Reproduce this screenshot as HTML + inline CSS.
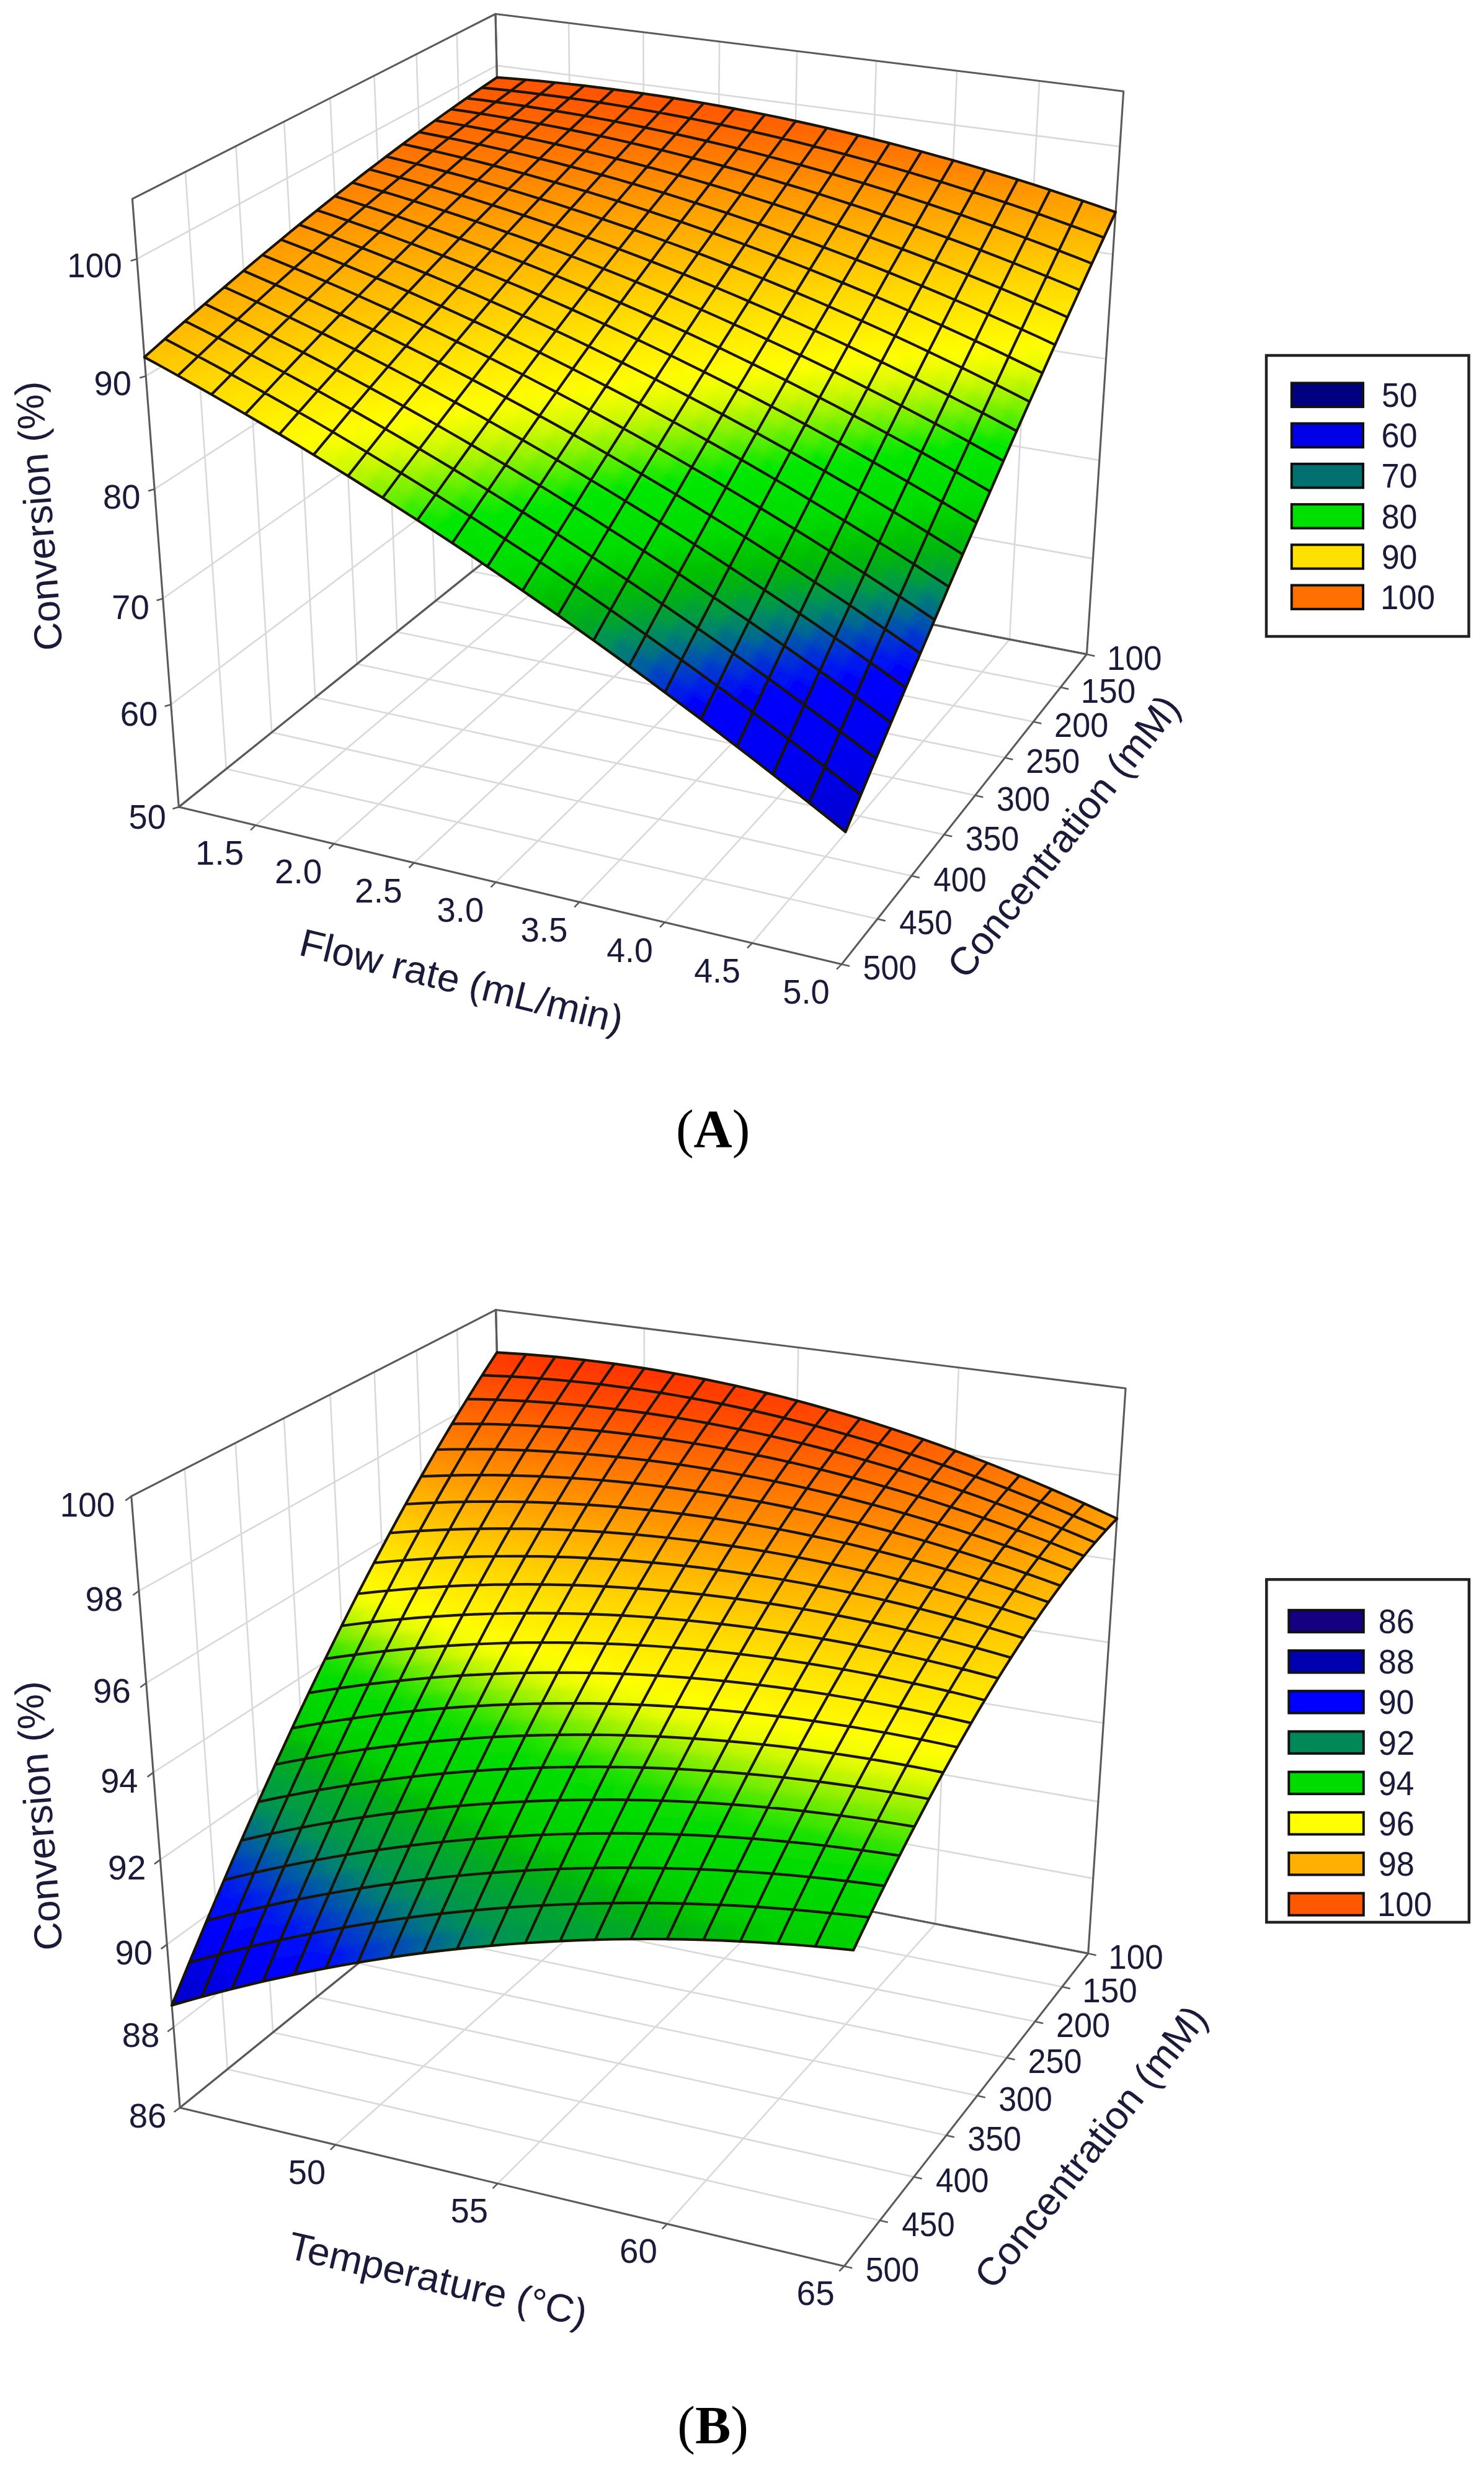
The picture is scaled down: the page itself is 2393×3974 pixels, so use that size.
<!DOCTYPE html>
<html><head><meta charset="utf-8"><title>Figure</title>
<style>html,body{margin:0;padding:0;background:#fff}svg{display:block}text{font-family:'Liberation Sans', Arial, sans-serif}</style></head>
<body><svg width="2393" height="3974" viewBox="0 0 2393 3974">
<rect width="2393" height="3974" fill="#fff"/>
<g stroke-linecap="round"><line x1="928.4" y1="896.2" x2="412.1" y2="1330.4" stroke="#d9d9d9" stroke-width="2.6"/><line x1="1039.8" y1="917.6" x2="538.5" y2="1360.3" stroke="#d9d9d9" stroke-width="2.6"/><line x1="1153.1" y1="939.5" x2="667.6" y2="1391" stroke="#d9d9d9" stroke-width="2.6"/><line x1="1268.6" y1="961.7" x2="799.5" y2="1422.3" stroke="#d9d9d9" stroke-width="2.6"/><line x1="1386.2" y1="984.3" x2="934.3" y2="1454.3" stroke="#d9d9d9" stroke-width="2.6"/><line x1="1506" y1="1007.3" x2="1072.1" y2="1486.9" stroke="#d9d9d9" stroke-width="2.6"/><line x1="1628" y1="1030.8" x2="1213" y2="1520.4" stroke="#d9d9d9" stroke-width="2.6"/><line x1="761.7" y1="921.2" x2="1710.2" y2="1108" stroke="#d9d9d9" stroke-width="2.6"/><line x1="702.1" y1="968.9" x2="1666.3" y2="1163.6" stroke="#d9d9d9" stroke-width="2.6"/><line x1="640.2" y1="1018.7" x2="1620.4" y2="1221.6" stroke="#d9d9d9" stroke-width="2.6"/><line x1="575.6" y1="1070.5" x2="1572.4" y2="1282.2" stroke="#d9d9d9" stroke-width="2.6"/><line x1="508.3" y1="1124.5" x2="1522.3" y2="1345.6" stroke="#d9d9d9" stroke-width="2.6"/><line x1="438.2" y1="1180.8" x2="1469.8" y2="1412" stroke="#d9d9d9" stroke-width="2.6"/><line x1="364.9" y1="1239.6" x2="1414.8" y2="1481.6" stroke="#d9d9d9" stroke-width="2.6"/><line x1="761.7" y1="921.2" x2="736.6" y2="54.3" stroke="#d9d9d9" stroke-width="2.6"/><line x1="702.1" y1="968.9" x2="671.5" y2="87.4" stroke="#d9d9d9" stroke-width="2.6"/><line x1="640.2" y1="1018.7" x2="603.5" y2="122" stroke="#d9d9d9" stroke-width="2.6"/><line x1="575.6" y1="1070.5" x2="532.5" y2="158.1" stroke="#d9d9d9" stroke-width="2.6"/><line x1="508.3" y1="1124.5" x2="458.2" y2="195.9" stroke="#d9d9d9" stroke-width="2.6"/><line x1="438.2" y1="1180.8" x2="380.5" y2="235.5" stroke="#d9d9d9" stroke-width="2.6"/><line x1="364.9" y1="1239.6" x2="298.9" y2="277" stroke="#d9d9d9" stroke-width="2.6"/><line x1="815.6" y1="729.7" x2="275.7" y2="1135.7" stroke="#d9d9d9" stroke-width="2.6"/><line x1="812.1" y1="580.2" x2="262.6" y2="965" stroke="#d9d9d9" stroke-width="2.6"/><line x1="808.5" y1="426.4" x2="249.1" y2="788.6" stroke="#d9d9d9" stroke-width="2.6"/><line x1="804.7" y1="268.3" x2="235.2" y2="606.2" stroke="#d9d9d9" stroke-width="2.6"/><line x1="800.9" y1="105.6" x2="220.8" y2="417.4" stroke="#d9d9d9" stroke-width="2.6"/><line x1="928.4" y1="896.2" x2="917" y2="37" stroke="#d9d9d9" stroke-width="2.6"/><line x1="1039.8" y1="917.6" x2="1037.4" y2="51.9" stroke="#d9d9d9" stroke-width="2.6"/><line x1="1153.1" y1="939.5" x2="1160.1" y2="67" stroke="#d9d9d9" stroke-width="2.6"/><line x1="1268.6" y1="961.7" x2="1285.2" y2="82.4" stroke="#d9d9d9" stroke-width="2.6"/><line x1="1386.2" y1="984.3" x2="1412.9" y2="98.1" stroke="#d9d9d9" stroke-width="2.6"/><line x1="1506" y1="1007.3" x2="1543.1" y2="114.1" stroke="#d9d9d9" stroke-width="2.6"/><line x1="1628" y1="1030.8" x2="1676" y2="130.5" stroke="#d9d9d9" stroke-width="2.6"/><line x1="815.6" y1="729.7" x2="1762.4" y2="900.6" stroke="#d9d9d9" stroke-width="2.6"/><line x1="812.1" y1="580.2" x2="1772.8" y2="742" stroke="#d9d9d9" stroke-width="2.6"/><line x1="808.5" y1="426.4" x2="1783.5" y2="578.5" stroke="#d9d9d9" stroke-width="2.6"/><line x1="804.7" y1="268.3" x2="1794.5" y2="410" stroke="#d9d9d9" stroke-width="2.6"/><line x1="800.9" y1="105.6" x2="1805.9" y2="236.2" stroke="#d9d9d9" stroke-width="2.6"/></g>
<polygon points="819,875.2 1752.4,1054.7 1357.1,1554.6 288.3,1301" fill="none" stroke="#5a5a5a" stroke-width="3.1" stroke-linejoin="round"/>
<polygon points="819,875.2 288.3,1301 213.4,320.6 799,22.5" fill="none" stroke="#5a5a5a" stroke-width="3.1" stroke-linejoin="round"/>
<polygon points="819,875.2 1752.4,1054.7 1811.7,147.2 799,22.5" fill="none" stroke="#5a5a5a" stroke-width="3.1" stroke-linejoin="round"/>
<line x1="288.3" y1="1301" x2="278.3" y2="1304" stroke="#5a5a5a" stroke-width="2.6"/><line x1="275.7" y1="1135.7" x2="265.7" y2="1138.7" stroke="#5a5a5a" stroke-width="2.6"/><line x1="262.6" y1="965" x2="252.6" y2="968" stroke="#5a5a5a" stroke-width="2.6"/><line x1="249.1" y1="788.6" x2="239.1" y2="791.6" stroke="#5a5a5a" stroke-width="2.6"/><line x1="235.2" y1="606.2" x2="225.2" y2="609.2" stroke="#5a5a5a" stroke-width="2.6"/><line x1="220.8" y1="417.4" x2="210.8" y2="420.4" stroke="#5a5a5a" stroke-width="2.6"/><line x1="412.1" y1="1330.4" x2="404.1" y2="1338.4" stroke="#5a5a5a" stroke-width="2.6"/><line x1="538.5" y1="1360.3" x2="530.5" y2="1368.3" stroke="#5a5a5a" stroke-width="2.6"/><line x1="667.6" y1="1391" x2="659.6" y2="1399" stroke="#5a5a5a" stroke-width="2.6"/><line x1="799.5" y1="1422.3" x2="791.5" y2="1430.3" stroke="#5a5a5a" stroke-width="2.6"/><line x1="934.3" y1="1454.3" x2="926.3" y2="1462.3" stroke="#5a5a5a" stroke-width="2.6"/><line x1="1072.1" y1="1486.9" x2="1064.1" y2="1494.9" stroke="#5a5a5a" stroke-width="2.6"/><line x1="1213" y1="1520.4" x2="1205" y2="1528.4" stroke="#5a5a5a" stroke-width="2.6"/><line x1="1357.1" y1="1554.6" x2="1349.1" y2="1562.6" stroke="#5a5a5a" stroke-width="2.6"/><line x1="1752.4" y1="1054.7" x2="1765.4" y2="1057.7" stroke="#5a5a5a" stroke-width="2.6"/><line x1="1710.2" y1="1108" x2="1723.2" y2="1111" stroke="#5a5a5a" stroke-width="2.6"/><line x1="1666.3" y1="1163.6" x2="1679.3" y2="1166.6" stroke="#5a5a5a" stroke-width="2.6"/><line x1="1620.4" y1="1221.6" x2="1633.4" y2="1224.6" stroke="#5a5a5a" stroke-width="2.6"/><line x1="1572.4" y1="1282.2" x2="1585.4" y2="1285.2" stroke="#5a5a5a" stroke-width="2.6"/><line x1="1522.3" y1="1345.6" x2="1535.3" y2="1348.6" stroke="#5a5a5a" stroke-width="2.6"/><line x1="1469.8" y1="1412" x2="1482.8" y2="1415" stroke="#5a5a5a" stroke-width="2.6"/><line x1="1414.8" y1="1481.6" x2="1427.8" y2="1484.6" stroke="#5a5a5a" stroke-width="2.6"/><line x1="1357.1" y1="1554.6" x2="1370.1" y2="1557.6" stroke="#5a5a5a" stroke-width="2.6"/>
<defs><clipPath id="ca"><polygon points="801.4,124.8 824.6,126.6 847.9,128.5 871.3,130.7 894.7,133 918.3,135.5 942,138.2 965.8,141.1 989.6,144.1 1013.6,147.3 1037.6,150.8 1061.8,154.3 1086,158.1 1110.3,162.1 1134.8,166.2 1159.3,170.6 1183.9,175.1 1208.5,179.8 1233.3,184.7 1258.2,189.8 1283.1,195.1 1308.1,200.6 1333.2,206.2 1358.4,212.1 1383.7,218.1 1409.1,224.4 1434.5,230.8 1460.1,237.5 1485.7,244.3 1511.4,251.4 1537.1,258.6 1563,266 1588.9,273.7 1614.9,281.5 1641,289.5 1667.1,297.8 1693.3,306.2 1719.6,314.9 1746,323.7 1772.4,332.8 1798.9,342 1789.5,362.4 1780,383 1770.4,403.9 1760.7,424.9 1751,446.2 1741.2,467.7 1731.4,489.4 1721.4,511.3 1711.4,533.5 1701.3,555.8 1691.2,578.4 1681,601.3 1670.7,624.3 1660.3,647.6 1649.9,671.1 1639.4,694.9 1628.8,718.9 1618.1,743.1 1607.4,767.6 1596.6,792.4 1585.7,817.3 1574.7,842.5 1563.7,868 1552.5,893.7 1541.3,919.7 1530,945.9 1518.7,972.4 1507.2,999.2 1495.7,1026.2 1484.1,1053.5 1472.4,1081 1460.6,1108.8 1448.7,1136.9 1436.8,1165.2 1424.8,1193.8 1412.6,1222.7 1400.4,1251.9 1388.2,1281.4 1375.8,1311.1 1363.3,1341.1 1334,1317.7 1304.8,1294.4 1275.6,1271.4 1246.4,1248.6 1217.3,1225.9 1188.2,1203.6 1159.1,1181.4 1130.1,1159.4 1101.2,1137.7 1072.2,1116.2 1043.4,1094.9 1014.5,1073.8 985.8,1053 957.1,1032.4 928.4,1012 899.8,991.8 871.2,971.9 842.7,952.2 814.3,932.7 785.9,913.4 757.6,894.3 729.3,875.5 701.1,856.9 673,838.6 644.9,820.4 617,802.5 589,784.9 561.2,767.4 533.4,750.2 505.7,733.2 478.1,716.4 450.5,699.9 423,683.6 395.6,667.5 368.3,651.7 341,636 313.9,620.6 286.8,605.5 259.8,590.5 232.9,575.8 249.5,561 265.9,546.4 282.2,531.9 298.4,517.7 314.5,503.7 330.4,489.9 346.2,476.2 361.8,462.8 377.3,449.6 392.7,436.5 408,423.7 423.1,411 438.2,398.6 453.1,386.3 467.8,374.1 482.5,362.2 497,350.5 511.5,338.9 525.8,327.5 540,316.2 554.1,305.2 568,294.3 581.9,283.5 595.6,273 609.3,262.6 622.8,252.3 636.2,242.2 649.5,232.3 662.7,222.5 675.8,212.9 688.8,203.4 701.7,194.1 714.5,184.9 727.2,175.9 739.8,167 752.3,158.3 764.7,149.7 777,141.3 789.2,132.9"/></clipPath><filter id="fa" x="-5%" y="-5%" width="110%" height="110%"><feGaussianBlur stdDeviation="7"/><feComponentTransfer><feFuncA type="linear" slope="60" intercept="0"/></feComponentTransfer></filter></defs>
<g clip-path="url(#ca)"><g filter="url(#fa)" stroke-width="1.2" stroke-linejoin="round"><path d="M801.4 124.8L824.6 126.6L812.5 135L789.2 132.9z" fill="#ff5700" stroke="#ff5700"/><path d="M824.6 126.6L847.9 128.5L835.9 137.3L812.5 135z" fill="#ff5600" stroke="#ff5600"/><path d="M847.9 128.5L871.3 130.7L859.4 139.7L835.9 137.3z" fill="#ff5500" stroke="#ff5500"/><path d="M871.3 130.7L894.7 133L882.9 142.3L859.4 139.7z" fill="#ff5400" stroke="#ff5400"/><path d="M894.7 133L918.3 135.5L906.6 145.1L882.9 142.3z" fill="#ff5400" stroke="#ff5400"/><path d="M918.3 135.5L942 138.2L930.3 148.1L906.6 145.1z" fill="#ff5400" stroke="#ff5400"/><path d="M942 138.2L965.8 141.1L954.2 151.2L930.3 148.1z" fill="#ff5300" stroke="#ff5300"/><path d="M965.8 141.1L989.6 144.1L978.1 154.6L954.2 151.2z" fill="#ff5300" stroke="#ff5300"/><path d="M989.6 144.1L1013.6 147.3L1002.1 158.1L978.1 154.6z" fill="#ff5300" stroke="#ff5300"/><path d="M1013.6 147.3L1037.6 150.8L1026.3 161.8L1002.1 158.1z" fill="#ff5400" stroke="#ff5400"/><path d="M1037.6 150.8L1061.8 154.3L1050.5 165.7L1026.3 161.8z" fill="#ff5400" stroke="#ff5400"/><path d="M1061.8 154.3L1086 158.1L1074.8 169.7L1050.5 165.7z" fill="#ff5500" stroke="#ff5500"/><path d="M1086 158.1L1110.3 162.1L1099.2 174L1074.8 169.7z" fill="#ff5600" stroke="#ff5600"/><path d="M1110.3 162.1L1134.8 166.2L1123.7 178.4L1099.2 174z" fill="#ff5700" stroke="#ff5700"/><path d="M1134.8 166.2L1159.3 170.6L1148.2 183.1L1123.7 178.4z" fill="#ff5800" stroke="#ff5800"/><path d="M1159.3 170.6L1183.9 175.1L1172.9 187.9L1148.2 183.1z" fill="#ff5900" stroke="#ff5900"/><path d="M1183.9 175.1L1208.5 179.8L1197.6 192.9L1172.9 187.9z" fill="#ff5b00" stroke="#ff5b00"/><path d="M1208.5 179.8L1233.3 184.7L1222.5 198.1L1197.6 192.9z" fill="#ff5d00" stroke="#ff5d00"/><path d="M1233.3 184.7L1258.2 189.8L1247.4 203.5L1222.5 198.1z" fill="#ff5f00" stroke="#ff5f00"/><path d="M1258.2 189.8L1283.1 195.1L1272.4 209.1L1247.4 203.5z" fill="#ff6100" stroke="#ff6100"/><path d="M1283.1 195.1L1308.1 200.6L1297.5 214.9L1272.4 209.1z" fill="#ff6300" stroke="#ff6300"/><path d="M1308.1 200.6L1333.2 206.2L1322.7 220.9L1297.5 214.9z" fill="#ff6600" stroke="#ff6600"/><path d="M1333.2 206.2L1358.4 212.1L1348 227L1322.7 220.9z" fill="#ff6800" stroke="#ff6800"/><path d="M1358.4 212.1L1383.7 218.1L1373.3 233.4L1348 227z" fill="#ff6b00" stroke="#ff6b00"/><path d="M1383.7 218.1L1409.1 224.4L1398.7 240L1373.3 233.4z" fill="#ff6e00" stroke="#ff6e00"/><path d="M1409.1 224.4L1434.5 230.8L1424.2 246.7L1398.7 240z" fill="#ff7100" stroke="#ff7100"/><path d="M1434.5 230.8L1460.1 237.5L1449.8 253.7L1424.2 246.7z" fill="#ff7400" stroke="#ff7400"/><path d="M1460.1 237.5L1485.7 244.3L1475.5 260.9L1449.8 253.7z" fill="#ff7700" stroke="#ff7700"/><path d="M1485.7 244.3L1511.4 251.4L1501.3 268.2L1475.5 260.9z" fill="#ff7b00" stroke="#ff7b00"/><path d="M1511.4 251.4L1537.1 258.6L1527.1 275.8L1501.3 268.2z" fill="#ff7e00" stroke="#ff7e00"/><path d="M1537.1 258.6L1563 266L1553 283.5L1527.1 275.8z" fill="#ff8200" stroke="#ff8200"/><path d="M1563 266L1588.9 273.7L1579 291.5L1553 283.5z" fill="#ff8600" stroke="#ff8600"/><path d="M1588.9 273.7L1614.9 281.5L1605 299.6L1579 291.5z" fill="#ff8b00" stroke="#ff8b00"/><path d="M1614.9 281.5L1641 289.5L1631.2 308L1605 299.6z" fill="#ff8f00" stroke="#ff8f00"/><path d="M1641 289.5L1667.1 297.8L1657.4 316.6L1631.2 308z" fill="#ff9300" stroke="#ff9300"/><path d="M1667.1 297.8L1693.3 306.2L1683.6 325.3L1657.4 316.6z" fill="#ff9800" stroke="#ff9800"/><path d="M1693.3 306.2L1719.6 314.9L1710 334.3L1683.6 325.3z" fill="#ff9c00" stroke="#ff9c00"/><path d="M1719.6 314.9L1746 323.7L1736.4 343.5L1710 334.3z" fill="#ffa000" stroke="#ffa000"/><path d="M1746 323.7L1772.4 332.8L1762.9 352.8L1736.4 343.5z" fill="#ffa400" stroke="#ffa400"/><path d="M1772.4 332.8L1798.9 342L1789.5 362.4L1762.9 352.8z" fill="#ffa800" stroke="#ffa800"/><path d="M789.2 132.9L812.5 135L800.4 143.6L777 141.3z" fill="#ff5900" stroke="#ff5900"/><path d="M812.5 135L835.9 137.3L823.8 146.2L800.4 143.6z" fill="#ff5800" stroke="#ff5800"/><path d="M835.9 137.3L859.4 139.7L847.4 148.9L823.8 146.2z" fill="#ff5700" stroke="#ff5700"/><path d="M859.4 139.7L882.9 142.3L871 151.8L847.4 148.9z" fill="#ff5700" stroke="#ff5700"/><path d="M882.9 142.3L906.6 145.1L894.7 154.8L871 151.8z" fill="#ff5700" stroke="#ff5700"/><path d="M906.6 145.1L930.3 148.1L918.6 158.1L894.7 154.8z" fill="#ff5700" stroke="#ff5700"/><path d="M930.3 148.1L954.2 151.2L942.5 161.5L918.6 158.1z" fill="#ff5700" stroke="#ff5700"/><path d="M954.2 151.2L978.1 154.6L966.5 165.2L942.5 161.5z" fill="#ff5700" stroke="#ff5700"/><path d="M978.1 154.6L1002.1 158.1L990.6 169L966.5 165.2z" fill="#ff5700" stroke="#ff5700"/><path d="M1002.1 158.1L1026.3 161.8L1014.8 173L990.6 169z" fill="#ff5800" stroke="#ff5800"/><path d="M1026.3 161.8L1050.5 165.7L1039.1 177.2L1014.8 173z" fill="#ff5900" stroke="#ff5900"/><path d="M1050.5 165.7L1074.8 169.7L1063.4 181.5L1039.1 177.2z" fill="#ff5a00" stroke="#ff5a00"/><path d="M1074.8 169.7L1099.2 174L1087.9 186.1L1063.4 181.5z" fill="#ff5b00" stroke="#ff5b00"/><path d="M1099.2 174L1123.7 178.4L1112.5 190.8L1087.9 186.1z" fill="#ff5c00" stroke="#ff5c00"/><path d="M1123.7 178.4L1148.2 183.1L1137.1 195.8L1112.5 190.8z" fill="#ff5e00" stroke="#ff5e00"/><path d="M1148.2 183.1L1172.9 187.9L1161.8 200.9L1137.1 195.8z" fill="#ff5f00" stroke="#ff5f00"/><path d="M1172.9 187.9L1197.6 192.9L1186.7 206.2L1161.8 200.9z" fill="#ff6100" stroke="#ff6100"/><path d="M1197.6 192.9L1222.5 198.1L1211.6 211.7L1186.7 206.2z" fill="#ff6300" stroke="#ff6300"/><path d="M1222.5 198.1L1247.4 203.5L1236.6 217.4L1211.6 211.7z" fill="#ff6600" stroke="#ff6600"/><path d="M1247.4 203.5L1272.4 209.1L1261.6 223.3L1236.6 217.4z" fill="#ff6800" stroke="#ff6800"/><path d="M1272.4 209.1L1297.5 214.9L1286.8 229.4L1261.6 223.3z" fill="#ff6a00" stroke="#ff6a00"/><path d="M1297.5 214.9L1322.7 220.9L1312.1 235.7L1286.8 229.4z" fill="#ff6d00" stroke="#ff6d00"/><path d="M1322.7 220.9L1348 227L1337.4 242.2L1312.1 235.7z" fill="#ff7000" stroke="#ff7000"/><path d="M1348 227L1373.3 233.4L1362.8 248.9L1337.4 242.2z" fill="#ff7300" stroke="#ff7300"/><path d="M1373.3 233.4L1398.7 240L1388.3 255.7L1362.8 248.9z" fill="#ff7600" stroke="#ff7600"/><path d="M1398.7 240L1424.2 246.7L1413.9 262.8L1388.3 255.7z" fill="#ff7900" stroke="#ff7900"/><path d="M1424.2 246.7L1449.8 253.7L1439.5 270.1L1413.9 262.8z" fill="#ff7c00" stroke="#ff7c00"/><path d="M1449.8 253.7L1475.5 260.9L1465.3 277.6L1439.5 270.1z" fill="#ff8000" stroke="#ff8000"/><path d="M1475.5 260.9L1501.3 268.2L1491.1 285.2L1465.3 277.6z" fill="#ff8400" stroke="#ff8400"/><path d="M1501.3 268.2L1527.1 275.8L1517 293.1L1491.1 285.2z" fill="#ff8800" stroke="#ff8800"/><path d="M1527.1 275.8L1553 283.5L1542.9 301.2L1517 293.1z" fill="#ff8c00" stroke="#ff8c00"/><path d="M1553 283.5L1579 291.5L1569 309.5L1542.9 301.2z" fill="#ff9000" stroke="#ff9000"/><path d="M1579 291.5L1605 299.6L1595.1 318L1569 309.5z" fill="#ff9500" stroke="#ff9500"/><path d="M1605 299.6L1631.2 308L1621.3 326.6L1595.1 318z" fill="#ff9900" stroke="#ff9900"/><path d="M1631.2 308L1657.4 316.6L1647.6 335.5L1621.3 326.6z" fill="#ff9d00" stroke="#ff9d00"/><path d="M1657.4 316.6L1683.6 325.3L1673.9 344.6L1647.6 335.5z" fill="#ffa000" stroke="#ffa000"/><path d="M1683.6 325.3L1710 334.3L1700.3 353.9L1673.9 344.6z" fill="#ffa400" stroke="#ffa400"/><path d="M1710 334.3L1736.4 343.5L1726.8 363.4L1700.3 353.9z" fill="#ffa800" stroke="#ffa800"/><path d="M1736.4 343.5L1762.9 352.8L1753.3 373.1L1726.8 363.4z" fill="#ffad00" stroke="#ffad00"/><path d="M1762.9 352.8L1789.5 362.4L1780 383L1753.3 373.1z" fill="#ffb100" stroke="#ffb100"/><path d="M777 141.3L800.4 143.6L788.2 152.4L764.7 149.7z" fill="#ff5b00" stroke="#ff5b00"/><path d="M800.4 143.6L823.8 146.2L811.7 155.2L788.2 152.4z" fill="#ff5a00" stroke="#ff5a00"/><path d="M823.8 146.2L847.4 148.9L835.3 158.2L811.7 155.2z" fill="#ff5a00" stroke="#ff5a00"/><path d="M847.4 148.9L871 151.8L859 161.4L835.3 158.2z" fill="#ff5a00" stroke="#ff5a00"/><path d="M871 151.8L894.7 154.8L882.8 164.7L859 161.4z" fill="#ff5a00" stroke="#ff5a00"/><path d="M894.7 154.8L918.6 158.1L906.7 168.3L882.8 164.7z" fill="#ff5a00" stroke="#ff5a00"/><path d="M918.6 158.1L942.5 161.5L930.7 172L906.7 168.3z" fill="#ff5a00" stroke="#ff5a00"/><path d="M942.5 161.5L966.5 165.2L954.8 175.9L930.7 172z" fill="#ff5b00" stroke="#ff5b00"/><path d="M966.5 165.2L990.6 169L978.9 180L954.8 175.9z" fill="#ff5b00" stroke="#ff5b00"/><path d="M990.6 169L1014.8 173L1003.2 184.3L978.9 180z" fill="#ff5c00" stroke="#ff5c00"/><path d="M1014.8 173L1039.1 177.2L1027.6 188.8L1003.2 184.3z" fill="#ff5d00" stroke="#ff5d00"/><path d="M1039.1 177.2L1063.4 181.5L1052 193.5L1027.6 188.8z" fill="#ff5f00" stroke="#ff5f00"/><path d="M1063.4 181.5L1087.9 186.1L1076.6 198.3L1052 193.5z" fill="#ff6000" stroke="#ff6000"/><path d="M1087.9 186.1L1112.5 190.8L1101.2 203.4L1076.6 198.3z" fill="#ff6200" stroke="#ff6200"/><path d="M1112.5 190.8L1137.1 195.8L1125.9 208.6L1101.2 203.4z" fill="#ff6300" stroke="#ff6300"/><path d="M1137.1 195.8L1161.8 200.9L1150.7 214L1125.9 208.6z" fill="#ff6500" stroke="#ff6500"/><path d="M1161.8 200.9L1186.7 206.2L1175.6 219.7L1150.7 214z" fill="#ff6700" stroke="#ff6700"/><path d="M1186.7 206.2L1211.6 211.7L1200.6 225.5L1175.6 219.7z" fill="#ff6a00" stroke="#ff6a00"/><path d="M1211.6 211.7L1236.6 217.4L1225.6 231.5L1200.6 225.5z" fill="#ff6c00" stroke="#ff6c00"/><path d="M1236.6 217.4L1261.6 223.3L1250.8 237.7L1225.6 231.5z" fill="#ff6f00" stroke="#ff6f00"/><path d="M1261.6 223.3L1286.8 229.4L1276 244.1L1250.8 237.7z" fill="#ff7100" stroke="#ff7100"/><path d="M1286.8 229.4L1312.1 235.7L1301.3 250.7L1276 244.1z" fill="#ff7400" stroke="#ff7400"/><path d="M1312.1 235.7L1337.4 242.2L1326.7 257.5L1301.3 250.7z" fill="#ff7700" stroke="#ff7700"/><path d="M1337.4 242.2L1362.8 248.9L1352.2 264.5L1326.7 257.5z" fill="#ff7a00" stroke="#ff7a00"/><path d="M1362.8 248.9L1388.3 255.7L1377.8 271.7L1352.2 264.5z" fill="#ff7e00" stroke="#ff7e00"/><path d="M1388.3 255.7L1413.9 262.8L1403.4 279.1L1377.8 271.7z" fill="#ff8100" stroke="#ff8100"/><path d="M1413.9 262.8L1439.5 270.1L1429.1 286.7L1403.4 279.1z" fill="#ff8500" stroke="#ff8500"/><path d="M1439.5 270.1L1465.3 277.6L1454.9 294.5L1429.1 286.7z" fill="#ff8900" stroke="#ff8900"/><path d="M1465.3 277.6L1491.1 285.2L1480.8 302.5L1454.9 294.5z" fill="#ff8d00" stroke="#ff8d00"/><path d="M1491.1 285.2L1517 293.1L1506.8 310.7L1480.8 302.5z" fill="#ff9100" stroke="#ff9100"/><path d="M1517 293.1L1542.9 301.2L1532.8 319.1L1506.8 310.7z" fill="#ff9500" stroke="#ff9500"/><path d="M1542.9 301.2L1569 309.5L1558.9 327.7L1532.8 319.1z" fill="#ff9900" stroke="#ff9900"/><path d="M1569 309.5L1595.1 318L1585.1 336.5L1558.9 327.7z" fill="#ff9d00" stroke="#ff9d00"/><path d="M1595.1 318L1621.3 326.6L1611.4 345.5L1585.1 336.5z" fill="#ffa100" stroke="#ffa100"/><path d="M1621.3 326.6L1647.6 335.5L1637.7 354.7L1611.4 345.5z" fill="#ffa500" stroke="#ffa500"/><path d="M1647.6 335.5L1673.9 344.6L1664.1 364.1L1637.7 354.7z" fill="#ffa900" stroke="#ffa900"/><path d="M1673.9 344.6L1700.3 353.9L1690.6 373.8L1664.1 364.1z" fill="#ffad00" stroke="#ffad00"/><path d="M1700.3 353.9L1726.8 363.4L1717.1 383.6L1690.6 373.8z" fill="#ffb100" stroke="#ffb100"/><path d="M1726.8 363.4L1753.3 373.1L1743.7 393.6L1717.1 383.6z" fill="#ffb600" stroke="#ffb600"/><path d="M1753.3 373.1L1780 383L1770.4 403.9L1743.7 393.6z" fill="#ffba00" stroke="#ffba00"/><path d="M764.7 149.7L788.2 152.4L775.8 161.2L752.3 158.3z" fill="#ff5d00" stroke="#ff5d00"/><path d="M788.2 152.4L811.7 155.2L799.4 164.3L775.8 161.2z" fill="#ff5d00" stroke="#ff5d00"/><path d="M811.7 155.2L835.3 158.2L823.1 167.6L799.4 164.3z" fill="#ff5d00" stroke="#ff5d00"/><path d="M835.3 158.2L859 161.4L846.9 171.1L823.1 167.6z" fill="#ff5d00" stroke="#ff5d00"/><path d="M859 161.4L882.8 164.7L870.8 174.8L846.9 171.1z" fill="#ff5d00" stroke="#ff5d00"/><path d="M882.8 164.7L906.7 168.3L894.8 178.6L870.8 174.8z" fill="#ff5d00" stroke="#ff5d00"/><path d="M906.7 168.3L930.7 172L918.8 182.6L894.8 178.6z" fill="#ff5e00" stroke="#ff5e00"/><path d="M930.7 172L954.8 175.9L943 186.8L918.8 182.6z" fill="#ff5f00" stroke="#ff5f00"/><path d="M954.8 175.9L978.9 180L967.2 191.2L943 186.8z" fill="#ff6000" stroke="#ff6000"/><path d="M978.9 180L1003.2 184.3L991.6 195.8L967.2 191.2z" fill="#ff6100" stroke="#ff6100"/><path d="M1003.2 184.3L1027.6 188.8L1016 200.6L991.6 195.8z" fill="#ff6200" stroke="#ff6200"/><path d="M1027.6 188.8L1052 193.5L1040.5 205.6L1016 200.6z" fill="#ff6400" stroke="#ff6400"/><path d="M1052 193.5L1076.6 198.3L1065.1 210.7L1040.5 205.6z" fill="#ff6500" stroke="#ff6500"/><path d="M1076.6 198.3L1101.2 203.4L1089.8 216.1L1065.1 210.7z" fill="#ff6700" stroke="#ff6700"/><path d="M1101.2 203.4L1125.9 208.6L1114.6 221.6L1089.8 216.1z" fill="#ff6900" stroke="#ff6900"/><path d="M1125.9 208.6L1150.7 214L1139.5 227.4L1114.6 221.6z" fill="#ff6b00" stroke="#ff6b00"/><path d="M1150.7 214L1175.6 219.7L1164.5 233.3L1139.5 227.4z" fill="#ff6d00" stroke="#ff6d00"/><path d="M1175.6 219.7L1200.6 225.5L1189.5 239.4L1164.5 233.3z" fill="#ff7000" stroke="#ff7000"/><path d="M1200.6 225.5L1225.6 231.5L1214.6 245.8L1189.5 239.4z" fill="#ff7300" stroke="#ff7300"/><path d="M1225.6 231.5L1250.8 237.7L1239.9 252.3L1214.6 245.8z" fill="#ff7500" stroke="#ff7500"/><path d="M1250.8 237.7L1276 244.1L1265.2 259L1239.9 252.3z" fill="#ff7800" stroke="#ff7800"/><path d="M1276 244.1L1301.3 250.7L1290.5 265.9L1265.2 259z" fill="#ff7b00" stroke="#ff7b00"/><path d="M1301.3 250.7L1326.7 257.5L1316 273L1290.5 265.9z" fill="#ff7f00" stroke="#ff7f00"/><path d="M1326.7 257.5L1352.2 264.5L1341.6 280.3L1316 273z" fill="#ff8200" stroke="#ff8200"/><path d="M1352.2 264.5L1377.8 271.7L1367.2 287.9L1341.6 280.3z" fill="#ff8600" stroke="#ff8600"/><path d="M1377.8 271.7L1403.4 279.1L1392.9 295.6L1367.2 287.9z" fill="#ff8900" stroke="#ff8900"/><path d="M1403.4 279.1L1429.1 286.7L1418.7 303.5L1392.9 295.6z" fill="#ff8d00" stroke="#ff8d00"/><path d="M1429.1 286.7L1454.9 294.5L1444.5 311.6L1418.7 303.5z" fill="#ff9200" stroke="#ff9200"/><path d="M1454.9 294.5L1480.8 302.5L1470.5 319.9L1444.5 311.6z" fill="#ff9600" stroke="#ff9600"/><path d="M1480.8 302.5L1506.8 310.7L1496.5 328.4L1470.5 319.9z" fill="#ff9a00" stroke="#ff9a00"/><path d="M1506.8 310.7L1532.8 319.1L1522.6 337.2L1496.5 328.4z" fill="#ff9d00" stroke="#ff9d00"/><path d="M1532.8 319.1L1558.9 327.7L1548.8 346.1L1522.6 337.2z" fill="#ffa100" stroke="#ffa100"/><path d="M1558.9 327.7L1585.1 336.5L1575 355.2L1548.8 346.1z" fill="#ffa500" stroke="#ffa500"/><path d="M1585.1 336.5L1611.4 345.5L1601.3 364.6L1575 355.2z" fill="#ffa900" stroke="#ffa900"/><path d="M1611.4 345.5L1637.7 354.7L1627.7 374.1L1601.3 364.6z" fill="#ffad00" stroke="#ffad00"/><path d="M1637.7 354.7L1664.1 364.1L1654.2 383.9L1627.7 374.1z" fill="#ffb100" stroke="#ffb100"/><path d="M1664.1 364.1L1690.6 373.8L1680.7 393.8L1654.2 383.9z" fill="#ffb500" stroke="#ffb500"/><path d="M1690.6 373.8L1717.1 383.6L1707.3 404L1680.7 393.8z" fill="#ffba00" stroke="#ffba00"/><path d="M1717.1 383.6L1743.7 393.6L1734 414.3L1707.3 404z" fill="#ffbe00" stroke="#ffbe00"/><path d="M1743.7 393.6L1770.4 403.9L1760.7 424.9L1734 414.3z" fill="#ffc300" stroke="#ffc300"/><path d="M752.3 158.3L775.8 161.2L763.4 170.2L739.8 167z" fill="#ff5f00" stroke="#ff5f00"/><path d="M775.8 161.2L799.4 164.3L787.1 173.6L763.4 170.2z" fill="#ff5f00" stroke="#ff5f00"/><path d="M799.4 164.3L823.1 167.6L810.8 177.2L787.1 173.6z" fill="#ff5f00" stroke="#ff5f00"/><path d="M823.1 167.6L846.9 171.1L834.7 181L810.8 177.2z" fill="#ff6000" stroke="#ff6000"/><path d="M846.9 171.1L870.8 174.8L858.7 184.9L834.7 181z" fill="#ff6000" stroke="#ff6000"/><path d="M870.8 174.8L894.8 178.6L882.7 189.1L858.7 184.9z" fill="#ff6100" stroke="#ff6100"/><path d="M894.8 178.6L918.8 182.6L906.8 193.4L882.7 189.1z" fill="#ff6200" stroke="#ff6200"/><path d="M918.8 182.6L943 186.8L931.1 197.9L906.8 193.4z" fill="#ff6300" stroke="#ff6300"/><path d="M943 186.8L967.2 191.2L955.4 202.6L931.1 197.9z" fill="#ff6400" stroke="#ff6400"/><path d="M967.2 191.2L991.6 195.8L979.8 207.5L955.4 202.6z" fill="#ff6500" stroke="#ff6500"/><path d="M991.6 195.8L1016 200.6L1004.3 212.6L979.8 207.5z" fill="#ff6700" stroke="#ff6700"/><path d="M1016 200.6L1040.5 205.6L1028.9 217.9L1004.3 212.6z" fill="#ff6900" stroke="#ff6900"/><path d="M1040.5 205.6L1065.1 210.7L1053.6 223.3L1028.9 217.9z" fill="#ff6b00" stroke="#ff6b00"/><path d="M1065.1 210.7L1089.8 216.1L1078.4 229L1053.6 223.3z" fill="#ff6d00" stroke="#ff6d00"/><path d="M1089.8 216.1L1114.6 221.6L1103.2 234.8L1078.4 229z" fill="#ff6f00" stroke="#ff6f00"/><path d="M1114.6 221.6L1139.5 227.4L1128.2 240.9L1103.2 234.8z" fill="#ff7100" stroke="#ff7100"/><path d="M1139.5 227.4L1164.5 233.3L1153.2 247.1L1128.2 240.9z" fill="#ff7400" stroke="#ff7400"/><path d="M1164.5 233.3L1189.5 239.4L1178.3 253.6L1153.2 247.1z" fill="#ff7600" stroke="#ff7600"/><path d="M1189.5 239.4L1214.6 245.8L1203.5 260.2L1178.3 253.6z" fill="#ff7900" stroke="#ff7900"/><path d="M1214.6 245.8L1239.9 252.3L1228.8 267L1203.5 260.2z" fill="#ff7c00" stroke="#ff7c00"/><path d="M1239.9 252.3L1265.2 259L1254.2 274.1L1228.8 267z" fill="#ff7f00" stroke="#ff7f00"/><path d="M1265.2 259L1290.5 265.9L1279.7 281.3L1254.2 274.1z" fill="#ff8300" stroke="#ff8300"/><path d="M1290.5 265.9L1316 273L1305.2 288.7L1279.7 281.3z" fill="#ff8600" stroke="#ff8600"/><path d="M1316 273L1341.6 280.3L1330.8 296.4L1305.2 288.7z" fill="#ff8a00" stroke="#ff8a00"/><path d="M1341.6 280.3L1367.2 287.9L1356.5 304.2L1330.8 296.4z" fill="#ff8e00" stroke="#ff8e00"/><path d="M1367.2 287.9L1392.9 295.6L1382.3 312.2L1356.5 304.2z" fill="#ff9200" stroke="#ff9200"/><path d="M1392.9 295.6L1418.7 303.5L1408.1 320.5L1382.3 312.2z" fill="#ff9600" stroke="#ff9600"/><path d="M1418.7 303.5L1444.5 311.6L1434.1 328.9L1408.1 320.5z" fill="#ff9a00" stroke="#ff9a00"/><path d="M1444.5 311.6L1470.5 319.9L1460.1 337.6L1434.1 328.9z" fill="#ff9d00" stroke="#ff9d00"/><path d="M1470.5 319.9L1496.5 328.4L1486.2 346.4L1460.1 337.6z" fill="#ffa100" stroke="#ffa100"/><path d="M1496.5 328.4L1522.6 337.2L1512.3 355.4L1486.2 346.4z" fill="#ffa500" stroke="#ffa500"/><path d="M1522.6 337.2L1548.8 346.1L1538.6 364.7L1512.3 355.4z" fill="#ffa900" stroke="#ffa900"/><path d="M1548.8 346.1L1575 355.2L1564.9 374.2L1538.6 364.7z" fill="#ffad00" stroke="#ffad00"/><path d="M1575 355.2L1601.3 364.6L1591.3 383.8L1564.9 374.2z" fill="#ffb100" stroke="#ffb100"/><path d="M1601.3 364.6L1627.7 374.1L1617.7 393.7L1591.3 383.8z" fill="#ffb500" stroke="#ffb500"/><path d="M1627.7 374.1L1654.2 383.9L1644.2 403.8L1617.7 393.7z" fill="#ffb900" stroke="#ffb900"/><path d="M1654.2 383.9L1680.7 393.8L1670.8 414.1L1644.2 403.8z" fill="#ffbe00" stroke="#ffbe00"/><path d="M1680.7 393.8L1707.3 404L1697.5 424.6L1670.8 414.1z" fill="#ffc300" stroke="#ffc300"/><path d="M1707.3 404L1734 414.3L1724.2 435.3L1697.5 424.6z" fill="#ffc700" stroke="#ffc700"/><path d="M1734 414.3L1760.7 424.9L1751 446.2L1724.2 435.3z" fill="#ffcc00" stroke="#ffcc00"/><path d="M739.8 167L763.4 170.2L750.9 179.4L727.2 175.9z" fill="#ff6100" stroke="#ff6100"/><path d="M763.4 170.2L787.1 173.6L774.6 183.1L750.9 179.4z" fill="#ff6200" stroke="#ff6200"/><path d="M787.1 173.6L810.8 177.2L798.5 187L774.6 183.1z" fill="#ff6200" stroke="#ff6200"/><path d="M810.8 177.2L834.7 181L822.4 191L798.5 187z" fill="#ff6300" stroke="#ff6300"/><path d="M834.7 181L858.7 184.9L846.4 195.3L822.4 191z" fill="#ff6300" stroke="#ff6300"/><path d="M858.7 184.9L882.7 189.1L870.6 199.7L846.4 195.3z" fill="#ff6400" stroke="#ff6400"/><path d="M882.7 189.1L906.8 193.4L894.8 204.3L870.6 199.7z" fill="#ff6600" stroke="#ff6600"/><path d="M906.8 193.4L931.1 197.9L919.1 209.1L894.8 204.3z" fill="#ff6700" stroke="#ff6700"/><path d="M931.1 197.9L955.4 202.6L943.5 214.1L919.1 209.1z" fill="#ff6800" stroke="#ff6800"/><path d="M955.4 202.6L979.8 207.5L968 219.3L943.5 214.1z" fill="#ff6a00" stroke="#ff6a00"/><path d="M979.8 207.5L1004.3 212.6L992.6 224.7L968 219.3z" fill="#ff6c00" stroke="#ff6c00"/><path d="M1004.3 212.6L1028.9 217.9L1017.2 230.3L992.6 224.7z" fill="#ff6e00" stroke="#ff6e00"/><path d="M1028.9 217.9L1053.6 223.3L1042 236.1L1017.2 230.3z" fill="#ff7000" stroke="#ff7000"/><path d="M1053.6 223.3L1078.4 229L1066.8 242L1042 236.1z" fill="#ff7200" stroke="#ff7200"/><path d="M1078.4 229L1103.2 234.8L1091.8 248.2L1066.8 242z" fill="#ff7400" stroke="#ff7400"/><path d="M1103.2 234.8L1128.2 240.9L1116.8 254.6L1091.8 248.2z" fill="#ff7700" stroke="#ff7700"/><path d="M1128.2 240.9L1153.2 247.1L1141.9 261.1L1116.8 254.6z" fill="#ff7a00" stroke="#ff7a00"/><path d="M1153.2 247.1L1178.3 253.6L1167.1 267.9L1141.9 261.1z" fill="#ff7d00" stroke="#ff7d00"/><path d="M1178.3 253.6L1203.5 260.2L1192.4 274.8L1167.1 267.9z" fill="#ff8000" stroke="#ff8000"/><path d="M1203.5 260.2L1228.8 267L1217.7 282L1192.4 274.8z" fill="#ff8300" stroke="#ff8300"/><path d="M1228.8 267L1254.2 274.1L1243.2 289.3L1217.7 282z" fill="#ff8600" stroke="#ff8600"/><path d="M1254.2 274.1L1279.7 281.3L1268.7 296.9L1243.2 289.3z" fill="#ff8a00" stroke="#ff8a00"/><path d="M1279.7 281.3L1305.2 288.7L1294.3 304.6L1268.7 296.9z" fill="#ff8e00" stroke="#ff8e00"/><path d="M1305.2 288.7L1330.8 296.4L1320 312.6L1294.3 304.6z" fill="#ff9200" stroke="#ff9200"/><path d="M1330.8 296.4L1356.5 304.2L1345.8 320.7L1320 312.6z" fill="#ff9600" stroke="#ff9600"/><path d="M1356.5 304.2L1382.3 312.2L1371.6 329.1L1345.8 320.7z" fill="#ff9a00" stroke="#ff9a00"/><path d="M1382.3 312.2L1408.1 320.5L1397.5 337.6L1371.6 329.1z" fill="#ff9d00" stroke="#ff9d00"/><path d="M1408.1 320.5L1434.1 328.9L1423.5 346.4L1397.5 337.6z" fill="#ffa100" stroke="#ffa100"/><path d="M1434.1 328.9L1460.1 337.6L1449.6 355.4L1423.5 346.4z" fill="#ffa400" stroke="#ffa400"/><path d="M1460.1 337.6L1486.2 346.4L1475.8 364.6L1449.6 355.4z" fill="#ffa800" stroke="#ffa800"/><path d="M1486.2 346.4L1512.3 355.4L1502 373.9L1475.8 364.6z" fill="#ffac00" stroke="#ffac00"/><path d="M1512.3 355.4L1538.6 364.7L1528.3 383.5L1502 373.9z" fill="#ffb000" stroke="#ffb000"/><path d="M1538.6 364.7L1564.9 374.2L1554.7 393.3L1528.3 383.5z" fill="#ffb500" stroke="#ffb500"/><path d="M1564.9 374.2L1591.3 383.8L1581.1 403.3L1554.7 393.3z" fill="#ffb900" stroke="#ffb900"/><path d="M1591.3 383.8L1617.7 393.7L1607.6 413.5L1581.1 403.3z" fill="#ffbd00" stroke="#ffbd00"/><path d="M1617.7 393.7L1644.2 403.8L1634.2 423.9L1607.6 413.5z" fill="#ffc200" stroke="#ffc200"/><path d="M1644.2 403.8L1670.8 414.1L1660.9 434.6L1634.2 423.9z" fill="#ffc700" stroke="#ffc700"/><path d="M1670.8 414.1L1697.5 424.6L1687.6 445.4L1660.9 434.6z" fill="#ffcc00" stroke="#ffcc00"/><path d="M1697.5 424.6L1724.2 435.3L1714.4 456.4L1687.6 445.4z" fill="#ffd100" stroke="#ffd100"/><path d="M1724.2 435.3L1751 446.2L1741.2 467.7L1714.4 456.4z" fill="#ffd600" stroke="#ffd600"/><path d="M727.2 175.9L750.9 179.4L738.3 188.7L714.5 184.9z" fill="#ff6400" stroke="#ff6400"/><path d="M750.9 179.4L774.6 183.1L762.1 192.7L738.3 188.7z" fill="#ff6400" stroke="#ff6400"/><path d="M774.6 183.1L798.5 187L786 196.9L762.1 192.7z" fill="#ff6500" stroke="#ff6500"/><path d="M798.5 187L822.4 191L810 201.2L786 196.9z" fill="#ff6600" stroke="#ff6600"/><path d="M822.4 191L846.4 195.3L834.1 205.8L810 201.2z" fill="#ff6700" stroke="#ff6700"/><path d="M846.4 195.3L870.6 199.7L858.3 210.5L834.1 205.8z" fill="#ff6800" stroke="#ff6800"/><path d="M870.6 199.7L894.8 204.3L882.6 215.4L858.3 210.5z" fill="#ff6900" stroke="#ff6900"/><path d="M894.8 204.3L919.1 209.1L907 220.5L882.6 215.4z" fill="#ff6b00" stroke="#ff6b00"/><path d="M919.1 209.1L943.5 214.1L931.5 225.8L907 220.5z" fill="#ff6c00" stroke="#ff6c00"/><path d="M943.5 214.1L968 219.3L956.1 231.3L931.5 225.8z" fill="#ff6e00" stroke="#ff6e00"/><path d="M968 219.3L992.6 224.7L980.7 237L956.1 231.3z" fill="#ff7000" stroke="#ff7000"/><path d="M992.6 224.7L1017.2 230.3L1005.5 242.9L980.7 237z" fill="#ff7200" stroke="#ff7200"/><path d="M1017.2 230.3L1042 236.1L1030.3 249L1005.5 242.9z" fill="#ff7500" stroke="#ff7500"/><path d="M1042 236.1L1066.8 242L1055.2 255.3L1030.3 249z" fill="#ff7700" stroke="#ff7700"/><path d="M1066.8 242L1091.8 248.2L1080.2 261.8L1055.2 255.3z" fill="#ff7a00" stroke="#ff7a00"/><path d="M1091.8 248.2L1116.8 254.6L1105.3 268.4L1080.2 261.8z" fill="#ff7d00" stroke="#ff7d00"/><path d="M1116.8 254.6L1141.9 261.1L1130.5 275.3L1105.3 268.4z" fill="#ff8000" stroke="#ff8000"/><path d="M1141.9 261.1L1167.1 267.9L1155.8 282.4L1130.5 275.3z" fill="#ff8300" stroke="#ff8300"/><path d="M1167.1 267.9L1192.4 274.8L1181.1 289.6L1155.8 282.4z" fill="#ff8600" stroke="#ff8600"/><path d="M1192.4 274.8L1217.7 282L1206.6 297.1L1181.1 289.6z" fill="#ff8a00" stroke="#ff8a00"/><path d="M1217.7 282L1243.2 289.3L1232.1 304.8L1206.6 297.1z" fill="#ff8e00" stroke="#ff8e00"/><path d="M1243.2 289.3L1268.7 296.9L1257.7 312.6L1232.1 304.8z" fill="#ff9200" stroke="#ff9200"/><path d="M1268.7 296.9L1294.3 304.6L1283.3 320.7L1257.7 312.6z" fill="#ff9600" stroke="#ff9600"/><path d="M1294.3 304.6L1320 312.6L1309.1 329L1283.3 320.7z" fill="#ff9900" stroke="#ff9900"/><path d="M1320 312.6L1345.8 320.7L1334.9 337.5L1309.1 329z" fill="#ff9d00" stroke="#ff9d00"/><path d="M1345.8 320.7L1371.6 329.1L1360.8 346.1L1334.9 337.5z" fill="#ffa000" stroke="#ffa000"/><path d="M1371.6 329.1L1397.5 337.6L1386.8 355L1360.8 346.1z" fill="#ffa400" stroke="#ffa400"/><path d="M1397.5 337.6L1423.5 346.4L1412.9 364.1L1386.8 355z" fill="#ffa800" stroke="#ffa800"/><path d="M1423.5 346.4L1449.6 355.4L1439 373.4L1412.9 364.1z" fill="#ffac00" stroke="#ffac00"/><path d="M1449.6 355.4L1475.8 364.6L1465.3 382.9L1439 373.4z" fill="#ffb000" stroke="#ffb000"/><path d="M1475.8 364.6L1502 373.9L1491.6 392.6L1465.3 382.9z" fill="#ffb400" stroke="#ffb400"/><path d="M1502 373.9L1528.3 383.5L1517.9 402.5L1491.6 392.6z" fill="#ffb800" stroke="#ffb800"/><path d="M1528.3 383.5L1554.7 393.3L1544.4 412.7L1517.9 402.5z" fill="#ffbc00" stroke="#ffbc00"/><path d="M1554.7 393.3L1581.1 403.3L1570.9 423L1544.4 412.7z" fill="#ffc100" stroke="#ffc100"/><path d="M1581.1 403.3L1607.6 413.5L1597.4 433.5L1570.9 423z" fill="#ffc600" stroke="#ffc600"/><path d="M1607.6 413.5L1634.2 423.9L1624.1 444.3L1597.4 433.5z" fill="#ffca00" stroke="#ffca00"/><path d="M1634.2 423.9L1660.9 434.6L1650.8 455.2L1624.1 444.3z" fill="#ffcf00" stroke="#ffcf00"/><path d="M1660.9 434.6L1687.6 445.4L1677.6 466.4L1650.8 455.2z" fill="#ffd400" stroke="#ffd400"/><path d="M1687.6 445.4L1714.4 456.4L1704.4 477.8L1677.6 466.4z" fill="#ffd900" stroke="#ffd900"/><path d="M1714.4 456.4L1741.2 467.7L1731.4 489.4L1704.4 477.8z" fill="#ffde00" stroke="#ffde00"/><path d="M714.5 184.9L738.3 188.7L725.5 198.2L701.7 194.1z" fill="#ff6600" stroke="#ff6600"/><path d="M738.3 188.7L762.1 192.7L749.5 202.5L725.5 198.2z" fill="#ff6700" stroke="#ff6700"/><path d="M762.1 192.7L786 196.9L773.5 206.9L749.5 202.5z" fill="#ff6800" stroke="#ff6800"/><path d="M786 196.9L810 201.2L797.6 211.6L773.5 206.9z" fill="#ff6900" stroke="#ff6900"/><path d="M810 201.2L834.1 205.8L821.7 216.4L797.6 211.6z" fill="#ff6a00" stroke="#ff6a00"/><path d="M834.1 205.8L858.3 210.5L846 221.5L821.7 216.4z" fill="#ff6b00" stroke="#ff6b00"/><path d="M858.3 210.5L882.6 215.4L870.4 226.7L846 221.5z" fill="#ff6d00" stroke="#ff6d00"/><path d="M882.6 215.4L907 220.5L894.9 232.1L870.4 226.7z" fill="#ff6f00" stroke="#ff6f00"/><path d="M907 220.5L931.5 225.8L919.4 237.7L894.9 232.1z" fill="#ff7100" stroke="#ff7100"/><path d="M931.5 225.8L956.1 231.3L944.1 243.5L919.4 237.7z" fill="#ff7300" stroke="#ff7300"/><path d="M956.1 231.3L980.7 237L968.8 249.5L944.1 243.5z" fill="#ff7500" stroke="#ff7500"/><path d="M980.7 237L1005.5 242.9L993.6 255.7L968.8 249.5z" fill="#ff7700" stroke="#ff7700"/><path d="M1005.5 242.9L1030.3 249L1018.5 262.1L993.6 255.7z" fill="#ff7a00" stroke="#ff7a00"/><path d="M1030.3 249L1055.2 255.3L1043.5 268.7L1018.5 262.1z" fill="#ff7d00" stroke="#ff7d00"/><path d="M1055.2 255.3L1080.2 261.8L1068.6 275.5L1043.5 268.7z" fill="#ff8000" stroke="#ff8000"/><path d="M1080.2 261.8L1105.3 268.4L1093.8 282.5L1068.6 275.5z" fill="#ff8300" stroke="#ff8300"/><path d="M1105.3 268.4L1130.5 275.3L1119 289.6L1093.8 282.5z" fill="#ff8600" stroke="#ff8600"/><path d="M1130.5 275.3L1155.8 282.4L1144.4 297L1119 289.6z" fill="#ff8a00" stroke="#ff8a00"/><path d="M1155.8 282.4L1181.1 289.6L1169.8 304.6L1144.4 297z" fill="#ff8d00" stroke="#ff8d00"/><path d="M1181.1 289.6L1206.6 297.1L1195.3 312.4L1169.8 304.6z" fill="#ff9100" stroke="#ff9100"/><path d="M1206.6 297.1L1232.1 304.8L1220.9 320.4L1195.3 312.4z" fill="#ff9500" stroke="#ff9500"/><path d="M1232.1 304.8L1257.7 312.6L1246.5 328.6L1220.9 320.4z" fill="#ff9900" stroke="#ff9900"/><path d="M1257.7 312.6L1283.3 320.7L1272.3 337L1246.5 328.6z" fill="#ff9c00" stroke="#ff9c00"/><path d="M1283.3 320.7L1309.1 329L1298.1 345.6L1272.3 337z" fill="#ffa000" stroke="#ffa000"/><path d="M1309.1 329L1334.9 337.5L1324 354.4L1298.1 345.6z" fill="#ffa300" stroke="#ffa300"/><path d="M1334.9 337.5L1360.8 346.1L1350 363.4L1324 354.4z" fill="#ffa700" stroke="#ffa700"/><path d="M1360.8 346.1L1386.8 355L1376.1 372.6L1350 363.4z" fill="#ffab00" stroke="#ffab00"/><path d="M1386.8 355L1412.9 364.1L1402.2 382L1376.1 372.6z" fill="#ffaf00" stroke="#ffaf00"/><path d="M1412.9 364.1L1439 373.4L1428.4 391.7L1402.2 382z" fill="#ffb300" stroke="#ffb300"/><path d="M1439 373.4L1465.3 382.9L1454.7 401.5L1428.4 391.7z" fill="#ffb700" stroke="#ffb700"/><path d="M1465.3 382.9L1491.6 392.6L1481.1 411.5L1454.7 401.5z" fill="#ffbb00" stroke="#ffbb00"/><path d="M1491.6 392.6L1517.9 402.5L1507.5 421.8L1481.1 411.5z" fill="#ffc000" stroke="#ffc000"/><path d="M1517.9 402.5L1544.4 412.7L1534 432.2L1507.5 421.8z" fill="#ffc400" stroke="#ffc400"/><path d="M1544.4 412.7L1570.9 423L1560.6 442.9L1534 432.2z" fill="#ffc900" stroke="#ffc900"/><path d="M1570.9 423L1597.4 433.5L1587.2 453.8L1560.6 442.9z" fill="#ffce00" stroke="#ffce00"/><path d="M1597.4 433.5L1624.1 444.3L1613.9 464.9L1587.2 453.8z" fill="#ffd300" stroke="#ffd300"/><path d="M1624.1 444.3L1650.8 455.2L1640.7 476.2L1613.9 464.9z" fill="#ffd800" stroke="#ffd800"/><path d="M1650.8 455.2L1677.6 466.4L1667.5 487.7L1640.7 476.2z" fill="#ffdd00" stroke="#ffdd00"/><path d="M1677.6 466.4L1704.4 477.8L1694.4 499.4L1667.5 487.7z" fill="#ffe100" stroke="#ffe100"/><path d="M1704.4 477.8L1731.4 489.4L1721.4 511.3L1694.4 499.4z" fill="#ffe600" stroke="#ffe600"/><path d="M701.7 194.1L725.5 198.2L712.7 207.8L688.8 203.4z" fill="#ff6800" stroke="#ff6800"/><path d="M725.5 198.2L749.5 202.5L736.7 212.4L712.7 207.8z" fill="#ff6900" stroke="#ff6900"/><path d="M749.5 202.5L773.5 206.9L760.8 217.1L736.7 212.4z" fill="#ff6a00" stroke="#ff6a00"/><path d="M773.5 206.9L797.6 211.6L785 222.1L760.8 217.1z" fill="#ff6c00" stroke="#ff6c00"/><path d="M797.6 211.6L821.7 216.4L809.2 227.2L785 222.1z" fill="#ff6d00" stroke="#ff6d00"/><path d="M821.7 216.4L846 221.5L833.6 232.6L809.2 227.2z" fill="#ff6f00" stroke="#ff6f00"/><path d="M846 221.5L870.4 226.7L858 238.1L833.6 232.6z" fill="#ff7100" stroke="#ff7100"/><path d="M870.4 226.7L894.9 232.1L882.6 243.8L858 238.1z" fill="#ff7300" stroke="#ff7300"/><path d="M894.9 232.1L919.4 237.7L907.2 249.7L882.6 243.8z" fill="#ff7500" stroke="#ff7500"/><path d="M919.4 237.7L944.1 243.5L931.9 255.9L907.2 249.7z" fill="#ff7700" stroke="#ff7700"/><path d="M944.1 243.5L968.8 249.5L956.8 262.2L931.9 255.9z" fill="#ff7a00" stroke="#ff7a00"/><path d="M968.8 249.5L993.6 255.7L981.7 268.7L956.8 262.2z" fill="#ff7d00" stroke="#ff7d00"/><path d="M993.6 255.7L1018.5 262.1L1006.6 275.4L981.7 268.7z" fill="#ff7f00" stroke="#ff7f00"/><path d="M1018.5 262.1L1043.5 268.7L1031.7 282.3L1006.6 275.4z" fill="#ff8200" stroke="#ff8200"/><path d="M1043.5 268.7L1068.6 275.5L1056.9 289.4L1031.7 282.3z" fill="#ff8600" stroke="#ff8600"/><path d="M1068.6 275.5L1093.8 282.5L1082.1 296.7L1056.9 289.4z" fill="#ff8900" stroke="#ff8900"/><path d="M1093.8 282.5L1119 289.6L1107.4 304.2L1082.1 296.7z" fill="#ff8d00" stroke="#ff8d00"/><path d="M1119 289.6L1144.4 297L1132.9 311.9L1107.4 304.2z" fill="#ff9000" stroke="#ff9000"/><path d="M1144.4 297L1169.8 304.6L1158.4 319.8L1132.9 311.9z" fill="#ff9400" stroke="#ff9400"/><path d="M1169.8 304.6L1195.3 312.4L1183.9 327.9L1158.4 319.8z" fill="#ff9800" stroke="#ff9800"/><path d="M1195.3 312.4L1220.9 320.4L1209.6 336.2L1183.9 327.9z" fill="#ff9b00" stroke="#ff9b00"/><path d="M1220.9 320.4L1246.5 328.6L1235.3 344.7L1209.6 336.2z" fill="#ff9f00" stroke="#ff9f00"/><path d="M1246.5 328.6L1272.3 337L1261.2 353.5L1235.3 344.7z" fill="#ffa200" stroke="#ffa200"/><path d="M1272.3 337L1298.1 345.6L1287.1 362.4L1261.2 353.5z" fill="#ffa600" stroke="#ffa600"/><path d="M1298.1 345.6L1324 354.4L1313 371.5L1287.1 362.4z" fill="#ffaa00" stroke="#ffaa00"/><path d="M1324 354.4L1350 363.4L1339.1 380.9L1313 371.5z" fill="#ffae00" stroke="#ffae00"/><path d="M1350 363.4L1376.1 372.6L1365.2 390.4L1339.1 380.9z" fill="#ffb200" stroke="#ffb200"/><path d="M1376.1 372.6L1402.2 382L1391.4 400.1L1365.2 390.4z" fill="#ffb600" stroke="#ffb600"/><path d="M1402.2 382L1428.4 391.7L1417.7 410.1L1391.4 400.1z" fill="#ffba00" stroke="#ffba00"/><path d="M1428.4 391.7L1454.7 401.5L1444.1 420.3L1417.7 410.1z" fill="#ffbe00" stroke="#ffbe00"/><path d="M1454.7 401.5L1481.1 411.5L1470.5 430.6L1444.1 420.3z" fill="#ffc300" stroke="#ffc300"/><path d="M1481.1 411.5L1507.5 421.8L1497 441.2L1470.5 430.6z" fill="#ffc800" stroke="#ffc800"/><path d="M1507.5 421.8L1534 432.2L1523.5 452L1497 441.2z" fill="#ffcc00" stroke="#ffcc00"/><path d="M1534 432.2L1560.6 442.9L1550.2 463L1523.5 452z" fill="#ffd100" stroke="#ffd100"/><path d="M1560.6 442.9L1587.2 453.8L1576.9 474.2L1550.2 463z" fill="#ffd600" stroke="#ffd600"/><path d="M1587.2 453.8L1613.9 464.9L1603.7 485.7L1576.9 474.2z" fill="#ffdb00" stroke="#ffdb00"/><path d="M1613.9 464.9L1640.7 476.2L1630.5 497.3L1603.7 485.7z" fill="#ffe000" stroke="#ffe000"/><path d="M1640.7 476.2L1667.5 487.7L1657.4 509.1L1630.5 497.3z" fill="#ffe400" stroke="#ffe400"/><path d="M1667.5 487.7L1694.4 499.4L1684.4 521.2L1657.4 509.1z" fill="#ffe900" stroke="#ffe900"/><path d="M1694.4 499.4L1721.4 511.3L1711.4 533.5L1684.4 521.2z" fill="#ffee00" stroke="#ffee00"/><path d="M688.8 203.4L712.7 207.8L699.8 217.6L675.8 212.9z" fill="#ff6b00" stroke="#ff6b00"/><path d="M712.7 207.8L736.7 212.4L723.9 222.4L699.8 217.6z" fill="#ff6c00" stroke="#ff6c00"/><path d="M736.7 212.4L760.8 217.1L748 227.5L723.9 222.4z" fill="#ff6d00" stroke="#ff6d00"/><path d="M760.8 217.1L785 222.1L772.3 232.8L748 227.5z" fill="#ff6f00" stroke="#ff6f00"/><path d="M785 222.1L809.2 227.2L796.6 238.2L772.3 232.8z" fill="#ff7100" stroke="#ff7100"/><path d="M809.2 227.2L833.6 232.6L821.1 243.8L796.6 238.2z" fill="#ff7300" stroke="#ff7300"/><path d="M833.6 232.6L858 238.1L845.6 249.7L821.1 243.8z" fill="#ff7500" stroke="#ff7500"/><path d="M858 238.1L882.6 243.8L870.2 255.7L845.6 249.7z" fill="#ff7700" stroke="#ff7700"/><path d="M882.6 243.8L907.2 249.7L894.9 261.9L870.2 255.7z" fill="#ff7900" stroke="#ff7900"/><path d="M907.2 249.7L931.9 255.9L919.7 268.4L894.9 261.9z" fill="#ff7c00" stroke="#ff7c00"/><path d="M931.9 255.9L956.8 262.2L944.6 275L919.7 268.4z" fill="#ff7f00" stroke="#ff7f00"/><path d="M956.8 262.2L981.7 268.7L969.6 281.8L944.6 275z" fill="#ff8200" stroke="#ff8200"/><path d="M981.7 268.7L1006.6 275.4L994.7 288.8L969.6 281.8z" fill="#ff8500" stroke="#ff8500"/><path d="M1006.6 275.4L1031.7 282.3L1019.8 296.1L994.7 288.8z" fill="#ff8800" stroke="#ff8800"/><path d="M1031.7 282.3L1056.9 289.4L1045.1 303.5L1019.8 296.1z" fill="#ff8c00" stroke="#ff8c00"/><path d="M1056.9 289.4L1082.1 296.7L1070.4 311.1L1045.1 303.5z" fill="#ff8f00" stroke="#ff8f00"/><path d="M1082.1 296.7L1107.4 304.2L1095.8 318.9L1070.4 311.1z" fill="#ff9300" stroke="#ff9300"/><path d="M1107.4 304.2L1132.9 311.9L1121.3 326.9L1095.8 318.9z" fill="#ff9700" stroke="#ff9700"/><path d="M1132.9 311.9L1158.4 319.8L1146.8 335.2L1121.3 326.9z" fill="#ff9a00" stroke="#ff9a00"/><path d="M1158.4 319.8L1183.9 327.9L1172.5 343.6L1146.8 335.2z" fill="#ff9e00" stroke="#ff9e00"/><path d="M1183.9 327.9L1209.6 336.2L1198.2 352.2L1172.5 343.6z" fill="#ffa100" stroke="#ffa100"/><path d="M1209.6 336.2L1235.3 344.7L1224 361.1L1198.2 352.2z" fill="#ffa500" stroke="#ffa500"/><path d="M1235.3 344.7L1261.2 353.5L1249.9 370.1L1224 361.1z" fill="#ffa800" stroke="#ffa800"/><path d="M1261.2 353.5L1287.1 362.4L1275.9 379.4L1249.9 370.1z" fill="#ffac00" stroke="#ffac00"/><path d="M1287.1 362.4L1313 371.5L1302 388.8L1275.9 379.4z" fill="#ffb000" stroke="#ffb000"/><path d="M1313 371.5L1339.1 380.9L1328.1 398.5L1302 388.8z" fill="#ffb400" stroke="#ffb400"/><path d="M1339.1 380.9L1365.2 390.4L1354.3 408.4L1328.1 398.5z" fill="#ffb900" stroke="#ffb900"/><path d="M1365.2 390.4L1391.4 400.1L1380.6 418.5L1354.3 408.4z" fill="#ffbd00" stroke="#ffbd00"/><path d="M1391.4 400.1L1417.7 410.1L1406.9 428.8L1380.6 418.5z" fill="#ffc100" stroke="#ffc100"/><path d="M1417.7 410.1L1444.1 420.3L1433.3 439.3L1406.9 428.8z" fill="#ffc600" stroke="#ffc600"/><path d="M1444.1 420.3L1470.5 430.6L1459.8 450L1433.3 439.3z" fill="#ffcb00" stroke="#ffcb00"/><path d="M1470.5 430.6L1497 441.2L1486.4 460.9L1459.8 450z" fill="#ffd000" stroke="#ffd000"/><path d="M1497 441.2L1523.5 452L1513 472L1486.4 460.9z" fill="#ffd500" stroke="#ffd500"/><path d="M1523.5 452L1550.2 463L1539.7 483.4L1513 472z" fill="#ffd900" stroke="#ffd900"/><path d="M1550.2 463L1576.9 474.2L1566.5 494.9L1539.7 483.4z" fill="#ffde00" stroke="#ffde00"/><path d="M1576.9 474.2L1603.7 485.7L1593.3 506.7L1566.5 494.9z" fill="#ffe200" stroke="#ffe200"/><path d="M1603.7 485.7L1630.5 497.3L1620.2 518.6L1593.3 506.7z" fill="#ffe700" stroke="#ffe700"/><path d="M1630.5 497.3L1657.4 509.1L1647.2 530.8L1620.2 518.6z" fill="#ffec00" stroke="#ffec00"/><path d="M1657.4 509.1L1684.4 521.2L1674.2 543.2L1647.2 530.8z" fill="#fff100" stroke="#fff100"/><path d="M1684.4 521.2L1711.4 533.5L1701.3 555.8L1674.2 543.2z" fill="#fff600" stroke="#fff600"/><path d="M675.8 212.9L699.8 217.6L686.8 227.5L662.7 222.5z" fill="#ff6d00" stroke="#ff6d00"/><path d="M699.8 217.6L723.9 222.4L710.9 232.7L686.8 227.5z" fill="#ff6e00" stroke="#ff6e00"/><path d="M723.9 222.4L748 227.5L735.2 238L710.9 232.7z" fill="#ff7000" stroke="#ff7000"/><path d="M748 227.5L772.3 232.8L759.5 243.6L735.2 238z" fill="#ff7200" stroke="#ff7200"/><path d="M772.3 232.8L796.6 238.2L783.9 249.3L759.5 243.6z" fill="#ff7400" stroke="#ff7400"/><path d="M796.6 238.2L821.1 243.8L808.5 255.3L783.9 249.3z" fill="#ff7600" stroke="#ff7600"/><path d="M821.1 243.8L845.6 249.7L833.1 261.4L808.5 255.3z" fill="#ff7900" stroke="#ff7900"/><path d="M845.6 249.7L870.2 255.7L857.8 267.8L833.1 261.4z" fill="#ff7b00" stroke="#ff7b00"/><path d="M870.2 255.7L894.9 261.9L882.6 274.3L857.8 267.8z" fill="#ff7e00" stroke="#ff7e00"/><path d="M894.9 261.9L919.7 268.4L907.5 281.1L882.6 274.3z" fill="#ff8100" stroke="#ff8100"/><path d="M919.7 268.4L944.6 275L932.4 288L907.5 281.1z" fill="#ff8400" stroke="#ff8400"/><path d="M944.6 275L969.6 281.8L957.5 295.1L932.4 288z" fill="#ff8700" stroke="#ff8700"/><path d="M969.6 281.8L994.7 288.8L982.6 302.5L957.5 295.1z" fill="#ff8a00" stroke="#ff8a00"/><path d="M994.7 288.8L1019.8 296.1L1007.8 310L982.6 302.5z" fill="#ff8e00" stroke="#ff8e00"/><path d="M1019.8 296.1L1045.1 303.5L1033.2 317.7L1007.8 310z" fill="#ff9200" stroke="#ff9200"/><path d="M1045.1 303.5L1070.4 311.1L1058.6 325.7L1033.2 317.7z" fill="#ff9500" stroke="#ff9500"/><path d="M1070.4 311.1L1095.8 318.9L1084 333.8L1058.6 325.7z" fill="#ff9900" stroke="#ff9900"/><path d="M1095.8 318.9L1121.3 326.9L1109.6 342.2L1084 333.8z" fill="#ff9c00" stroke="#ff9c00"/><path d="M1121.3 326.9L1146.8 335.2L1135.2 350.7L1109.6 342.2z" fill="#ffa000" stroke="#ffa000"/><path d="M1146.8 335.2L1172.5 343.6L1161 359.5L1135.2 350.7z" fill="#ffa300" stroke="#ffa300"/><path d="M1172.5 343.6L1198.2 352.2L1186.8 368.5L1161 359.5z" fill="#ffa700" stroke="#ffa700"/><path d="M1198.2 352.2L1224 361.1L1212.7 377.6L1186.8 368.5z" fill="#ffab00" stroke="#ffab00"/><path d="M1224 361.1L1249.9 370.1L1238.6 387L1212.7 377.6z" fill="#ffaf00" stroke="#ffaf00"/><path d="M1249.9 370.1L1275.9 379.4L1264.7 396.6L1238.6 387z" fill="#ffb300" stroke="#ffb300"/><path d="M1275.9 379.4L1302 388.8L1290.8 406.4L1264.7 396.6z" fill="#ffb700" stroke="#ffb700"/><path d="M1302 388.8L1328.1 398.5L1317 416.4L1290.8 406.4z" fill="#ffbb00" stroke="#ffbb00"/><path d="M1328.1 398.5L1354.3 408.4L1343.3 426.6L1317 416.4z" fill="#ffbf00" stroke="#ffbf00"/><path d="M1354.3 408.4L1380.6 418.5L1369.6 437L1343.3 426.6z" fill="#ffc400" stroke="#ffc400"/><path d="M1380.6 418.5L1406.9 428.8L1396 447.6L1369.6 437z" fill="#ffc900" stroke="#ffc900"/><path d="M1406.9 428.8L1433.3 439.3L1422.5 458.5L1396 447.6z" fill="#ffce00" stroke="#ffce00"/><path d="M1433.3 439.3L1459.8 450L1449.1 469.5L1422.5 458.5z" fill="#ffd200" stroke="#ffd200"/><path d="M1459.8 450L1486.4 460.9L1475.7 480.8L1449.1 469.5z" fill="#ffd800" stroke="#ffd800"/><path d="M1486.4 460.9L1513 472L1502.4 492.2L1475.7 480.8z" fill="#ffdc00" stroke="#ffdc00"/><path d="M1513 472L1539.7 483.4L1529.2 503.9L1502.4 492.2z" fill="#ffe100" stroke="#ffe100"/><path d="M1539.7 483.4L1566.5 494.9L1556 515.8L1529.2 503.9z" fill="#ffe500" stroke="#ffe500"/><path d="M1566.5 494.9L1593.3 506.7L1582.9 527.9L1556 515.8z" fill="#ffea00" stroke="#ffea00"/><path d="M1593.3 506.7L1620.2 518.6L1609.9 540.2L1582.9 527.9z" fill="#ffef00" stroke="#ffef00"/><path d="M1620.2 518.6L1647.2 530.8L1636.9 552.7L1609.9 540.2z" fill="#fff400" stroke="#fff400"/><path d="M1647.2 530.8L1674.2 543.2L1664 565.5L1636.9 552.7z" fill="#fff900" stroke="#fff900"/><path d="M1674.2 543.2L1701.3 555.8L1691.2 578.4L1664 565.5z" fill="#fffe00" stroke="#fffe00"/><path d="M662.7 222.5L686.8 227.5L673.7 237.6L649.5 232.3z" fill="#ff6f00" stroke="#ff6f00"/><path d="M686.8 227.5L710.9 232.7L697.9 243.1L673.7 237.6z" fill="#ff7100" stroke="#ff7100"/><path d="M710.9 232.7L735.2 238L722.2 248.7L697.9 243.1z" fill="#ff7300" stroke="#ff7300"/><path d="M735.2 238L759.5 243.6L746.6 254.6L722.2 248.7z" fill="#ff7500" stroke="#ff7500"/><path d="M759.5 243.6L783.9 249.3L771.2 260.6L746.6 254.6z" fill="#ff7800" stroke="#ff7800"/><path d="M783.9 249.3L808.5 255.3L795.8 266.9L771.2 260.6z" fill="#ff7a00" stroke="#ff7a00"/><path d="M808.5 255.3L833.1 261.4L820.4 273.4L795.8 266.9z" fill="#ff7d00" stroke="#ff7d00"/><path d="M833.1 261.4L857.8 267.8L845.2 280L820.4 273.4z" fill="#ff7f00" stroke="#ff7f00"/><path d="M857.8 267.8L882.6 274.3L870.1 286.9L845.2 280z" fill="#ff8200" stroke="#ff8200"/><path d="M882.6 274.3L907.5 281.1L895.1 293.9L870.1 286.9z" fill="#ff8500" stroke="#ff8500"/><path d="M907.5 281.1L932.4 288L920.1 301.2L895.1 293.9z" fill="#ff8900" stroke="#ff8900"/><path d="M932.4 288L957.5 295.1L945.2 308.6L920.1 301.2z" fill="#ff8c00" stroke="#ff8c00"/><path d="M957.5 295.1L982.6 302.5L970.5 316.3L945.2 308.6z" fill="#ff9000" stroke="#ff9000"/><path d="M982.6 302.5L1007.8 310L995.8 324.1L970.5 316.3z" fill="#ff9400" stroke="#ff9400"/><path d="M1007.8 310L1033.2 317.7L1021.2 332.2L995.8 324.1z" fill="#ff9800" stroke="#ff9800"/><path d="M1033.2 317.7L1058.6 325.7L1046.6 340.5L1021.2 332.2z" fill="#ff9b00" stroke="#ff9b00"/><path d="M1058.6 325.7L1084 333.8L1072.2 348.9L1046.6 340.5z" fill="#ff9e00" stroke="#ff9e00"/><path d="M1084 333.8L1109.6 342.2L1097.8 357.6L1072.2 348.9z" fill="#ffa200" stroke="#ffa200"/><path d="M1109.6 342.2L1135.2 350.7L1123.6 366.5L1097.8 357.6z" fill="#ffa500" stroke="#ffa500"/><path d="M1135.2 350.7L1161 359.5L1149.4 375.6L1123.6 366.5z" fill="#ffa900" stroke="#ffa900"/><path d="M1161 359.5L1186.8 368.5L1175.3 384.9L1149.4 375.6z" fill="#ffad00" stroke="#ffad00"/><path d="M1186.8 368.5L1212.7 377.6L1201.2 394.4L1175.3 384.9z" fill="#ffb100" stroke="#ffb100"/><path d="M1212.7 377.6L1238.6 387L1227.3 404.1L1201.2 394.4z" fill="#ffb500" stroke="#ffb500"/><path d="M1238.6 387L1264.7 396.6L1253.4 414L1227.3 404.1z" fill="#ffb900" stroke="#ffb900"/><path d="M1264.7 396.6L1290.8 406.4L1279.6 424.1L1253.4 414z" fill="#ffbd00" stroke="#ffbd00"/><path d="M1290.8 406.4L1317 416.4L1305.8 434.4L1279.6 424.1z" fill="#ffc200" stroke="#ffc200"/><path d="M1317 416.4L1343.3 426.6L1332.2 445L1305.8 434.4z" fill="#ffc700" stroke="#ffc700"/><path d="M1343.3 426.6L1369.6 437L1358.6 455.7L1332.2 445z" fill="#ffcb00" stroke="#ffcb00"/><path d="M1369.6 437L1396 447.6L1385.1 466.7L1358.6 455.7z" fill="#ffd000" stroke="#ffd000"/><path d="M1396 447.6L1422.5 458.5L1411.7 477.9L1385.1 466.7z" fill="#ffd500" stroke="#ffd500"/><path d="M1422.5 458.5L1449.1 469.5L1438.3 489.3L1411.7 477.9z" fill="#ffda00" stroke="#ffda00"/><path d="M1449.1 469.5L1475.7 480.8L1465 500.9L1438.3 489.3z" fill="#ffde00" stroke="#ffde00"/><path d="M1475.7 480.8L1502.4 492.2L1491.8 512.7L1465 500.9z" fill="#ffe300" stroke="#ffe300"/><path d="M1502.4 492.2L1529.2 503.9L1518.6 524.7L1491.8 512.7z" fill="#ffe800" stroke="#ffe800"/><path d="M1529.2 503.9L1556 515.8L1545.5 536.9L1518.6 524.7z" fill="#ffec00" stroke="#ffec00"/><path d="M1556 515.8L1582.9 527.9L1572.5 549.4L1545.5 536.9z" fill="#fff100" stroke="#fff100"/><path d="M1582.9 527.9L1609.9 540.2L1599.5 562L1572.5 549.4z" fill="#fff600" stroke="#fff600"/><path d="M1609.9 540.2L1636.9 552.7L1626.6 574.9L1599.5 562z" fill="#fffb00" stroke="#fffb00"/><path d="M1636.9 552.7L1664 565.5L1653.8 588L1626.6 574.9z" fill="#fafe00" stroke="#fafe00"/><path d="M1664 565.5L1691.2 578.4L1681 601.3L1653.8 588z" fill="#ebfd00" stroke="#ebfd00"/><path d="M649.5 232.3L673.7 237.6L660.4 247.8L636.2 242.2z" fill="#ff7200" stroke="#ff7200"/><path d="M673.7 237.6L697.9 243.1L684.7 253.6L660.4 247.8z" fill="#ff7400" stroke="#ff7400"/><path d="M697.9 243.1L722.2 248.7L709.2 259.6L684.7 253.6z" fill="#ff7600" stroke="#ff7600"/><path d="M722.2 248.7L746.6 254.6L733.7 265.7L709.2 259.6z" fill="#ff7900" stroke="#ff7900"/><path d="M746.6 254.6L771.2 260.6L758.3 272.1L733.7 265.7z" fill="#ff7b00" stroke="#ff7b00"/><path d="M771.2 260.6L795.8 266.9L782.9 278.7L758.3 272.1z" fill="#ff7e00" stroke="#ff7e00"/><path d="M795.8 266.9L820.4 273.4L807.7 285.5L782.9 278.7z" fill="#ff8100" stroke="#ff8100"/><path d="M820.4 273.4L845.2 280L832.6 292.4L807.7 285.5z" fill="#ff8400" stroke="#ff8400"/><path d="M845.2 280L870.1 286.9L857.5 299.6L832.6 292.4z" fill="#ff8700" stroke="#ff8700"/><path d="M870.1 286.9L895.1 293.9L882.6 307L857.5 299.6z" fill="#ff8a00" stroke="#ff8a00"/><path d="M895.1 293.9L920.1 301.2L907.7 314.5L882.6 307z" fill="#ff8e00" stroke="#ff8e00"/><path d="M920.1 301.2L945.2 308.6L932.9 322.3L907.7 314.5z" fill="#ff9200" stroke="#ff9200"/><path d="M945.2 308.6L970.5 316.3L958.2 330.3L932.9 322.3z" fill="#ff9600" stroke="#ff9600"/><path d="M970.5 316.3L995.8 324.1L983.6 338.5L958.2 330.3z" fill="#ff9900" stroke="#ff9900"/><path d="M995.8 324.1L1021.2 332.2L1009.1 346.8L983.6 338.5z" fill="#ff9c00" stroke="#ff9c00"/><path d="M1021.2 332.2L1046.6 340.5L1034.6 355.4L1009.1 346.8z" fill="#ffa000" stroke="#ffa000"/><path d="M1046.6 340.5L1072.2 348.9L1060.3 364.2L1034.6 355.4z" fill="#ffa300" stroke="#ffa300"/><path d="M1072.2 348.9L1097.8 357.6L1086 373.2L1060.3 364.2z" fill="#ffa700" stroke="#ffa700"/><path d="M1097.8 357.6L1123.6 366.5L1111.8 382.4L1086 373.2z" fill="#ffab00" stroke="#ffab00"/><path d="M1123.6 366.5L1149.4 375.6L1137.7 391.9L1111.8 382.4z" fill="#ffaf00" stroke="#ffaf00"/><path d="M1149.4 375.6L1175.3 384.9L1163.6 401.5L1137.7 391.9z" fill="#ffb300" stroke="#ffb300"/><path d="M1175.3 384.9L1201.2 394.4L1189.7 411.3L1163.6 401.5z" fill="#ffb700" stroke="#ffb700"/><path d="M1201.2 394.4L1227.3 404.1L1215.8 421.3L1189.7 411.3z" fill="#ffbb00" stroke="#ffbb00"/><path d="M1227.3 404.1L1253.4 414L1242 431.6L1215.8 421.3z" fill="#ffc000" stroke="#ffc000"/><path d="M1253.4 414L1279.6 424.1L1268.2 442.1L1242 431.6z" fill="#ffc400" stroke="#ffc400"/><path d="M1279.6 424.1L1305.8 434.4L1294.6 452.7L1268.2 442.1z" fill="#ffc900" stroke="#ffc900"/><path d="M1305.8 434.4L1332.2 445L1321 463.6L1294.6 452.7z" fill="#ffce00" stroke="#ffce00"/><path d="M1332.2 445L1358.6 455.7L1347.5 474.7L1321 463.6z" fill="#ffd300" stroke="#ffd300"/><path d="M1358.6 455.7L1385.1 466.7L1374.1 486L1347.5 474.7z" fill="#ffd800" stroke="#ffd800"/><path d="M1385.1 466.7L1411.7 477.9L1400.7 497.5L1374.1 486z" fill="#ffdc00" stroke="#ffdc00"/><path d="M1411.7 477.9L1438.3 489.3L1427.4 509.2L1400.7 497.5z" fill="#ffe100" stroke="#ffe100"/><path d="M1438.3 489.3L1465 500.9L1454.2 521.2L1427.4 509.2z" fill="#ffe500" stroke="#ffe500"/><path d="M1465 500.9L1491.8 512.7L1481 533.3L1454.2 521.2z" fill="#ffea00" stroke="#ffea00"/><path d="M1491.8 512.7L1518.6 524.7L1507.9 545.7L1481 533.3z" fill="#ffef00" stroke="#ffef00"/><path d="M1518.6 524.7L1545.5 536.9L1534.9 558.2L1507.9 545.7z" fill="#fff400" stroke="#fff400"/><path d="M1545.5 536.9L1572.5 549.4L1561.9 571L1534.9 558.2z" fill="#fff900" stroke="#fff900"/><path d="M1572.5 549.4L1599.5 562L1589 584L1561.9 571z" fill="#fffe00" stroke="#fffe00"/><path d="M1599.5 562L1626.6 574.9L1616.2 597.3L1589 584z" fill="#f3fd00" stroke="#f3fd00"/><path d="M1626.6 574.9L1653.8 588L1643.4 610.7L1616.2 597.3z" fill="#e3fc00" stroke="#e3fc00"/><path d="M1653.8 588L1681 601.3L1670.7 624.3L1643.4 610.7z" fill="#d2f900" stroke="#d2f900"/><path d="M636.2 242.2L660.4 247.8L647.1 258.2L622.8 252.3z" fill="#ff7500" stroke="#ff7500"/><path d="M660.4 247.8L684.7 253.6L671.5 264.3L647.1 258.2z" fill="#ff7700" stroke="#ff7700"/><path d="M684.7 253.6L709.2 259.6L696 270.6L671.5 264.3z" fill="#ff7900" stroke="#ff7900"/><path d="M709.2 259.6L733.7 265.7L720.6 277.1L696 270.6z" fill="#ff7c00" stroke="#ff7c00"/><path d="M733.7 265.7L758.3 272.1L745.3 283.8L720.6 277.1z" fill="#ff7f00" stroke="#ff7f00"/><path d="M758.3 272.1L782.9 278.7L770 290.6L745.3 283.8z" fill="#ff8200" stroke="#ff8200"/><path d="M782.9 278.7L807.7 285.5L794.9 297.7L770 290.6z" fill="#ff8500" stroke="#ff8500"/><path d="M807.7 285.5L832.6 292.4L819.8 305L794.9 297.7z" fill="#ff8800" stroke="#ff8800"/><path d="M832.6 292.4L857.5 299.6L844.9 312.5L819.8 305z" fill="#ff8c00" stroke="#ff8c00"/><path d="M857.5 299.6L882.6 307L870 320.2L844.9 312.5z" fill="#ff8f00" stroke="#ff8f00"/><path d="M882.6 307L907.7 314.5L895.2 328.1L870 320.2z" fill="#ff9300" stroke="#ff9300"/><path d="M907.7 314.5L932.9 322.3L920.5 336.2L895.2 328.1z" fill="#ff9700" stroke="#ff9700"/><path d="M932.9 322.3L958.2 330.3L945.9 344.5L920.5 336.2z" fill="#ff9a00" stroke="#ff9a00"/><path d="M958.2 330.3L983.6 338.5L971.3 353L945.9 344.5z" fill="#ff9e00" stroke="#ff9e00"/><path d="M983.6 338.5L1009.1 346.8L996.9 361.7L971.3 353z" fill="#ffa100" stroke="#ffa100"/><path d="M1009.1 346.8L1034.6 355.4L1022.5 370.6L996.9 361.7z" fill="#ffa500" stroke="#ffa500"/><path d="M1034.6 355.4L1060.3 364.2L1048.3 379.7L1022.5 370.6z" fill="#ffa900" stroke="#ffa900"/><path d="M1060.3 364.2L1086 373.2L1074.1 389.1L1048.3 379.7z" fill="#ffac00" stroke="#ffac00"/><path d="M1086 373.2L1111.8 382.4L1099.9 398.6L1074.1 389.1z" fill="#ffb000" stroke="#ffb000"/><path d="M1111.8 382.4L1137.7 391.9L1125.9 408.3L1099.9 398.6z" fill="#ffb400" stroke="#ffb400"/><path d="M1137.7 391.9L1163.6 401.5L1151.9 418.3L1125.9 408.3z" fill="#ffb900" stroke="#ffb900"/><path d="M1163.6 401.5L1189.7 411.3L1178 428.5L1151.9 418.3z" fill="#ffbd00" stroke="#ffbd00"/><path d="M1189.7 411.3L1215.8 421.3L1204.2 438.8L1178 428.5z" fill="#ffc100" stroke="#ffc100"/><path d="M1215.8 421.3L1242 431.6L1230.5 449.4L1204.2 438.8z" fill="#ffc600" stroke="#ffc600"/><path d="M1242 431.6L1268.2 442.1L1256.8 460.2L1230.5 449.4z" fill="#ffcb00" stroke="#ffcb00"/><path d="M1268.2 442.1L1294.6 452.7L1283.3 471.2L1256.8 460.2z" fill="#ffd000" stroke="#ffd000"/><path d="M1294.6 452.7L1321 463.6L1309.7 482.4L1283.3 471.2z" fill="#ffd500" stroke="#ffd500"/><path d="M1321 463.6L1347.5 474.7L1336.3 493.9L1309.7 482.4z" fill="#ffda00" stroke="#ffda00"/><path d="M1347.5 474.7L1374.1 486L1362.9 505.5L1336.3 493.9z" fill="#ffde00" stroke="#ffde00"/><path d="M1374.1 486L1400.7 497.5L1389.7 517.3L1362.9 505.5z" fill="#ffe300" stroke="#ffe300"/><path d="M1400.7 497.5L1427.4 509.2L1416.4 529.4L1389.7 517.3z" fill="#ffe700" stroke="#ffe700"/><path d="M1427.4 509.2L1454.2 521.2L1443.3 541.7L1416.4 529.4z" fill="#ffec00" stroke="#ffec00"/><path d="M1454.2 521.2L1481 533.3L1470.2 554.2L1443.3 541.7z" fill="#fff100" stroke="#fff100"/><path d="M1481 533.3L1507.9 545.7L1497.1 566.9L1470.2 554.2z" fill="#fff600" stroke="#fff600"/><path d="M1507.9 545.7L1534.9 558.2L1524.2 579.8L1497.1 566.9z" fill="#fffb00" stroke="#fffb00"/><path d="M1534.9 558.2L1561.9 571L1551.3 592.9L1524.2 579.8z" fill="#fbff00" stroke="#fbff00"/><path d="M1561.9 571L1589 584L1578.5 606.3L1551.3 592.9z" fill="#ecfd00" stroke="#ecfd00"/><path d="M1589 584L1616.2 597.3L1605.7 619.9L1578.5 606.3z" fill="#dcfb00" stroke="#dcfb00"/><path d="M1616.2 597.3L1643.4 610.7L1633 633.6L1605.7 619.9z" fill="#c6f800" stroke="#c6f800"/><path d="M1643.4 610.7L1670.7 624.3L1660.3 647.6L1633 633.6z" fill="#acf500" stroke="#acf500"/><path d="M622.8 252.3L647.1 258.2L633.7 268.8L609.3 262.6z" fill="#ff7700" stroke="#ff7700"/><path d="M647.1 258.2L671.5 264.3L658.1 275.2L633.7 268.8z" fill="#ff7a00" stroke="#ff7a00"/><path d="M671.5 264.3L696 270.6L682.7 281.8L658.1 275.2z" fill="#ff7d00" stroke="#ff7d00"/><path d="M696 270.6L720.6 277.1L707.4 288.6L682.7 281.8z" fill="#ff7f00" stroke="#ff7f00"/><path d="M720.6 277.1L745.3 283.8L732.2 295.6L707.4 288.6z" fill="#ff8200" stroke="#ff8200"/><path d="M745.3 283.8L770 290.6L757 302.8L732.2 295.6z" fill="#ff8600" stroke="#ff8600"/><path d="M770 290.6L794.9 297.7L782 310.2L757 302.8z" fill="#ff8900" stroke="#ff8900"/><path d="M794.9 297.7L819.8 305L807 317.8L782 310.2z" fill="#ff8d00" stroke="#ff8d00"/><path d="M819.8 305L844.9 312.5L832.1 325.6L807 317.8z" fill="#ff9000" stroke="#ff9000"/><path d="M844.9 312.5L870 320.2L857.3 333.6L832.1 325.6z" fill="#ff9400" stroke="#ff9400"/><path d="M870 320.2L895.2 328.1L882.6 341.8L857.3 333.6z" fill="#ff9800" stroke="#ff9800"/><path d="M895.2 328.1L920.5 336.2L908 350.2L882.6 341.8z" fill="#ff9c00" stroke="#ff9c00"/><path d="M920.5 336.2L945.9 344.5L933.4 358.8L908 350.2z" fill="#ff9f00" stroke="#ff9f00"/><path d="M945.9 344.5L971.3 353L959 367.7L933.4 358.8z" fill="#ffa200" stroke="#ffa200"/><path d="M971.3 353L996.9 361.7L984.6 376.7L959 367.7z" fill="#ffa600" stroke="#ffa600"/><path d="M996.9 361.7L1022.5 370.6L1010.3 386L984.6 376.7z" fill="#ffaa00" stroke="#ffaa00"/><path d="M1022.5 370.6L1048.3 379.7L1036.1 395.4L1010.3 386z" fill="#ffae00" stroke="#ffae00"/><path d="M1048.3 379.7L1074.1 389.1L1062 405.1L1036.1 395.4z" fill="#ffb200" stroke="#ffb200"/><path d="M1074.1 389.1L1099.9 398.6L1088 414.9L1062 405.1z" fill="#ffb600" stroke="#ffb600"/><path d="M1099.9 398.6L1125.9 408.3L1114 425L1088 414.9z" fill="#ffba00" stroke="#ffba00"/><path d="M1125.9 408.3L1151.9 418.3L1140.1 435.3L1114 425z" fill="#ffbf00" stroke="#ffbf00"/><path d="M1151.9 418.3L1178 428.5L1166.3 445.8L1140.1 435.3z" fill="#ffc300" stroke="#ffc300"/><path d="M1178 428.5L1204.2 438.8L1192.6 456.5L1166.3 445.8z" fill="#ffc800" stroke="#ffc800"/><path d="M1204.2 438.8L1230.5 449.4L1218.9 467.4L1192.6 456.5z" fill="#ffcd00" stroke="#ffcd00"/><path d="M1230.5 449.4L1256.8 460.2L1245.4 478.6L1218.9 467.4z" fill="#ffd200" stroke="#ffd200"/><path d="M1256.8 460.2L1283.3 471.2L1271.8 489.9L1245.4 478.6z" fill="#ffd700" stroke="#ffd700"/><path d="M1283.3 471.2L1309.7 482.4L1298.4 501.5L1271.8 489.9z" fill="#ffdb00" stroke="#ffdb00"/><path d="M1309.7 482.4L1336.3 493.9L1325 513.2L1298.4 501.5z" fill="#ffe000" stroke="#ffe000"/><path d="M1336.3 493.9L1362.9 505.5L1351.8 525.2L1325 513.2z" fill="#ffe400" stroke="#ffe400"/><path d="M1362.9 505.5L1389.7 517.3L1378.5 537.4L1351.8 525.2z" fill="#ffe900" stroke="#ffe900"/><path d="M1389.7 517.3L1416.4 529.4L1405.4 549.8L1378.5 537.4z" fill="#ffee00" stroke="#ffee00"/><path d="M1416.4 529.4L1443.3 541.7L1432.3 562.4L1405.4 549.8z" fill="#fff300" stroke="#fff300"/><path d="M1443.3 541.7L1470.2 554.2L1459.3 575.3L1432.3 562.4z" fill="#fff800" stroke="#fff800"/><path d="M1470.2 554.2L1497.1 566.9L1486.3 588.3L1459.3 575.3z" fill="#fffd00" stroke="#fffd00"/><path d="M1497.1 566.9L1524.2 579.8L1513.4 601.6L1486.3 588.3z" fill="#f5fe00" stroke="#f5fe00"/><path d="M1524.2 579.8L1551.3 592.9L1540.6 615.1L1513.4 601.6z" fill="#e6fc00" stroke="#e6fc00"/><path d="M1551.3 592.9L1578.5 606.3L1567.8 628.8L1540.6 615.1z" fill="#d5fa00" stroke="#d5fa00"/><path d="M1578.5 606.3L1605.7 619.9L1595.1 642.7L1567.8 628.8z" fill="#bbf700" stroke="#bbf700"/><path d="M1605.7 619.9L1633 633.6L1622.5 656.8L1595.1 642.7z" fill="#9ff400" stroke="#9ff400"/><path d="M1633 633.6L1660.3 647.6L1649.9 671.1L1622.5 656.8z" fill="#80f200" stroke="#80f200"/><path d="M609.3 262.6L633.7 268.8L620.1 279.5L595.6 273z" fill="#ff7a00" stroke="#ff7a00"/><path d="M633.7 268.8L658.1 275.2L644.7 286.2L620.1 279.5z" fill="#ff7d00" stroke="#ff7d00"/><path d="M658.1 275.2L682.7 281.8L669.3 293.1L644.7 286.2z" fill="#ff8000" stroke="#ff8000"/><path d="M682.7 281.8L707.4 288.6L694.1 300.2L669.3 293.1z" fill="#ff8300" stroke="#ff8300"/><path d="M707.4 288.6L732.2 295.6L719 307.5L694.1 300.2z" fill="#ff8600" stroke="#ff8600"/><path d="M732.2 295.6L757 302.8L743.9 315.1L719 307.5z" fill="#ff8a00" stroke="#ff8a00"/><path d="M757 302.8L782 310.2L768.9 322.8L743.9 315.1z" fill="#ff8d00" stroke="#ff8d00"/><path d="M782 310.2L807 317.8L794 330.7L768.9 322.8z" fill="#ff9100" stroke="#ff9100"/><path d="M807 317.8L832.1 325.6L819.2 338.8L794 330.7z" fill="#ff9500" stroke="#ff9500"/><path d="M832.1 325.6L857.3 333.6L844.5 347.2L819.2 338.8z" fill="#ff9900" stroke="#ff9900"/><path d="M857.3 333.6L882.6 341.8L869.9 355.7L844.5 347.2z" fill="#ff9c00" stroke="#ff9c00"/><path d="M882.6 341.8L908 350.2L895.4 364.4L869.9 355.7z" fill="#ffa000" stroke="#ffa000"/><path d="M908 350.2L933.4 358.8L920.9 373.4L895.4 364.4z" fill="#ffa300" stroke="#ffa300"/><path d="M933.4 358.8L959 367.7L946.6 382.6L920.9 373.4z" fill="#ffa700" stroke="#ffa700"/><path d="M959 367.7L984.6 376.7L972.3 391.9L946.6 382.6z" fill="#ffab00" stroke="#ffab00"/><path d="M984.6 376.7L1010.3 386L998.1 401.5L972.3 391.9z" fill="#ffaf00" stroke="#ffaf00"/><path d="M1010.3 386L1036.1 395.4L1023.9 411.3L998.1 401.5z" fill="#ffb300" stroke="#ffb300"/><path d="M1036.1 395.4L1062 405.1L1049.9 421.3L1023.9 411.3z" fill="#ffb700" stroke="#ffb700"/><path d="M1062 405.1L1088 414.9L1075.9 431.5L1049.9 421.3z" fill="#ffbc00" stroke="#ffbc00"/><path d="M1088 414.9L1114 425L1102.1 441.9L1075.9 431.5z" fill="#ffc000" stroke="#ffc000"/><path d="M1114 425L1140.1 435.3L1128.2 452.5L1102.1 441.9z" fill="#ffc500" stroke="#ffc500"/><path d="M1140.1 435.3L1166.3 445.8L1154.5 463.4L1128.2 452.5z" fill="#ffc900" stroke="#ffc900"/><path d="M1166.3 445.8L1192.6 456.5L1180.9 474.4L1154.5 463.4z" fill="#ffce00" stroke="#ffce00"/><path d="M1192.6 456.5L1218.9 467.4L1207.3 485.7L1180.9 474.4z" fill="#ffd300" stroke="#ffd300"/><path d="M1218.9 467.4L1245.4 478.6L1233.8 497.1L1207.3 485.7z" fill="#ffd800" stroke="#ffd800"/><path d="M1245.4 478.6L1271.8 489.9L1260.3 508.8L1233.8 497.1z" fill="#ffdd00" stroke="#ffdd00"/><path d="M1271.8 489.9L1298.4 501.5L1287 520.7L1260.3 508.8z" fill="#ffe100" stroke="#ffe100"/><path d="M1298.4 501.5L1325 513.2L1313.7 532.8L1287 520.7z" fill="#ffe600" stroke="#ffe600"/><path d="M1325 513.2L1351.8 525.2L1340.5 545.2L1313.7 532.8z" fill="#ffeb00" stroke="#ffeb00"/><path d="M1351.8 525.2L1378.5 537.4L1367.3 557.7L1340.5 545.2z" fill="#fff000" stroke="#fff000"/><path d="M1378.5 537.4L1405.4 549.8L1394.2 570.5L1367.3 557.7z" fill="#fff500" stroke="#fff500"/><path d="M1405.4 549.8L1432.3 562.4L1421.2 583.4L1394.2 570.5z" fill="#fffa00" stroke="#fffa00"/><path d="M1432.3 562.4L1459.3 575.3L1448.3 596.6L1421.2 583.4z" fill="#feff00" stroke="#feff00"/><path d="M1459.3 575.3L1486.3 588.3L1475.4 610L1448.3 596.6z" fill="#effd00" stroke="#effd00"/><path d="M1486.3 588.3L1513.4 601.6L1502.6 623.6L1475.4 610z" fill="#e0fb00" stroke="#e0fb00"/><path d="M1513.4 601.6L1540.6 615.1L1529.8 637.4L1502.6 623.6z" fill="#cbf900" stroke="#cbf900"/><path d="M1540.6 615.1L1567.8 628.8L1557.1 651.5L1529.8 637.4z" fill="#b1f600" stroke="#b1f600"/><path d="M1567.8 628.8L1595.1 642.7L1584.5 665.7L1557.1 651.5z" fill="#93f300" stroke="#93f300"/><path d="M1595.1 642.7L1622.5 656.8L1611.9 680.2L1584.5 665.7z" fill="#73f100" stroke="#73f100"/><path d="M1622.5 656.8L1649.9 671.1L1639.4 694.9L1611.9 680.2z" fill="#51ee00" stroke="#51ee00"/><path d="M595.6 273L620.1 279.5L606.4 290.4L581.9 283.5z" fill="#ff7d00" stroke="#ff7d00"/><path d="M620.1 279.5L644.7 286.2L631.1 297.4L606.4 290.4z" fill="#ff8000" stroke="#ff8000"/><path d="M644.7 286.2L669.3 293.1L655.9 304.6L631.1 297.4z" fill="#ff8300" stroke="#ff8300"/><path d="M669.3 293.1L694.1 300.2L680.7 312L655.9 304.6z" fill="#ff8700" stroke="#ff8700"/><path d="M694.1 300.2L719 307.5L705.6 319.7L680.7 312z" fill="#ff8a00" stroke="#ff8a00"/><path d="M719 307.5L743.9 315.1L730.7 327.5L705.6 319.7z" fill="#ff8e00" stroke="#ff8e00"/><path d="M743.9 315.1L768.9 322.8L755.8 335.6L730.7 327.5z" fill="#ff9200" stroke="#ff9200"/><path d="M768.9 322.8L794 330.7L781 343.8L755.8 335.6z" fill="#ff9600" stroke="#ff9600"/><path d="M794 330.7L819.2 338.8L806.3 352.3L781 343.8z" fill="#ff9a00" stroke="#ff9a00"/><path d="M819.2 338.8L844.5 347.2L831.7 360.9L806.3 352.3z" fill="#ff9d00" stroke="#ff9d00"/><path d="M844.5 347.2L869.9 355.7L857.1 369.8L831.7 360.9z" fill="#ffa100" stroke="#ffa100"/><path d="M869.9 355.7L895.4 364.4L882.7 378.9L857.1 369.8z" fill="#ffa400" stroke="#ffa400"/><path d="M895.4 364.4L920.9 373.4L908.3 388.1L882.7 378.9z" fill="#ffa800" stroke="#ffa800"/><path d="M920.9 373.4L946.6 382.6L934 397.6L908.3 388.1z" fill="#ffac00" stroke="#ffac00"/><path d="M946.6 382.6L972.3 391.9L959.8 407.3L934 397.6z" fill="#ffb000" stroke="#ffb000"/><path d="M972.3 391.9L998.1 401.5L985.7 417.2L959.8 407.3z" fill="#ffb400" stroke="#ffb400"/><path d="M998.1 401.5L1023.9 411.3L1011.6 427.4L985.7 417.2z" fill="#ffb800" stroke="#ffb800"/><path d="M1023.9 411.3L1049.9 421.3L1037.7 437.7L1011.6 427.4z" fill="#ffbd00" stroke="#ffbd00"/><path d="M1049.9 421.3L1075.9 431.5L1063.8 448.2L1037.7 437.7z" fill="#ffc100" stroke="#ffc100"/><path d="M1075.9 431.5L1102.1 441.9L1090 459L1063.8 448.2z" fill="#ffc600" stroke="#ffc600"/><path d="M1102.1 441.9L1128.2 452.5L1116.3 469.9L1090 459z" fill="#ffcb00" stroke="#ffcb00"/><path d="M1128.2 452.5L1154.5 463.4L1142.6 481.1L1116.3 469.9z" fill="#ffd000" stroke="#ffd000"/><path d="M1154.5 463.4L1180.9 474.4L1169 492.5L1142.6 481.1z" fill="#ffd500" stroke="#ffd500"/><path d="M1180.9 474.4L1207.3 485.7L1195.5 504.1L1169 492.5z" fill="#ffda00" stroke="#ffda00"/><path d="M1207.3 485.7L1233.8 497.1L1222.1 515.9L1195.5 504.1z" fill="#ffde00" stroke="#ffde00"/><path d="M1233.8 497.1L1260.3 508.8L1248.8 528L1222.1 515.9z" fill="#ffe300" stroke="#ffe300"/><path d="M1260.3 508.8L1287 520.7L1275.5 540.2L1248.8 528z" fill="#ffe800" stroke="#ffe800"/><path d="M1287 520.7L1313.7 532.8L1302.3 552.7L1275.5 540.2z" fill="#ffed00" stroke="#ffed00"/><path d="M1313.7 532.8L1340.5 545.2L1329.1 565.3L1302.3 552.7z" fill="#fff100" stroke="#fff100"/><path d="M1340.5 545.2L1367.3 557.7L1356 578.2L1329.1 565.3z" fill="#fff700" stroke="#fff700"/><path d="M1367.3 557.7L1394.2 570.5L1383 591.3L1356 578.2z" fill="#fffc00" stroke="#fffc00"/><path d="M1394.2 570.5L1421.2 583.4L1410.1 604.6L1383 591.3z" fill="#f9fe00" stroke="#f9fe00"/><path d="M1421.2 583.4L1448.3 596.6L1437.2 618.2L1410.1 604.6z" fill="#eafc00" stroke="#eafc00"/><path d="M1448.3 596.6L1475.4 610L1464.4 631.9L1437.2 618.2z" fill="#dafa00" stroke="#dafa00"/><path d="M1475.4 610L1502.6 623.6L1491.6 645.9L1464.4 631.9z" fill="#c2f800" stroke="#c2f800"/><path d="M1502.6 623.6L1529.8 637.4L1519 660L1491.6 645.9z" fill="#a7f500" stroke="#a7f500"/><path d="M1529.8 637.4L1557.1 651.5L1546.3 674.4L1519 660z" fill="#88f300" stroke="#88f300"/><path d="M1557.1 651.5L1584.5 665.7L1573.8 689L1546.3 674.4z" fill="#68f000" stroke="#68f000"/><path d="M1584.5 665.7L1611.9 680.2L1601.2 703.9L1573.8 689z" fill="#43ed00" stroke="#43ed00"/><path d="M1611.9 680.2L1639.4 694.9L1628.8 718.9L1601.2 703.9z" fill="#1dea00" stroke="#1dea00"/><path d="M581.9 283.5L606.4 290.4L592.7 301.4L568 294.3z" fill="#ff8000" stroke="#ff8000"/><path d="M606.4 290.4L631.1 297.4L617.4 308.8L592.7 301.4z" fill="#ff8300" stroke="#ff8300"/><path d="M631.1 297.4L655.9 304.6L642.3 316.3L617.4 308.8z" fill="#ff8700" stroke="#ff8700"/><path d="M655.9 304.6L680.7 312L667.2 324.1L642.3 316.3z" fill="#ff8a00" stroke="#ff8a00"/><path d="M680.7 312L705.6 319.7L692.2 332L667.2 324.1z" fill="#ff8e00" stroke="#ff8e00"/><path d="M705.6 319.7L730.7 327.5L717.3 340.2L692.2 332z" fill="#ff9200" stroke="#ff9200"/><path d="M730.7 327.5L755.8 335.6L742.5 348.5L717.3 340.2z" fill="#ff9600" stroke="#ff9600"/><path d="M755.8 335.6L781 343.8L767.8 357.1L742.5 348.5z" fill="#ff9a00" stroke="#ff9a00"/><path d="M781 343.8L806.3 352.3L793.2 365.9L767.8 357.1z" fill="#ff9d00" stroke="#ff9d00"/><path d="M806.3 352.3L831.7 360.9L818.7 374.9L793.2 365.9z" fill="#ffa100" stroke="#ffa100"/><path d="M831.7 360.9L857.1 369.8L844.2 384.1L818.7 374.9z" fill="#ffa500" stroke="#ffa500"/><path d="M857.1 369.8L882.7 378.9L869.9 393.5L844.2 384.1z" fill="#ffa900" stroke="#ffa900"/><path d="M882.7 378.9L908.3 388.1L895.6 403.1L869.9 393.5z" fill="#ffad00" stroke="#ffad00"/><path d="M908.3 388.1L934 397.6L921.4 412.9L895.6 403.1z" fill="#ffb100" stroke="#ffb100"/><path d="M934 397.6L959.8 407.3L947.2 422.9L921.4 412.9z" fill="#ffb500" stroke="#ffb500"/><path d="M959.8 407.3L985.7 417.2L973.2 433.2L947.2 422.9z" fill="#ffb900" stroke="#ffb900"/><path d="M985.7 417.2L1011.6 427.4L999.3 443.6L973.2 433.2z" fill="#ffbe00" stroke="#ffbe00"/><path d="M1011.6 427.4L1037.7 437.7L1025.4 454.3L999.3 443.6z" fill="#ffc200" stroke="#ffc200"/><path d="M1037.7 437.7L1063.8 448.2L1051.6 465.2L1025.4 454.3z" fill="#ffc700" stroke="#ffc700"/><path d="M1063.8 448.2L1090 459L1077.9 476.3L1051.6 465.2z" fill="#ffcc00" stroke="#ffcc00"/><path d="M1090 459L1116.3 469.9L1104.2 487.6L1077.9 476.3z" fill="#ffd100" stroke="#ffd100"/><path d="M1116.3 469.9L1142.6 481.1L1130.6 499.1L1104.2 487.6z" fill="#ffd600" stroke="#ffd600"/><path d="M1142.6 481.1L1169 492.5L1157.1 510.8L1130.6 499.1z" fill="#ffdb00" stroke="#ffdb00"/><path d="M1169 492.5L1195.5 504.1L1183.7 522.8L1157.1 510.8z" fill="#ffe000" stroke="#ffe000"/><path d="M1195.5 504.1L1222.1 515.9L1210.4 534.9L1183.7 522.8z" fill="#ffe400" stroke="#ffe400"/><path d="M1222.1 515.9L1248.8 528L1237.1 547.3L1210.4 534.9z" fill="#ffe900" stroke="#ffe900"/><path d="M1248.8 528L1275.5 540.2L1263.9 559.9L1237.1 547.3z" fill="#ffee00" stroke="#ffee00"/><path d="M1275.5 540.2L1302.3 552.7L1290.7 572.7L1263.9 559.9z" fill="#fff300" stroke="#fff300"/><path d="M1302.3 552.7L1329.1 565.3L1317.7 585.7L1290.7 572.7z" fill="#fff800" stroke="#fff800"/><path d="M1329.1 565.3L1356 578.2L1344.7 598.9L1317.7 585.7z" fill="#fffd00" stroke="#fffd00"/><path d="M1356 578.2L1383 591.3L1371.7 612.4L1344.7 598.9z" fill="#f5fe00" stroke="#f5fe00"/><path d="M1383 591.3L1410.1 604.6L1398.9 626.1L1371.7 612.4z" fill="#e5fc00" stroke="#e5fc00"/><path d="M1410.1 604.6L1437.2 618.2L1426.1 639.9L1398.9 626.1z" fill="#d4fa00" stroke="#d4fa00"/><path d="M1437.2 618.2L1464.4 631.9L1453.3 654L1426.1 639.9z" fill="#baf700" stroke="#baf700"/><path d="M1464.4 631.9L1491.6 645.9L1480.6 668.3L1453.3 654z" fill="#9ef400" stroke="#9ef400"/><path d="M1491.6 645.9L1519 660L1508 682.9L1480.6 668.3z" fill="#7ef200" stroke="#7ef200"/><path d="M1519 660L1546.3 674.4L1535.5 697.6L1508 682.9z" fill="#5cef00" stroke="#5cef00"/><path d="M1546.3 674.4L1573.8 689L1563 712.6L1535.5 697.6z" fill="#37ec00" stroke="#37ec00"/><path d="M1573.8 689L1601.2 703.9L1590.5 727.8L1563 712.6z" fill="#10e900" stroke="#10e900"/><path d="M1601.2 703.9L1628.8 718.9L1618.1 743.1L1590.5 727.8z" fill="#00e700" stroke="#00e700"/><path d="M568 294.3L592.7 301.4L578.8 312.6L554.1 305.2z" fill="#ff8300" stroke="#ff8300"/><path d="M592.7 301.4L617.4 308.8L603.6 320.3L578.8 312.6z" fill="#ff8600" stroke="#ff8600"/><path d="M617.4 308.8L642.3 316.3L628.6 328.2L603.6 320.3z" fill="#ff8a00" stroke="#ff8a00"/><path d="M642.3 316.3L667.2 324.1L653.6 336.2L628.6 328.2z" fill="#ff8e00" stroke="#ff8e00"/><path d="M667.2 324.1L692.2 332L678.7 344.5L653.6 336.2z" fill="#ff9200" stroke="#ff9200"/><path d="M692.2 332L717.3 340.2L703.9 353L678.7 344.5z" fill="#ff9600" stroke="#ff9600"/><path d="M717.3 340.2L742.5 348.5L729.2 361.7L703.9 353z" fill="#ff9a00" stroke="#ff9a00"/><path d="M742.5 348.5L767.8 357.1L754.6 370.6L729.2 361.7z" fill="#ff9e00" stroke="#ff9e00"/><path d="M767.8 357.1L793.2 365.9L780 379.7L754.6 370.6z" fill="#ffa100" stroke="#ffa100"/><path d="M793.2 365.9L818.7 374.9L805.6 389L780 379.7z" fill="#ffa500" stroke="#ffa500"/><path d="M818.7 374.9L844.2 384.1L831.2 398.5L805.6 389z" fill="#ffa900" stroke="#ffa900"/><path d="M844.2 384.1L869.9 393.5L856.9 408.3L831.2 398.5z" fill="#ffad00" stroke="#ffad00"/><path d="M869.9 393.5L895.6 403.1L882.7 418.2L856.9 408.3z" fill="#ffb100" stroke="#ffb100"/><path d="M895.6 403.1L921.4 412.9L908.6 428.4L882.7 418.2z" fill="#ffb600" stroke="#ffb600"/><path d="M921.4 412.9L947.2 422.9L934.6 438.8L908.6 428.4z" fill="#ffba00" stroke="#ffba00"/><path d="M947.2 422.9L973.2 433.2L960.6 449.3L934.6 438.8z" fill="#ffbf00" stroke="#ffbf00"/><path d="M973.2 433.2L999.3 443.6L986.8 460.1L960.6 449.3z" fill="#ffc300" stroke="#ffc300"/><path d="M999.3 443.6L1025.4 454.3L1013 471.1L986.8 460.1z" fill="#ffc800" stroke="#ffc800"/><path d="M1025.4 454.3L1051.6 465.2L1039.3 482.4L1013 471.1z" fill="#ffcd00" stroke="#ffcd00"/><path d="M1051.6 465.2L1077.9 476.3L1065.6 493.8L1039.3 482.4z" fill="#ffd200" stroke="#ffd200"/><path d="M1077.9 476.3L1104.2 487.6L1092 505.4L1065.6 493.8z" fill="#ffd700" stroke="#ffd700"/><path d="M1104.2 487.6L1130.6 499.1L1118.6 517.3L1092 505.4z" fill="#ffdc00" stroke="#ffdc00"/><path d="M1130.6 499.1L1157.1 510.8L1145.1 529.4L1118.6 517.3z" fill="#ffe100" stroke="#ffe100"/><path d="M1157.1 510.8L1183.7 522.8L1171.8 541.7L1145.1 529.4z" fill="#ffe500" stroke="#ffe500"/><path d="M1183.7 522.8L1210.4 534.9L1198.5 554.2L1171.8 541.7z" fill="#ffea00" stroke="#ffea00"/><path d="M1210.4 534.9L1237.1 547.3L1225.3 566.9L1198.5 554.2z" fill="#ffef00" stroke="#ffef00"/><path d="M1237.1 547.3L1263.9 559.9L1252.2 579.8L1225.3 566.9z" fill="#fff400" stroke="#fff400"/><path d="M1263.9 559.9L1290.7 572.7L1279.1 593L1252.2 579.8z" fill="#fff900" stroke="#fff900"/><path d="M1290.7 572.7L1317.7 585.7L1306.1 606.3L1279.1 593z" fill="#ffff00" stroke="#ffff00"/><path d="M1317.7 585.7L1344.7 598.9L1333.2 619.9L1306.1 606.3z" fill="#f1fd00" stroke="#f1fd00"/><path d="M1344.7 598.9L1371.7 612.4L1360.4 633.7L1333.2 619.9z" fill="#e1fb00" stroke="#e1fb00"/><path d="M1371.7 612.4L1398.9 626.1L1387.6 647.7L1360.4 633.7z" fill="#cdf900" stroke="#cdf900"/><path d="M1398.9 626.1L1426.1 639.9L1414.8 661.9L1387.6 647.7z" fill="#b3f600" stroke="#b3f600"/><path d="M1426.1 639.9L1453.3 654L1442.2 676.4L1414.8 661.9z" fill="#95f300" stroke="#95f300"/><path d="M1453.3 654L1480.6 668.3L1469.6 691.1L1442.2 676.4z" fill="#75f100" stroke="#75f100"/><path d="M1480.6 668.3L1508 682.9L1497 705.9L1469.6 691.1z" fill="#52ef00" stroke="#52ef00"/><path d="M1508 682.9L1535.5 697.6L1524.5 721L1497 705.9z" fill="#2ceb00" stroke="#2ceb00"/><path d="M1535.5 697.6L1563 712.6L1552.1 736.4L1524.5 721z" fill="#05e800" stroke="#05e800"/><path d="M1563 712.6L1590.5 727.8L1579.7 751.9L1552.1 736.4z" fill="#00e600" stroke="#00e600"/><path d="M1590.5 727.8L1618.1 743.1L1607.4 767.6L1579.7 751.9z" fill="#00e400" stroke="#00e400"/><path d="M554.1 305.2L578.8 312.6L564.8 324L540 316.2z" fill="#ff8600" stroke="#ff8600"/><path d="M578.8 312.6L603.6 320.3L589.7 332L564.8 324z" fill="#ff8a00" stroke="#ff8a00"/><path d="M603.6 320.3L628.6 328.2L614.8 340.2L589.7 332z" fill="#ff8e00" stroke="#ff8e00"/><path d="M628.6 328.2L653.6 336.2L639.9 348.6L614.8 340.2z" fill="#ff9200" stroke="#ff9200"/><path d="M653.6 336.2L678.7 344.5L665.1 357.2L639.9 348.6z" fill="#ff9600" stroke="#ff9600"/><path d="M678.7 344.5L703.9 353L690.4 366L665.1 357.2z" fill="#ff9a00" stroke="#ff9a00"/><path d="M703.9 353L729.2 361.7L715.8 375L690.4 366z" fill="#ff9e00" stroke="#ff9e00"/><path d="M729.2 361.7L754.6 370.6L741.2 384.3L715.8 375z" fill="#ffa100" stroke="#ffa100"/><path d="M754.6 370.6L780 379.7L766.8 393.7L741.2 384.3z" fill="#ffa500" stroke="#ffa500"/><path d="M780 379.7L805.6 389L792.4 403.4L766.8 393.7z" fill="#ffa900" stroke="#ffa900"/><path d="M805.6 389L831.2 398.5L818.1 413.2L792.4 403.4z" fill="#ffad00" stroke="#ffad00"/><path d="M831.2 398.5L856.9 408.3L843.9 423.3L818.1 413.2z" fill="#ffb200" stroke="#ffb200"/><path d="M856.9 408.3L882.7 418.2L869.8 433.6L843.9 423.3z" fill="#ffb600" stroke="#ffb600"/><path d="M882.7 418.2L908.6 428.4L895.8 444.1L869.8 433.6z" fill="#ffba00" stroke="#ffba00"/><path d="M908.6 428.4L934.6 438.8L921.8 454.8L895.8 444.1z" fill="#ffbf00" stroke="#ffbf00"/><path d="M934.6 438.8L960.6 449.3L948 465.7L921.8 454.8z" fill="#ffc400" stroke="#ffc400"/><path d="M960.6 449.3L986.8 460.1L974.2 476.8L948 465.7z" fill="#ffc900" stroke="#ffc900"/><path d="M986.8 460.1L1013 471.1L1000.5 488.2L974.2 476.8z" fill="#ffce00" stroke="#ffce00"/><path d="M1013 471.1L1039.3 482.4L1026.8 499.7L1000.5 488.2z" fill="#ffd300" stroke="#ffd300"/><path d="M1039.3 482.4L1065.6 493.8L1053.3 511.5L1026.8 499.7z" fill="#ffd800" stroke="#ffd800"/><path d="M1065.6 493.8L1092 505.4L1079.8 523.5L1053.3 511.5z" fill="#ffdd00" stroke="#ffdd00"/><path d="M1092 505.4L1118.6 517.3L1106.4 535.7L1079.8 523.5z" fill="#ffe100" stroke="#ffe100"/><path d="M1118.6 517.3L1145.1 529.4L1133.1 548.1L1106.4 535.7z" fill="#ffe600" stroke="#ffe600"/><path d="M1145.1 529.4L1171.8 541.7L1159.8 560.7L1133.1 548.1z" fill="#ffeb00" stroke="#ffeb00"/><path d="M1171.8 541.7L1198.5 554.2L1186.6 573.6L1159.8 560.7z" fill="#fff000" stroke="#fff000"/><path d="M1198.5 554.2L1225.3 566.9L1213.5 586.7L1186.6 573.6z" fill="#fff500" stroke="#fff500"/><path d="M1225.3 566.9L1252.2 579.8L1240.4 599.9L1213.5 586.7z" fill="#fffb00" stroke="#fffb00"/><path d="M1252.2 579.8L1279.1 593L1267.5 613.4L1240.4 599.9z" fill="#fdff00" stroke="#fdff00"/><path d="M1279.1 593L1306.1 606.3L1294.5 627.2L1267.5 613.4z" fill="#edfd00" stroke="#edfd00"/><path d="M1306.1 606.3L1333.2 619.9L1321.7 641.1L1294.5 627.2z" fill="#ddfb00" stroke="#ddfb00"/><path d="M1333.2 619.9L1360.4 633.7L1348.9 655.2L1321.7 641.1z" fill="#c7f800" stroke="#c7f800"/><path d="M1360.4 633.7L1387.6 647.7L1376.2 669.6L1348.9 655.2z" fill="#acf500" stroke="#acf500"/><path d="M1387.6 647.7L1414.8 661.9L1403.5 684.2L1376.2 669.6z" fill="#8df300" stroke="#8df300"/><path d="M1414.8 661.9L1442.2 676.4L1430.9 699L1403.5 684.2z" fill="#6cf100" stroke="#6cf100"/><path d="M1442.2 676.4L1469.6 691.1L1458.4 714L1430.9 699z" fill="#48ee00" stroke="#48ee00"/><path d="M1469.6 691.1L1497 705.9L1485.9 729.2L1458.4 714z" fill="#21eb00" stroke="#21eb00"/><path d="M1497 705.9L1524.5 721L1513.5 744.7L1485.9 729.2z" fill="#00e800" stroke="#00e800"/><path d="M1524.5 721L1552.1 736.4L1541.1 760.4L1513.5 744.7z" fill="#00e500" stroke="#00e500"/><path d="M1552.1 736.4L1579.7 751.9L1568.8 776.3L1541.1 760.4z" fill="#00e300" stroke="#00e300"/><path d="M1579.7 751.9L1607.4 767.6L1596.6 792.4L1568.8 776.3z" fill="#00e000" stroke="#00e000"/><path d="M540 316.2L564.8 324L550.7 335.6L525.8 327.5z" fill="#ff8900" stroke="#ff8900"/><path d="M564.8 324L589.7 332L575.7 343.9L550.7 335.6z" fill="#ff8d00" stroke="#ff8d00"/><path d="M589.7 332L614.8 340.2L600.9 352.4L575.7 343.9z" fill="#ff9100" stroke="#ff9100"/><path d="M614.8 340.2L639.9 348.6L626.1 361.1L600.9 352.4z" fill="#ff9600" stroke="#ff9600"/><path d="M639.9 348.6L665.1 357.2L651.3 370.1L626.1 361.1z" fill="#ff9a00" stroke="#ff9a00"/><path d="M665.1 357.2L690.4 366L676.7 379.2L651.3 370.1z" fill="#ff9d00" stroke="#ff9d00"/><path d="M690.4 366L715.8 375L702.2 388.6L676.7 379.2z" fill="#ffa100" stroke="#ffa100"/><path d="M715.8 375L741.2 384.3L727.8 398.1L702.2 388.6z" fill="#ffa500" stroke="#ffa500"/><path d="M741.2 384.3L766.8 393.7L753.4 407.9L727.8 398.1z" fill="#ffa900" stroke="#ffa900"/><path d="M766.8 393.7L792.4 403.4L779.1 417.9L753.4 407.9z" fill="#ffad00" stroke="#ffad00"/><path d="M792.4 403.4L818.1 413.2L804.9 428.1L779.1 417.9z" fill="#ffb200" stroke="#ffb200"/><path d="M818.1 413.2L843.9 423.3L830.8 438.5L804.9 428.1z" fill="#ffb600" stroke="#ffb600"/><path d="M843.9 423.3L869.8 433.6L856.8 449.1L830.8 438.5z" fill="#ffbb00" stroke="#ffbb00"/><path d="M869.8 433.6L895.8 444.1L882.9 459.9L856.8 449.1z" fill="#ffbf00" stroke="#ffbf00"/><path d="M895.8 444.1L921.8 454.8L909 471L882.9 459.9z" fill="#ffc400" stroke="#ffc400"/><path d="M921.8 454.8L948 465.7L935.2 482.2L909 471z" fill="#ffc900" stroke="#ffc900"/><path d="M948 465.7L974.2 476.8L961.5 493.7L935.2 482.2z" fill="#ffce00" stroke="#ffce00"/><path d="M974.2 476.8L1000.5 488.2L987.9 505.4L961.5 493.7z" fill="#ffd300" stroke="#ffd300"/><path d="M1000.5 488.2L1026.8 499.7L1014.3 517.3L987.9 505.4z" fill="#ffd900" stroke="#ffd900"/><path d="M1026.8 499.7L1053.3 511.5L1040.9 529.4L1014.3 517.3z" fill="#ffdd00" stroke="#ffdd00"/><path d="M1053.3 511.5L1079.8 523.5L1067.5 541.8L1040.9 529.4z" fill="#ffe200" stroke="#ffe200"/><path d="M1079.8 523.5L1106.4 535.7L1094.1 554.3L1067.5 541.8z" fill="#ffe700" stroke="#ffe700"/><path d="M1106.4 535.7L1133.1 548.1L1120.9 567.1L1094.1 554.3z" fill="#ffec00" stroke="#ffec00"/><path d="M1133.1 548.1L1159.8 560.7L1147.7 580.1L1120.9 567.1z" fill="#fff100" stroke="#fff100"/><path d="M1159.8 560.7L1186.6 573.6L1174.6 593.3L1147.7 580.1z" fill="#fff600" stroke="#fff600"/><path d="M1186.6 573.6L1213.5 586.7L1201.6 606.7L1174.6 593.3z" fill="#fffb00" stroke="#fffb00"/><path d="M1213.5 586.7L1240.4 599.9L1228.6 620.3L1201.6 606.7z" fill="#fafe00" stroke="#fafe00"/><path d="M1240.4 599.9L1267.5 613.4L1255.7 634.2L1228.6 620.3z" fill="#eafc00" stroke="#eafc00"/><path d="M1267.5 613.4L1294.5 627.2L1282.8 648.2L1255.7 634.2z" fill="#dafa00" stroke="#dafa00"/><path d="M1294.5 627.2L1321.7 641.1L1310.1 662.5L1282.8 648.2z" fill="#c1f800" stroke="#c1f800"/><path d="M1321.7 641.1L1348.9 655.2L1337.4 677L1310.1 662.5z" fill="#a6f500" stroke="#a6f500"/><path d="M1348.9 655.2L1376.2 669.6L1364.7 691.7L1337.4 677z" fill="#86f200" stroke="#86f200"/><path d="M1376.2 669.6L1403.5 684.2L1392.1 706.7L1364.7 691.7z" fill="#65f000" stroke="#65f000"/><path d="M1403.5 684.2L1430.9 699L1419.6 721.8L1392.1 706.7z" fill="#3fed00" stroke="#3fed00"/><path d="M1430.9 699L1458.4 714L1447.1 737.2L1419.6 721.8z" fill="#18ea00" stroke="#18ea00"/><path d="M1458.4 714L1485.9 729.2L1474.7 752.8L1447.1 737.2z" fill="#00e700" stroke="#00e700"/><path d="M1485.9 729.2L1513.5 744.7L1502.4 768.6L1474.7 752.8z" fill="#00e500" stroke="#00e500"/><path d="M1513.5 744.7L1541.1 760.4L1530.1 784.6L1502.4 768.6z" fill="#00e200" stroke="#00e200"/><path d="M1541.1 760.4L1568.8 776.3L1557.9 800.9L1530.1 784.6z" fill="#00e000" stroke="#00e000"/><path d="M1568.8 776.3L1596.6 792.4L1585.7 817.3L1557.9 800.9z" fill="#00dd00" stroke="#00dd00"/><path d="M525.8 327.5L550.7 335.6L536.5 347.3L511.5 338.9z" fill="#ff8c00" stroke="#ff8c00"/><path d="M550.7 335.6L575.7 343.9L561.6 355.9L536.5 347.3z" fill="#ff9100" stroke="#ff9100"/><path d="M575.7 343.9L600.9 352.4L586.8 364.8L561.6 355.9z" fill="#ff9500" stroke="#ff9500"/><path d="M600.9 352.4L626.1 361.1L612.1 373.8L586.8 364.8z" fill="#ff9900" stroke="#ff9900"/><path d="M626.1 361.1L651.3 370.1L637.5 383.1L612.1 373.8z" fill="#ff9d00" stroke="#ff9d00"/><path d="M651.3 370.1L676.7 379.2L663 392.6L637.5 383.1z" fill="#ffa100" stroke="#ffa100"/><path d="M676.7 379.2L702.2 388.6L688.5 402.3L663 392.6z" fill="#ffa500" stroke="#ffa500"/><path d="M702.2 388.6L727.8 398.1L714.2 412.2L688.5 402.3z" fill="#ffa900" stroke="#ffa900"/><path d="M727.8 398.1L753.4 407.9L739.9 422.3L714.2 412.2z" fill="#ffad00" stroke="#ffad00"/><path d="M753.4 407.9L779.1 417.9L765.7 432.6L739.9 422.3z" fill="#ffb200" stroke="#ffb200"/><path d="M779.1 417.9L804.9 428.1L791.6 443.1L765.7 432.6z" fill="#ffb600" stroke="#ffb600"/><path d="M804.9 428.1L830.8 438.5L817.6 453.9L791.6 443.1z" fill="#ffbb00" stroke="#ffbb00"/><path d="M830.8 438.5L856.8 449.1L843.7 464.8L817.6 453.9z" fill="#ffc000" stroke="#ffc000"/><path d="M856.8 449.1L882.9 459.9L869.8 476L843.7 464.8z" fill="#ffc400" stroke="#ffc400"/><path d="M882.9 459.9L909 471L896 487.4L869.8 476z" fill="#ffc900" stroke="#ffc900"/><path d="M909 471L935.2 482.2L922.4 499L896 487.4z" fill="#ffcf00" stroke="#ffcf00"/><path d="M935.2 482.2L961.5 493.7L948.7 510.8L922.4 499z" fill="#ffd400" stroke="#ffd400"/><path d="M961.5 493.7L987.9 505.4L975.2 522.9L948.7 510.8z" fill="#ffd900" stroke="#ffd900"/><path d="M987.9 505.4L1014.3 517.3L1001.7 535.1L975.2 522.9z" fill="#ffde00" stroke="#ffde00"/><path d="M1014.3 517.3L1040.9 529.4L1028.3 547.6L1001.7 535.1z" fill="#ffe300" stroke="#ffe300"/><path d="M1040.9 529.4L1067.5 541.8L1055 560.3L1028.3 547.6z" fill="#ffe800" stroke="#ffe800"/><path d="M1067.5 541.8L1094.1 554.3L1081.8 573.2L1055 560.3z" fill="#ffed00" stroke="#ffed00"/><path d="M1094.1 554.3L1120.9 567.1L1108.6 586.3L1081.8 573.2z" fill="#fff200" stroke="#fff200"/><path d="M1120.9 567.1L1147.7 580.1L1135.5 599.6L1108.6 586.3z" fill="#fff700" stroke="#fff700"/><path d="M1147.7 580.1L1174.6 593.3L1162.5 613.2L1135.5 599.6z" fill="#fffc00" stroke="#fffc00"/><path d="M1174.6 593.3L1201.6 606.7L1189.5 626.9L1162.5 613.2z" fill="#f7fe00" stroke="#f7fe00"/><path d="M1201.6 606.7L1228.6 620.3L1216.6 640.9L1189.5 626.9z" fill="#e7fc00" stroke="#e7fc00"/><path d="M1228.6 620.3L1255.7 634.2L1243.8 655.1L1216.6 640.9z" fill="#d7fa00" stroke="#d7fa00"/><path d="M1255.7 634.2L1282.8 648.2L1271.1 669.5L1243.8 655.1z" fill="#bdf700" stroke="#bdf700"/><path d="M1282.8 648.2L1310.1 662.5L1298.4 684.2L1271.1 669.5z" fill="#a0f400" stroke="#a0f400"/><path d="M1310.1 662.5L1337.4 677L1325.7 699L1298.4 684.2z" fill="#7ff200" stroke="#7ff200"/><path d="M1337.4 677L1364.7 691.7L1353.2 714.1L1325.7 699z" fill="#5eef00" stroke="#5eef00"/><path d="M1364.7 691.7L1392.1 706.7L1380.7 729.4L1353.2 714.1z" fill="#37ec00" stroke="#37ec00"/><path d="M1392.1 706.7L1419.6 721.8L1408.2 744.9L1380.7 729.4z" fill="#10e900" stroke="#10e900"/><path d="M1419.6 721.8L1447.1 737.2L1435.8 760.6L1408.2 744.9z" fill="#00e700" stroke="#00e700"/><path d="M1447.1 737.2L1474.7 752.8L1463.5 776.6L1435.8 760.6z" fill="#00e400" stroke="#00e400"/><path d="M1474.7 752.8L1502.4 768.6L1491.2 792.7L1463.5 776.6z" fill="#00e200" stroke="#00e200"/><path d="M1502.4 768.6L1530.1 784.6L1519 809.1L1491.2 792.7z" fill="#00df00" stroke="#00df00"/><path d="M1530.1 784.6L1557.9 800.9L1546.8 825.7L1519 809.1z" fill="#00dd00" stroke="#00dd00"/><path d="M1557.9 800.9L1585.7 817.3L1574.7 842.5L1546.8 825.7z" fill="#00d400" stroke="#00d400"/><path d="M511.5 338.9L536.5 347.3L522.2 359.2L497 350.5z" fill="#ff8f00" stroke="#ff8f00"/><path d="M536.5 347.3L561.6 355.9L547.4 368.2L522.2 359.2z" fill="#ff9400" stroke="#ff9400"/><path d="M561.6 355.9L586.8 364.8L572.7 377.4L547.4 368.2z" fill="#ff9900" stroke="#ff9900"/><path d="M586.8 364.8L612.1 373.8L598.1 386.7L572.7 377.4z" fill="#ff9c00" stroke="#ff9c00"/><path d="M612.1 373.8L637.5 383.1L623.5 396.3L598.1 386.7z" fill="#ffa000" stroke="#ffa000"/><path d="M637.5 383.1L663 392.6L649.1 406.2L623.5 396.3z" fill="#ffa400" stroke="#ffa400"/><path d="M663 392.6L688.5 402.3L674.8 416.2L649.1 406.2z" fill="#ffa900" stroke="#ffa900"/><path d="M688.5 402.3L714.2 412.2L700.5 426.4L674.8 416.2z" fill="#ffad00" stroke="#ffad00"/><path d="M714.2 412.2L739.9 422.3L726.3 436.9L700.5 426.4z" fill="#ffb100" stroke="#ffb100"/><path d="M739.9 422.3L765.7 432.6L752.2 447.5L726.3 436.9z" fill="#ffb600" stroke="#ffb600"/><path d="M765.7 432.6L791.6 443.1L778.2 458.4L752.2 447.5z" fill="#ffbb00" stroke="#ffbb00"/><path d="M791.6 443.1L817.6 453.9L804.3 469.5L778.2 458.4z" fill="#ffbf00" stroke="#ffbf00"/><path d="M817.6 453.9L843.7 464.8L830.5 480.8L804.3 469.5z" fill="#ffc400" stroke="#ffc400"/><path d="M843.7 464.8L869.8 476L856.7 492.3L830.5 480.8z" fill="#ffca00" stroke="#ffca00"/><path d="M869.8 476L896 487.4L883 504L856.7 492.3z" fill="#ffcf00" stroke="#ffcf00"/><path d="M896 487.4L922.4 499L909.4 516L883 504z" fill="#ffd400" stroke="#ffd400"/><path d="M922.4 499L948.7 510.8L935.9 528.1L909.4 516z" fill="#ffd900" stroke="#ffd900"/><path d="M948.7 510.8L975.2 522.9L962.4 540.5L935.9 528.1z" fill="#ffde00" stroke="#ffde00"/><path d="M975.2 522.9L1001.7 535.1L989 553.1L962.4 540.5z" fill="#ffe300" stroke="#ffe300"/><path d="M1001.7 535.1L1028.3 547.6L1015.7 565.9L989 553.1z" fill="#ffe800" stroke="#ffe800"/><path d="M1028.3 547.6L1055 560.3L1042.5 579L1015.7 565.9z" fill="#ffed00" stroke="#ffed00"/><path d="M1055 560.3L1081.8 573.2L1069.3 592.2L1042.5 579z" fill="#fff200" stroke="#fff200"/><path d="M1081.8 573.2L1108.6 586.3L1096.3 605.7L1069.3 592.2z" fill="#fff700" stroke="#fff700"/><path d="M1108.6 586.3L1135.5 599.6L1123.2 619.4L1096.3 605.7z" fill="#fffd00" stroke="#fffd00"/><path d="M1135.5 599.6L1162.5 613.2L1150.3 633.3L1123.2 619.4z" fill="#f5fe00" stroke="#f5fe00"/><path d="M1162.5 613.2L1189.5 626.9L1177.4 647.4L1150.3 633.3z" fill="#e5fc00" stroke="#e5fc00"/><path d="M1189.5 626.9L1216.6 640.9L1204.6 661.7L1177.4 647.4z" fill="#d4fa00" stroke="#d4fa00"/><path d="M1216.6 640.9L1243.8 655.1L1231.9 676.3L1204.6 661.7z" fill="#b9f700" stroke="#b9f700"/><path d="M1243.8 655.1L1271.1 669.5L1259.2 691.1L1231.9 676.3z" fill="#9bf400" stroke="#9bf400"/><path d="M1271.1 669.5L1298.4 684.2L1286.6 706.1L1259.2 691.1z" fill="#7af200" stroke="#7af200"/><path d="M1298.4 684.2L1325.7 699L1314 721.3L1286.6 706.1z" fill="#57ef00" stroke="#57ef00"/><path d="M1325.7 699L1353.2 714.1L1341.5 736.7L1314 721.3z" fill="#31ec00" stroke="#31ec00"/><path d="M1353.2 714.1L1380.7 729.4L1369.1 752.4L1341.5 736.7z" fill="#09e900" stroke="#09e900"/><path d="M1380.7 729.4L1408.2 744.9L1396.7 768.2L1369.1 752.4z" fill="#00e600" stroke="#00e600"/><path d="M1408.2 744.9L1435.8 760.6L1424.4 784.3L1396.7 768.2z" fill="#00e400" stroke="#00e400"/><path d="M1435.8 760.6L1463.5 776.6L1452.1 800.6L1424.4 784.3z" fill="#00e100" stroke="#00e100"/><path d="M1463.5 776.6L1491.2 792.7L1479.9 817.1L1452.1 800.6z" fill="#00df00" stroke="#00df00"/><path d="M1491.2 792.7L1519 809.1L1507.8 833.9L1479.9 817.1z" fill="#00dc00" stroke="#00dc00"/><path d="M1519 809.1L1546.8 825.7L1535.7 850.8L1507.8 833.9z" fill="#00d200" stroke="#00d200"/><path d="M1546.8 825.7L1574.7 842.5L1563.7 868L1535.7 850.8z" fill="#00c701" stroke="#00c701"/><path d="M497 350.5L522.2 359.2L507.7 371.3L482.5 362.2z" fill="#ff9300" stroke="#ff9300"/><path d="M522.2 359.2L547.4 368.2L533 380.6L507.7 371.3z" fill="#ff9800" stroke="#ff9800"/><path d="M547.4 368.2L572.7 377.4L558.4 390.1L533 380.6z" fill="#ff9c00" stroke="#ff9c00"/><path d="M572.7 377.4L598.1 386.7L583.9 399.8L558.4 390.1z" fill="#ffa000" stroke="#ffa000"/><path d="M598.1 386.7L623.5 396.3L609.5 409.8L583.9 399.8z" fill="#ffa400" stroke="#ffa400"/><path d="M623.5 396.3L649.1 406.2L635.1 419.9L609.5 409.8z" fill="#ffa800" stroke="#ffa800"/><path d="M649.1 406.2L674.8 416.2L660.9 430.3L635.1 419.9z" fill="#ffac00" stroke="#ffac00"/><path d="M674.8 416.2L700.5 426.4L686.7 440.8L660.9 430.3z" fill="#ffb100" stroke="#ffb100"/><path d="M700.5 426.4L726.3 436.9L712.6 451.6L686.7 440.8z" fill="#ffb500" stroke="#ffb500"/><path d="M726.3 436.9L752.2 447.5L738.6 462.6L712.6 451.6z" fill="#ffba00" stroke="#ffba00"/><path d="M752.2 447.5L778.2 458.4L764.7 473.8L738.6 462.6z" fill="#ffbf00" stroke="#ffbf00"/><path d="M778.2 458.4L804.3 469.5L790.9 485.3L764.7 473.8z" fill="#ffc400" stroke="#ffc400"/><path d="M804.3 469.5L830.5 480.8L817.1 496.9L790.9 485.3z" fill="#ffc900" stroke="#ffc900"/><path d="M830.5 480.8L856.7 492.3L843.4 508.8L817.1 496.9z" fill="#ffcf00" stroke="#ffcf00"/><path d="M856.7 492.3L883 504L869.9 520.9L843.4 508.8z" fill="#ffd400" stroke="#ffd400"/><path d="M883 504L909.4 516L896.3 533.2L869.9 520.9z" fill="#ffd900" stroke="#ffd900"/><path d="M909.4 516L935.9 528.1L922.9 545.7L896.3 533.2z" fill="#ffde00" stroke="#ffde00"/><path d="M935.9 528.1L962.4 540.5L949.5 558.4L922.9 545.7z" fill="#ffe300" stroke="#ffe300"/><path d="M962.4 540.5L989 553.1L976.2 571.3L949.5 558.4z" fill="#ffe800" stroke="#ffe800"/><path d="M989 553.1L1015.7 565.9L1003 584.5L976.2 571.3z" fill="#ffed00" stroke="#ffed00"/><path d="M1015.7 565.9L1042.5 579L1029.9 597.9L1003 584.5z" fill="#fff300" stroke="#fff300"/><path d="M1042.5 579L1069.3 592.2L1056.8 611.5L1029.9 597.9z" fill="#fff800" stroke="#fff800"/><path d="M1069.3 592.2L1096.3 605.7L1083.8 625.3L1056.8 611.5z" fill="#fffd00" stroke="#fffd00"/><path d="M1096.3 605.7L1123.2 619.4L1110.9 639.4L1083.8 625.3z" fill="#f4fe00" stroke="#f4fe00"/><path d="M1123.2 619.4L1150.3 633.3L1138 653.6L1110.9 639.4z" fill="#e4fc00" stroke="#e4fc00"/><path d="M1150.3 633.3L1177.4 647.4L1165.2 668.1L1138 653.6z" fill="#d1f900" stroke="#d1f900"/><path d="M1177.4 647.4L1204.6 661.7L1192.5 682.8L1165.2 668.1z" fill="#b6f600" stroke="#b6f600"/><path d="M1204.6 661.7L1231.9 676.3L1219.8 697.7L1192.5 682.8z" fill="#97f400" stroke="#97f400"/><path d="M1231.9 676.3L1259.2 691.1L1247.2 712.8L1219.8 697.7z" fill="#76f100" stroke="#76f100"/><path d="M1259.2 691.1L1286.6 706.1L1274.7 728.2L1247.2 712.8z" fill="#52ef00" stroke="#52ef00"/><path d="M1286.6 706.1L1314 721.3L1302.2 743.8L1274.7 728.2z" fill="#2beb00" stroke="#2beb00"/><path d="M1314 721.3L1341.5 736.7L1329.8 759.5L1302.2 743.8z" fill="#03e800" stroke="#03e800"/><path d="M1341.5 736.7L1369.1 752.4L1357.4 775.6L1329.8 759.5z" fill="#00e600" stroke="#00e600"/><path d="M1369.1 752.4L1396.7 768.2L1385.2 791.8L1357.4 775.6z" fill="#00e300" stroke="#00e300"/><path d="M1396.7 768.2L1424.4 784.3L1412.9 808.2L1385.2 791.8z" fill="#00e100" stroke="#00e100"/><path d="M1424.4 784.3L1452.1 800.6L1440.7 824.9L1412.9 808.2z" fill="#00de00" stroke="#00de00"/><path d="M1452.1 800.6L1479.9 817.1L1468.6 841.8L1440.7 824.9z" fill="#00db00" stroke="#00db00"/><path d="M1479.9 817.1L1507.8 833.9L1496.5 858.9L1468.6 841.8z" fill="#00d000" stroke="#00d000"/><path d="M1507.8 833.9L1535.7 850.8L1524.5 876.2L1496.5 858.9z" fill="#00c502" stroke="#00c502"/><path d="M1535.7 850.8L1563.7 868L1552.5 893.7L1524.5 876.2z" fill="#00bb08" stroke="#00bb08"/><path d="M482.5 362.2L507.7 371.3L493.2 383.6L467.8 374.1z" fill="#ff9600" stroke="#ff9600"/><path d="M507.7 371.3L533 380.6L518.6 393.2L493.2 383.6z" fill="#ff9b00" stroke="#ff9b00"/><path d="M533 380.6L558.4 390.1L544.1 403L518.6 393.2z" fill="#ff9f00" stroke="#ff9f00"/><path d="M558.4 390.1L583.9 399.8L569.6 413.1L544.1 403z" fill="#ffa300" stroke="#ffa300"/><path d="M583.9 399.8L609.5 409.8L595.3 423.4L569.6 413.1z" fill="#ffa700" stroke="#ffa700"/><path d="M609.5 409.8L635.1 419.9L621.1 433.9L595.3 423.4z" fill="#ffac00" stroke="#ffac00"/><path d="M635.1 419.9L660.9 430.3L646.9 444.6L621.1 433.9z" fill="#ffb000" stroke="#ffb000"/><path d="M660.9 430.3L686.7 440.8L672.8 455.5L646.9 444.6z" fill="#ffb500" stroke="#ffb500"/><path d="M686.7 440.8L712.6 451.6L698.8 466.6L672.8 455.5z" fill="#ffba00" stroke="#ffba00"/><path d="M712.6 451.6L738.6 462.6L724.9 477.9L698.8 466.6z" fill="#ffbf00" stroke="#ffbf00"/><path d="M738.6 462.6L764.7 473.8L751.1 489.5L724.9 477.9z" fill="#ffc400" stroke="#ffc400"/><path d="M764.7 473.8L790.9 485.3L777.4 501.3L751.1 489.5z" fill="#ffc900" stroke="#ffc900"/><path d="M790.9 485.3L817.1 496.9L803.7 513.3L777.4 501.3z" fill="#ffce00" stroke="#ffce00"/><path d="M817.1 496.9L843.4 508.8L830.1 525.5L803.7 513.3z" fill="#ffd400" stroke="#ffd400"/><path d="M843.4 508.8L869.9 520.9L856.6 537.9L830.1 525.5z" fill="#ffd900" stroke="#ffd900"/><path d="M869.9 520.9L896.3 533.2L883.2 550.6L856.6 537.9z" fill="#ffde00" stroke="#ffde00"/><path d="M896.3 533.2L922.9 545.7L909.8 563.4L883.2 550.6z" fill="#ffe300" stroke="#ffe300"/><path d="M922.9 545.7L949.5 558.4L936.5 576.5L909.8 563.4z" fill="#ffe800" stroke="#ffe800"/><path d="M949.5 558.4L976.2 571.3L963.3 589.8L936.5 576.5z" fill="#ffed00" stroke="#ffed00"/><path d="M976.2 571.3L1003 584.5L990.2 603.3L963.3 589.8z" fill="#fff300" stroke="#fff300"/><path d="M1003 584.5L1029.9 597.9L1017.2 617L990.2 603.3z" fill="#fff800" stroke="#fff800"/><path d="M1029.9 597.9L1056.8 611.5L1044.2 631L1017.2 617z" fill="#fffe00" stroke="#fffe00"/><path d="M1056.8 611.5L1083.8 625.3L1071.3 645.2L1044.2 631z" fill="#f3fd00" stroke="#f3fd00"/><path d="M1083.8 625.3L1110.9 639.4L1098.4 659.6L1071.3 645.2z" fill="#e3fb00" stroke="#e3fb00"/><path d="M1110.9 639.4L1138 653.6L1125.6 674.2L1098.4 659.6z" fill="#cff900" stroke="#cff900"/><path d="M1138 653.6L1165.2 668.1L1152.9 689L1125.6 674.2z" fill="#b3f600" stroke="#b3f600"/><path d="M1165.2 668.1L1192.5 682.8L1180.3 704.1L1152.9 689z" fill="#94f300" stroke="#94f300"/><path d="M1192.5 682.8L1219.8 697.7L1207.7 719.3L1180.3 704.1z" fill="#73f100" stroke="#73f100"/><path d="M1219.8 697.7L1247.2 712.8L1235.2 734.8L1207.7 719.3z" fill="#4eee00" stroke="#4eee00"/><path d="M1247.2 712.8L1274.7 728.2L1262.7 750.5L1235.2 734.8z" fill="#27eb00" stroke="#27eb00"/><path d="M1274.7 728.2L1302.2 743.8L1290.3 766.5L1262.7 750.5z" fill="#00e800" stroke="#00e800"/><path d="M1302.2 743.8L1329.8 759.5L1318 782.6L1290.3 766.5z" fill="#00e500" stroke="#00e500"/><path d="M1329.8 759.5L1357.4 775.6L1345.7 799L1318 782.6z" fill="#00e300" stroke="#00e300"/><path d="M1357.4 775.6L1385.2 791.8L1373.5 815.6L1345.7 799z" fill="#00e000" stroke="#00e000"/><path d="M1385.2 791.8L1412.9 808.2L1401.3 832.4L1373.5 815.6z" fill="#00de00" stroke="#00de00"/><path d="M1412.9 808.2L1440.7 824.9L1429.2 849.4L1401.3 832.4z" fill="#00d900" stroke="#00d900"/><path d="M1440.7 824.9L1468.6 841.8L1457.2 866.7L1429.2 849.4z" fill="#00ce00" stroke="#00ce00"/><path d="M1468.6 841.8L1496.5 858.9L1485.2 884.1L1457.2 866.7z" fill="#00c303" stroke="#00c303"/><path d="M1496.5 858.9L1524.5 876.2L1513.2 901.8L1485.2 884.1z" fill="#00b909" stroke="#00b909"/><path d="M1524.5 876.2L1552.5 893.7L1541.3 919.7L1513.2 901.8z" fill="#00af18" stroke="#00af18"/><path d="M467.8 374.1L493.2 383.6L478.5 396L453.1 386.3z" fill="#ff9900" stroke="#ff9900"/><path d="M493.2 383.6L518.6 393.2L504 406L478.5 396z" fill="#ff9d00" stroke="#ff9d00"/><path d="M518.6 393.2L544.1 403L529.6 416.2L504 406z" fill="#ffa200" stroke="#ffa200"/><path d="M544.1 403L569.6 413.1L555.2 426.6L529.6 416.2z" fill="#ffa600" stroke="#ffa600"/><path d="M569.6 413.1L595.3 423.4L581 437.2L555.2 426.6z" fill="#ffab00" stroke="#ffab00"/><path d="M595.3 423.4L621.1 433.9L606.9 448L581 437.2z" fill="#ffaf00" stroke="#ffaf00"/><path d="M621.1 433.9L646.9 444.6L632.8 459L606.9 448z" fill="#ffb400" stroke="#ffb400"/><path d="M646.9 444.6L672.8 455.5L658.8 470.3L632.8 459z" fill="#ffb900" stroke="#ffb900"/><path d="M672.8 455.5L698.8 466.6L684.9 481.8L658.8 470.3z" fill="#ffbe00" stroke="#ffbe00"/><path d="M698.8 466.6L724.9 477.9L711.1 493.5L684.9 481.8z" fill="#ffc300" stroke="#ffc300"/><path d="M724.9 477.9L751.1 489.5L737.4 505.4L711.1 493.5z" fill="#ffc800" stroke="#ffc800"/><path d="M751.1 489.5L777.4 501.3L763.7 517.5L737.4 505.4z" fill="#ffce00" stroke="#ffce00"/><path d="M777.4 501.3L803.7 513.3L790.2 529.8L763.7 517.5z" fill="#ffd300" stroke="#ffd300"/><path d="M803.7 513.3L830.1 525.5L816.7 542.4L790.2 529.8z" fill="#ffd900" stroke="#ffd900"/><path d="M830.1 525.5L856.6 537.9L843.2 555.2L816.7 542.4z" fill="#ffde00" stroke="#ffde00"/><path d="M856.6 537.9L883.2 550.6L869.9 568.2L843.2 555.2z" fill="#ffe300" stroke="#ffe300"/><path d="M883.2 550.6L909.8 563.4L896.6 581.4L869.9 568.2z" fill="#ffe800" stroke="#ffe800"/><path d="M909.8 563.4L936.5 576.5L923.5 594.8L896.6 581.4z" fill="#ffed00" stroke="#ffed00"/><path d="M936.5 576.5L963.3 589.8L950.3 608.5L923.5 594.8z" fill="#fff300" stroke="#fff300"/><path d="M963.3 589.8L990.2 603.3L977.3 622.3L950.3 608.5z" fill="#fff800" stroke="#fff800"/><path d="M990.2 603.3L1017.2 617L1004.3 636.4L977.3 622.3z" fill="#fffe00" stroke="#fffe00"/><path d="M1017.2 617L1044.2 631L1031.4 650.7L1004.3 636.4z" fill="#f3fd00" stroke="#f3fd00"/><path d="M1044.2 631L1071.3 645.2L1058.6 665.3L1031.4 650.7z" fill="#e2fb00" stroke="#e2fb00"/><path d="M1071.3 645.2L1098.4 659.6L1085.9 680L1058.6 665.3z" fill="#cef900" stroke="#cef900"/><path d="M1098.4 659.6L1125.6 674.2L1113.2 695L1085.9 680z" fill="#b2f600" stroke="#b2f600"/><path d="M1125.6 674.2L1152.9 689L1140.5 710.2L1113.2 695z" fill="#92f300" stroke="#92f300"/><path d="M1152.9 689L1180.3 704.1L1168 725.6L1140.5 710.2z" fill="#71f100" stroke="#71f100"/><path d="M1180.3 704.1L1207.7 719.3L1195.5 741.2L1168 725.6z" fill="#4bee00" stroke="#4bee00"/><path d="M1207.7 719.3L1235.2 734.8L1223 757.1L1195.5 741.2z" fill="#23eb00" stroke="#23eb00"/><path d="M1235.2 734.8L1262.7 750.5L1250.7 773.2L1223 757.1z" fill="#00e800" stroke="#00e800"/><path d="M1262.7 750.5L1290.3 766.5L1278.4 789.4L1250.7 773.2z" fill="#00e500" stroke="#00e500"/><path d="M1290.3 766.5L1318 782.6L1306.1 806L1278.4 789.4z" fill="#00e300" stroke="#00e300"/><path d="M1318 782.6L1345.7 799L1333.9 822.7L1306.1 806z" fill="#00e000" stroke="#00e000"/><path d="M1345.7 799L1373.5 815.6L1361.8 839.6L1333.9 822.7z" fill="#00de00" stroke="#00de00"/><path d="M1373.5 815.6L1401.3 832.4L1389.7 856.8L1361.8 839.6z" fill="#00d800" stroke="#00d800"/><path d="M1401.3 832.4L1429.2 849.4L1417.6 874.2L1389.7 856.8z" fill="#00cd00" stroke="#00cd00"/><path d="M1429.2 849.4L1457.2 866.7L1445.7 891.8L1417.6 874.2z" fill="#00c204" stroke="#00c204"/><path d="M1457.2 866.7L1485.2 884.1L1473.7 909.6L1445.7 891.8z" fill="#00b80a" stroke="#00b80a"/><path d="M1485.2 884.1L1513.2 901.8L1501.9 927.7L1473.7 909.6z" fill="#00ad1b" stroke="#00ad1b"/><path d="M1513.2 901.8L1541.3 919.7L1530 945.9L1501.9 927.7z" fill="#00a134" stroke="#00a134"/><path d="M453.1 386.3L478.5 396L463.7 408.6L438.2 398.6z" fill="#ff9c00" stroke="#ff9c00"/><path d="M478.5 396L504 406L489.3 419L463.7 408.6z" fill="#ffa000" stroke="#ffa000"/><path d="M504 406L529.6 416.2L515 429.5L489.3 419z" fill="#ffa500" stroke="#ffa500"/><path d="M529.6 416.2L555.2 426.6L540.7 440.2L515 429.5z" fill="#ffa900" stroke="#ffa900"/><path d="M555.2 426.6L581 437.2L566.6 451.2L540.7 440.2z" fill="#ffae00" stroke="#ffae00"/><path d="M581 437.2L606.9 448L592.5 462.3L566.6 451.2z" fill="#ffb300" stroke="#ffb300"/><path d="M606.9 448L632.8 459L618.6 473.7L592.5 462.3z" fill="#ffb800" stroke="#ffb800"/><path d="M632.8 459L658.8 470.3L644.7 485.3L618.6 473.7z" fill="#ffbd00" stroke="#ffbd00"/><path d="M658.8 470.3L684.9 481.8L670.9 497.1L644.7 485.3z" fill="#ffc200" stroke="#ffc200"/><path d="M684.9 481.8L711.1 493.5L697.2 509.2L670.9 497.1z" fill="#ffc800" stroke="#ffc800"/><path d="M711.1 493.5L737.4 505.4L723.5 521.4L697.2 509.2z" fill="#ffcd00" stroke="#ffcd00"/><path d="M737.4 505.4L763.7 517.5L750 533.9L723.5 521.4z" fill="#ffd300" stroke="#ffd300"/><path d="M763.7 517.5L790.2 529.8L776.5 546.6L750 533.9z" fill="#ffd800" stroke="#ffd800"/><path d="M790.2 529.8L816.7 542.4L803.1 559.5L776.5 546.6z" fill="#ffdd00" stroke="#ffdd00"/><path d="M816.7 542.4L843.2 555.2L829.8 572.6L803.1 559.5z" fill="#ffe200" stroke="#ffe200"/><path d="M843.2 555.2L869.9 568.2L856.5 586L829.8 572.6z" fill="#ffe800" stroke="#ffe800"/><path d="M869.9 568.2L896.6 581.4L883.4 599.6L856.5 586z" fill="#ffed00" stroke="#ffed00"/><path d="M896.6 581.4L923.5 594.8L910.3 613.3L883.4 599.6z" fill="#fff200" stroke="#fff200"/><path d="M923.5 594.8L950.3 608.5L937.3 627.4L910.3 613.3z" fill="#fff800" stroke="#fff800"/><path d="M950.3 608.5L977.3 622.3L964.3 641.6L937.3 627.4z" fill="#fffe00" stroke="#fffe00"/><path d="M977.3 622.3L1004.3 636.4L991.4 656L964.3 641.6z" fill="#f3fd00" stroke="#f3fd00"/><path d="M1004.3 636.4L1031.4 650.7L1018.6 670.7L991.4 656z" fill="#e2fb00" stroke="#e2fb00"/><path d="M1031.4 650.7L1058.6 665.3L1045.9 685.6L1018.6 670.7z" fill="#cdf900" stroke="#cdf900"/><path d="M1058.6 665.3L1085.9 680L1073.2 700.7L1045.9 685.6z" fill="#b1f600" stroke="#b1f600"/><path d="M1085.9 680L1113.2 695L1100.6 716L1073.2 700.7z" fill="#91f300" stroke="#91f300"/><path d="M1113.2 695L1140.5 710.2L1128.1 731.6L1100.6 716z" fill="#6ff100" stroke="#6ff100"/><path d="M1140.5 710.2L1168 725.6L1155.6 747.4L1128.1 731.6z" fill="#49ee00" stroke="#49ee00"/><path d="M1168 725.6L1195.5 741.2L1183.2 763.4L1155.6 747.4z" fill="#21eb00" stroke="#21eb00"/><path d="M1195.5 741.2L1223 757.1L1210.8 779.6L1183.2 763.4z" fill="#00e800" stroke="#00e800"/><path d="M1223 757.1L1250.7 773.2L1238.5 796L1210.8 779.6z" fill="#00e500" stroke="#00e500"/><path d="M1250.7 773.2L1278.4 789.4L1266.3 812.7L1238.5 796z" fill="#00e300" stroke="#00e300"/><path d="M1278.4 789.4L1306.1 806L1294.1 829.5L1266.3 812.7z" fill="#00e000" stroke="#00e000"/><path d="M1306.1 806L1333.9 822.7L1322 846.6L1294.1 829.5z" fill="#00dd00" stroke="#00dd00"/><path d="M1333.9 822.7L1361.8 839.6L1349.9 863.9L1322 846.6z" fill="#00d700" stroke="#00d700"/><path d="M1361.8 839.6L1389.7 856.8L1377.9 881.5L1349.9 863.9z" fill="#00cb00" stroke="#00cb00"/><path d="M1389.7 856.8L1417.6 874.2L1406 899.2L1377.9 881.5z" fill="#00c104" stroke="#00c104"/><path d="M1417.6 874.2L1445.7 891.8L1434.1 917.2L1406 899.2z" fill="#00b70b" stroke="#00b70b"/><path d="M1445.7 891.8L1473.7 909.6L1462.2 935.4L1434.1 917.2z" fill="#00ac1d" stroke="#00ac1d"/><path d="M1473.7 909.6L1501.9 927.7L1490.4 953.8L1462.2 935.4z" fill="#009f39" stroke="#009f39"/><path d="M1501.9 927.7L1530 945.9L1518.7 972.4L1490.4 953.8z" fill="#008c5e" stroke="#008c5e"/><path d="M438.2 398.6L463.7 408.6L448.8 421.5L423.1 411z" fill="#ff9f00" stroke="#ff9f00"/><path d="M463.7 408.6L489.3 419L474.5 432.1L448.8 421.5z" fill="#ffa300" stroke="#ffa300"/><path d="M489.3 419L515 429.5L500.2 443L474.5 432.1z" fill="#ffa800" stroke="#ffa800"/><path d="M515 429.5L540.7 440.2L526.1 454.1L500.2 443z" fill="#ffad00" stroke="#ffad00"/><path d="M540.7 440.2L566.6 451.2L552.1 465.4L526.1 454.1z" fill="#ffb200" stroke="#ffb200"/><path d="M566.6 451.2L592.5 462.3L578.1 476.9L552.1 465.4z" fill="#ffb700" stroke="#ffb700"/><path d="M592.5 462.3L618.6 473.7L604.2 488.6L578.1 476.9z" fill="#ffbc00" stroke="#ffbc00"/><path d="M618.6 473.7L644.7 485.3L630.5 500.5L604.2 488.6z" fill="#ffc100" stroke="#ffc100"/><path d="M644.7 485.3L670.9 497.1L656.8 512.7L630.5 500.5z" fill="#ffc700" stroke="#ffc700"/><path d="M670.9 497.1L697.2 509.2L683.1 525.1L656.8 512.7z" fill="#ffcc00" stroke="#ffcc00"/><path d="M697.2 509.2L723.5 521.4L709.6 537.7L683.1 525.1z" fill="#ffd200" stroke="#ffd200"/><path d="M723.5 521.4L750 533.9L736.1 550.5L709.6 537.7z" fill="#ffd800" stroke="#ffd800"/><path d="M750 533.9L776.5 546.6L762.8 563.6L736.1 550.5z" fill="#ffdd00" stroke="#ffdd00"/><path d="M776.5 546.6L803.1 559.5L789.5 576.8L762.8 563.6z" fill="#ffe200" stroke="#ffe200"/><path d="M803.1 559.5L829.8 572.6L816.2 590.3L789.5 576.8z" fill="#ffe700" stroke="#ffe700"/><path d="M829.8 572.6L856.5 586L843.1 604L816.2 590.3z" fill="#ffed00" stroke="#ffed00"/><path d="M856.5 586L883.4 599.6L870 618L843.1 604z" fill="#fff200" stroke="#fff200"/><path d="M883.4 599.6L910.3 613.3L897 632.1L870 618z" fill="#fff800" stroke="#fff800"/><path d="M910.3 613.3L937.3 627.4L924.1 646.5L897 632.1z" fill="#fffd00" stroke="#fffd00"/><path d="M937.3 627.4L964.3 641.6L951.2 661.1L924.1 646.5z" fill="#f3fe00" stroke="#f3fe00"/><path d="M964.3 641.6L991.4 656L978.4 675.9L951.2 661.1z" fill="#e2fb00" stroke="#e2fb00"/><path d="M991.4 656L1018.6 670.7L1005.7 690.9L978.4 675.9z" fill="#cef900" stroke="#cef900"/><path d="M1018.6 670.7L1045.9 685.6L1033 706.2L1005.7 690.9z" fill="#b1f600" stroke="#b1f600"/><path d="M1045.9 685.6L1073.2 700.7L1060.5 721.6L1033 706.2z" fill="#91f300" stroke="#91f300"/><path d="M1073.2 700.7L1100.6 716L1087.9 737.3L1060.5 721.6z" fill="#6ff100" stroke="#6ff100"/><path d="M1100.6 716L1128.1 731.6L1115.5 753.2L1087.9 737.3z" fill="#49ee00" stroke="#49ee00"/><path d="M1128.1 731.6L1155.6 747.4L1143.1 769.4L1115.5 753.2z" fill="#20eb00" stroke="#20eb00"/><path d="M1155.6 747.4L1183.2 763.4L1170.8 785.7L1143.1 769.4z" fill="#00e700" stroke="#00e700"/><path d="M1183.2 763.4L1210.8 779.6L1198.5 802.3L1170.8 785.7z" fill="#00e500" stroke="#00e500"/><path d="M1210.8 779.6L1238.5 796L1226.3 819.1L1198.5 802.3z" fill="#00e200" stroke="#00e200"/><path d="M1238.5 796L1266.3 812.7L1254.1 836.1L1226.3 819.1z" fill="#00e000" stroke="#00e000"/><path d="M1266.3 812.7L1294.1 829.5L1282 853.4L1254.1 836.1z" fill="#00dd00" stroke="#00dd00"/><path d="M1294.1 829.5L1322 846.6L1310 870.8L1282 853.4z" fill="#00d600" stroke="#00d600"/><path d="M1322 846.6L1349.9 863.9L1338 888.5L1310 870.8z" fill="#00ca00" stroke="#00ca00"/><path d="M1349.9 863.9L1377.9 881.5L1366.1 906.4L1338 888.5z" fill="#00c005" stroke="#00c005"/><path d="M1377.9 881.5L1406 899.2L1394.2 924.5L1366.1 906.4z" fill="#00b60c" stroke="#00b60c"/><path d="M1406 899.2L1434.1 917.2L1422.4 942.8L1394.2 924.5z" fill="#00aa1f" stroke="#00aa1f"/><path d="M1434.1 917.2L1462.2 935.4L1450.6 961.4L1422.4 942.8z" fill="#009d3d" stroke="#009d3d"/><path d="M1462.2 935.4L1490.4 953.8L1478.9 980.2L1450.6 961.4z" fill="#008a61" stroke="#008a61"/><path d="M1490.4 953.8L1518.7 972.4L1507.2 999.2L1478.9 980.2z" fill="#007283" stroke="#007283"/><path d="M423.1 411L448.8 421.5L433.7 434.5L408 423.7z" fill="#ffa200" stroke="#ffa200"/><path d="M448.8 421.5L474.5 432.1L459.5 445.5L433.7 434.5z" fill="#ffa600" stroke="#ffa600"/><path d="M474.5 432.1L500.2 443L485.4 456.7L459.5 445.5z" fill="#ffab00" stroke="#ffab00"/><path d="M500.2 443L526.1 454.1L511.4 468.1L485.4 456.7z" fill="#ffb000" stroke="#ffb000"/><path d="M526.1 454.1L552.1 465.4L537.4 479.7L511.4 468.1z" fill="#ffb500" stroke="#ffb500"/><path d="M552.1 465.4L578.1 476.9L563.6 491.6L537.4 479.7z" fill="#ffbb00" stroke="#ffbb00"/><path d="M578.1 476.9L604.2 488.6L589.8 503.7L563.6 491.6z" fill="#ffc000" stroke="#ffc000"/><path d="M604.2 488.6L630.5 500.5L616.1 516L589.8 503.7z" fill="#ffc500" stroke="#ffc500"/><path d="M630.5 500.5L656.8 512.7L642.5 528.5L616.1 516z" fill="#ffcb00" stroke="#ffcb00"/><path d="M656.8 512.7L683.1 525.1L669 541.2L642.5 528.5z" fill="#ffd100" stroke="#ffd100"/><path d="M683.1 525.1L709.6 537.7L695.5 554.2L669 541.2z" fill="#ffd700" stroke="#ffd700"/><path d="M709.6 537.7L736.1 550.5L722.2 567.4L695.5 554.2z" fill="#ffdc00" stroke="#ffdc00"/><path d="M736.1 550.5L762.8 563.6L748.9 580.8L722.2 567.4z" fill="#ffe100" stroke="#ffe100"/><path d="M762.8 563.6L789.5 576.8L775.7 594.4L748.9 580.8z" fill="#ffe700" stroke="#ffe700"/><path d="M789.5 576.8L816.2 590.3L802.6 608.2L775.7 594.4z" fill="#ffec00" stroke="#ffec00"/><path d="M816.2 590.3L843.1 604L829.5 622.3L802.6 608.2z" fill="#fff100" stroke="#fff100"/><path d="M843.1 604L870 618L856.5 636.6L829.5 622.3z" fill="#fff700" stroke="#fff700"/><path d="M870 618L897 632.1L883.6 651.1L856.5 636.6z" fill="#fffd00" stroke="#fffd00"/><path d="M897 632.1L924.1 646.5L910.8 665.8L883.6 651.1z" fill="#f4fe00" stroke="#f4fe00"/><path d="M924.1 646.5L951.2 661.1L938 680.8L910.8 665.8z" fill="#e3fc00" stroke="#e3fc00"/><path d="M951.2 661.1L978.4 675.9L965.3 695.9L938 680.8z" fill="#cff900" stroke="#cff900"/><path d="M978.4 675.9L1005.7 690.9L992.7 711.3L965.3 695.9z" fill="#b2f600" stroke="#b2f600"/><path d="M1005.7 690.9L1033 706.2L1020.1 726.9L992.7 711.3z" fill="#92f300" stroke="#92f300"/><path d="M1033 706.2L1060.5 721.6L1047.6 742.8L1020.1 726.9z" fill="#6ff100" stroke="#6ff100"/><path d="M1060.5 721.6L1087.9 737.3L1075.2 758.8L1047.6 742.8z" fill="#49ee00" stroke="#49ee00"/><path d="M1087.9 737.3L1115.5 753.2L1102.8 775.1L1075.2 758.8z" fill="#20eb00" stroke="#20eb00"/><path d="M1115.5 753.2L1143.1 769.4L1130.5 791.6L1102.8 775.1z" fill="#00e700" stroke="#00e700"/><path d="M1143.1 769.4L1170.8 785.7L1158.3 808.3L1130.5 791.6z" fill="#00e500" stroke="#00e500"/><path d="M1170.8 785.7L1198.5 802.3L1186.1 825.3L1158.3 808.3z" fill="#00e200" stroke="#00e200"/><path d="M1198.5 802.3L1226.3 819.1L1214 842.4L1186.1 825.3z" fill="#00e000" stroke="#00e000"/><path d="M1226.3 819.1L1254.1 836.1L1241.9 859.8L1214 842.4z" fill="#00dd00" stroke="#00dd00"/><path d="M1254.1 836.1L1282 853.4L1269.9 877.4L1241.9 859.8z" fill="#00d500" stroke="#00d500"/><path d="M1282 853.4L1310 870.8L1297.9 895.3L1269.9 877.4z" fill="#00ca00" stroke="#00ca00"/><path d="M1310 870.8L1338 888.5L1326 913.3L1297.9 895.3z" fill="#00bf05" stroke="#00bf05"/><path d="M1338 888.5L1366.1 906.4L1354.2 931.6L1326 913.3z" fill="#00b50e" stroke="#00b50e"/><path d="M1366.1 906.4L1394.2 924.5L1382.4 950.1L1354.2 931.6z" fill="#00aa20" stroke="#00aa20"/><path d="M1394.2 924.5L1422.4 942.8L1410.6 968.8L1382.4 950.1z" fill="#009c40" stroke="#009c40"/><path d="M1422.4 942.8L1450.6 961.4L1438.9 987.7L1410.6 968.8z" fill="#008864" stroke="#008864"/><path d="M1450.6 961.4L1478.9 980.2L1467.3 1006.8L1438.9 987.7z" fill="#006f86" stroke="#006f86"/><path d="M1478.9 980.2L1507.2 999.2L1495.7 1026.2L1467.3 1006.8z" fill="#0053ac" stroke="#0053ac"/><path d="M408 423.7L433.7 434.5L418.5 447.7L392.7 436.5z" fill="#ffa500" stroke="#ffa500"/><path d="M433.7 434.5L459.5 445.5L444.4 459L418.5 447.7z" fill="#ffaa00" stroke="#ffaa00"/><path d="M459.5 445.5L485.4 456.7L470.4 470.6L444.4 459z" fill="#ffaf00" stroke="#ffaf00"/><path d="M485.4 456.7L511.4 468.1L496.5 482.3L470.4 470.6z" fill="#ffb400" stroke="#ffb400"/><path d="M511.4 468.1L537.4 479.7L522.7 494.3L496.5 482.3z" fill="#ffb900" stroke="#ffb900"/><path d="M537.4 479.7L563.6 491.6L548.9 506.5L522.7 494.3z" fill="#ffbf00" stroke="#ffbf00"/><path d="M563.6 491.6L589.8 503.7L575.2 519L548.9 506.5z" fill="#ffc400" stroke="#ffc400"/><path d="M589.8 503.7L616.1 516L601.7 531.6L575.2 519z" fill="#ffca00" stroke="#ffca00"/><path d="M616.1 516L642.5 528.5L628.2 544.5L601.7 531.6z" fill="#ffd000" stroke="#ffd000"/><path d="M642.5 528.5L669 541.2L654.7 557.6L628.2 544.5z" fill="#ffd600" stroke="#ffd600"/><path d="M669 541.2L695.5 554.2L681.4 570.9L654.7 557.6z" fill="#ffdb00" stroke="#ffdb00"/><path d="M695.5 554.2L722.2 567.4L708.1 584.4L681.4 570.9z" fill="#ffe000" stroke="#ffe000"/><path d="M722.2 567.4L748.9 580.8L734.9 598.2L708.1 584.4z" fill="#ffe600" stroke="#ffe600"/><path d="M748.9 580.8L775.7 594.4L761.8 612.2L734.9 598.2z" fill="#ffeb00" stroke="#ffeb00"/><path d="M775.7 594.4L802.6 608.2L788.8 626.4L761.8 612.2z" fill="#fff100" stroke="#fff100"/><path d="M802.6 608.2L829.5 622.3L815.8 640.8L788.8 626.4z" fill="#fff600" stroke="#fff600"/><path d="M829.5 622.3L856.5 636.6L842.9 655.4L815.8 640.8z" fill="#fffc00" stroke="#fffc00"/><path d="M856.5 636.6L883.6 651.1L870.1 670.3L842.9 655.4z" fill="#f6fe00" stroke="#f6fe00"/><path d="M883.6 651.1L910.8 665.8L897.4 685.4L870.1 670.3z" fill="#e5fc00" stroke="#e5fc00"/><path d="M910.8 665.8L938 680.8L924.7 700.7L897.4 685.4z" fill="#d1f900" stroke="#d1f900"/><path d="M938 680.8L965.3 695.9L952.1 716.2L924.7 700.7z" fill="#b4f600" stroke="#b4f600"/><path d="M965.3 695.9L992.7 711.3L979.6 732L952.1 716.2z" fill="#94f300" stroke="#94f300"/><path d="M992.7 711.3L1020.1 726.9L1007.1 748L979.6 732z" fill="#71f100" stroke="#71f100"/><path d="M1020.1 726.9L1047.6 742.8L1034.7 764.2L1007.1 748z" fill="#4aee00" stroke="#4aee00"/><path d="M1047.6 742.8L1075.2 758.8L1062.3 780.6L1034.7 764.2z" fill="#21eb00" stroke="#21eb00"/><path d="M1075.2 758.8L1102.8 775.1L1090.1 797.2L1062.3 780.6z" fill="#00e700" stroke="#00e700"/><path d="M1102.8 775.1L1130.5 791.6L1117.8 814.1L1090.1 797.2z" fill="#00e500" stroke="#00e500"/><path d="M1130.5 791.6L1158.3 808.3L1145.7 831.2L1117.8 814.1z" fill="#00e200" stroke="#00e200"/><path d="M1158.3 808.3L1186.1 825.3L1173.6 848.5L1145.7 831.2z" fill="#00e000" stroke="#00e000"/><path d="M1186.1 825.3L1214 842.4L1201.6 866L1173.6 848.5z" fill="#00dd00" stroke="#00dd00"/><path d="M1214 842.4L1241.9 859.8L1229.6 883.8L1201.6 866z" fill="#00d500" stroke="#00d500"/><path d="M1241.9 859.8L1269.9 877.4L1257.6 901.8L1229.6 883.8z" fill="#00c900" stroke="#00c900"/><path d="M1269.9 877.4L1297.9 895.3L1285.8 919.9L1257.6 901.8z" fill="#00bf05" stroke="#00bf05"/><path d="M1297.9 895.3L1326 913.3L1314 938.4L1285.8 919.9z" fill="#00b40e" stroke="#00b40e"/><path d="M1326 913.3L1354.2 931.6L1342.2 957L1314 938.4z" fill="#00a921" stroke="#00a921"/><path d="M1354.2 931.6L1382.4 950.1L1370.5 975.8L1342.2 957z" fill="#009b43" stroke="#009b43"/><path d="M1382.4 950.1L1410.6 968.8L1398.8 994.9L1370.5 975.8z" fill="#008666" stroke="#008666"/><path d="M1410.6 968.8L1438.9 987.7L1427.2 1014.2L1398.8 994.9z" fill="#006e88" stroke="#006e88"/><path d="M1438.9 987.7L1467.3 1006.8L1455.6 1033.7L1427.2 1014.2z" fill="#0051af" stroke="#0051af"/><path d="M1467.3 1006.8L1495.7 1026.2L1484.1 1053.5L1455.6 1033.7z" fill="#0031d3" stroke="#0031d3"/><path d="M392.7 436.5L418.5 447.7L403.2 461L377.3 449.6z" fill="#ffa800" stroke="#ffa800"/><path d="M418.5 447.7L444.4 459L429.3 472.7L403.2 461z" fill="#ffad00" stroke="#ffad00"/><path d="M444.4 459L470.4 470.6L455.3 484.6L429.3 472.7z" fill="#ffb200" stroke="#ffb200"/><path d="M470.4 470.6L496.5 482.3L481.5 496.8L455.3 484.6z" fill="#ffb700" stroke="#ffb700"/><path d="M496.5 482.3L522.7 494.3L507.8 509.1L481.5 496.8z" fill="#ffbd00" stroke="#ffbd00"/><path d="M522.7 494.3L548.9 506.5L534.1 521.7L507.8 509.1z" fill="#ffc200" stroke="#ffc200"/><path d="M548.9 506.5L575.2 519L560.6 534.5L534.1 521.7z" fill="#ffc800" stroke="#ffc800"/><path d="M575.2 519L601.7 531.6L587.1 547.5L560.6 534.5z" fill="#ffce00" stroke="#ffce00"/><path d="M601.7 531.6L628.2 544.5L613.7 560.7L587.1 547.5z" fill="#ffd400" stroke="#ffd400"/><path d="M628.2 544.5L654.7 557.6L640.4 574.2L613.7 560.7z" fill="#ffda00" stroke="#ffda00"/><path d="M654.7 557.6L681.4 570.9L667.1 587.8L640.4 574.2z" fill="#ffdf00" stroke="#ffdf00"/><path d="M681.4 570.9L708.1 584.4L693.9 601.7L667.1 587.8z" fill="#ffe500" stroke="#ffe500"/><path d="M708.1 584.4L734.9 598.2L720.9 615.8L693.9 601.7z" fill="#ffea00" stroke="#ffea00"/><path d="M734.9 598.2L761.8 612.2L747.8 630.2L720.9 615.8z" fill="#fff000" stroke="#fff000"/><path d="M761.8 612.2L788.8 626.4L774.9 644.7L747.8 630.2z" fill="#fff600" stroke="#fff600"/><path d="M788.8 626.4L815.8 640.8L802 659.5L774.9 644.7z" fill="#fffb00" stroke="#fffb00"/><path d="M815.8 640.8L842.9 655.4L829.2 674.5L802 659.5z" fill="#f8fe00" stroke="#f8fe00"/><path d="M842.9 655.4L870.1 670.3L856.5 689.8L829.2 674.5z" fill="#e7fc00" stroke="#e7fc00"/><path d="M870.1 670.3L897.4 685.4L883.9 705.2L856.5 689.8z" fill="#d4fa00" stroke="#d4fa00"/><path d="M897.4 685.4L924.7 700.7L911.3 720.9L883.9 705.2z" fill="#b7f600" stroke="#b7f600"/><path d="M924.7 700.7L952.1 716.2L938.8 736.8L911.3 720.9z" fill="#96f400" stroke="#96f400"/><path d="M952.1 716.2L979.6 732L966.3 752.9L938.8 736.8z" fill="#73f100" stroke="#73f100"/><path d="M979.6 732L1007.1 748L994 769.2L966.3 752.9z" fill="#4dee00" stroke="#4dee00"/><path d="M1007.1 748L1034.7 764.2L1021.6 785.8L994 769.2z" fill="#23eb00" stroke="#23eb00"/><path d="M1034.7 764.2L1062.3 780.6L1049.4 802.6L1021.6 785.8z" fill="#00e800" stroke="#00e800"/><path d="M1062.3 780.6L1090.1 797.2L1077.2 819.6L1049.4 802.6z" fill="#00e500" stroke="#00e500"/><path d="M1090.1 797.2L1117.8 814.1L1105.1 836.8L1077.2 819.6z" fill="#00e200" stroke="#00e200"/><path d="M1117.8 814.1L1145.7 831.2L1133 854.3L1105.1 836.8z" fill="#00e000" stroke="#00e000"/><path d="M1145.7 831.2L1173.6 848.5L1161 872L1133 854.3z" fill="#00dd00" stroke="#00dd00"/><path d="M1173.6 848.5L1201.6 866L1189 889.9L1161 872z" fill="#00d500" stroke="#00d500"/><path d="M1201.6 866L1229.6 883.8L1217.1 908L1189 889.9z" fill="#00c900" stroke="#00c900"/><path d="M1229.6 883.8L1257.6 901.8L1245.3 926.3L1217.1 908z" fill="#00bf05" stroke="#00bf05"/><path d="M1257.6 901.8L1285.8 919.9L1273.5 944.9L1245.3 926.3z" fill="#00b40f" stroke="#00b40f"/><path d="M1285.8 919.9L1314 938.4L1301.8 963.7L1273.5 944.9z" fill="#00a922" stroke="#00a922"/><path d="M1314 938.4L1342.2 957L1330.1 982.7L1301.8 963.7z" fill="#009a44" stroke="#009a44"/><path d="M1342.2 957L1370.5 975.8L1358.5 1001.9L1330.1 982.7z" fill="#008568" stroke="#008568"/><path d="M1370.5 975.8L1398.8 994.9L1386.9 1021.4L1358.5 1001.9z" fill="#006c8a" stroke="#006c8a"/><path d="M1398.8 994.9L1427.2 1014.2L1415.3 1041L1386.9 1021.4z" fill="#004fb1" stroke="#004fb1"/><path d="M1427.2 1014.2L1455.6 1033.7L1443.8 1060.9L1415.3 1041z" fill="#002fd5" stroke="#002fd5"/><path d="M1455.6 1033.7L1484.1 1053.5L1472.4 1081L1443.8 1060.9z" fill="#0014f0" stroke="#0014f0"/><path d="M377.3 449.6L403.2 461L387.8 474.6L361.8 462.8z" fill="#ffab00" stroke="#ffab00"/><path d="M403.2 461L429.3 472.7L413.9 486.7L387.8 474.6z" fill="#ffb000" stroke="#ffb000"/><path d="M429.3 472.7L455.3 484.6L440.1 498.9L413.9 486.7z" fill="#ffb500" stroke="#ffb500"/><path d="M455.3 484.6L481.5 496.8L466.4 511.4L440.1 498.9z" fill="#ffbb00" stroke="#ffbb00"/><path d="M481.5 496.8L507.8 509.1L492.8 524.1L466.4 511.4z" fill="#ffc100" stroke="#ffc100"/><path d="M507.8 509.1L534.1 521.7L519.2 537L492.8 524.1z" fill="#ffc600" stroke="#ffc600"/><path d="M534.1 521.7L560.6 534.5L545.8 550.2L519.2 537z" fill="#ffcc00" stroke="#ffcc00"/><path d="M560.6 534.5L587.1 547.5L572.4 563.5L545.8 550.2z" fill="#ffd300" stroke="#ffd300"/><path d="M587.1 547.5L613.7 560.7L599.1 577.1L572.4 563.5z" fill="#ffd900" stroke="#ffd900"/><path d="M613.7 560.7L640.4 574.2L625.9 590.9L599.1 577.1z" fill="#ffde00" stroke="#ffde00"/><path d="M640.4 574.2L667.1 587.8L652.7 605L625.9 590.9z" fill="#ffe300" stroke="#ffe300"/><path d="M667.1 587.8L693.9 601.7L679.7 619.2L652.7 605z" fill="#ffe900" stroke="#ffe900"/><path d="M693.9 601.7L720.9 615.8L706.7 633.7L679.7 619.2z" fill="#ffef00" stroke="#ffef00"/><path d="M720.9 615.8L747.8 630.2L733.7 648.4L706.7 633.7z" fill="#fff500" stroke="#fff500"/><path d="M747.8 630.2L774.9 644.7L760.9 663.3L733.7 648.4z" fill="#fffb00" stroke="#fffb00"/><path d="M774.9 644.7L802 659.5L788.1 678.5L760.9 663.3z" fill="#fbfe00" stroke="#fbfe00"/><path d="M802 659.5L829.2 674.5L815.4 693.8L788.1 678.5z" fill="#e9fc00" stroke="#e9fc00"/><path d="M829.2 674.5L856.5 689.8L842.8 709.4L815.4 693.8z" fill="#d7fa00" stroke="#d7fa00"/><path d="M856.5 689.8L883.9 705.2L870.3 725.3L842.8 709.4z" fill="#baf700" stroke="#baf700"/><path d="M883.9 705.2L911.3 720.9L897.8 741.3L870.3 725.3z" fill="#9af400" stroke="#9af400"/><path d="M911.3 720.9L938.8 736.8L925.4 757.6L897.8 741.3z" fill="#77f100" stroke="#77f100"/><path d="M938.8 736.8L966.3 752.9L953 774L925.4 757.6z" fill="#50ee00" stroke="#50ee00"/><path d="M966.3 752.9L994 769.2L980.7 790.8L953 774z" fill="#26eb00" stroke="#26eb00"/><path d="M994 769.2L1021.6 785.8L1008.5 807.7L980.7 790.8z" fill="#00e800" stroke="#00e800"/><path d="M1021.6 785.8L1049.4 802.6L1036.3 824.9L1008.5 807.7z" fill="#00e500" stroke="#00e500"/><path d="M1049.4 802.6L1077.2 819.6L1064.3 842.2L1036.3 824.9z" fill="#00e300" stroke="#00e300"/><path d="M1077.2 819.6L1105.1 836.8L1092.2 859.8L1064.3 842.2z" fill="#00e000" stroke="#00e000"/><path d="M1105.1 836.8L1133 854.3L1120.2 877.7L1092.2 859.8z" fill="#00dd00" stroke="#00dd00"/><path d="M1133 854.3L1161 872L1148.3 895.7L1120.2 877.7z" fill="#00d500" stroke="#00d500"/><path d="M1161 872L1189 889.9L1176.4 914L1148.3 895.7z" fill="#00ca00" stroke="#00ca00"/><path d="M1189 889.9L1217.1 908L1204.6 932.5L1176.4 914z" fill="#00bf05" stroke="#00bf05"/><path d="M1217.1 908L1245.3 926.3L1232.9 951.2L1204.6 932.5z" fill="#00b40f" stroke="#00b40f"/><path d="M1245.3 926.3L1273.5 944.9L1261.2 970.1L1232.9 951.2z" fill="#00a922" stroke="#00a922"/><path d="M1273.5 944.9L1301.8 963.7L1289.5 989.3L1261.2 970.1z" fill="#009a45" stroke="#009a45"/><path d="M1301.8 963.7L1330.1 982.7L1317.9 1008.6L1289.5 989.3z" fill="#008568" stroke="#008568"/><path d="M1330.1 982.7L1358.5 1001.9L1346.4 1028.2L1317.9 1008.6z" fill="#006c8b" stroke="#006c8b"/><path d="M1358.5 1001.9L1386.9 1021.4L1374.9 1048L1346.4 1028.2z" fill="#004eb3" stroke="#004eb3"/><path d="M1386.9 1021.4L1415.3 1041L1403.4 1068.1L1374.9 1048z" fill="#002ed6" stroke="#002ed6"/><path d="M1415.3 1041L1443.8 1060.9L1432 1088.3L1403.4 1068.1z" fill="#0013f1" stroke="#0013f1"/><path d="M1443.8 1060.9L1472.4 1081L1460.6 1108.8L1432 1088.3z" fill="#0001fe" stroke="#0001fe"/><path d="M361.8 462.8L387.8 474.6L372.3 488.4L346.2 476.2z" fill="#ffae00" stroke="#ffae00"/><path d="M387.8 474.6L413.9 486.7L398.5 500.8L372.3 488.4z" fill="#ffb300" stroke="#ffb300"/><path d="M413.9 486.7L440.1 498.9L424.8 513.4L398.5 500.8z" fill="#ffb900" stroke="#ffb900"/><path d="M440.1 498.9L466.4 511.4L451.2 526.2L424.8 513.4z" fill="#ffbf00" stroke="#ffbf00"/><path d="M466.4 511.4L492.8 524.1L477.7 539.3L451.2 526.2z" fill="#ffc500" stroke="#ffc500"/><path d="M492.8 524.1L519.2 537L504.2 552.6L477.7 539.3z" fill="#ffcb00" stroke="#ffcb00"/><path d="M519.2 537L545.8 550.2L530.9 566.1L504.2 552.6z" fill="#ffd100" stroke="#ffd100"/><path d="M545.8 550.2L572.4 563.5L557.6 579.8L530.9 566.1z" fill="#ffd700" stroke="#ffd700"/><path d="M572.4 563.5L599.1 577.1L584.4 593.8L557.6 579.8z" fill="#ffdd00" stroke="#ffdd00"/><path d="M599.1 577.1L625.9 590.9L611.3 607.9L584.4 593.8z" fill="#ffe200" stroke="#ffe200"/><path d="M625.9 590.9L652.7 605L638.2 622.3L611.3 607.9z" fill="#ffe800" stroke="#ffe800"/><path d="M652.7 605L679.7 619.2L665.3 636.9L638.2 622.3z" fill="#ffee00" stroke="#ffee00"/><path d="M679.7 619.2L706.7 633.7L692.4 651.8L665.3 636.9z" fill="#fff300" stroke="#fff300"/><path d="M706.7 633.7L733.7 648.4L719.5 666.8L692.4 651.8z" fill="#fff900" stroke="#fff900"/><path d="M733.7 648.4L760.9 663.3L746.8 682.1L719.5 666.8z" fill="#feff00" stroke="#feff00"/><path d="M760.9 663.3L788.1 678.5L774.1 697.7L746.8 682.1z" fill="#ecfd00" stroke="#ecfd00"/><path d="M788.1 678.5L815.4 693.8L801.5 713.4L774.1 697.7z" fill="#dafa00" stroke="#dafa00"/><path d="M815.4 693.8L842.8 709.4L829 729.4L801.5 713.4z" fill="#bff700" stroke="#bff700"/><path d="M842.8 709.4L870.3 725.3L856.6 745.5L829 729.4z" fill="#9ff400" stroke="#9ff400"/><path d="M870.3 725.3L897.8 741.3L884.2 761.9L856.6 745.5z" fill="#7bf200" stroke="#7bf200"/><path d="M897.8 741.3L925.4 757.6L911.9 778.6L884.2 761.9z" fill="#55ef00" stroke="#55ef00"/><path d="M925.4 757.6L953 774L939.6 795.4L911.9 778.6z" fill="#2beb00" stroke="#2beb00"/><path d="M953 774L980.7 790.8L967.4 812.5L939.6 795.4z" fill="#00e800" stroke="#00e800"/><path d="M980.7 790.8L1008.5 807.7L995.3 829.8L967.4 812.5z" fill="#00e500" stroke="#00e500"/><path d="M1008.5 807.7L1036.3 824.9L1023.2 847.4L995.3 829.8z" fill="#00e300" stroke="#00e300"/><path d="M1036.3 824.9L1064.3 842.2L1051.2 865.1L1023.2 847.4z" fill="#00e000" stroke="#00e000"/><path d="M1064.3 842.2L1092.2 859.8L1079.3 883.1L1051.2 865.1z" fill="#00dd00" stroke="#00dd00"/><path d="M1092.2 859.8L1120.2 877.7L1107.4 901.3L1079.3 883.1z" fill="#00d600" stroke="#00d600"/><path d="M1120.2 877.7L1148.3 895.7L1135.5 919.7L1107.4 901.3z" fill="#00ca00" stroke="#00ca00"/><path d="M1148.3 895.7L1176.4 914L1163.8 938.3L1135.5 919.7z" fill="#00bf05" stroke="#00bf05"/><path d="M1176.4 914L1204.6 932.5L1192 957.2L1163.8 938.3z" fill="#00b40e" stroke="#00b40e"/><path d="M1204.6 932.5L1232.9 951.2L1220.4 976.3L1192 957.2z" fill="#00a922" stroke="#00a922"/><path d="M1232.9 951.2L1261.2 970.1L1248.7 995.6L1220.4 976.3z" fill="#009a45" stroke="#009a45"/><path d="M1261.2 970.1L1289.5 989.3L1277.2 1015.1L1248.7 995.6z" fill="#008568" stroke="#008568"/><path d="M1289.5 989.3L1317.9 1008.6L1305.7 1034.9L1277.2 1015.1z" fill="#006c8b" stroke="#006c8b"/><path d="M1317.9 1008.6L1346.4 1028.2L1334.2 1054.8L1305.7 1034.9z" fill="#004eb3" stroke="#004eb3"/><path d="M1346.4 1028.2L1374.9 1048L1362.8 1075L1334.2 1054.8z" fill="#002dd7" stroke="#002dd7"/><path d="M1374.9 1048L1403.4 1068.1L1391.4 1095.4L1362.8 1075z" fill="#0013f1" stroke="#0013f1"/><path d="M1403.4 1068.1L1432 1088.3L1420 1116L1391.4 1095.4z" fill="#0000ff" stroke="#0000ff"/><path d="M1432 1088.3L1460.6 1108.8L1448.7 1136.9L1420 1116z" fill="#0000fc" stroke="#0000fc"/><path d="M346.2 476.2L372.3 488.4L356.6 502.4L330.4 489.9z" fill="#ffb100" stroke="#ffb100"/><path d="M372.3 488.4L398.5 500.8L382.9 515.1L356.6 502.4z" fill="#ffb700" stroke="#ffb700"/><path d="M398.5 500.8L424.8 513.4L409.3 528.1L382.9 515.1z" fill="#ffbc00" stroke="#ffbc00"/><path d="M424.8 513.4L451.2 526.2L435.8 541.3L409.3 528.1z" fill="#ffc200" stroke="#ffc200"/><path d="M451.2 526.2L477.7 539.3L462.4 554.7L435.8 541.3z" fill="#ffc800" stroke="#ffc800"/><path d="M477.7 539.3L504.2 552.6L489.1 568.3L462.4 554.7z" fill="#ffcf00" stroke="#ffcf00"/><path d="M504.2 552.6L530.9 566.1L515.8 582.2L489.1 568.3z" fill="#ffd500" stroke="#ffd500"/><path d="M530.9 566.1L557.6 579.8L542.7 596.3L515.8 582.2z" fill="#ffdb00" stroke="#ffdb00"/><path d="M557.6 579.8L584.4 593.8L569.6 610.6L542.7 596.3z" fill="#ffe100" stroke="#ffe100"/><path d="M584.4 593.8L611.3 607.9L596.5 625.1L569.6 610.6z" fill="#ffe600" stroke="#ffe600"/><path d="M611.3 607.9L638.2 622.3L623.6 639.9L596.5 625.1z" fill="#ffec00" stroke="#ffec00"/><path d="M638.2 622.3L665.3 636.9L650.7 654.9L623.6 639.9z" fill="#fff200" stroke="#fff200"/><path d="M665.3 636.9L692.4 651.8L677.9 670.1L650.7 654.9z" fill="#fff800" stroke="#fff800"/><path d="M692.4 651.8L719.5 666.8L705.2 685.5L677.9 670.1z" fill="#fffe00" stroke="#fffe00"/><path d="M719.5 666.8L746.8 682.1L732.6 701.2L705.2 685.5z" fill="#f0fd00" stroke="#f0fd00"/><path d="M746.8 682.1L774.1 697.7L760 717.1L732.6 701.2z" fill="#ddfb00" stroke="#ddfb00"/><path d="M774.1 697.7L801.5 713.4L787.5 733.2L760 717.1z" fill="#c4f800" stroke="#c4f800"/><path d="M801.5 713.4L829 729.4L815.1 749.5L787.5 733.2z" fill="#a4f500" stroke="#a4f500"/><path d="M829 729.4L856.6 745.5L842.7 766.1L815.1 749.5z" fill="#80f200" stroke="#80f200"/><path d="M856.6 745.5L884.2 761.9L870.5 782.8L842.7 766.1z" fill="#5aef00" stroke="#5aef00"/><path d="M884.2 761.9L911.9 778.6L898.2 799.8L870.5 782.8z" fill="#30ec00" stroke="#30ec00"/><path d="M911.9 778.6L939.6 795.4L926.1 817.1L898.2 799.8z" fill="#05e800" stroke="#05e800"/><path d="M939.6 795.4L967.4 812.5L954 834.5L926.1 817.1z" fill="#00e600" stroke="#00e600"/><path d="M967.4 812.5L995.3 829.8L981.9 852.2L954 834.5z" fill="#00e300" stroke="#00e300"/><path d="M995.3 829.8L1023.2 847.4L1010 870.1L981.9 852.2z" fill="#00e000" stroke="#00e000"/><path d="M1023.2 847.4L1051.2 865.1L1038.1 888.2L1010 870.1z" fill="#00dd00" stroke="#00dd00"/><path d="M1051.2 865.1L1079.3 883.1L1066.2 906.6L1038.1 888.2z" fill="#00d700" stroke="#00d700"/><path d="M1079.3 883.1L1107.4 901.3L1094.4 925.1L1066.2 906.6z" fill="#00cb00" stroke="#00cb00"/><path d="M1107.4 901.3L1135.5 919.7L1122.7 943.9L1094.4 925.1z" fill="#00c005" stroke="#00c005"/><path d="M1135.5 919.7L1163.8 938.3L1151 962.9L1122.7 943.9z" fill="#00b50e" stroke="#00b50e"/><path d="M1163.8 938.3L1192 957.2L1179.3 982.2L1151 962.9z" fill="#00a921" stroke="#00a921"/><path d="M1192 957.2L1220.4 976.3L1207.8 1001.6L1179.3 982.2z" fill="#009b43" stroke="#009b43"/><path d="M1220.4 976.3L1248.7 995.6L1236.2 1021.3L1207.8 1001.6z" fill="#008568" stroke="#008568"/><path d="M1248.7 995.6L1277.2 1015.1L1264.7 1041.2L1236.2 1021.3z" fill="#006c8b" stroke="#006c8b"/><path d="M1277.2 1015.1L1305.7 1034.9L1293.3 1061.3L1264.7 1041.2z" fill="#004eb3" stroke="#004eb3"/><path d="M1305.7 1034.9L1334.2 1054.8L1321.9 1081.7L1293.3 1061.3z" fill="#002dd7" stroke="#002dd7"/><path d="M1334.2 1054.8L1362.8 1075L1350.6 1102.2L1321.9 1081.7z" fill="#0013f1" stroke="#0013f1"/><path d="M1362.8 1075L1391.4 1095.4L1379.3 1123L1350.6 1102.2z" fill="#0000ff" stroke="#0000ff"/><path d="M1391.4 1095.4L1420 1116L1408 1144L1379.3 1123z" fill="#0000fc" stroke="#0000fc"/><path d="M1420 1116L1448.7 1136.9L1436.8 1165.2L1408 1144z" fill="#0000f8" stroke="#0000f8"/><path d="M330.4 489.9L356.6 502.4L340.8 516.6L314.5 503.7z" fill="#ffb400" stroke="#ffb400"/><path d="M356.6 502.4L382.9 515.1L367.2 529.7L340.8 516.6z" fill="#ffba00" stroke="#ffba00"/><path d="M382.9 515.1L409.3 528.1L393.8 543L367.2 529.7z" fill="#ffc000" stroke="#ffc000"/><path d="M409.3 528.1L435.8 541.3L420.4 556.5L393.8 543z" fill="#ffc600" stroke="#ffc600"/><path d="M435.8 541.3L462.4 554.7L447 570.3L420.4 556.5z" fill="#ffcc00" stroke="#ffcc00"/><path d="M462.4 554.7L489.1 568.3L473.8 584.3L447 570.3z" fill="#ffd300" stroke="#ffd300"/><path d="M489.1 568.3L515.8 582.2L500.7 598.6L473.8 584.3z" fill="#ffd900" stroke="#ffd900"/><path d="M515.8 582.2L542.7 596.3L527.6 613L500.7 598.6z" fill="#ffdf00" stroke="#ffdf00"/><path d="M542.7 596.3L569.6 610.6L554.6 627.7L527.6 613z" fill="#ffe500" stroke="#ffe500"/><path d="M569.6 610.6L596.5 625.1L581.7 642.6L554.6 627.7z" fill="#ffea00" stroke="#ffea00"/><path d="M596.5 625.1L623.6 639.9L608.9 657.7L581.7 642.6z" fill="#fff000" stroke="#fff000"/><path d="M623.6 639.9L650.7 654.9L636.1 673.1L608.9 657.7z" fill="#fff700" stroke="#fff700"/><path d="M650.7 654.9L677.9 670.1L663.4 688.6L636.1 673.1z" fill="#fffd00" stroke="#fffd00"/><path d="M677.9 670.1L705.2 685.5L690.8 704.4L663.4 688.6z" fill="#f3fe00" stroke="#f3fe00"/><path d="M705.2 685.5L732.6 701.2L718.3 720.5L690.8 704.4z" fill="#e1fb00" stroke="#e1fb00"/><path d="M732.6 701.2L760 717.1L745.8 736.7L718.3 720.5z" fill="#c9f800" stroke="#c9f800"/><path d="M760 717.1L787.5 733.2L773.4 753.2L745.8 736.7z" fill="#abf500" stroke="#abf500"/><path d="M787.5 733.2L815.1 749.5L801.1 769.9L773.4 753.2z" fill="#87f200" stroke="#87f200"/><path d="M815.1 749.5L842.7 766.1L828.8 786.8L801.1 769.9z" fill="#61f000" stroke="#61f000"/><path d="M842.7 766.1L870.5 782.8L856.6 804L828.8 786.8z" fill="#36ec00" stroke="#36ec00"/><path d="M870.5 782.8L898.2 799.8L884.5 821.4L856.6 804z" fill="#0be900" stroke="#0be900"/><path d="M898.2 799.8L926.1 817.1L912.4 839L884.5 821.4z" fill="#00e600" stroke="#00e600"/><path d="M926.1 817.1L954 834.5L940.4 856.8L912.4 839z" fill="#00e300" stroke="#00e300"/><path d="M954 834.5L981.9 852.2L968.5 874.8L940.4 856.8z" fill="#00e100" stroke="#00e100"/><path d="M981.9 852.2L1010 870.1L996.6 893.1L968.5 874.8z" fill="#00de00" stroke="#00de00"/><path d="M1010 870.1L1038.1 888.2L1024.8 911.6L996.6 893.1z" fill="#00d800" stroke="#00d800"/><path d="M1038.1 888.2L1066.2 906.6L1053 930.3L1024.8 911.6z" fill="#00cc00" stroke="#00cc00"/><path d="M1066.2 906.6L1094.4 925.1L1081.3 949.3L1053 930.3z" fill="#00c104" stroke="#00c104"/><path d="M1094.4 925.1L1122.7 943.9L1109.7 968.4L1081.3 949.3z" fill="#00b60c" stroke="#00b60c"/><path d="M1122.7 943.9L1151 962.9L1138.1 987.8L1109.7 968.4z" fill="#00aa20" stroke="#00aa20"/><path d="M1151 962.9L1179.3 982.2L1166.5 1007.4L1138.1 987.8z" fill="#009c41" stroke="#009c41"/><path d="M1179.3 982.2L1207.8 1001.6L1195 1027.3L1166.5 1007.4z" fill="#008666" stroke="#008666"/><path d="M1207.8 1001.6L1236.2 1021.3L1223.6 1047.3L1195 1027.3z" fill="#006d89" stroke="#006d89"/><path d="M1236.2 1021.3L1264.7 1041.2L1252.2 1067.6L1223.6 1047.3z" fill="#004fb2" stroke="#004fb2"/><path d="M1264.7 1041.2L1293.3 1061.3L1280.9 1088.1L1252.2 1067.6z" fill="#002ed6" stroke="#002ed6"/><path d="M1293.3 1061.3L1321.9 1081.7L1309.6 1108.8L1280.9 1088.1z" fill="#0013f1" stroke="#0013f1"/><path d="M1321.9 1081.7L1350.6 1102.2L1338.3 1129.7L1309.6 1108.8z" fill="#0000ff" stroke="#0000ff"/><path d="M1350.6 1102.2L1379.3 1123L1367.1 1150.9L1338.3 1129.7z" fill="#0000fc" stroke="#0000fc"/><path d="M1379.3 1123L1408 1144L1395.9 1172.3L1367.1 1150.9z" fill="#0000f8" stroke="#0000f8"/><path d="M1408 1144L1436.8 1165.2L1424.8 1193.8L1395.9 1172.3z" fill="#0000f5" stroke="#0000f5"/><path d="M314.5 503.7L340.8 516.6L324.9 530.9L298.4 517.7z" fill="#ffb700" stroke="#ffb700"/><path d="M340.8 516.6L367.2 529.7L351.4 544.4L324.9 530.9z" fill="#ffbd00" stroke="#ffbd00"/><path d="M367.2 529.7L393.8 543L378 558.1L351.4 544.4z" fill="#ffc400" stroke="#ffc400"/><path d="M393.8 543L420.4 556.5L404.8 572L378 558.1z" fill="#ffca00" stroke="#ffca00"/><path d="M420.4 556.5L447 570.3L431.6 586.2L404.8 572z" fill="#ffd000" stroke="#ffd000"/><path d="M447 570.3L473.8 584.3L458.4 600.5L431.6 586.2z" fill="#ffd700" stroke="#ffd700"/><path d="M473.8 584.3L500.7 598.6L485.4 615.1L458.4 600.5z" fill="#ffdd00" stroke="#ffdd00"/><path d="M500.7 598.6L527.6 613L512.4 629.9L485.4 615.1z" fill="#ffe300" stroke="#ffe300"/><path d="M527.6 613L554.6 627.7L539.5 645L512.4 629.9z" fill="#ffe900" stroke="#ffe900"/><path d="M554.6 627.7L581.7 642.6L566.7 660.2L539.5 645z" fill="#ffef00" stroke="#ffef00"/><path d="M581.7 642.6L608.9 657.7L594 675.7L566.7 660.2z" fill="#fff500" stroke="#fff500"/><path d="M608.9 657.7L636.1 673.1L621.4 691.5L594 675.7z" fill="#fffb00" stroke="#fffb00"/><path d="M636.1 673.1L663.4 688.6L648.8 707.4L621.4 691.5z" fill="#f8fe00" stroke="#f8fe00"/><path d="M663.4 688.6L690.8 704.4L676.3 723.6L648.8 707.4z" fill="#e6fc00" stroke="#e6fc00"/><path d="M690.8 704.4L718.3 720.5L703.8 740L676.3 723.6z" fill="#d0f900" stroke="#d0f900"/><path d="M718.3 720.5L745.8 736.7L731.5 756.6L703.8 740z" fill="#b1f600" stroke="#b1f600"/><path d="M745.8 736.7L773.4 753.2L759.2 773.5L731.5 756.6z" fill="#8ef300" stroke="#8ef300"/><path d="M773.4 753.2L801.1 769.9L787 790.5L759.2 773.5z" fill="#68f000" stroke="#68f000"/><path d="M801.1 769.9L828.8 786.8L814.8 807.8L787 790.5z" fill="#3eed00" stroke="#3eed00"/><path d="M828.8 786.8L856.6 804L842.7 825.4L814.8 807.8z" fill="#12e900" stroke="#12e900"/><path d="M856.6 804L884.5 821.4L870.7 843.1L842.7 825.4z" fill="#00e600" stroke="#00e600"/><path d="M884.5 821.4L912.4 839L898.7 861.1L870.7 843.1z" fill="#00e400" stroke="#00e400"/><path d="M912.4 839L940.4 856.8L926.8 879.3L898.7 861.1z" fill="#00e100" stroke="#00e100"/><path d="M940.4 856.8L968.5 874.8L955 897.7L926.8 879.3z" fill="#00de00" stroke="#00de00"/><path d="M968.5 874.8L996.6 893.1L983.2 916.4L955 897.7z" fill="#00d900" stroke="#00d900"/><path d="M996.6 893.1L1024.8 911.6L1011.5 935.2L983.2 916.4z" fill="#00cd00" stroke="#00cd00"/><path d="M1024.8 911.6L1053 930.3L1039.8 954.3L1011.5 935.2z" fill="#00c204" stroke="#00c204"/><path d="M1053 930.3L1081.3 949.3L1068.2 973.7L1039.8 954.3z" fill="#00b70b" stroke="#00b70b"/><path d="M1081.3 949.3L1109.7 968.4L1096.6 993.2L1068.2 973.7z" fill="#00ab1e" stroke="#00ab1e"/><path d="M1109.7 968.4L1138.1 987.8L1125.1 1013L1096.6 993.2z" fill="#009d3e" stroke="#009d3e"/><path d="M1138.1 987.8L1166.5 1007.4L1153.7 1032.9L1125.1 1013z" fill="#008864" stroke="#008864"/><path d="M1166.5 1007.4L1195 1027.3L1182.3 1053.2L1153.7 1032.9z" fill="#006e87" stroke="#006e87"/><path d="M1195 1027.3L1223.6 1047.3L1210.9 1073.6L1182.3 1053.2z" fill="#0051b0" stroke="#0051b0"/><path d="M1223.6 1047.3L1252.2 1067.6L1239.6 1094.2L1210.9 1073.6z" fill="#002fd5" stroke="#002fd5"/><path d="M1252.2 1067.6L1280.9 1088.1L1268.3 1115.1L1239.6 1094.2z" fill="#0014f0" stroke="#0014f0"/><path d="M1280.9 1088.1L1309.6 1108.8L1297.1 1136.2L1268.3 1115.1z" fill="#0001fe" stroke="#0001fe"/><path d="M1309.6 1108.8L1338.3 1129.7L1325.9 1157.5L1297.1 1136.2z" fill="#0000fc" stroke="#0000fc"/><path d="M1338.3 1129.7L1367.1 1150.9L1354.8 1179L1325.9 1157.5z" fill="#0000f9" stroke="#0000f9"/><path d="M1367.1 1150.9L1395.9 1172.3L1383.7 1200.8L1354.8 1179z" fill="#0000f5" stroke="#0000f5"/><path d="M1395.9 1172.3L1424.8 1193.8L1412.6 1222.7L1383.7 1200.8z" fill="#0000f2" stroke="#0000f2"/><path d="M298.4 517.7L324.9 530.9L308.8 545.5L282.2 531.9z" fill="#ffbb00" stroke="#ffbb00"/><path d="M324.9 530.9L351.4 544.4L335.5 559.4L308.8 545.5z" fill="#ffc100" stroke="#ffc100"/><path d="M351.4 544.4L378 558.1L362.2 573.4L335.5 559.4z" fill="#ffc700" stroke="#ffc700"/><path d="M378 558.1L404.8 572L389 587.7L362.2 573.4z" fill="#ffce00" stroke="#ffce00"/><path d="M404.8 572L431.6 586.2L415.9 602.2L389 587.7z" fill="#ffd500" stroke="#ffd500"/><path d="M431.6 586.2L458.4 600.5L442.9 616.9L415.9 602.2z" fill="#ffdb00" stroke="#ffdb00"/><path d="M458.4 600.5L485.4 615.1L470 631.9L442.9 616.9z" fill="#ffe100" stroke="#ffe100"/><path d="M485.4 615.1L512.4 629.9L497.1 647.1L470 631.9z" fill="#ffe700" stroke="#ffe700"/><path d="M512.4 629.9L539.5 645L524.4 662.5L497.1 647.1z" fill="#ffed00" stroke="#ffed00"/><path d="M539.5 645L566.7 660.2L551.7 678.1L524.4 662.5z" fill="#fff300" stroke="#fff300"/><path d="M566.7 660.2L594 675.7L579 694L551.7 678.1z" fill="#fff900" stroke="#fff900"/><path d="M594 675.7L621.4 691.5L606.5 710.1L579 694z" fill="#fdff00" stroke="#fdff00"/><path d="M621.4 691.5L648.8 707.4L634 726.4L606.5 710.1z" fill="#eafc00" stroke="#eafc00"/><path d="M648.8 707.4L676.3 723.6L661.6 743L634 726.4z" fill="#d7fa00" stroke="#d7fa00"/><path d="M676.3 723.6L703.8 740L689.3 759.7L661.6 743z" fill="#b8f700" stroke="#b8f700"/><path d="M703.8 740L731.5 756.6L717 776.7L689.3 759.7z" fill="#96f400" stroke="#96f400"/><path d="M731.5 756.6L759.2 773.5L744.8 794L717 776.7z" fill="#70f100" stroke="#70f100"/><path d="M759.2 773.5L787 790.5L772.7 811.4L744.8 794z" fill="#46ee00" stroke="#46ee00"/><path d="M787 790.5L814.8 807.8L800.7 829.1L772.7 811.4z" fill="#1aea00" stroke="#1aea00"/><path d="M814.8 807.8L842.7 825.4L828.7 847L800.7 829.1z" fill="#00e700" stroke="#00e700"/><path d="M842.7 825.4L870.7 843.1L856.7 865.1L828.7 847z" fill="#00e400" stroke="#00e400"/><path d="M870.7 843.1L898.7 861.1L884.9 883.5L856.7 865.1z" fill="#00e100" stroke="#00e100"/><path d="M898.7 861.1L926.8 879.3L913.1 902L884.9 883.5z" fill="#00df00" stroke="#00df00"/><path d="M926.8 879.3L955 897.7L941.3 920.8L913.1 902z" fill="#00db00" stroke="#00db00"/><path d="M955 897.7L983.2 916.4L969.6 939.9L941.3 920.8z" fill="#00cf00" stroke="#00cf00"/><path d="M983.2 916.4L1011.5 935.2L998 959.1L969.6 939.9z" fill="#00c303" stroke="#00c303"/><path d="M1011.5 935.2L1039.8 954.3L1026.4 978.6L998 959.1z" fill="#00b809" stroke="#00b809"/><path d="M1039.8 954.3L1068.2 973.7L1054.9 998.3L1026.4 978.6z" fill="#00ac1c" stroke="#00ac1c"/><path d="M1068.2 973.7L1096.6 993.2L1083.5 1018.2L1054.9 998.3z" fill="#009e3a" stroke="#009e3a"/><path d="M1096.6 993.2L1125.1 1013L1112 1038.4L1083.5 1018.2z" fill="#008a61" stroke="#008a61"/><path d="M1125.1 1013L1153.7 1032.9L1140.7 1058.7L1112 1038.4z" fill="#007085" stroke="#007085"/><path d="M1153.7 1032.9L1182.3 1053.2L1169.4 1079.3L1140.7 1058.7z" fill="#0053ad" stroke="#0053ad"/><path d="M1182.3 1053.2L1210.9 1073.6L1198.1 1100.1L1169.4 1079.3z" fill="#0031d3" stroke="#0031d3"/><path d="M1210.9 1073.6L1239.6 1094.2L1226.9 1121.2L1198.1 1100.1z" fill="#0015ef" stroke="#0015ef"/><path d="M1239.6 1094.2L1268.3 1115.1L1255.7 1142.4L1226.9 1121.2z" fill="#0002fe" stroke="#0002fe"/><path d="M1268.3 1115.1L1297.1 1136.2L1284.6 1163.9L1255.7 1142.4z" fill="#0000fc" stroke="#0000fc"/><path d="M1297.1 1136.2L1325.9 1157.5L1313.5 1185.6L1284.6 1163.9z" fill="#0000f9" stroke="#0000f9"/><path d="M1325.9 1157.5L1354.8 1179L1342.4 1207.5L1313.5 1185.6z" fill="#0000f5" stroke="#0000f5"/><path d="M1354.8 1179L1383.7 1200.8L1371.4 1229.6L1342.4 1207.5z" fill="#0000f2" stroke="#0000f2"/><path d="M1383.7 1200.8L1412.6 1222.7L1400.4 1251.9L1371.4 1229.6z" fill="#0000ec" stroke="#0000ec"/><path d="M282.2 531.9L308.8 545.5L292.6 560.3L265.9 546.4z" fill="#ffbe00" stroke="#ffbe00"/><path d="M308.8 545.5L335.5 559.4L319.4 574.5L292.6 560.3z" fill="#ffc400" stroke="#ffc400"/><path d="M335.5 559.4L362.2 573.4L346.2 588.9L319.4 574.5z" fill="#ffcb00" stroke="#ffcb00"/><path d="M362.2 573.4L389 587.7L373.2 603.6L346.2 588.9z" fill="#ffd200" stroke="#ffd200"/><path d="M389 587.7L415.9 602.2L400.2 618.5L373.2 603.6z" fill="#ffd900" stroke="#ffd900"/><path d="M415.9 602.2L442.9 616.9L427.3 633.6L400.2 618.5z" fill="#ffdf00" stroke="#ffdf00"/><path d="M442.9 616.9L470 631.9L454.5 648.9L427.3 633.6z" fill="#ffe500" stroke="#ffe500"/><path d="M470 631.9L497.1 647.1L481.7 664.5L454.5 648.9z" fill="#ffeb00" stroke="#ffeb00"/><path d="M497.1 647.1L524.4 662.5L509.1 680.2L481.7 664.5z" fill="#fff100" stroke="#fff100"/><path d="M524.4 662.5L551.7 678.1L536.5 696.3L509.1 680.2z" fill="#fff700" stroke="#fff700"/><path d="M551.7 678.1L579 694L563.9 712.5L536.5 696.3z" fill="#fffe00" stroke="#fffe00"/><path d="M579 694L606.5 710.1L591.5 729L563.9 712.5z" fill="#f0fd00" stroke="#f0fd00"/><path d="M606.5 710.1L634 726.4L619.1 745.7L591.5 729z" fill="#ddfb00" stroke="#ddfb00"/><path d="M634 726.4L661.6 743L646.8 762.6L619.1 745.7z" fill="#c1f800" stroke="#c1f800"/><path d="M661.6 743L689.3 759.7L674.6 779.7L646.8 762.6z" fill="#9ff400" stroke="#9ff400"/><path d="M689.3 759.7L717 776.7L702.5 797.1L674.6 779.7z" fill="#79f200" stroke="#79f200"/><path d="M717 776.7L744.8 794L730.4 814.7L702.5 797.1z" fill="#50ee00" stroke="#50ee00"/><path d="M744.8 794L772.7 811.4L758.4 832.5L730.4 814.7z" fill="#24eb00" stroke="#24eb00"/><path d="M772.7 811.4L800.7 829.1L786.4 850.6L758.4 832.5z" fill="#00e700" stroke="#00e700"/><path d="M800.7 829.1L828.7 847L814.5 868.9L786.4 850.6z" fill="#00e500" stroke="#00e500"/><path d="M828.7 847L856.7 865.1L842.7 887.4L814.5 868.9z" fill="#00e200" stroke="#00e200"/><path d="M856.7 865.1L884.9 883.5L870.9 906.1L842.7 887.4z" fill="#00df00" stroke="#00df00"/><path d="M884.9 883.5L913.1 902L899.2 925.1L870.9 906.1z" fill="#00dc00" stroke="#00dc00"/><path d="M913.1 902L941.3 920.8L927.6 944.2L899.2 925.1z" fill="#00d000" stroke="#00d000"/><path d="M941.3 920.8L969.6 939.9L956 963.7L927.6 944.2z" fill="#00c402" stroke="#00c402"/><path d="M969.6 939.9L998 959.1L984.5 983.3L956 963.7z" fill="#00b909" stroke="#00b909"/><path d="M998 959.1L1026.4 978.6L1013 1003.1L984.5 983.3z" fill="#00ae1a" stroke="#00ae1a"/><path d="M1026.4 978.6L1054.9 998.3L1041.6 1023.2L1013 1003.1z" fill="#00a035" stroke="#00a035"/><path d="M1054.9 998.3L1083.5 1018.2L1070.2 1043.5L1041.6 1023.2z" fill="#008c5d" stroke="#008c5d"/><path d="M1083.5 1018.2L1112 1038.4L1098.9 1064L1070.2 1043.5z" fill="#007381" stroke="#007381"/><path d="M1112 1038.4L1140.7 1058.7L1127.6 1084.8L1098.9 1064z" fill="#0056a9" stroke="#0056a9"/><path d="M1140.7 1058.7L1169.4 1079.3L1156.4 1105.8L1127.6 1084.8z" fill="#0034d0" stroke="#0034d0"/><path d="M1169.4 1079.3L1198.1 1100.1L1185.2 1126.9L1156.4 1105.8z" fill="#0017ed" stroke="#0017ed"/><path d="M1198.1 1100.1L1226.9 1121.2L1214.1 1148.3L1185.2 1126.9z" fill="#0003fd" stroke="#0003fd"/><path d="M1226.9 1121.2L1255.7 1142.4L1243 1170L1214.1 1148.3z" fill="#0000fc" stroke="#0000fc"/><path d="M1255.7 1142.4L1284.6 1163.9L1271.9 1191.8L1243 1170z" fill="#0000f9" stroke="#0000f9"/><path d="M1284.6 1163.9L1313.5 1185.6L1300.9 1213.9L1271.9 1191.8z" fill="#0000f5" stroke="#0000f5"/><path d="M1313.5 1185.6L1342.4 1207.5L1330 1236.2L1300.9 1213.9z" fill="#0000f2" stroke="#0000f2"/><path d="M1342.4 1207.5L1371.4 1229.6L1359 1258.7L1330 1236.2z" fill="#0000ed" stroke="#0000ed"/><path d="M1371.4 1229.6L1400.4 1251.9L1388.2 1281.4L1359 1258.7z" fill="#0000e5" stroke="#0000e5"/><path d="M265.9 546.4L292.6 560.3L276.3 575.3L249.5 561z" fill="#ffc100" stroke="#ffc100"/><path d="M292.6 560.3L319.4 574.5L303.2 589.9L276.3 575.3z" fill="#ffc800" stroke="#ffc800"/><path d="M319.4 574.5L346.2 588.9L330.1 604.7L303.2 589.9z" fill="#ffcf00" stroke="#ffcf00"/><path d="M346.2 588.9L373.2 603.6L357.2 619.7L330.1 604.7z" fill="#ffd600" stroke="#ffd600"/><path d="M373.2 603.6L400.2 618.5L384.3 635L357.2 619.7z" fill="#ffdc00" stroke="#ffdc00"/><path d="M400.2 618.5L427.3 633.6L411.5 650.4L384.3 635z" fill="#ffe200" stroke="#ffe200"/><path d="M427.3 633.6L454.5 648.9L438.8 666.1L411.5 650.4z" fill="#ffe800" stroke="#ffe800"/><path d="M454.5 648.9L481.7 664.5L466.2 682.1L438.8 666.1z" fill="#ffef00" stroke="#ffef00"/><path d="M481.7 664.5L509.1 680.2L493.6 698.2L466.2 682.1z" fill="#fff500" stroke="#fff500"/><path d="M509.1 680.2L536.5 696.3L521.1 714.6L493.6 698.2z" fill="#fffc00" stroke="#fffc00"/><path d="M536.5 696.3L563.9 712.5L548.7 731.2L521.1 714.6z" fill="#f5fe00" stroke="#f5fe00"/><path d="M563.9 712.5L591.5 729L576.4 748.1L548.7 731.2z" fill="#e2fb00" stroke="#e2fb00"/><path d="M591.5 729L619.1 745.7L604.1 765.1L576.4 748.1z" fill="#c9f800" stroke="#c9f800"/><path d="M619.1 745.7L646.8 762.6L632 782.4L604.1 765.1z" fill="#a9f500" stroke="#a9f500"/><path d="M646.8 762.6L674.6 779.7L659.8 800L632 782.4z" fill="#83f200" stroke="#83f200"/><path d="M674.6 779.7L702.5 797.1L687.8 817.7L659.8 800z" fill="#5bef00" stroke="#5bef00"/><path d="M702.5 797.1L730.4 814.7L715.8 835.7L687.8 817.7z" fill="#2eec00" stroke="#2eec00"/><path d="M730.4 814.7L758.4 832.5L743.9 853.9L715.8 835.7z" fill="#00e800" stroke="#00e800"/><path d="M758.4 832.5L786.4 850.6L772.1 872.3L743.9 853.9z" fill="#00e500" stroke="#00e500"/><path d="M786.4 850.6L814.5 868.9L800.3 891L772.1 872.3z" fill="#00e200" stroke="#00e200"/><path d="M814.5 868.9L842.7 887.4L828.5 909.9L800.3 891z" fill="#00e000" stroke="#00e000"/><path d="M842.7 887.4L870.9 906.1L856.9 929L828.5 909.9z" fill="#00dd00" stroke="#00dd00"/><path d="M870.9 906.1L899.2 925.1L885.3 948.3L856.9 929z" fill="#00d200" stroke="#00d200"/><path d="M899.2 925.1L927.6 944.2L913.7 967.9L885.3 948.3z" fill="#00c601" stroke="#00c601"/><path d="M927.6 944.2L956 963.7L942.2 987.7L913.7 967.9z" fill="#00bb08" stroke="#00bb08"/><path d="M956 963.7L984.5 983.3L970.8 1007.7L942.2 987.7z" fill="#00af17" stroke="#00af17"/><path d="M984.5 983.3L1013 1003.1L999.4 1027.9L970.8 1007.7z" fill="#00a22f" stroke="#00a22f"/><path d="M1013 1003.1L1041.6 1023.2L1028.1 1048.4L999.4 1027.9z" fill="#008f59" stroke="#008f59"/><path d="M1041.6 1023.2L1070.2 1043.5L1056.8 1069.1L1028.1 1048.4z" fill="#00767d" stroke="#00767d"/><path d="M1070.2 1043.5L1098.9 1064L1085.6 1090L1056.8 1069.1z" fill="#0059a4" stroke="#0059a4"/><path d="M1098.9 1064L1127.6 1084.8L1114.4 1111.1L1085.6 1090z" fill="#0038cc" stroke="#0038cc"/><path d="M1127.6 1084.8L1156.4 1105.8L1143.3 1132.5L1114.4 1111.1z" fill="#001aea" stroke="#001aea"/><path d="M1156.4 1105.8L1185.2 1126.9L1172.2 1154L1143.3 1132.5z" fill="#0004fc" stroke="#0004fc"/><path d="M1185.2 1126.9L1214.1 1148.3L1201.2 1175.8L1172.2 1154z" fill="#0000fc" stroke="#0000fc"/><path d="M1214.1 1148.3L1243 1170L1230.2 1197.8L1201.2 1175.8z" fill="#0000f9" stroke="#0000f9"/><path d="M1243 1170L1271.9 1191.8L1259.2 1220L1230.2 1197.8z" fill="#0000f6" stroke="#0000f6"/><path d="M1271.9 1191.8L1300.9 1213.9L1288.3 1242.5L1259.2 1220z" fill="#0000f2" stroke="#0000f2"/><path d="M1300.9 1213.9L1330 1236.2L1317.4 1265.2L1288.3 1242.5z" fill="#0000ed" stroke="#0000ed"/><path d="M1330 1236.2L1359 1258.7L1346.6 1288L1317.4 1265.2z" fill="#0000e5" stroke="#0000e5"/><path d="M1359 1258.7L1388.2 1281.4L1375.8 1311.1L1346.6 1288z" fill="#0000dd" stroke="#0000dd"/><path d="M249.5 561L276.3 575.3L259.8 590.5L232.9 575.8z" fill="#ffc500" stroke="#ffc500"/><path d="M276.3 575.3L303.2 589.9L286.8 605.5L259.8 590.5z" fill="#ffcc00" stroke="#ffcc00"/><path d="M303.2 589.9L330.1 604.7L313.9 620.6L286.8 605.5z" fill="#ffd300" stroke="#ffd300"/><path d="M330.1 604.7L357.2 619.7L341 636L313.9 620.6z" fill="#ffda00" stroke="#ffda00"/><path d="M357.2 619.7L384.3 635L368.3 651.7L341 636z" fill="#ffe000" stroke="#ffe000"/><path d="M384.3 635L411.5 650.4L395.6 667.5L368.3 651.7z" fill="#ffe600" stroke="#ffe600"/><path d="M411.5 650.4L438.8 666.1L423 683.6L395.6 667.5z" fill="#ffec00" stroke="#ffec00"/><path d="M438.8 666.1L466.2 682.1L450.5 699.9L423 683.6z" fill="#fff300" stroke="#fff300"/><path d="M466.2 682.1L493.6 698.2L478.1 716.4L450.5 699.9z" fill="#fff900" stroke="#fff900"/><path d="M493.6 698.2L521.1 714.6L505.7 733.2L478.1 716.4z" fill="#fcff00" stroke="#fcff00"/><path d="M521.1 714.6L548.7 731.2L533.4 750.2L505.7 733.2z" fill="#e8fc00" stroke="#e8fc00"/><path d="M548.7 731.2L576.4 748.1L561.2 767.4L533.4 750.2z" fill="#d3fa00" stroke="#d3fa00"/><path d="M576.4 748.1L604.1 765.1L589 784.9L561.2 767.4z" fill="#b3f600" stroke="#b3f600"/><path d="M604.1 765.1L632 782.4L617 802.5L589 784.9z" fill="#8ef300" stroke="#8ef300"/><path d="M632 782.4L659.8 800L644.9 820.4L617 802.5z" fill="#66f000" stroke="#66f000"/><path d="M659.8 800L687.8 817.7L673 838.6L644.9 820.4z" fill="#39ed00" stroke="#39ed00"/><path d="M687.8 817.7L715.8 835.7L701.1 856.9L673 838.6z" fill="#0be900" stroke="#0be900"/><path d="M715.8 835.7L743.9 853.9L729.3 875.5L701.1 856.9z" fill="#00e600" stroke="#00e600"/><path d="M743.9 853.9L772.1 872.3L757.6 894.3L729.3 875.5z" fill="#00e300" stroke="#00e300"/><path d="M772.1 872.3L800.3 891L785.9 913.4L757.6 894.3z" fill="#00e000" stroke="#00e000"/><path d="M800.3 891L828.5 909.9L814.3 932.7L785.9 913.4z" fill="#00dd00" stroke="#00dd00"/><path d="M828.5 909.9L856.9 929L842.7 952.2L814.3 932.7z" fill="#00d500" stroke="#00d500"/><path d="M856.9 929L885.3 948.3L871.2 971.9L842.7 952.2z" fill="#00c800" stroke="#00c800"/><path d="M885.3 948.3L913.7 967.9L899.8 991.8L871.2 971.9z" fill="#00bd06" stroke="#00bd06"/><path d="M913.7 967.9L942.2 987.7L928.4 1012L899.8 991.8z" fill="#00b114" stroke="#00b114"/><path d="M942.2 987.7L970.8 1007.7L957.1 1032.4L928.4 1012z" fill="#00a528" stroke="#00a528"/><path d="M970.8 1007.7L999.4 1027.9L985.8 1053L957.1 1032.4z" fill="#009354" stroke="#009354"/><path d="M999.4 1027.9L1028.1 1048.4L1014.5 1073.8L985.8 1053z" fill="#007a77" stroke="#007a77"/><path d="M1028.1 1048.4L1056.8 1069.1L1043.4 1094.9L1014.5 1073.8z" fill="#005e9e" stroke="#005e9e"/><path d="M1056.8 1069.1L1085.6 1090L1072.2 1116.2L1043.4 1094.9z" fill="#003cc8" stroke="#003cc8"/><path d="M1085.6 1090L1114.4 1111.1L1101.2 1137.7L1072.2 1116.2z" fill="#001de7" stroke="#001de7"/><path d="M1114.4 1111.1L1143.3 1132.5L1130.1 1159.4L1101.2 1137.7z" fill="#0006fb" stroke="#0006fb"/><path d="M1143.3 1132.5L1172.2 1154L1159.1 1181.4L1130.1 1159.4z" fill="#0000fd" stroke="#0000fd"/><path d="M1172.2 1154L1201.2 1175.8L1188.2 1203.6L1159.1 1181.4z" fill="#0000f9" stroke="#0000f9"/><path d="M1201.2 1175.8L1230.2 1197.8L1217.3 1225.9L1188.2 1203.6z" fill="#0000f6" stroke="#0000f6"/><path d="M1230.2 1197.8L1259.2 1220L1246.4 1248.6L1217.3 1225.9z" fill="#0000f2" stroke="#0000f2"/><path d="M1259.2 1220L1288.3 1242.5L1275.6 1271.4L1246.4 1248.6z" fill="#0000ee" stroke="#0000ee"/><path d="M1288.3 1242.5L1317.4 1265.2L1304.8 1294.4L1275.6 1271.4z" fill="#0000e6" stroke="#0000e6"/><path d="M1317.4 1265.2L1346.6 1288L1334 1317.7L1304.8 1294.4z" fill="#0000de" stroke="#0000de"/><path d="M1346.6 1288L1375.8 1311.1L1363.3 1341.1L1334 1317.7z" fill="#0000d6" stroke="#0000d6"/></g></g>
<path d="M801.4 124.8L789.2 132.9L777 141.3L764.7 149.7L752.3 158.3L739.8 167L727.2 175.9L714.5 184.9L701.7 194.1L688.8 203.4L675.8 212.9L662.7 222.5L649.5 232.3L636.2 242.2L622.8 252.3L609.3 262.6L595.6 273L581.9 283.5L568 294.3L554.1 305.2L540 316.2L525.8 327.5L511.5 338.9L497 350.5L482.5 362.2L467.8 374.1L453.1 386.3L438.2 398.6L423.1 411L408 423.7L392.7 436.5L377.3 449.6L361.8 462.8L346.2 476.2L330.4 489.9L314.5 503.7L298.4 517.7L282.2 531.9L265.9 546.4L249.5 561L232.9 575.8M847.9 128.5L835.9 137.3L823.8 146.2L811.7 155.2L799.4 164.3L787.1 173.6L774.6 183.1L762.1 192.7L749.5 202.5L736.7 212.4L723.9 222.4L710.9 232.7L697.9 243.1L684.7 253.6L671.5 264.3L658.1 275.2L644.7 286.2L631.1 297.4L617.4 308.8L603.6 320.3L589.7 332L575.7 343.9L561.6 355.9L547.4 368.2L533 380.6L518.6 393.2L504 406L489.3 419L474.5 432.1L459.5 445.5L444.4 459L429.3 472.7L413.9 486.7L398.5 500.8L382.9 515.1L367.2 529.7L351.4 544.4L335.5 559.4L319.4 574.5L303.2 589.9L286.8 605.5M894.7 133L882.9 142.3L871 151.8L859 161.4L846.9 171.1L834.7 181L822.4 191L810 201.2L797.6 211.6L785 222.1L772.3 232.8L759.5 243.6L746.6 254.6L733.7 265.7L720.6 277.1L707.4 288.6L694.1 300.2L680.7 312L667.2 324.1L653.6 336.2L639.9 348.6L626.1 361.1L612.1 373.8L598.1 386.7L583.9 399.8L569.6 413.1L555.2 426.6L540.7 440.2L526.1 454.1L511.4 468.1L496.5 482.3L481.5 496.8L466.4 511.4L451.2 526.2L435.8 541.3L420.4 556.5L404.8 572L389 587.7L373.2 603.6L357.2 619.7L341 636M942 138.2L930.3 148.1L918.6 158.1L906.7 168.3L894.8 178.6L882.7 189.1L870.6 199.7L858.3 210.5L846 221.5L833.6 232.6L821.1 243.8L808.5 255.3L795.8 266.9L782.9 278.7L770 290.6L757 302.8L743.9 315.1L730.7 327.5L717.3 340.2L703.9 353L690.4 366L676.7 379.2L663 392.6L649.1 406.2L635.1 419.9L621.1 433.9L606.9 448L592.5 462.3L578.1 476.9L563.6 491.6L548.9 506.5L534.1 521.7L519.2 537L504.2 552.6L489.1 568.3L473.8 584.3L458.4 600.5L442.9 616.9L427.3 633.6L411.5 650.4L395.6 667.5M989.6 144.1L978.1 154.6L966.5 165.2L954.8 175.9L943 186.8L931.1 197.9L919.1 209.1L907 220.5L894.9 232.1L882.6 243.8L870.2 255.7L857.8 267.8L845.2 280L832.6 292.4L819.8 305L807 317.8L794 330.7L781 343.8L767.8 357.1L754.6 370.6L741.2 384.3L727.8 398.1L714.2 412.2L700.5 426.4L686.7 440.8L672.8 455.5L658.8 470.3L644.7 485.3L630.5 500.5L616.1 516L601.7 531.6L587.1 547.5L572.4 563.5L557.6 579.8L542.7 596.3L527.6 613L512.4 629.9L497.1 647.1L481.7 664.5L466.2 682.1L450.5 699.9M1037.6 150.8L1026.3 161.8L1014.8 173L1003.2 184.3L991.6 195.8L979.8 207.5L968 219.3L956.1 231.3L944.1 243.5L931.9 255.9L919.7 268.4L907.5 281.1L895.1 293.9L882.6 307L870 320.2L857.3 333.6L844.5 347.2L831.7 360.9L818.7 374.9L805.6 389L792.4 403.4L779.1 417.9L765.7 432.6L752.2 447.5L738.6 462.6L724.9 477.9L711.1 493.5L697.2 509.2L683.1 525.1L669 541.2L654.7 557.6L640.4 574.2L625.9 590.9L611.3 607.9L596.5 625.1L581.7 642.6L566.7 660.2L551.7 678.1L536.5 696.3L521.1 714.6L505.7 733.2M1086 158.1L1074.8 169.7L1063.4 181.5L1052 193.5L1040.5 205.6L1028.9 217.9L1017.2 230.3L1005.5 242.9L993.6 255.7L981.7 268.7L969.6 281.8L957.5 295.1L945.2 308.6L932.9 322.3L920.5 336.2L908 350.2L895.4 364.4L882.7 378.9L869.9 393.5L856.9 408.3L843.9 423.3L830.8 438.5L817.6 453.9L804.3 469.5L790.9 485.3L777.4 501.3L763.7 517.5L750 533.9L736.1 550.5L722.2 567.4L708.1 584.4L693.9 601.7L679.7 619.2L665.3 636.9L650.7 654.9L636.1 673.1L621.4 691.5L606.5 710.1L591.5 729L576.4 748.1L561.2 767.4M1134.8 166.2L1123.7 178.4L1112.5 190.8L1101.2 203.4L1089.8 216.1L1078.4 229L1066.8 242L1055.2 255.3L1043.5 268.7L1031.7 282.3L1019.8 296.1L1007.8 310L995.8 324.1L983.6 338.5L971.3 353L959 367.7L946.6 382.6L934 397.6L921.4 412.9L908.6 428.4L895.8 444.1L882.9 459.9L869.8 476L856.7 492.3L843.4 508.8L830.1 525.5L816.7 542.4L803.1 559.5L789.5 576.8L775.7 594.4L761.8 612.2L747.8 630.2L733.7 648.4L719.5 666.8L705.2 685.5L690.8 704.4L676.3 723.6L661.6 743L646.8 762.6L632 782.4L617 802.5M1183.9 175.1L1172.9 187.9L1161.8 200.9L1150.7 214L1139.5 227.4L1128.2 240.9L1116.8 254.6L1105.3 268.4L1093.8 282.5L1082.1 296.7L1070.4 311.1L1058.6 325.7L1046.6 340.5L1034.6 355.4L1022.5 370.6L1010.3 386L998.1 401.5L985.7 417.2L973.2 433.2L960.6 449.3L948 465.7L935.2 482.2L922.4 499L909.4 516L896.3 533.2L883.2 550.6L869.9 568.2L856.5 586L843.1 604L829.5 622.3L815.8 640.8L802 659.5L788.1 678.5L774.1 697.7L760 717.1L745.8 736.7L731.5 756.6L717 776.7L702.5 797.1L687.8 817.7L673 838.6M1233.3 184.7L1222.5 198.1L1211.6 211.7L1200.6 225.5L1189.5 239.4L1178.3 253.6L1167.1 267.9L1155.8 282.4L1144.4 297L1132.9 311.9L1121.3 326.9L1109.6 342.2L1097.8 357.6L1086 373.2L1074.1 389.1L1062 405.1L1049.9 421.3L1037.7 437.7L1025.4 454.3L1013 471.1L1000.5 488.2L987.9 505.4L975.2 522.9L962.4 540.5L949.5 558.4L936.5 576.5L923.5 594.8L910.3 613.3L897 632.1L883.6 651.1L870.1 670.3L856.5 689.8L842.8 709.4L829 729.4L815.1 749.5L801.1 769.9L787 790.5L772.7 811.4L758.4 832.5L743.9 853.9L729.3 875.5M1283.1 195.1L1272.4 209.1L1261.6 223.3L1250.8 237.7L1239.9 252.3L1228.8 267L1217.7 282L1206.6 297.1L1195.3 312.4L1183.9 327.9L1172.5 343.6L1161 359.5L1149.4 375.6L1137.7 391.9L1125.9 408.3L1114 425L1102.1 441.9L1090 459L1077.9 476.3L1065.6 493.8L1053.3 511.5L1040.9 529.4L1028.3 547.6L1015.7 565.9L1003 584.5L990.2 603.3L977.3 622.3L964.3 641.6L951.2 661.1L938 680.8L924.7 700.7L911.3 720.9L897.8 741.3L884.2 761.9L870.5 782.8L856.6 804L842.7 825.4L828.7 847L814.5 868.9L800.3 891L785.9 913.4M1333.2 206.2L1322.7 220.9L1312.1 235.7L1301.3 250.7L1290.5 265.9L1279.7 281.3L1268.7 296.9L1257.7 312.6L1246.5 328.6L1235.3 344.7L1224 361.1L1212.7 377.6L1201.2 394.4L1189.7 411.3L1178 428.5L1166.3 445.8L1154.5 463.4L1142.6 481.1L1130.6 499.1L1118.6 517.3L1106.4 535.7L1094.1 554.3L1081.8 573.2L1069.3 592.2L1056.8 611.5L1044.2 631L1031.4 650.7L1018.6 670.7L1005.7 690.9L992.7 711.3L979.6 732L966.3 752.9L953 774L939.6 795.4L926.1 817.1L912.4 839L898.7 861.1L884.9 883.5L870.9 906.1L856.9 929L842.7 952.2M1383.7 218.1L1373.3 233.4L1362.8 248.9L1352.2 264.5L1341.6 280.3L1330.8 296.4L1320 312.6L1309.1 329L1298.1 345.6L1287.1 362.4L1275.9 379.4L1264.7 396.6L1253.4 414L1242 431.6L1230.5 449.4L1218.9 467.4L1207.3 485.7L1195.5 504.1L1183.7 522.8L1171.8 541.7L1159.8 560.7L1147.7 580.1L1135.5 599.6L1123.2 619.4L1110.9 639.4L1098.4 659.6L1085.9 680L1073.2 700.7L1060.5 721.6L1047.6 742.8L1034.7 764.2L1021.6 785.8L1008.5 807.7L995.3 829.8L981.9 852.2L968.5 874.8L955 897.7L941.3 920.8L927.6 944.2L913.7 967.9L899.8 991.8M1434.5 230.8L1424.2 246.7L1413.9 262.8L1403.4 279.1L1392.9 295.6L1382.3 312.2L1371.6 329.1L1360.8 346.1L1350 363.4L1339.1 380.9L1328.1 398.5L1317 416.4L1305.8 434.4L1294.6 452.7L1283.3 471.2L1271.8 489.9L1260.3 508.8L1248.8 528L1237.1 547.3L1225.3 566.9L1213.5 586.7L1201.6 606.7L1189.5 626.9L1177.4 647.4L1165.2 668.1L1152.9 689L1140.5 710.2L1128.1 731.6L1115.5 753.2L1102.8 775.1L1090.1 797.2L1077.2 819.6L1064.3 842.2L1051.2 865.1L1038.1 888.2L1024.8 911.6L1011.5 935.2L998 959.1L984.5 983.3L970.8 1007.7L957.1 1032.4M1485.7 244.3L1475.5 260.9L1465.3 277.6L1454.9 294.5L1444.5 311.6L1434.1 328.9L1423.5 346.4L1412.9 364.1L1402.2 382L1391.4 400.1L1380.6 418.5L1369.6 437L1358.6 455.7L1347.5 474.7L1336.3 493.9L1325 513.2L1313.7 532.8L1302.3 552.7L1290.7 572.7L1279.1 593L1267.5 613.4L1255.7 634.2L1243.8 655.1L1231.9 676.3L1219.8 697.7L1207.7 719.3L1195.5 741.2L1183.2 763.4L1170.8 785.7L1158.3 808.3L1145.7 831.2L1133 854.3L1120.2 877.7L1107.4 901.3L1094.4 925.1L1081.3 949.3L1068.2 973.7L1054.9 998.3L1041.6 1023.2L1028.1 1048.4L1014.5 1073.8M1537.1 258.6L1527.1 275.8L1517 293.1L1506.8 310.7L1496.5 328.4L1486.2 346.4L1475.8 364.6L1465.3 382.9L1454.7 401.5L1444.1 420.3L1433.3 439.3L1422.5 458.5L1411.7 477.9L1400.7 497.5L1389.7 517.3L1378.5 537.4L1367.3 557.7L1356 578.2L1344.7 598.9L1333.2 619.9L1321.7 641.1L1310.1 662.5L1298.4 684.2L1286.6 706.1L1274.7 728.2L1262.7 750.5L1250.7 773.2L1238.5 796L1226.3 819.1L1214 842.4L1201.6 866L1189 889.9L1176.4 914L1163.8 938.3L1151 962.9L1138.1 987.8L1125.1 1013L1112 1038.4L1098.9 1064L1085.6 1090L1072.2 1116.2M1588.9 273.7L1579 291.5L1569 309.5L1558.9 327.7L1548.8 346.1L1538.6 364.7L1528.3 383.5L1517.9 402.5L1507.5 421.8L1497 441.2L1486.4 460.9L1475.7 480.8L1465 500.9L1454.2 521.2L1443.3 541.7L1432.3 562.4L1421.2 583.4L1410.1 604.6L1398.9 626.1L1387.6 647.7L1376.2 669.6L1364.7 691.7L1353.2 714.1L1341.5 736.7L1329.8 759.5L1318 782.6L1306.1 806L1294.1 829.5L1282 853.4L1269.9 877.4L1257.6 901.8L1245.3 926.3L1232.9 951.2L1220.4 976.3L1207.8 1001.6L1195 1027.3L1182.3 1053.2L1169.4 1079.3L1156.4 1105.8L1143.3 1132.5L1130.1 1159.4M1641 289.5L1631.2 308L1621.3 326.6L1611.4 345.5L1601.3 364.6L1591.3 383.8L1581.1 403.3L1570.9 423L1560.6 442.9L1550.2 463L1539.7 483.4L1529.2 503.9L1518.6 524.7L1507.9 545.7L1497.1 566.9L1486.3 588.3L1475.4 610L1464.4 631.9L1453.3 654L1442.2 676.4L1430.9 699L1419.6 721.8L1408.2 744.9L1396.7 768.2L1385.2 791.8L1373.5 815.6L1361.8 839.6L1349.9 863.9L1338 888.5L1326 913.3L1314 938.4L1301.8 963.7L1289.5 989.3L1277.2 1015.1L1264.7 1041.2L1252.2 1067.6L1239.6 1094.2L1226.9 1121.2L1214.1 1148.3L1201.2 1175.8L1188.2 1203.6M1693.3 306.2L1683.6 325.3L1673.9 344.6L1664.1 364.1L1654.2 383.9L1644.2 403.8L1634.2 423.9L1624.1 444.3L1613.9 464.9L1603.7 485.7L1593.3 506.7L1582.9 527.9L1572.5 549.4L1561.9 571L1551.3 592.9L1540.6 615.1L1529.8 637.4L1519 660L1508 682.9L1497 705.9L1485.9 729.2L1474.7 752.8L1463.5 776.6L1452.1 800.6L1440.7 824.9L1429.2 849.4L1417.6 874.2L1406 899.2L1394.2 924.5L1382.4 950.1L1370.5 975.8L1358.5 1001.9L1346.4 1028.2L1334.2 1054.8L1321.9 1081.7L1309.6 1108.8L1297.1 1136.2L1284.6 1163.9L1271.9 1191.8L1259.2 1220L1246.4 1248.6M1746 323.7L1736.4 343.5L1726.8 363.4L1717.1 383.6L1707.3 404L1697.5 424.6L1687.6 445.4L1677.6 466.4L1667.5 487.7L1657.4 509.1L1647.2 530.8L1636.9 552.7L1626.6 574.9L1616.2 597.3L1605.7 619.9L1595.1 642.7L1584.5 665.7L1573.8 689L1563 712.6L1552.1 736.4L1541.1 760.4L1530.1 784.6L1519 809.1L1507.8 833.9L1496.5 858.9L1485.2 884.1L1473.7 909.6L1462.2 935.4L1450.6 961.4L1438.9 987.7L1427.2 1014.2L1415.3 1041L1403.4 1068.1L1391.4 1095.4L1379.3 1123L1367.1 1150.9L1354.8 1179L1342.4 1207.5L1330 1236.2L1317.4 1265.2L1304.8 1294.4M1798.9 342L1789.5 362.4L1780 383L1770.4 403.9L1760.7 424.9L1751 446.2L1741.2 467.7L1731.4 489.4L1721.4 511.3L1711.4 533.5L1701.3 555.8L1691.2 578.4L1681 601.3L1670.7 624.3L1660.3 647.6L1649.9 671.1L1639.4 694.9L1628.8 718.9L1618.1 743.1L1607.4 767.6L1596.6 792.4L1585.7 817.3L1574.7 842.5L1563.7 868L1552.5 893.7L1541.3 919.7L1530 945.9L1518.7 972.4L1507.2 999.2L1495.7 1026.2L1484.1 1053.5L1472.4 1081L1460.6 1108.8L1448.7 1136.9L1436.8 1165.2L1424.8 1193.8L1412.6 1222.7L1400.4 1251.9L1388.2 1281.4L1375.8 1311.1L1363.3 1341.1M801.4 124.8L824.6 126.6L847.9 128.5L871.3 130.7L894.7 133L918.3 135.5L942 138.2L965.8 141.1L989.6 144.1L1013.6 147.3L1037.6 150.8L1061.8 154.3L1086 158.1L1110.3 162.1L1134.8 166.2L1159.3 170.6L1183.9 175.1L1208.5 179.8L1233.3 184.7L1258.2 189.8L1283.1 195.1L1308.1 200.6L1333.2 206.2L1358.4 212.1L1383.7 218.1L1409.1 224.4L1434.5 230.8L1460.1 237.5L1485.7 244.3L1511.4 251.4L1537.1 258.6L1563 266L1588.9 273.7L1614.9 281.5L1641 289.5L1667.1 297.8L1693.3 306.2L1719.6 314.9L1746 323.7L1772.4 332.8L1798.9 342M777 141.3L800.4 143.6L823.8 146.2L847.4 148.9L871 151.8L894.7 154.8L918.6 158.1L942.5 161.5L966.5 165.2L990.6 169L1014.8 173L1039.1 177.2L1063.4 181.5L1087.9 186.1L1112.5 190.8L1137.1 195.8L1161.8 200.9L1186.7 206.2L1211.6 211.7L1236.6 217.4L1261.6 223.3L1286.8 229.4L1312.1 235.7L1337.4 242.2L1362.8 248.9L1388.3 255.7L1413.9 262.8L1439.5 270.1L1465.3 277.6L1491.1 285.2L1517 293.1L1542.9 301.2L1569 309.5L1595.1 318L1621.3 326.6L1647.6 335.5L1673.9 344.6L1700.3 353.9L1726.8 363.4L1753.3 373.1L1780 383M752.3 158.3L775.8 161.2L799.4 164.3L823.1 167.6L846.9 171.1L870.8 174.8L894.8 178.6L918.8 182.6L943 186.8L967.2 191.2L991.6 195.8L1016 200.6L1040.5 205.6L1065.1 210.7L1089.8 216.1L1114.6 221.6L1139.5 227.4L1164.5 233.3L1189.5 239.4L1214.6 245.8L1239.9 252.3L1265.2 259L1290.5 265.9L1316 273L1341.6 280.3L1367.2 287.9L1392.9 295.6L1418.7 303.5L1444.5 311.6L1470.5 319.9L1496.5 328.4L1522.6 337.2L1548.8 346.1L1575 355.2L1601.3 364.6L1627.7 374.1L1654.2 383.9L1680.7 393.8L1707.3 404L1734 414.3L1760.7 424.9M727.2 175.9L750.9 179.4L774.6 183.1L798.5 187L822.4 191L846.4 195.3L870.6 199.7L894.8 204.3L919.1 209.1L943.5 214.1L968 219.3L992.6 224.7L1017.2 230.3L1042 236.1L1066.8 242L1091.8 248.2L1116.8 254.6L1141.9 261.1L1167.1 267.9L1192.4 274.8L1217.7 282L1243.2 289.3L1268.7 296.9L1294.3 304.6L1320 312.6L1345.8 320.7L1371.6 329.1L1397.5 337.6L1423.5 346.4L1449.6 355.4L1475.8 364.6L1502 373.9L1528.3 383.5L1554.7 393.3L1581.1 403.3L1607.6 413.5L1634.2 423.9L1660.9 434.6L1687.6 445.4L1714.4 456.4L1741.2 467.7M701.7 194.1L725.5 198.2L749.5 202.5L773.5 206.9L797.6 211.6L821.7 216.4L846 221.5L870.4 226.7L894.9 232.1L919.4 237.7L944.1 243.5L968.8 249.5L993.6 255.7L1018.5 262.1L1043.5 268.7L1068.6 275.5L1093.8 282.5L1119 289.6L1144.4 297L1169.8 304.6L1195.3 312.4L1220.9 320.4L1246.5 328.6L1272.3 337L1298.1 345.6L1324 354.4L1350 363.4L1376.1 372.6L1402.2 382L1428.4 391.7L1454.7 401.5L1481.1 411.5L1507.5 421.8L1534 432.2L1560.6 442.9L1587.2 453.8L1613.9 464.9L1640.7 476.2L1667.5 487.7L1694.4 499.4L1721.4 511.3M675.8 212.9L699.8 217.6L723.9 222.4L748 227.5L772.3 232.8L796.6 238.2L821.1 243.8L845.6 249.7L870.2 255.7L894.9 261.9L919.7 268.4L944.6 275L969.6 281.8L994.7 288.8L1019.8 296.1L1045.1 303.5L1070.4 311.1L1095.8 318.9L1121.3 326.9L1146.8 335.2L1172.5 343.6L1198.2 352.2L1224 361.1L1249.9 370.1L1275.9 379.4L1302 388.8L1328.1 398.5L1354.3 408.4L1380.6 418.5L1406.9 428.8L1433.3 439.3L1459.8 450L1486.4 460.9L1513 472L1539.7 483.4L1566.5 494.9L1593.3 506.7L1620.2 518.6L1647.2 530.8L1674.2 543.2L1701.3 555.8M649.5 232.3L673.7 237.6L697.9 243.1L722.2 248.7L746.6 254.6L771.2 260.6L795.8 266.9L820.4 273.4L845.2 280L870.1 286.9L895.1 293.9L920.1 301.2L945.2 308.6L970.5 316.3L995.8 324.1L1021.2 332.2L1046.6 340.5L1072.2 348.9L1097.8 357.6L1123.6 366.5L1149.4 375.6L1175.3 384.9L1201.2 394.4L1227.3 404.1L1253.4 414L1279.6 424.1L1305.8 434.4L1332.2 445L1358.6 455.7L1385.1 466.7L1411.7 477.9L1438.3 489.3L1465 500.9L1491.8 512.7L1518.6 524.7L1545.5 536.9L1572.5 549.4L1599.5 562L1626.6 574.9L1653.8 588L1681 601.3M622.8 252.3L647.1 258.2L671.5 264.3L696 270.6L720.6 277.1L745.3 283.8L770 290.6L794.9 297.7L819.8 305L844.9 312.5L870 320.2L895.2 328.1L920.5 336.2L945.9 344.5L971.3 353L996.9 361.7L1022.5 370.6L1048.3 379.7L1074.1 389.1L1099.9 398.6L1125.9 408.3L1151.9 418.3L1178 428.5L1204.2 438.8L1230.5 449.4L1256.8 460.2L1283.3 471.2L1309.7 482.4L1336.3 493.9L1362.9 505.5L1389.7 517.3L1416.4 529.4L1443.3 541.7L1470.2 554.2L1497.1 566.9L1524.2 579.8L1551.3 592.9L1578.5 606.3L1605.7 619.9L1633 633.6L1660.3 647.6M595.6 273L620.1 279.5L644.7 286.2L669.3 293.1L694.1 300.2L719 307.5L743.9 315.1L768.9 322.8L794 330.7L819.2 338.8L844.5 347.2L869.9 355.7L895.4 364.4L920.9 373.4L946.6 382.6L972.3 391.9L998.1 401.5L1023.9 411.3L1049.9 421.3L1075.9 431.5L1102.1 441.9L1128.2 452.5L1154.5 463.4L1180.9 474.4L1207.3 485.7L1233.8 497.1L1260.3 508.8L1287 520.7L1313.7 532.8L1340.5 545.2L1367.3 557.7L1394.2 570.5L1421.2 583.4L1448.3 596.6L1475.4 610L1502.6 623.6L1529.8 637.4L1557.1 651.5L1584.5 665.7L1611.9 680.2L1639.4 694.9M568 294.3L592.7 301.4L617.4 308.8L642.3 316.3L667.2 324.1L692.2 332L717.3 340.2L742.5 348.5L767.8 357.1L793.2 365.9L818.7 374.9L844.2 384.1L869.9 393.5L895.6 403.1L921.4 412.9L947.2 422.9L973.2 433.2L999.3 443.6L1025.4 454.3L1051.6 465.2L1077.9 476.3L1104.2 487.6L1130.6 499.1L1157.1 510.8L1183.7 522.8L1210.4 534.9L1237.1 547.3L1263.9 559.9L1290.7 572.7L1317.7 585.7L1344.7 598.9L1371.7 612.4L1398.9 626.1L1426.1 639.9L1453.3 654L1480.6 668.3L1508 682.9L1535.5 697.6L1563 712.6L1590.5 727.8L1618.1 743.1M540 316.2L564.8 324L589.7 332L614.8 340.2L639.9 348.6L665.1 357.2L690.4 366L715.8 375L741.2 384.3L766.8 393.7L792.4 403.4L818.1 413.2L843.9 423.3L869.8 433.6L895.8 444.1L921.8 454.8L948 465.7L974.2 476.8L1000.5 488.2L1026.8 499.7L1053.3 511.5L1079.8 523.5L1106.4 535.7L1133.1 548.1L1159.8 560.7L1186.6 573.6L1213.5 586.7L1240.4 599.9L1267.5 613.4L1294.5 627.2L1321.7 641.1L1348.9 655.2L1376.2 669.6L1403.5 684.2L1430.9 699L1458.4 714L1485.9 729.2L1513.5 744.7L1541.1 760.4L1568.8 776.3L1596.6 792.4M511.5 338.9L536.5 347.3L561.6 355.9L586.8 364.8L612.1 373.8L637.5 383.1L663 392.6L688.5 402.3L714.2 412.2L739.9 422.3L765.7 432.6L791.6 443.1L817.6 453.9L843.7 464.8L869.8 476L896 487.4L922.4 499L948.7 510.8L975.2 522.9L1001.7 535.1L1028.3 547.6L1055 560.3L1081.8 573.2L1108.6 586.3L1135.5 599.6L1162.5 613.2L1189.5 626.9L1216.6 640.9L1243.8 655.1L1271.1 669.5L1298.4 684.2L1325.7 699L1353.2 714.1L1380.7 729.4L1408.2 744.9L1435.8 760.6L1463.5 776.6L1491.2 792.7L1519 809.1L1546.8 825.7L1574.7 842.5M482.5 362.2L507.7 371.3L533 380.6L558.4 390.1L583.9 399.8L609.5 409.8L635.1 419.9L660.9 430.3L686.7 440.8L712.6 451.6L738.6 462.6L764.7 473.8L790.9 485.3L817.1 496.9L843.4 508.8L869.9 520.9L896.3 533.2L922.9 545.7L949.5 558.4L976.2 571.3L1003 584.5L1029.9 597.9L1056.8 611.5L1083.8 625.3L1110.9 639.4L1138 653.6L1165.2 668.1L1192.5 682.8L1219.8 697.7L1247.2 712.8L1274.7 728.2L1302.2 743.8L1329.8 759.5L1357.4 775.6L1385.2 791.8L1412.9 808.2L1440.7 824.9L1468.6 841.8L1496.5 858.9L1524.5 876.2L1552.5 893.7M453.1 386.3L478.5 396L504 406L529.6 416.2L555.2 426.6L581 437.2L606.9 448L632.8 459L658.8 470.3L684.9 481.8L711.1 493.5L737.4 505.4L763.7 517.5L790.2 529.8L816.7 542.4L843.2 555.2L869.9 568.2L896.6 581.4L923.5 594.8L950.3 608.5L977.3 622.3L1004.3 636.4L1031.4 650.7L1058.6 665.3L1085.9 680L1113.2 695L1140.5 710.2L1168 725.6L1195.5 741.2L1223 757.1L1250.7 773.2L1278.4 789.4L1306.1 806L1333.9 822.7L1361.8 839.6L1389.7 856.8L1417.6 874.2L1445.7 891.8L1473.7 909.6L1501.9 927.7L1530 945.9M423.1 411L448.8 421.5L474.5 432.1L500.2 443L526.1 454.1L552.1 465.4L578.1 476.9L604.2 488.6L630.5 500.5L656.8 512.7L683.1 525.1L709.6 537.7L736.1 550.5L762.8 563.6L789.5 576.8L816.2 590.3L843.1 604L870 618L897 632.1L924.1 646.5L951.2 661.1L978.4 675.9L1005.7 690.9L1033 706.2L1060.5 721.6L1087.9 737.3L1115.5 753.2L1143.1 769.4L1170.8 785.7L1198.5 802.3L1226.3 819.1L1254.1 836.1L1282 853.4L1310 870.8L1338 888.5L1366.1 906.4L1394.2 924.5L1422.4 942.8L1450.6 961.4L1478.9 980.2L1507.2 999.2M392.7 436.5L418.5 447.7L444.4 459L470.4 470.6L496.5 482.3L522.7 494.3L548.9 506.5L575.2 519L601.7 531.6L628.2 544.5L654.7 557.6L681.4 570.9L708.1 584.4L734.9 598.2L761.8 612.2L788.8 626.4L815.8 640.8L842.9 655.4L870.1 670.3L897.4 685.4L924.7 700.7L952.1 716.2L979.6 732L1007.1 748L1034.7 764.2L1062.3 780.6L1090.1 797.2L1117.8 814.1L1145.7 831.2L1173.6 848.5L1201.6 866L1229.6 883.8L1257.6 901.8L1285.8 919.9L1314 938.4L1342.2 957L1370.5 975.8L1398.8 994.9L1427.2 1014.2L1455.6 1033.7L1484.1 1053.5M361.8 462.8L387.8 474.6L413.9 486.7L440.1 498.9L466.4 511.4L492.8 524.1L519.2 537L545.8 550.2L572.4 563.5L599.1 577.1L625.9 590.9L652.7 605L679.7 619.2L706.7 633.7L733.7 648.4L760.9 663.3L788.1 678.5L815.4 693.8L842.8 709.4L870.3 725.3L897.8 741.3L925.4 757.6L953 774L980.7 790.8L1008.5 807.7L1036.3 824.9L1064.3 842.2L1092.2 859.8L1120.2 877.7L1148.3 895.7L1176.4 914L1204.6 932.5L1232.9 951.2L1261.2 970.1L1289.5 989.3L1317.9 1008.6L1346.4 1028.2L1374.9 1048L1403.4 1068.1L1432 1088.3L1460.6 1108.8M330.4 489.9L356.6 502.4L382.9 515.1L409.3 528.1L435.8 541.3L462.4 554.7L489.1 568.3L515.8 582.2L542.7 596.3L569.6 610.6L596.5 625.1L623.6 639.9L650.7 654.9L677.9 670.1L705.2 685.5L732.6 701.2L760 717.1L787.5 733.2L815.1 749.5L842.7 766.1L870.5 782.8L898.2 799.8L926.1 817.1L954 834.5L981.9 852.2L1010 870.1L1038.1 888.2L1066.2 906.6L1094.4 925.1L1122.7 943.9L1151 962.9L1179.3 982.2L1207.8 1001.6L1236.2 1021.3L1264.7 1041.2L1293.3 1061.3L1321.9 1081.7L1350.6 1102.2L1379.3 1123L1408 1144L1436.8 1165.2M298.4 517.7L324.9 530.9L351.4 544.4L378 558.1L404.8 572L431.6 586.2L458.4 600.5L485.4 615.1L512.4 629.9L539.5 645L566.7 660.2L594 675.7L621.4 691.5L648.8 707.4L676.3 723.6L703.8 740L731.5 756.6L759.2 773.5L787 790.5L814.8 807.8L842.7 825.4L870.7 843.1L898.7 861.1L926.8 879.3L955 897.7L983.2 916.4L1011.5 935.2L1039.8 954.3L1068.2 973.7L1096.6 993.2L1125.1 1013L1153.7 1032.9L1182.3 1053.2L1210.9 1073.6L1239.6 1094.2L1268.3 1115.1L1297.1 1136.2L1325.9 1157.5L1354.8 1179L1383.7 1200.8L1412.6 1222.7M265.9 546.4L292.6 560.3L319.4 574.5L346.2 588.9L373.2 603.6L400.2 618.5L427.3 633.6L454.5 648.9L481.7 664.5L509.1 680.2L536.5 696.3L563.9 712.5L591.5 729L619.1 745.7L646.8 762.6L674.6 779.7L702.5 797.1L730.4 814.7L758.4 832.5L786.4 850.6L814.5 868.9L842.7 887.4L870.9 906.1L899.2 925.1L927.6 944.2L956 963.7L984.5 983.3L1013 1003.1L1041.6 1023.2L1070.2 1043.5L1098.9 1064L1127.6 1084.8L1156.4 1105.8L1185.2 1126.9L1214.1 1148.3L1243 1170L1271.9 1191.8L1300.9 1213.9L1330 1236.2L1359 1258.7L1388.2 1281.4M232.9 575.8L259.8 590.5L286.8 605.5L313.9 620.6L341 636L368.3 651.7L395.6 667.5L423 683.6L450.5 699.9L478.1 716.4L505.7 733.2L533.4 750.2L561.2 767.4L589 784.9L617 802.5L644.9 820.4L673 838.6L701.1 856.9L729.3 875.5L757.6 894.3L785.9 913.4L814.3 932.7L842.7 952.2L871.2 971.9L899.8 991.8L928.4 1012L957.1 1032.4L985.8 1053L1014.5 1073.8L1043.4 1094.9L1072.2 1116.2L1101.2 1137.7L1130.1 1159.4L1159.1 1181.4L1188.2 1203.6L1217.3 1225.9L1246.4 1248.6L1275.6 1271.4L1304.8 1294.4L1334 1317.7L1363.3 1341.1" fill="none" stroke="#1a1400" stroke-width="4.2" stroke-linejoin="round" stroke-linecap="round"/>
<text x="207.6" y="1335.8" font-size="56" textLength="60.2" lengthAdjust="spacingAndGlyphs" fill="#1a1a3a">50</text><text x="193.7" y="1169.5" font-size="56" textLength="60.8" lengthAdjust="spacingAndGlyphs" fill="#1a1a3a">60</text><text x="180" y="997.8" font-size="56" textLength="60.8" lengthAdjust="spacingAndGlyphs" fill="#1a1a3a">70</text><text x="166.1" y="820.4" font-size="56" textLength="60.5" lengthAdjust="spacingAndGlyphs" fill="#1a1a3a">80</text><text x="151.5" y="637" font-size="56" textLength="60.5" lengthAdjust="spacingAndGlyphs" fill="#1a1a3a">90</text><text x="108.3" y="447.3" font-size="56" textLength="88.5" lengthAdjust="spacingAndGlyphs" fill="#1a1a3a">100</text><text x="315.1" y="1394.2" font-size="56" textLength="78" lengthAdjust="spacingAndGlyphs" fill="#1a1a3a">1.5</text><text x="443" y="1424.2" font-size="56" textLength="76.2" lengthAdjust="spacingAndGlyphs" fill="#1a1a3a">2.0</text><text x="572.1" y="1454.8" font-size="56" textLength="76.5" lengthAdjust="spacingAndGlyphs" fill="#1a1a3a">2.5</text><text x="704.6" y="1486.1" font-size="56" textLength="75.6" lengthAdjust="spacingAndGlyphs" fill="#1a1a3a">3.0</text><text x="839.4" y="1518.1" font-size="56" textLength="75.9" lengthAdjust="spacingAndGlyphs" fill="#1a1a3a">3.5</text><text x="978.3" y="1550.8" font-size="56" textLength="74.5" lengthAdjust="spacingAndGlyphs" fill="#1a1a3a">4.0</text><text x="1119.2" y="1584.2" font-size="56" textLength="74.7" lengthAdjust="spacingAndGlyphs" fill="#1a1a3a">4.5</text><text x="1262.2" y="1618.4" font-size="56" textLength="75.6" lengthAdjust="spacingAndGlyphs" fill="#1a1a3a">5.0</text><text x="1784.9" y="1079.5" font-size="56" textLength="88.5" lengthAdjust="spacingAndGlyphs" fill="#1a1a3a">100</text><text x="1742.7" y="1132.8" font-size="56" textLength="88.5" lengthAdjust="spacingAndGlyphs" fill="#1a1a3a">150</text><text x="1700.1" y="1188.4" font-size="56" textLength="87.1" lengthAdjust="spacingAndGlyphs" fill="#1a1a3a">200</text><text x="1654.3" y="1246.4" font-size="56" textLength="87.1" lengthAdjust="spacingAndGlyphs" fill="#1a1a3a">250</text><text x="1606.9" y="1307.1" font-size="56" textLength="86.6" lengthAdjust="spacingAndGlyphs" fill="#1a1a3a">300</text><text x="1556.7" y="1370.5" font-size="56" textLength="86.6" lengthAdjust="spacingAndGlyphs" fill="#1a1a3a">350</text><text x="1505.3" y="1436.8" font-size="56" textLength="85.5" lengthAdjust="spacingAndGlyphs" fill="#1a1a3a">400</text><text x="1450.3" y="1506.4" font-size="56" textLength="85.5" lengthAdjust="spacingAndGlyphs" fill="#1a1a3a">450</text><text x="1391.6" y="1579.4" font-size="56" textLength="86.6" lengthAdjust="spacingAndGlyphs" fill="#1a1a3a">500</text><text x="-217.2" y="16.2" font-size="63" textLength="435" lengthAdjust="spacingAndGlyphs" transform="translate(68 832) rotate(-94.4)" fill="#1a1a3a">Conversion (%)</text><text x="-267.6" y="16.2" font-size="63" textLength="534.3" lengthAdjust="spacingAndGlyphs" transform="translate(743.5 1587) rotate(13.8)" fill="#1a1a3a">Flow rate (mL/min)</text><text x="-279.7" y="16.2" font-size="63" textLength="560.1" lengthAdjust="spacingAndGlyphs" transform="translate(1719 1352) rotate(-51.6)" fill="#1a1a3a">Concentration (mM)</text>
<rect x="2042" y="573" width="326.5" height="453" fill="#fff" stroke="#222" stroke-width="4.5"/><rect x="2082.8" y="617.5" width="115.2" height="38.4" fill="#000080" stroke="#111" stroke-width="4"/><text x="2227.9" y="656" font-size="56" textLength="57.5" lengthAdjust="spacingAndGlyphs" fill="#1a1a3a">50</text><rect x="2082.8" y="682.7" width="115.2" height="38.4" fill="#0000e8" stroke="#111" stroke-width="4"/><text x="2227.4" y="721.2" font-size="56" textLength="58.1" lengthAdjust="spacingAndGlyphs" fill="#1a1a3a">60</text><rect x="2082.8" y="747.9" width="115.2" height="38.4" fill="#007070" stroke="#111" stroke-width="4"/><text x="2227.4" y="786.4" font-size="56" textLength="58.1" lengthAdjust="spacingAndGlyphs" fill="#1a1a3a">70</text><rect x="2082.8" y="813.1" width="115.2" height="38.4" fill="#00e000" stroke="#111" stroke-width="4"/><text x="2227.7" y="851.6" font-size="56" textLength="57.8" lengthAdjust="spacingAndGlyphs" fill="#1a1a3a">80</text><rect x="2082.8" y="878.3" width="115.2" height="38.4" fill="#ffe000" stroke="#111" stroke-width="4"/><text x="2227.7" y="916.8" font-size="56" textLength="57.8" lengthAdjust="spacingAndGlyphs" fill="#1a1a3a">90</text><rect x="2082.8" y="943.5" width="115.2" height="38.4" fill="#ff7000" stroke="#111" stroke-width="4"/><text x="2226" y="982" font-size="56" textLength="88" lengthAdjust="spacingAndGlyphs" fill="#1a1a3a">100</text>
<g stroke-linecap="round"><line x1="1042" y1="3011.3" x2="540.9" y2="3457.8" stroke="#d9d9d9" stroke-width="2.6"/><line x1="1270.9" y1="3055.6" x2="802.6" y2="3520.2" stroke="#d9d9d9" stroke-width="2.6"/><line x1="1508.3" y1="3101.6" x2="1075.8" y2="3585.3" stroke="#d9d9d9" stroke-width="2.6"/><line x1="763.8" y1="3014.8" x2="1712.8" y2="3203" stroke="#d9d9d9" stroke-width="2.6"/><line x1="704.3" y1="3063" x2="1669.1" y2="3259" stroke="#d9d9d9" stroke-width="2.6"/><line x1="642.3" y1="3113.1" x2="1623.5" y2="3317.5" stroke="#d9d9d9" stroke-width="2.6"/><line x1="577.8" y1="3165.3" x2="1575.8" y2="3378.6" stroke="#d9d9d9" stroke-width="2.6"/><line x1="510.5" y1="3219.7" x2="1525.9" y2="3442.5" stroke="#d9d9d9" stroke-width="2.6"/><line x1="440.2" y1="3276.5" x2="1473.6" y2="3509.5" stroke="#d9d9d9" stroke-width="2.6"/><line x1="366.9" y1="3335.9" x2="1418.8" y2="3579.7" stroke="#d9d9d9" stroke-width="2.6"/><line x1="763.8" y1="3014.8" x2="737.1" y2="2143.7" stroke="#d9d9d9" stroke-width="2.6"/><line x1="704.3" y1="3063" x2="671.9" y2="2177" stroke="#d9d9d9" stroke-width="2.6"/><line x1="642.3" y1="3113.1" x2="603.7" y2="2211.8" stroke="#d9d9d9" stroke-width="2.6"/><line x1="577.8" y1="3165.3" x2="532.5" y2="2248.2" stroke="#d9d9d9" stroke-width="2.6"/><line x1="510.5" y1="3219.7" x2="457.9" y2="2286.4" stroke="#d9d9d9" stroke-width="2.6"/><line x1="440.2" y1="3276.5" x2="379.7" y2="2326.3" stroke="#d9d9d9" stroke-width="2.6"/><line x1="366.9" y1="3335.9" x2="297.8" y2="2368.2" stroke="#d9d9d9" stroke-width="2.6"/><line x1="818.2" y1="2854.2" x2="279.8" y2="3268.2" stroke="#d9d9d9" stroke-width="2.6"/><line x1="815.3" y1="2737.4" x2="269.2" y2="3134.9" stroke="#d9d9d9" stroke-width="2.6"/><line x1="812.3" y1="2617.9" x2="258.4" y2="2998.1" stroke="#d9d9d9" stroke-width="2.6"/><line x1="809.2" y1="2495.7" x2="247.2" y2="2857.6" stroke="#d9d9d9" stroke-width="2.6"/><line x1="806.1" y1="2370.6" x2="235.7" y2="2713.2" stroke="#d9d9d9" stroke-width="2.6"/><line x1="802.9" y1="2242.7" x2="223.9" y2="2564.8" stroke="#d9d9d9" stroke-width="2.6"/><line x1="1042" y1="3011.3" x2="1038.7" y2="2141.5" stroke="#d9d9d9" stroke-width="2.6"/><line x1="1270.9" y1="3055.6" x2="1287.3" y2="2172.5" stroke="#d9d9d9" stroke-width="2.6"/><line x1="1508.3" y1="3101.6" x2="1545.9" y2="2204.7" stroke="#d9d9d9" stroke-width="2.6"/><line x1="818.2" y1="2854.2" x2="1762.7" y2="3028.4" stroke="#d9d9d9" stroke-width="2.6"/><line x1="815.3" y1="2737.4" x2="1770.9" y2="2904.6" stroke="#d9d9d9" stroke-width="2.6"/><line x1="812.3" y1="2617.9" x2="1779.3" y2="2777.8" stroke="#d9d9d9" stroke-width="2.6"/><line x1="809.2" y1="2495.7" x2="1787.9" y2="2647.9" stroke="#d9d9d9" stroke-width="2.6"/><line x1="806.1" y1="2370.6" x2="1796.8" y2="2514.7" stroke="#d9d9d9" stroke-width="2.6"/><line x1="802.9" y1="2242.7" x2="1805.8" y2="2378.2" stroke="#d9d9d9" stroke-width="2.6"/></g>
<polygon points="821,2968.5 1754.7,3149.3 1361.3,3653.5 290.2,3397.9" fill="none" stroke="#5a5a5a" stroke-width="3.1" stroke-linejoin="round"/>
<polygon points="821,2968.5 290.2,3397.9 211.8,2412.1 799.6,2111.7" fill="none" stroke="#5a5a5a" stroke-width="3.1" stroke-linejoin="round"/>
<polygon points="821,2968.5 1754.7,3149.3 1815.1,2238.2 799.6,2111.7" fill="none" stroke="#5a5a5a" stroke-width="3.1" stroke-linejoin="round"/>
<line x1="290.2" y1="3397.9" x2="280.7" y2="3404.9" stroke="#5a5a5a" stroke-width="2.6"/><line x1="279.8" y1="3268.2" x2="270.3" y2="3275.2" stroke="#5a5a5a" stroke-width="2.6"/><line x1="269.2" y1="3134.9" x2="259.7" y2="3141.9" stroke="#5a5a5a" stroke-width="2.6"/><line x1="258.4" y1="2998.1" x2="248.9" y2="3005.1" stroke="#5a5a5a" stroke-width="2.6"/><line x1="247.2" y1="2857.6" x2="237.7" y2="2864.6" stroke="#5a5a5a" stroke-width="2.6"/><line x1="235.7" y1="2713.2" x2="226.2" y2="2720.2" stroke="#5a5a5a" stroke-width="2.6"/><line x1="223.9" y1="2564.8" x2="214.4" y2="2571.8" stroke="#5a5a5a" stroke-width="2.6"/><line x1="211.8" y1="2412.1" x2="202.3" y2="2419.1" stroke="#5a5a5a" stroke-width="2.6"/><line x1="540.9" y1="3457.8" x2="532.9" y2="3465.8" stroke="#5a5a5a" stroke-width="2.6"/><line x1="802.6" y1="3520.2" x2="794.6" y2="3528.2" stroke="#5a5a5a" stroke-width="2.6"/><line x1="1075.8" y1="3585.3" x2="1067.8" y2="3593.3" stroke="#5a5a5a" stroke-width="2.6"/><line x1="1361.3" y1="3653.5" x2="1353.3" y2="3661.5" stroke="#5a5a5a" stroke-width="2.6"/><line x1="1754.7" y1="3149.3" x2="1767.7" y2="3152.3" stroke="#5a5a5a" stroke-width="2.6"/><line x1="1712.8" y1="3203" x2="1725.8" y2="3206" stroke="#5a5a5a" stroke-width="2.6"/><line x1="1669.1" y1="3259" x2="1682.1" y2="3262" stroke="#5a5a5a" stroke-width="2.6"/><line x1="1623.5" y1="3317.5" x2="1636.5" y2="3320.5" stroke="#5a5a5a" stroke-width="2.6"/><line x1="1575.8" y1="3378.6" x2="1588.8" y2="3381.6" stroke="#5a5a5a" stroke-width="2.6"/><line x1="1525.9" y1="3442.5" x2="1538.9" y2="3445.5" stroke="#5a5a5a" stroke-width="2.6"/><line x1="1473.6" y1="3509.5" x2="1486.6" y2="3512.5" stroke="#5a5a5a" stroke-width="2.6"/><line x1="1418.8" y1="3579.7" x2="1431.8" y2="3582.7" stroke="#5a5a5a" stroke-width="2.6"/><line x1="1361.3" y1="3653.5" x2="1374.3" y2="3656.5" stroke="#5a5a5a" stroke-width="2.6"/>
<defs><clipPath id="cb"><polygon points="801.3,2180.4 824.7,2181.8 848.1,2183.4 871.6,2185.3 895.2,2187.4 919,2189.8 942.8,2192.5 966.7,2195.5 990.7,2198.7 1014.8,2202.1 1039,2205.9 1063.3,2209.9 1087.6,2214.2 1112.1,2218.7 1136.7,2223.6 1161.3,2228.7 1186,2234 1210.8,2239.7 1235.7,2245.6 1260.7,2251.8 1285.7,2258.3 1310.8,2265.1 1336,2272.2 1361.3,2279.5 1386.7,2287.1 1412.1,2295 1437.6,2303.2 1463.2,2311.7 1488.8,2320.5 1514.5,2329.5 1540.3,2338.9 1566.1,2348.5 1592,2358.4 1617.9,2368.6 1643.9,2379.1 1670,2389.9 1696.1,2401 1722.3,2412.4 1748.6,2424 1774.8,2436 1801.2,2448.2 1792.5,2457.3 1783.7,2466.8 1774.9,2476.6 1765.9,2486.9 1756.9,2497.5 1747.8,2508.5 1738.5,2519.9 1729.2,2531.7 1719.7,2543.9 1710.2,2556.5 1700.6,2569.5 1690.8,2583 1681,2596.8 1671.1,2611.1 1661,2625.8 1650.9,2640.9 1640.6,2656.5 1630.3,2672.5 1619.9,2688.9 1609.3,2705.8 1598.7,2723.2 1587.9,2741 1577,2759.2 1566.1,2777.9 1555,2797.1 1543.8,2816.8 1532.5,2836.9 1521.1,2857.6 1509.6,2878.7 1498,2900.3 1486.3,2922.4 1474.5,2944.9 1462.6,2968 1450.6,2991.6 1438.4,3015.7 1426.2,3040.3 1413.8,3065.4 1401.4,3091.1 1388.8,3117.3 1376.1,3144 1345.4,3140.8 1314.7,3138 1284.3,3135.5 1254,3133.3 1223.8,3131.4 1193.8,3129.8 1164,3128.4 1134.4,3127.4 1104.9,3126.6 1075.6,3126.2 1046.4,3126 1017.4,3126.1 988.6,3126.5 960,3127.2 931.5,3128.1 903.2,3129.3 875.1,3130.8 847.1,3132.5 819.3,3134.5 791.7,3136.8 764.3,3139.3 737,3142.1 710,3145.1 683.1,3148.4 656.3,3151.9 629.8,3155.7 603.4,3159.8 577.2,3164 551.2,3168.5 525.4,3173.3 499.8,3178.2 474.3,3183.4 449,3188.9 423.9,3194.5 399,3200.4 374.2,3206.5 349.7,3212.8 325.3,3219.3 301.1,3226.1 277,3233 291.2,3198.2 305.3,3163.9 319.4,3130 333.4,3096.5 347.4,3063.5 361.4,3030.9 375.2,2998.7 389.1,2967.1 402.9,2935.8 416.6,2905 430.3,2874.7 443.9,2844.7 457.5,2815.3 471,2786.2 484.4,2757.6 497.8,2729.4 511.2,2701.7 524.5,2674.4 537.7,2647.6 550.9,2621.1 564,2595.1 577,2569.5 590,2544.4 603,2519.7 615.9,2495.4 628.7,2471.5 641.4,2448 654.1,2425 666.7,2402.4 679.3,2380.1 691.8,2358.4 704.2,2337 716.6,2316 728.9,2295.4 741.1,2275.2 753.3,2255.5 765.4,2236.1 777.5,2217.1 789.4,2198.6"/></clipPath><filter id="fb" x="-5%" y="-5%" width="110%" height="110%"><feGaussianBlur stdDeviation="7"/><feComponentTransfer><feFuncA type="linear" slope="60" intercept="0"/></feComponentTransfer></filter></defs>
<g clip-path="url(#cb)"><g filter="url(#fb)" stroke-width="1.2" stroke-linejoin="round"><path d="M801.3 2180.4L824.7 2181.8L812.8 2199.7L789.4 2198.6z" fill="#ff3a00" stroke="#ff3a00"/><path d="M824.7 2181.8L848.1 2183.4L836.3 2201.1L812.8 2199.7z" fill="#ff3800" stroke="#ff3800"/><path d="M848.1 2183.4L871.6 2185.3L859.8 2202.8L836.3 2201.1z" fill="#ff3700" stroke="#ff3700"/><path d="M871.6 2185.3L895.2 2187.4L883.5 2204.7L859.8 2202.8z" fill="#ff3700" stroke="#ff3700"/><path d="M895.2 2187.4L919 2189.8L907.3 2206.9L883.5 2204.7z" fill="#ff3600" stroke="#ff3600"/><path d="M919 2189.8L942.8 2192.5L931.1 2209.3L907.3 2206.9z" fill="#ff3600" stroke="#ff3600"/><path d="M942.8 2192.5L966.7 2195.5L955.1 2212L931.1 2209.3z" fill="#ff3500" stroke="#ff3500"/><path d="M966.7 2195.5L990.7 2198.7L979.2 2215L955.1 2212z" fill="#ff3500" stroke="#ff3500"/><path d="M990.7 2198.7L1014.8 2202.1L1003.3 2218.2L979.2 2215z" fill="#ff3500" stroke="#ff3500"/><path d="M1014.8 2202.1L1039 2205.9L1027.6 2221.8L1003.3 2218.2z" fill="#ff3600" stroke="#ff3600"/><path d="M1039 2205.9L1063.3 2209.9L1051.9 2225.5L1027.6 2221.8z" fill="#ff3600" stroke="#ff3600"/><path d="M1063.3 2209.9L1087.6 2214.2L1076.4 2229.6L1051.9 2225.5z" fill="#ff3600" stroke="#ff3600"/><path d="M1087.6 2214.2L1112.1 2218.7L1100.9 2233.9L1076.4 2229.6z" fill="#ff3700" stroke="#ff3700"/><path d="M1112.1 2218.7L1136.7 2223.6L1125.5 2238.5L1100.9 2233.9z" fill="#ff3800" stroke="#ff3800"/><path d="M1136.7 2223.6L1161.3 2228.7L1150.2 2243.4L1125.5 2238.5z" fill="#ff3900" stroke="#ff3900"/><path d="M1161.3 2228.7L1186 2234L1175 2248.5L1150.2 2243.4z" fill="#ff3a00" stroke="#ff3a00"/><path d="M1186 2234L1210.8 2239.7L1199.9 2254L1175 2248.5z" fill="#ff3c00" stroke="#ff3c00"/><path d="M1210.8 2239.7L1235.7 2245.6L1224.8 2259.7L1199.9 2254z" fill="#ff3d00" stroke="#ff3d00"/><path d="M1235.7 2245.6L1260.7 2251.8L1249.9 2265.7L1224.8 2259.7z" fill="#ff3f00" stroke="#ff3f00"/><path d="M1260.7 2251.8L1285.7 2258.3L1275 2271.9L1249.9 2265.7z" fill="#ff4100" stroke="#ff4100"/><path d="M1285.7 2258.3L1310.8 2265.1L1300.2 2278.5L1275 2271.9z" fill="#ff4300" stroke="#ff4300"/><path d="M1310.8 2265.1L1336 2272.2L1325.5 2285.3L1300.2 2278.5z" fill="#ff4600" stroke="#ff4600"/><path d="M1336 2272.2L1361.3 2279.5L1350.9 2292.4L1325.5 2285.3z" fill="#ff4900" stroke="#ff4900"/><path d="M1361.3 2279.5L1386.7 2287.1L1376.3 2299.8L1350.9 2292.4z" fill="#ff4b00" stroke="#ff4b00"/><path d="M1386.7 2287.1L1412.1 2295L1401.8 2307.5L1376.3 2299.8z" fill="#ff4e00" stroke="#ff4e00"/><path d="M1412.1 2295L1437.6 2303.2L1427.4 2315.4L1401.8 2307.5z" fill="#ff5200" stroke="#ff5200"/><path d="M1437.6 2303.2L1463.2 2311.7L1453.1 2323.7L1427.4 2315.4z" fill="#ff5600" stroke="#ff5600"/><path d="M1463.2 2311.7L1488.8 2320.5L1478.8 2332.2L1453.1 2323.7z" fill="#ff5b00" stroke="#ff5b00"/><path d="M1488.8 2320.5L1514.5 2329.5L1504.6 2341.1L1478.8 2332.2z" fill="#ff5f00" stroke="#ff5f00"/><path d="M1514.5 2329.5L1540.3 2338.9L1530.5 2350.2L1504.6 2341.1z" fill="#ff6400" stroke="#ff6400"/><path d="M1540.3 2338.9L1566.1 2348.5L1556.4 2359.6L1530.5 2350.2z" fill="#ff6900" stroke="#ff6900"/><path d="M1566.1 2348.5L1592 2358.4L1582.4 2369.3L1556.4 2359.6z" fill="#ff6e00" stroke="#ff6e00"/><path d="M1592 2358.4L1617.9 2368.6L1608.5 2379.3L1582.4 2369.3z" fill="#ff7300" stroke="#ff7300"/><path d="M1617.9 2368.6L1643.9 2379.1L1634.6 2389.5L1608.5 2379.3z" fill="#ff7800" stroke="#ff7800"/><path d="M1643.9 2379.1L1670 2389.9L1660.8 2400.1L1634.6 2389.5z" fill="#ff7e00" stroke="#ff7e00"/><path d="M1670 2389.9L1696.1 2401L1687 2411L1660.8 2400.1z" fill="#ff8300" stroke="#ff8300"/><path d="M1696.1 2401L1722.3 2412.4L1713.3 2422.1L1687 2411z" fill="#ff8900" stroke="#ff8900"/><path d="M1722.3 2412.4L1748.6 2424L1739.6 2433.6L1713.3 2422.1z" fill="#ff8f00" stroke="#ff8f00"/><path d="M1748.6 2424L1774.8 2436L1766 2445.3L1739.6 2433.6z" fill="#ff9600" stroke="#ff9600"/><path d="M1774.8 2436L1801.2 2448.2L1792.5 2457.3L1766 2445.3z" fill="#ff9e00" stroke="#ff9e00"/><path d="M789.4 2198.6L812.8 2199.7L800.9 2218.1L777.5 2217.1z" fill="#ff4200" stroke="#ff4200"/><path d="M812.8 2199.7L836.3 2201.1L824.4 2219.2L800.9 2218.1z" fill="#ff4000" stroke="#ff4000"/><path d="M836.3 2201.1L859.8 2202.8L848 2220.7L824.4 2219.2z" fill="#ff3f00" stroke="#ff3f00"/><path d="M859.8 2202.8L883.5 2204.7L871.7 2222.4L848 2220.7z" fill="#ff3e00" stroke="#ff3e00"/><path d="M883.5 2204.7L907.3 2206.9L895.5 2224.3L871.7 2222.4z" fill="#ff3d00" stroke="#ff3d00"/><path d="M907.3 2206.9L931.1 2209.3L919.4 2226.5L895.5 2224.3z" fill="#ff3c00" stroke="#ff3c00"/><path d="M931.1 2209.3L955.1 2212L943.5 2229L919.4 2226.5z" fill="#ff3c00" stroke="#ff3c00"/><path d="M955.1 2212L979.2 2215L967.6 2231.7L943.5 2229z" fill="#ff3c00" stroke="#ff3c00"/><path d="M979.2 2215L1003.3 2218.2L991.8 2234.8L967.6 2231.7z" fill="#ff3c00" stroke="#ff3c00"/><path d="M1003.3 2218.2L1027.6 2221.8L1016.1 2238L991.8 2234.8z" fill="#ff3c00" stroke="#ff3c00"/><path d="M1027.6 2221.8L1051.9 2225.5L1040.5 2241.6L1016.1 2238z" fill="#ff3c00" stroke="#ff3c00"/><path d="M1051.9 2225.5L1076.4 2229.6L1065 2245.4L1040.5 2241.6z" fill="#ff3c00" stroke="#ff3c00"/><path d="M1076.4 2229.6L1100.9 2233.9L1089.6 2249.5L1065 2245.4z" fill="#ff3d00" stroke="#ff3d00"/><path d="M1100.9 2233.9L1125.5 2238.5L1114.3 2253.9L1089.6 2249.5z" fill="#ff3e00" stroke="#ff3e00"/><path d="M1125.5 2238.5L1150.2 2243.4L1139.1 2258.5L1114.3 2253.9z" fill="#ff3e00" stroke="#ff3e00"/><path d="M1150.2 2243.4L1175 2248.5L1163.9 2263.4L1139.1 2258.5z" fill="#ff4000" stroke="#ff4000"/><path d="M1175 2248.5L1199.9 2254L1188.9 2268.6L1163.9 2263.4z" fill="#ff4100" stroke="#ff4100"/><path d="M1199.9 2254L1224.8 2259.7L1213.9 2274.1L1188.9 2268.6z" fill="#ff4200" stroke="#ff4200"/><path d="M1224.8 2259.7L1249.9 2265.7L1239 2279.9L1213.9 2274.1z" fill="#ff4400" stroke="#ff4400"/><path d="M1249.9 2265.7L1275 2271.9L1264.2 2285.9L1239 2279.9z" fill="#ff4600" stroke="#ff4600"/><path d="M1275 2271.9L1300.2 2278.5L1289.5 2292.2L1264.2 2285.9z" fill="#ff4800" stroke="#ff4800"/><path d="M1300.2 2278.5L1325.5 2285.3L1314.9 2298.8L1289.5 2292.2z" fill="#ff4a00" stroke="#ff4a00"/><path d="M1325.5 2285.3L1350.9 2292.4L1340.3 2305.7L1314.9 2298.8z" fill="#ff4d00" stroke="#ff4d00"/><path d="M1350.9 2292.4L1376.3 2299.8L1365.9 2312.9L1340.3 2305.7z" fill="#ff4f00" stroke="#ff4f00"/><path d="M1376.3 2299.8L1401.8 2307.5L1391.5 2320.3L1365.9 2312.9z" fill="#ff5300" stroke="#ff5300"/><path d="M1401.8 2307.5L1427.4 2315.4L1417.2 2328L1391.5 2320.3z" fill="#ff5600" stroke="#ff5600"/><path d="M1427.4 2315.4L1453.1 2323.7L1442.9 2336.1L1417.2 2328z" fill="#ff5a00" stroke="#ff5a00"/><path d="M1453.1 2323.7L1478.8 2332.2L1468.7 2344.4L1442.9 2336.1z" fill="#ff5f00" stroke="#ff5f00"/><path d="M1478.8 2332.2L1504.6 2341.1L1494.6 2353L1468.7 2344.4z" fill="#ff6300" stroke="#ff6300"/><path d="M1504.6 2341.1L1530.5 2350.2L1520.6 2361.9L1494.6 2353z" fill="#ff6700" stroke="#ff6700"/><path d="M1530.5 2350.2L1556.4 2359.6L1546.6 2371L1520.6 2361.9z" fill="#ff6c00" stroke="#ff6c00"/><path d="M1556.4 2359.6L1582.4 2369.3L1572.7 2380.5L1546.6 2371z" fill="#ff7100" stroke="#ff7100"/><path d="M1582.4 2369.3L1608.5 2379.3L1598.9 2390.3L1572.7 2380.5z" fill="#ff7600" stroke="#ff7600"/><path d="M1608.5 2379.3L1634.6 2389.5L1625.1 2400.3L1598.9 2390.3z" fill="#ff7b00" stroke="#ff7b00"/><path d="M1634.6 2389.5L1660.8 2400.1L1651.4 2410.7L1625.1 2400.3z" fill="#ff8000" stroke="#ff8000"/><path d="M1660.8 2400.1L1687 2411L1677.8 2421.3L1651.4 2410.7z" fill="#ff8500" stroke="#ff8500"/><path d="M1687 2411L1713.3 2422.1L1704.2 2432.2L1677.8 2421.3z" fill="#ff8a00" stroke="#ff8a00"/><path d="M1713.3 2422.1L1739.6 2433.6L1730.6 2443.5L1704.2 2432.2z" fill="#ff9000" stroke="#ff9000"/><path d="M1739.6 2433.6L1766 2445.3L1757.2 2455L1730.6 2443.5z" fill="#ff9700" stroke="#ff9700"/><path d="M1766 2445.3L1792.5 2457.3L1783.7 2466.8L1757.2 2455z" fill="#ff9f00" stroke="#ff9f00"/><path d="M777.5 2217.1L800.9 2218.1L788.9 2236.8L765.4 2236.1z" fill="#ff4a00" stroke="#ff4a00"/><path d="M800.9 2218.1L824.4 2219.2L812.4 2237.7L788.9 2236.8z" fill="#ff4900" stroke="#ff4900"/><path d="M824.4 2219.2L848 2220.7L836.1 2238.9L812.4 2237.7z" fill="#ff4700" stroke="#ff4700"/><path d="M848 2220.7L871.7 2222.4L859.8 2240.4L836.1 2238.9z" fill="#ff4600" stroke="#ff4600"/><path d="M871.7 2222.4L895.5 2224.3L883.7 2242.1L859.8 2240.4z" fill="#ff4500" stroke="#ff4500"/><path d="M895.5 2224.3L919.4 2226.5L907.7 2244.1L883.7 2242.1z" fill="#ff4400" stroke="#ff4400"/><path d="M919.4 2226.5L943.5 2229L931.7 2246.4L907.7 2244.1z" fill="#ff4300" stroke="#ff4300"/><path d="M943.5 2229L967.6 2231.7L955.9 2248.9L931.7 2246.4z" fill="#ff4300" stroke="#ff4300"/><path d="M967.6 2231.7L991.8 2234.8L980.2 2251.7L955.9 2248.9z" fill="#ff4200" stroke="#ff4200"/><path d="M991.8 2234.8L1016.1 2238L1004.5 2254.7L980.2 2251.7z" fill="#ff4200" stroke="#ff4200"/><path d="M1016.1 2238L1040.5 2241.6L1029 2258L1004.5 2254.7z" fill="#ff4200" stroke="#ff4200"/><path d="M1040.5 2241.6L1065 2245.4L1053.6 2261.6L1029 2258z" fill="#ff4300" stroke="#ff4300"/><path d="M1065 2245.4L1089.6 2249.5L1078.2 2265.5L1053.6 2261.6z" fill="#ff4300" stroke="#ff4300"/><path d="M1089.6 2249.5L1114.3 2253.9L1103 2269.6L1078.2 2265.5z" fill="#ff4400" stroke="#ff4400"/><path d="M1114.3 2253.9L1139.1 2258.5L1127.8 2274L1103 2269.6z" fill="#ff4400" stroke="#ff4400"/><path d="M1139.1 2258.5L1163.9 2263.4L1152.8 2278.7L1127.8 2274z" fill="#ff4500" stroke="#ff4500"/><path d="M1163.9 2263.4L1188.9 2268.6L1177.8 2283.7L1152.8 2278.7z" fill="#ff4600" stroke="#ff4600"/><path d="M1188.9 2268.6L1213.9 2274.1L1202.9 2288.9L1177.8 2283.7z" fill="#ff4800" stroke="#ff4800"/><path d="M1213.9 2274.1L1239 2279.9L1228.1 2294.5L1202.9 2288.9z" fill="#ff4900" stroke="#ff4900"/><path d="M1239 2279.9L1264.2 2285.9L1253.4 2300.3L1228.1 2294.5z" fill="#ff4b00" stroke="#ff4b00"/><path d="M1264.2 2285.9L1289.5 2292.2L1278.7 2306.3L1253.4 2300.3z" fill="#ff4d00" stroke="#ff4d00"/><path d="M1289.5 2292.2L1314.9 2298.8L1304.2 2312.7L1278.7 2306.3z" fill="#ff4f00" stroke="#ff4f00"/><path d="M1314.9 2298.8L1340.3 2305.7L1329.7 2319.4L1304.2 2312.7z" fill="#ff5100" stroke="#ff5100"/><path d="M1340.3 2305.7L1365.9 2312.9L1355.3 2326.3L1329.7 2319.4z" fill="#ff5400" stroke="#ff5400"/><path d="M1365.9 2312.9L1391.5 2320.3L1381 2333.5L1355.3 2326.3z" fill="#ff5800" stroke="#ff5800"/><path d="M1391.5 2320.3L1417.2 2328L1406.8 2341L1381 2333.5z" fill="#ff5b00" stroke="#ff5b00"/><path d="M1417.2 2328L1442.9 2336.1L1432.6 2348.8L1406.8 2341z" fill="#ff5f00" stroke="#ff5f00"/><path d="M1442.9 2336.1L1468.7 2344.4L1458.6 2356.9L1432.6 2348.8z" fill="#ff6300" stroke="#ff6300"/><path d="M1468.7 2344.4L1494.6 2353L1484.6 2365.3L1458.6 2356.9z" fill="#ff6700" stroke="#ff6700"/><path d="M1494.6 2353L1520.6 2361.9L1510.6 2373.9L1484.6 2365.3z" fill="#ff6b00" stroke="#ff6b00"/><path d="M1520.6 2361.9L1546.6 2371L1536.8 2382.9L1510.6 2373.9z" fill="#ff6f00" stroke="#ff6f00"/><path d="M1546.6 2371L1572.7 2380.5L1563 2392.1L1536.8 2382.9z" fill="#ff7400" stroke="#ff7400"/><path d="M1572.7 2380.5L1598.9 2390.3L1589.2 2401.7L1563 2392.1z" fill="#ff7800" stroke="#ff7800"/><path d="M1598.9 2390.3L1625.1 2400.3L1615.6 2411.5L1589.2 2401.7z" fill="#ff7d00" stroke="#ff7d00"/><path d="M1625.1 2400.3L1651.4 2410.7L1642 2421.6L1615.6 2411.5z" fill="#ff8200" stroke="#ff8200"/><path d="M1651.4 2410.7L1677.8 2421.3L1668.4 2432L1642 2421.6z" fill="#ff8700" stroke="#ff8700"/><path d="M1677.8 2421.3L1704.2 2432.2L1695 2442.7L1668.4 2432z" fill="#ff8c00" stroke="#ff8c00"/><path d="M1704.2 2432.2L1730.6 2443.5L1721.6 2453.8L1695 2442.7z" fill="#ff9200" stroke="#ff9200"/><path d="M1730.6 2443.5L1757.2 2455L1748.2 2465.1L1721.6 2453.8z" fill="#ff9900" stroke="#ff9900"/><path d="M1757.2 2455L1783.7 2466.8L1774.9 2476.6L1748.2 2465.1z" fill="#ffa000" stroke="#ffa000"/><path d="M765.4 2236.1L788.9 2236.8L776.8 2255.9L753.3 2255.5z" fill="#ff5400" stroke="#ff5400"/><path d="M788.9 2236.8L812.4 2237.7L800.4 2256.7L776.8 2255.9z" fill="#ff5200" stroke="#ff5200"/><path d="M812.4 2237.7L836.1 2238.9L824.1 2257.6L800.4 2256.7z" fill="#ff5000" stroke="#ff5000"/><path d="M836.1 2238.9L859.8 2240.4L847.9 2258.9L824.1 2257.6z" fill="#ff4e00" stroke="#ff4e00"/><path d="M859.8 2240.4L883.7 2242.1L871.8 2260.4L847.9 2258.9z" fill="#ff4d00" stroke="#ff4d00"/><path d="M883.7 2242.1L907.7 2244.1L895.8 2262.1L871.8 2260.4z" fill="#ff4c00" stroke="#ff4c00"/><path d="M907.7 2244.1L931.7 2246.4L919.9 2264.1L895.8 2262.1z" fill="#ff4b00" stroke="#ff4b00"/><path d="M931.7 2246.4L955.9 2248.9L944.2 2266.4L919.9 2264.1z" fill="#ff4a00" stroke="#ff4a00"/><path d="M955.9 2248.9L980.2 2251.7L968.5 2269L944.2 2266.4z" fill="#ff4a00" stroke="#ff4a00"/><path d="M980.2 2251.7L1004.5 2254.7L992.9 2271.8L968.5 2269z" fill="#ff4900" stroke="#ff4900"/><path d="M1004.5 2254.7L1029 2258L1017.4 2274.9L992.9 2271.8z" fill="#ff4900" stroke="#ff4900"/><path d="M1029 2258L1053.6 2261.6L1042.1 2278.2L1017.4 2274.9z" fill="#ff4900" stroke="#ff4900"/><path d="M1053.6 2261.6L1078.2 2265.5L1066.8 2281.9L1042.1 2278.2z" fill="#ff4900" stroke="#ff4900"/><path d="M1078.2 2265.5L1103 2269.6L1091.6 2285.8L1066.8 2281.9z" fill="#ff4a00" stroke="#ff4a00"/><path d="M1103 2269.6L1127.8 2274L1116.5 2290L1091.6 2285.8z" fill="#ff4a00" stroke="#ff4a00"/><path d="M1127.8 2274L1152.8 2278.7L1141.5 2294.4L1116.5 2290z" fill="#ff4b00" stroke="#ff4b00"/><path d="M1152.8 2278.7L1177.8 2283.7L1166.6 2299.2L1141.5 2294.4z" fill="#ff4c00" stroke="#ff4c00"/><path d="M1177.8 2283.7L1202.9 2288.9L1191.8 2304.2L1166.6 2299.2z" fill="#ff4d00" stroke="#ff4d00"/><path d="M1202.9 2288.9L1228.1 2294.5L1217.1 2309.5L1191.8 2304.2z" fill="#ff4f00" stroke="#ff4f00"/><path d="M1228.1 2294.5L1253.4 2300.3L1242.4 2315L1217.1 2309.5z" fill="#ff5000" stroke="#ff5000"/><path d="M1253.4 2300.3L1278.7 2306.3L1267.9 2320.9L1242.4 2315z" fill="#ff5200" stroke="#ff5200"/><path d="M1278.7 2306.3L1304.2 2312.7L1293.4 2327L1267.9 2320.9z" fill="#ff5500" stroke="#ff5500"/><path d="M1304.2 2312.7L1329.7 2319.4L1319 2333.4L1293.4 2327z" fill="#ff5700" stroke="#ff5700"/><path d="M1329.7 2319.4L1355.3 2326.3L1344.7 2340.1L1319 2333.4z" fill="#ff5a00" stroke="#ff5a00"/><path d="M1355.3 2326.3L1381 2333.5L1370.5 2347.1L1344.7 2340.1z" fill="#ff5d00" stroke="#ff5d00"/><path d="M1381 2333.5L1406.8 2341L1396.4 2354.4L1370.5 2347.1z" fill="#ff6000" stroke="#ff6000"/><path d="M1406.8 2341L1432.6 2348.8L1422.3 2362L1396.4 2354.4z" fill="#ff6400" stroke="#ff6400"/><path d="M1432.6 2348.8L1458.6 2356.9L1448.3 2369.8L1422.3 2362z" fill="#ff6700" stroke="#ff6700"/><path d="M1458.6 2356.9L1484.6 2365.3L1474.4 2378L1448.3 2369.8z" fill="#ff6b00" stroke="#ff6b00"/><path d="M1484.6 2365.3L1510.6 2373.9L1500.6 2386.4L1474.4 2378z" fill="#ff6f00" stroke="#ff6f00"/><path d="M1510.6 2373.9L1536.8 2382.9L1526.8 2395.1L1500.6 2386.4z" fill="#ff7300" stroke="#ff7300"/><path d="M1536.8 2382.9L1563 2392.1L1553.1 2404.2L1526.8 2395.1z" fill="#ff7700" stroke="#ff7700"/><path d="M1563 2392.1L1589.2 2401.7L1579.5 2413.5L1553.1 2404.2z" fill="#ff7b00" stroke="#ff7b00"/><path d="M1589.2 2401.7L1615.6 2411.5L1605.9 2423.1L1579.5 2413.5z" fill="#ff8000" stroke="#ff8000"/><path d="M1615.6 2411.5L1642 2421.6L1632.5 2433L1605.9 2423.1z" fill="#ff8400" stroke="#ff8400"/><path d="M1642 2421.6L1668.4 2432L1659 2443.2L1632.5 2433z" fill="#ff8900" stroke="#ff8900"/><path d="M1668.4 2432L1695 2442.7L1685.7 2453.6L1659 2443.2z" fill="#ff8e00" stroke="#ff8e00"/><path d="M1695 2442.7L1721.6 2453.8L1712.4 2464.4L1685.7 2453.6z" fill="#ff9400" stroke="#ff9400"/><path d="M1721.6 2453.8L1748.2 2465.1L1739.1 2475.5L1712.4 2464.4z" fill="#ff9b00" stroke="#ff9b00"/><path d="M1748.2 2465.1L1774.9 2476.6L1765.9 2486.9L1739.1 2475.5z" fill="#ffa200" stroke="#ffa200"/><path d="M753.3 2255.5L776.8 2255.9L764.7 2275.5L741.1 2275.2z" fill="#ff5f00" stroke="#ff5f00"/><path d="M776.8 2255.9L800.4 2256.7L788.3 2276L764.7 2275.5z" fill="#ff5d00" stroke="#ff5d00"/><path d="M800.4 2256.7L824.1 2257.6L812 2276.7L788.3 2276z" fill="#ff5b00" stroke="#ff5b00"/><path d="M824.1 2257.6L847.9 2258.9L835.9 2277.7L812 2276.7z" fill="#ff5800" stroke="#ff5800"/><path d="M847.9 2258.9L871.8 2260.4L859.8 2279L835.9 2277.7z" fill="#ff5700" stroke="#ff5700"/><path d="M871.8 2260.4L895.8 2262.1L883.9 2280.5L859.8 2279z" fill="#ff5500" stroke="#ff5500"/><path d="M895.8 2262.1L919.9 2264.1L908.1 2282.3L883.9 2280.5z" fill="#ff5400" stroke="#ff5400"/><path d="M919.9 2264.1L944.2 2266.4L932.3 2284.4L908.1 2282.3z" fill="#ff5200" stroke="#ff5200"/><path d="M944.2 2266.4L968.5 2269L956.7 2286.7L932.3 2284.4z" fill="#ff5200" stroke="#ff5200"/><path d="M968.5 2269L992.9 2271.8L981.2 2289.3L956.7 2286.7z" fill="#ff5100" stroke="#ff5100"/><path d="M992.9 2271.8L1017.4 2274.9L1005.8 2292.1L981.2 2289.3z" fill="#ff5000" stroke="#ff5000"/><path d="M1017.4 2274.9L1042.1 2278.2L1030.5 2295.3L1005.8 2292.1z" fill="#ff5000" stroke="#ff5000"/><path d="M1042.1 2278.2L1066.8 2281.9L1055.2 2298.7L1030.5 2295.3z" fill="#ff5000" stroke="#ff5000"/><path d="M1066.8 2281.9L1091.6 2285.8L1080.1 2302.3L1055.2 2298.7z" fill="#ff5000" stroke="#ff5000"/><path d="M1091.6 2285.8L1116.5 2290L1105.1 2306.3L1080.1 2302.3z" fill="#ff5100" stroke="#ff5100"/><path d="M1116.5 2290L1141.5 2294.4L1130.2 2310.5L1105.1 2306.3z" fill="#ff5200" stroke="#ff5200"/><path d="M1141.5 2294.4L1166.6 2299.2L1155.3 2315L1130.2 2310.5z" fill="#ff5300" stroke="#ff5300"/><path d="M1166.6 2299.2L1191.8 2304.2L1180.6 2319.8L1155.3 2315z" fill="#ff5400" stroke="#ff5400"/><path d="M1191.8 2304.2L1217.1 2309.5L1205.9 2324.9L1180.6 2319.8z" fill="#ff5500" stroke="#ff5500"/><path d="M1217.1 2309.5L1242.4 2315L1231.4 2330.2L1205.9 2324.9z" fill="#ff5700" stroke="#ff5700"/><path d="M1242.4 2315L1267.9 2320.9L1256.9 2335.8L1231.4 2330.2z" fill="#ff5900" stroke="#ff5900"/><path d="M1267.9 2320.9L1293.4 2327L1282.5 2341.7L1256.9 2335.8z" fill="#ff5b00" stroke="#ff5b00"/><path d="M1293.4 2327L1319 2333.4L1308.2 2347.9L1282.5 2341.7z" fill="#ff5d00" stroke="#ff5d00"/><path d="M1319 2333.4L1344.7 2340.1L1334 2354.4L1308.2 2347.9z" fill="#ff6000" stroke="#ff6000"/><path d="M1344.7 2340.1L1370.5 2347.1L1359.9 2361.1L1334 2354.4z" fill="#ff6300" stroke="#ff6300"/><path d="M1370.5 2347.1L1396.4 2354.4L1385.8 2368.2L1359.9 2361.1z" fill="#ff6500" stroke="#ff6500"/><path d="M1396.4 2354.4L1422.3 2362L1411.9 2375.5L1385.8 2368.2z" fill="#ff6800" stroke="#ff6800"/><path d="M1422.3 2362L1448.3 2369.8L1438 2383.2L1411.9 2375.5z" fill="#ff6c00" stroke="#ff6c00"/><path d="M1448.3 2369.8L1474.4 2378L1464.2 2391.1L1438 2383.2z" fill="#ff6f00" stroke="#ff6f00"/><path d="M1474.4 2378L1500.6 2386.4L1490.4 2399.3L1464.2 2391.1z" fill="#ff7300" stroke="#ff7300"/><path d="M1500.6 2386.4L1526.8 2395.1L1516.8 2407.8L1490.4 2399.3z" fill="#ff7600" stroke="#ff7600"/><path d="M1526.8 2395.1L1553.1 2404.2L1543.2 2416.6L1516.8 2407.8z" fill="#ff7a00" stroke="#ff7a00"/><path d="M1553.1 2404.2L1579.5 2413.5L1569.7 2425.6L1543.2 2416.6z" fill="#ff7e00" stroke="#ff7e00"/><path d="M1579.5 2413.5L1605.9 2423.1L1596.2 2435L1569.7 2425.6z" fill="#ff8300" stroke="#ff8300"/><path d="M1605.9 2423.1L1632.5 2433L1622.8 2444.7L1596.2 2435z" fill="#ff8700" stroke="#ff8700"/><path d="M1632.5 2433L1659 2443.2L1649.5 2454.7L1622.8 2444.7z" fill="#ff8c00" stroke="#ff8c00"/><path d="M1659 2443.2L1685.7 2453.6L1676.3 2464.9L1649.5 2454.7z" fill="#ff9100" stroke="#ff9100"/><path d="M1685.7 2453.6L1712.4 2464.4L1703.1 2475.5L1676.3 2464.9z" fill="#ff9700" stroke="#ff9700"/><path d="M1712.4 2464.4L1739.1 2475.5L1730 2486.3L1703.1 2475.5z" fill="#ff9d00" stroke="#ff9d00"/><path d="M1739.1 2475.5L1765.9 2486.9L1756.9 2497.5L1730 2486.3z" fill="#ffa400" stroke="#ffa400"/><path d="M741.1 2275.2L764.7 2275.5L752.5 2295.4L728.9 2295.4z" fill="#ff6b00" stroke="#ff6b00"/><path d="M764.7 2275.5L788.3 2276L776.1 2295.7L752.5 2295.4z" fill="#ff6800" stroke="#ff6800"/><path d="M788.3 2276L812 2276.7L799.9 2296.2L776.1 2295.7z" fill="#ff6600" stroke="#ff6600"/><path d="M812 2276.7L835.9 2277.7L823.8 2297L799.9 2296.2z" fill="#ff6400" stroke="#ff6400"/><path d="M835.9 2277.7L859.8 2279L847.8 2298L823.8 2297z" fill="#ff6100" stroke="#ff6100"/><path d="M859.8 2279L883.9 2280.5L871.9 2299.3L847.8 2298z" fill="#ff6000" stroke="#ff6000"/><path d="M883.9 2280.5L908.1 2282.3L896.1 2300.9L871.9 2299.3z" fill="#ff5e00" stroke="#ff5e00"/><path d="M908.1 2282.3L932.3 2284.4L920.5 2302.7L896.1 2300.9z" fill="#ff5d00" stroke="#ff5d00"/><path d="M932.3 2284.4L956.7 2286.7L944.9 2304.8L920.5 2302.7z" fill="#ff5b00" stroke="#ff5b00"/><path d="M956.7 2286.7L981.2 2289.3L969.4 2307.2L944.9 2304.8z" fill="#ff5a00" stroke="#ff5a00"/><path d="M981.2 2289.3L1005.8 2292.1L994.1 2309.8L969.4 2307.2z" fill="#ff5a00" stroke="#ff5a00"/><path d="M1005.8 2292.1L1030.5 2295.3L1018.8 2312.7L994.1 2309.8z" fill="#ff5900" stroke="#ff5900"/><path d="M1030.5 2295.3L1055.2 2298.7L1043.6 2315.9L1018.8 2312.7z" fill="#ff5900" stroke="#ff5900"/><path d="M1055.2 2298.7L1080.1 2302.3L1068.6 2319.3L1043.6 2315.9z" fill="#ff5900" stroke="#ff5900"/><path d="M1080.1 2302.3L1105.1 2306.3L1093.6 2323L1068.6 2319.3z" fill="#ff5900" stroke="#ff5900"/><path d="M1105.1 2306.3L1130.2 2310.5L1118.8 2327L1093.6 2323z" fill="#ff5a00" stroke="#ff5a00"/><path d="M1130.2 2310.5L1155.3 2315L1144 2331.3L1118.8 2327z" fill="#ff5a00" stroke="#ff5a00"/><path d="M1155.3 2315L1180.6 2319.8L1169.3 2335.8L1144 2331.3z" fill="#ff5b00" stroke="#ff5b00"/><path d="M1180.6 2319.8L1205.9 2324.9L1194.7 2340.7L1169.3 2335.8z" fill="#ff5d00" stroke="#ff5d00"/><path d="M1205.9 2324.9L1231.4 2330.2L1220.3 2345.8L1194.7 2340.7z" fill="#ff5e00" stroke="#ff5e00"/><path d="M1231.4 2330.2L1256.9 2335.8L1245.9 2351.1L1220.3 2345.8z" fill="#ff6000" stroke="#ff6000"/><path d="M1256.9 2335.8L1282.5 2341.7L1271.6 2356.8L1245.9 2351.1z" fill="#ff6100" stroke="#ff6100"/><path d="M1282.5 2341.7L1308.2 2347.9L1297.3 2362.8L1271.6 2356.8z" fill="#ff6400" stroke="#ff6400"/><path d="M1308.2 2347.9L1334 2354.4L1323.2 2369L1297.3 2362.8z" fill="#ff6600" stroke="#ff6600"/><path d="M1334 2354.4L1359.9 2361.1L1349.2 2375.6L1323.2 2369z" fill="#ff6800" stroke="#ff6800"/><path d="M1359.9 2361.1L1385.8 2368.2L1375.2 2382.4L1349.2 2375.6z" fill="#ff6b00" stroke="#ff6b00"/><path d="M1385.8 2368.2L1411.9 2375.5L1401.3 2389.5L1375.2 2382.4z" fill="#ff6d00" stroke="#ff6d00"/><path d="M1411.9 2375.5L1438 2383.2L1427.5 2396.9L1401.3 2389.5z" fill="#ff7000" stroke="#ff7000"/><path d="M1438 2383.2L1464.2 2391.1L1453.8 2404.6L1427.5 2396.9z" fill="#ff7300" stroke="#ff7300"/><path d="M1464.2 2391.1L1490.4 2399.3L1480.2 2412.5L1453.8 2404.6z" fill="#ff7700" stroke="#ff7700"/><path d="M1490.4 2399.3L1516.8 2407.8L1506.6 2420.8L1480.2 2412.5z" fill="#ff7a00" stroke="#ff7a00"/><path d="M1516.8 2407.8L1543.2 2416.6L1533.1 2429.4L1506.6 2420.8z" fill="#ff7e00" stroke="#ff7e00"/><path d="M1543.2 2416.6L1569.7 2425.6L1559.7 2438.2L1533.1 2429.4z" fill="#ff8200" stroke="#ff8200"/><path d="M1569.7 2425.6L1596.2 2435L1586.4 2447.4L1559.7 2438.2z" fill="#ff8600" stroke="#ff8600"/><path d="M1596.2 2435L1622.8 2444.7L1613.1 2456.8L1586.4 2447.4z" fill="#ff8a00" stroke="#ff8a00"/><path d="M1622.8 2444.7L1649.5 2454.7L1639.9 2466.6L1613.1 2456.8z" fill="#ff8e00" stroke="#ff8e00"/><path d="M1649.5 2454.7L1676.3 2464.9L1666.8 2476.6L1639.9 2466.6z" fill="#ff9400" stroke="#ff9400"/><path d="M1676.3 2464.9L1703.1 2475.5L1693.7 2486.9L1666.8 2476.6z" fill="#ff9a00" stroke="#ff9a00"/><path d="M1703.1 2475.5L1730 2486.3L1720.7 2497.6L1693.7 2486.9z" fill="#ffa000" stroke="#ffa000"/><path d="M1730 2486.3L1756.9 2497.5L1747.8 2508.5L1720.7 2497.6z" fill="#ffa600" stroke="#ffa600"/><path d="M728.9 2295.4L752.5 2295.4L740.2 2315.8L716.6 2316z" fill="#ff7500" stroke="#ff7500"/><path d="M752.5 2295.4L776.1 2295.7L763.9 2315.8L740.2 2315.8z" fill="#ff7300" stroke="#ff7300"/><path d="M776.1 2295.7L799.9 2296.2L787.7 2316.1L763.9 2315.8z" fill="#ff7000" stroke="#ff7000"/><path d="M799.9 2296.2L823.8 2297L811.7 2316.7L787.7 2316.1z" fill="#ff6e00" stroke="#ff6e00"/><path d="M823.8 2297L847.8 2298L835.7 2317.5L811.7 2316.7z" fill="#ff6c00" stroke="#ff6c00"/><path d="M847.8 2298L871.9 2299.3L859.9 2318.5L835.7 2317.5z" fill="#ff6a00" stroke="#ff6a00"/><path d="M871.9 2299.3L896.1 2300.9L884.1 2319.9L859.9 2318.5z" fill="#ff6800" stroke="#ff6800"/><path d="M896.1 2300.9L920.5 2302.7L908.5 2321.5L884.1 2319.9z" fill="#ff6700" stroke="#ff6700"/><path d="M920.5 2302.7L944.9 2304.8L933 2323.3L908.5 2321.5z" fill="#ff6500" stroke="#ff6500"/><path d="M944.9 2304.8L969.4 2307.2L957.6 2325.5L933 2323.3z" fill="#ff6400" stroke="#ff6400"/><path d="M969.4 2307.2L994.1 2309.8L982.3 2327.9L957.6 2325.5z" fill="#ff6300" stroke="#ff6300"/><path d="M994.1 2309.8L1018.8 2312.7L1007.1 2330.5L982.3 2327.9z" fill="#ff6300" stroke="#ff6300"/><path d="M1018.8 2312.7L1043.6 2315.9L1032 2333.5L1007.1 2330.5z" fill="#ff6200" stroke="#ff6200"/><path d="M1043.6 2315.9L1068.6 2319.3L1057 2336.7L1032 2333.5z" fill="#ff6200" stroke="#ff6200"/><path d="M1068.6 2319.3L1093.6 2323L1082.1 2340.2L1057 2336.7z" fill="#ff6200" stroke="#ff6200"/><path d="M1093.6 2323L1118.8 2327L1107.3 2343.9L1082.1 2340.2z" fill="#ff6200" stroke="#ff6200"/><path d="M1118.8 2327L1144 2331.3L1132.6 2347.9L1107.3 2343.9z" fill="#ff6300" stroke="#ff6300"/><path d="M1144 2331.3L1169.3 2335.8L1158 2352.3L1132.6 2347.9z" fill="#ff6300" stroke="#ff6300"/><path d="M1169.3 2335.8L1194.7 2340.7L1183.5 2356.9L1158 2352.3z" fill="#ff6400" stroke="#ff6400"/><path d="M1194.7 2340.7L1220.3 2345.8L1209 2361.7L1183.5 2356.9z" fill="#ff6500" stroke="#ff6500"/><path d="M1220.3 2345.8L1245.9 2351.1L1234.7 2366.9L1209 2361.7z" fill="#ff6600" stroke="#ff6600"/><path d="M1245.9 2351.1L1271.6 2356.8L1260.5 2372.3L1234.7 2366.9z" fill="#ff6800" stroke="#ff6800"/><path d="M1271.6 2356.8L1297.3 2362.8L1286.4 2378.1L1260.5 2372.3z" fill="#ff6a00" stroke="#ff6a00"/><path d="M1297.3 2362.8L1323.2 2369L1312.3 2384.1L1286.4 2378.1z" fill="#ff6b00" stroke="#ff6b00"/><path d="M1323.2 2369L1349.2 2375.6L1338.4 2390.4L1312.3 2384.1z" fill="#ff6e00" stroke="#ff6e00"/><path d="M1349.2 2375.6L1375.2 2382.4L1364.5 2397L1338.4 2390.4z" fill="#ff7000" stroke="#ff7000"/><path d="M1375.2 2382.4L1401.3 2389.5L1390.7 2403.8L1364.5 2397z" fill="#ff7200" stroke="#ff7200"/><path d="M1401.3 2389.5L1427.5 2396.9L1417 2411L1390.7 2403.8z" fill="#ff7500" stroke="#ff7500"/><path d="M1427.5 2396.9L1453.8 2404.6L1443.4 2418.5L1417 2411z" fill="#ff7800" stroke="#ff7800"/><path d="M1453.8 2404.6L1480.2 2412.5L1469.8 2426.2L1443.4 2418.5z" fill="#ff7b00" stroke="#ff7b00"/><path d="M1480.2 2412.5L1506.6 2420.8L1496.4 2434.2L1469.8 2426.2z" fill="#ff7e00" stroke="#ff7e00"/><path d="M1506.6 2420.8L1533.1 2429.4L1523 2442.6L1496.4 2434.2z" fill="#ff8200" stroke="#ff8200"/><path d="M1533.1 2429.4L1559.7 2438.2L1549.7 2451.2L1523 2442.6z" fill="#ff8500" stroke="#ff8500"/><path d="M1559.7 2438.2L1586.4 2447.4L1576.5 2460.1L1549.7 2451.2z" fill="#ff8900" stroke="#ff8900"/><path d="M1586.4 2447.4L1613.1 2456.8L1603.3 2469.3L1576.5 2460.1z" fill="#ff8d00" stroke="#ff8d00"/><path d="M1613.1 2456.8L1639.9 2466.6L1630.2 2478.9L1603.3 2469.3z" fill="#ff9100" stroke="#ff9100"/><path d="M1639.9 2466.6L1666.8 2476.6L1657.2 2488.7L1630.2 2478.9z" fill="#ff9700" stroke="#ff9700"/><path d="M1666.8 2476.6L1693.7 2486.9L1684.2 2498.8L1657.2 2488.7z" fill="#ff9d00" stroke="#ff9d00"/><path d="M1693.7 2486.9L1720.7 2497.6L1711.3 2509.2L1684.2 2498.8z" fill="#ffa300" stroke="#ffa300"/><path d="M1720.7 2497.6L1747.8 2508.5L1738.5 2519.9L1711.3 2509.2z" fill="#ffa900" stroke="#ffa900"/><path d="M716.6 2316L740.2 2315.8L727.9 2336.5L704.2 2337z" fill="#ff8000" stroke="#ff8000"/><path d="M740.2 2315.8L763.9 2315.8L751.6 2336.3L727.9 2336.5z" fill="#ff7d00" stroke="#ff7d00"/><path d="M763.9 2315.8L787.7 2316.1L775.5 2336.4L751.6 2336.3z" fill="#ff7b00" stroke="#ff7b00"/><path d="M787.7 2316.1L811.7 2316.7L799.4 2336.7L775.5 2336.4z" fill="#ff7800" stroke="#ff7800"/><path d="M811.7 2316.7L835.7 2317.5L823.5 2337.3L799.4 2336.7z" fill="#ff7600" stroke="#ff7600"/><path d="M835.7 2317.5L859.9 2318.5L847.7 2338.2L823.5 2337.3z" fill="#ff7400" stroke="#ff7400"/><path d="M859.9 2318.5L884.1 2319.9L872 2339.3L847.7 2338.2z" fill="#ff7200" stroke="#ff7200"/><path d="M884.1 2319.9L908.5 2321.5L896.5 2340.6L872 2339.3z" fill="#ff7000" stroke="#ff7000"/><path d="M908.5 2321.5L933 2323.3L921 2342.3L896.5 2340.6z" fill="#ff6f00" stroke="#ff6f00"/><path d="M933 2323.3L957.6 2325.5L945.6 2344.2L921 2342.3z" fill="#ff6d00" stroke="#ff6d00"/><path d="M957.6 2325.5L982.3 2327.9L970.4 2346.3L945.6 2344.2z" fill="#ff6c00" stroke="#ff6c00"/><path d="M982.3 2327.9L1007.1 2330.5L995.2 2348.8L970.4 2346.3z" fill="#ff6b00" stroke="#ff6b00"/><path d="M1007.1 2330.5L1032 2333.5L1020.2 2351.5L995.2 2348.8z" fill="#ff6b00" stroke="#ff6b00"/><path d="M1032 2333.5L1057 2336.7L1045.2 2354.4L1020.2 2351.5z" fill="#ff6a00" stroke="#ff6a00"/><path d="M1057 2336.7L1082.1 2340.2L1070.4 2357.7L1045.2 2354.4z" fill="#ff6a00" stroke="#ff6a00"/><path d="M1082.1 2340.2L1107.3 2343.9L1095.7 2361.2L1070.4 2357.7z" fill="#ff6a00" stroke="#ff6a00"/><path d="M1107.3 2343.9L1132.6 2347.9L1121.1 2365L1095.7 2361.2z" fill="#ff6a00" stroke="#ff6a00"/><path d="M1132.6 2347.9L1158 2352.3L1146.5 2369.1L1121.1 2365z" fill="#ff6b00" stroke="#ff6b00"/><path d="M1158 2352.3L1183.5 2356.9L1172.1 2373.5L1146.5 2369.1z" fill="#ff6b00" stroke="#ff6b00"/><path d="M1183.5 2356.9L1209 2361.7L1197.7 2378.1L1172.1 2373.5z" fill="#ff6c00" stroke="#ff6c00"/><path d="M1209 2361.7L1234.7 2366.9L1223.5 2383L1197.7 2378.1z" fill="#ff6d00" stroke="#ff6d00"/><path d="M1234.7 2366.9L1260.5 2372.3L1249.4 2388.3L1223.5 2383z" fill="#ff6e00" stroke="#ff6e00"/><path d="M1260.5 2372.3L1286.4 2378.1L1275.3 2393.7L1249.4 2388.3z" fill="#ff7000" stroke="#ff7000"/><path d="M1286.4 2378.1L1312.3 2384.1L1301.3 2399.5L1275.3 2393.7z" fill="#ff7100" stroke="#ff7100"/><path d="M1312.3 2384.1L1338.4 2390.4L1327.5 2405.6L1301.3 2399.5z" fill="#ff7300" stroke="#ff7300"/><path d="M1338.4 2390.4L1364.5 2397L1353.7 2411.9L1327.5 2405.6z" fill="#ff7500" stroke="#ff7500"/><path d="M1364.5 2397L1390.7 2403.8L1380 2418.6L1353.7 2411.9z" fill="#ff7800" stroke="#ff7800"/><path d="M1390.7 2403.8L1417 2411L1406.4 2425.5L1380 2418.6z" fill="#ff7a00" stroke="#ff7a00"/><path d="M1417 2411L1443.4 2418.5L1432.9 2432.8L1406.4 2425.5z" fill="#ff7d00" stroke="#ff7d00"/><path d="M1443.4 2418.5L1469.8 2426.2L1459.4 2440.3L1432.9 2432.8z" fill="#ff8000" stroke="#ff8000"/><path d="M1469.8 2426.2L1496.4 2434.2L1486 2448.1L1459.4 2440.3z" fill="#ff8300" stroke="#ff8300"/><path d="M1496.4 2434.2L1523 2442.6L1512.8 2456.2L1486 2448.1z" fill="#ff8600" stroke="#ff8600"/><path d="M1523 2442.6L1549.7 2451.2L1539.6 2464.6L1512.8 2456.2z" fill="#ff8900" stroke="#ff8900"/><path d="M1549.7 2451.2L1576.5 2460.1L1566.4 2473.3L1539.6 2464.6z" fill="#ff8d00" stroke="#ff8d00"/><path d="M1576.5 2460.1L1603.3 2469.3L1593.4 2482.3L1566.4 2473.3z" fill="#ff9000" stroke="#ff9000"/><path d="M1603.3 2469.3L1630.2 2478.9L1620.4 2491.6L1593.4 2482.3z" fill="#ff9500" stroke="#ff9500"/><path d="M1630.2 2478.9L1657.2 2488.7L1647.5 2501.1L1620.4 2491.6z" fill="#ff9a00" stroke="#ff9a00"/><path d="M1657.2 2488.7L1684.2 2498.8L1674.6 2511L1647.5 2501.1z" fill="#ffa000" stroke="#ffa000"/><path d="M1684.2 2498.8L1711.3 2509.2L1701.9 2521.2L1674.6 2511z" fill="#ffa600" stroke="#ffa600"/><path d="M1711.3 2509.2L1738.5 2519.9L1729.2 2531.7L1701.9 2521.2z" fill="#ffac00" stroke="#ffac00"/><path d="M704.2 2337L727.9 2336.5L715.4 2357.7L691.8 2358.4z" fill="#ff8b00" stroke="#ff8b00"/><path d="M727.9 2336.5L751.6 2336.3L739.2 2357.3L715.4 2357.7z" fill="#ff8800" stroke="#ff8800"/><path d="M751.6 2336.3L775.5 2336.4L763.1 2357.1L739.2 2357.3z" fill="#ff8500" stroke="#ff8500"/><path d="M775.5 2336.4L799.4 2336.7L787.1 2357.2L763.1 2357.1z" fill="#ff8300" stroke="#ff8300"/><path d="M799.4 2336.7L823.5 2337.3L811.3 2357.6L787.1 2357.2z" fill="#ff8000" stroke="#ff8000"/><path d="M823.5 2337.3L847.7 2338.2L835.5 2358.2L811.3 2357.6z" fill="#ff7e00" stroke="#ff7e00"/><path d="M847.7 2338.2L872 2339.3L859.9 2359.1L835.5 2358.2z" fill="#ff7c00" stroke="#ff7c00"/><path d="M872 2339.3L896.5 2340.6L884.3 2360.2L859.9 2359.1z" fill="#ff7a00" stroke="#ff7a00"/><path d="M896.5 2340.6L921 2342.3L908.9 2361.6L884.3 2360.2z" fill="#ff7800" stroke="#ff7800"/><path d="M921 2342.3L945.6 2344.2L933.6 2363.3L908.9 2361.6z" fill="#ff7700" stroke="#ff7700"/><path d="M945.6 2344.2L970.4 2346.3L958.4 2365.2L933.6 2363.3z" fill="#ff7500" stroke="#ff7500"/><path d="M970.4 2346.3L995.2 2348.8L983.3 2367.4L958.4 2365.2z" fill="#ff7400" stroke="#ff7400"/><path d="M995.2 2348.8L1020.2 2351.5L1008.3 2369.9L983.3 2367.4z" fill="#ff7300" stroke="#ff7300"/><path d="M1020.2 2351.5L1045.2 2354.4L1033.5 2372.6L1008.3 2369.9z" fill="#ff7300" stroke="#ff7300"/><path d="M1045.2 2354.4L1070.4 2357.7L1058.7 2375.7L1033.5 2372.6z" fill="#ff7200" stroke="#ff7200"/><path d="M1070.4 2357.7L1095.7 2361.2L1084 2379L1058.7 2375.7z" fill="#ff7200" stroke="#ff7200"/><path d="M1095.7 2361.2L1121.1 2365L1109.5 2382.5L1084 2379z" fill="#ff7200" stroke="#ff7200"/><path d="M1121.1 2365L1146.5 2369.1L1135 2386.4L1109.5 2382.5z" fill="#ff7200" stroke="#ff7200"/><path d="M1146.5 2369.1L1172.1 2373.5L1160.6 2390.5L1135 2386.4z" fill="#ff7300" stroke="#ff7300"/><path d="M1172.1 2373.5L1197.7 2378.1L1186.4 2394.9L1160.6 2390.5z" fill="#ff7300" stroke="#ff7300"/><path d="M1197.7 2378.1L1223.5 2383L1212.2 2399.6L1186.4 2394.9z" fill="#ff7400" stroke="#ff7400"/><path d="M1223.5 2383L1249.4 2388.3L1238.1 2404.6L1212.2 2399.6z" fill="#ff7500" stroke="#ff7500"/><path d="M1249.4 2388.3L1275.3 2393.7L1264.2 2409.9L1238.1 2404.6z" fill="#ff7600" stroke="#ff7600"/><path d="M1275.3 2393.7L1301.3 2399.5L1290.3 2415.4L1264.2 2409.9z" fill="#ff7800" stroke="#ff7800"/><path d="M1301.3 2399.5L1327.5 2405.6L1316.5 2421.2L1290.3 2415.4z" fill="#ff7900" stroke="#ff7900"/><path d="M1327.5 2405.6L1353.7 2411.9L1342.8 2427.4L1316.5 2421.2z" fill="#ff7b00" stroke="#ff7b00"/><path d="M1353.7 2411.9L1380 2418.6L1369.2 2433.8L1342.8 2427.4z" fill="#ff7d00" stroke="#ff7d00"/><path d="M1380 2418.6L1406.4 2425.5L1395.7 2440.5L1369.2 2433.8z" fill="#ff7f00" stroke="#ff7f00"/><path d="M1406.4 2425.5L1432.9 2432.8L1422.2 2447.5L1395.7 2440.5z" fill="#ff8200" stroke="#ff8200"/><path d="M1432.9 2432.8L1459.4 2440.3L1448.9 2454.7L1422.2 2447.5z" fill="#ff8400" stroke="#ff8400"/><path d="M1459.4 2440.3L1486 2448.1L1475.6 2462.3L1448.9 2454.7z" fill="#ff8700" stroke="#ff8700"/><path d="M1486 2448.1L1512.8 2456.2L1502.4 2470.2L1475.6 2462.3z" fill="#ff8a00" stroke="#ff8a00"/><path d="M1512.8 2456.2L1539.6 2464.6L1529.3 2478.4L1502.4 2470.2z" fill="#ff8d00" stroke="#ff8d00"/><path d="M1539.6 2464.6L1566.4 2473.3L1556.3 2486.8L1529.3 2478.4z" fill="#ff9000" stroke="#ff9000"/><path d="M1566.4 2473.3L1593.4 2482.3L1583.4 2495.6L1556.3 2486.8z" fill="#ff9500" stroke="#ff9500"/><path d="M1593.4 2482.3L1620.4 2491.6L1610.5 2504.7L1583.4 2495.6z" fill="#ff9900" stroke="#ff9900"/><path d="M1620.4 2491.6L1647.5 2501.1L1637.7 2514L1610.5 2504.7z" fill="#ff9e00" stroke="#ff9e00"/><path d="M1647.5 2501.1L1674.6 2511L1665 2523.7L1637.7 2514z" fill="#ffa400" stroke="#ffa400"/><path d="M1674.6 2511L1701.9 2521.2L1692.3 2533.6L1665 2523.7z" fill="#ffa900" stroke="#ffa900"/><path d="M1701.9 2521.2L1729.2 2531.7L1719.7 2543.9L1692.3 2533.6z" fill="#ffaf00" stroke="#ffaf00"/><path d="M691.8 2358.4L715.4 2357.7L703 2379.3L679.3 2380.1z" fill="#ff9800" stroke="#ff9800"/><path d="M715.4 2357.7L739.2 2357.3L726.8 2378.6L703 2379.3z" fill="#ff9300" stroke="#ff9300"/><path d="M739.2 2357.3L763.1 2357.1L750.7 2378.2L726.8 2378.6z" fill="#ff9000" stroke="#ff9000"/><path d="M763.1 2357.1L787.1 2357.2L774.8 2378.1L750.7 2378.2z" fill="#ff8d00" stroke="#ff8d00"/><path d="M787.1 2357.2L811.3 2357.6L798.9 2378.2L774.8 2378.1z" fill="#ff8a00" stroke="#ff8a00"/><path d="M811.3 2357.6L835.5 2358.2L823.2 2378.6L798.9 2378.2z" fill="#ff8800" stroke="#ff8800"/><path d="M835.5 2358.2L859.9 2359.1L847.6 2379.3L823.2 2378.6z" fill="#ff8600" stroke="#ff8600"/><path d="M859.9 2359.1L884.3 2360.2L872.2 2380.2L847.6 2379.3z" fill="#ff8400" stroke="#ff8400"/><path d="M884.3 2360.2L908.9 2361.6L896.8 2381.4L872.2 2380.2z" fill="#ff8200" stroke="#ff8200"/><path d="M908.9 2361.6L933.6 2363.3L921.5 2382.8L896.8 2381.4z" fill="#ff8000" stroke="#ff8000"/><path d="M933.6 2363.3L958.4 2365.2L946.4 2384.5L921.5 2382.8z" fill="#ff7f00" stroke="#ff7f00"/><path d="M958.4 2365.2L983.3 2367.4L971.3 2386.5L946.4 2384.5z" fill="#ff7d00" stroke="#ff7d00"/><path d="M983.3 2367.4L1008.3 2369.9L996.4 2388.7L971.3 2386.5z" fill="#ff7c00" stroke="#ff7c00"/><path d="M1008.3 2369.9L1033.5 2372.6L1021.6 2391.2L996.4 2388.7z" fill="#ff7b00" stroke="#ff7b00"/><path d="M1033.5 2372.6L1058.7 2375.7L1046.9 2394L1021.6 2391.2z" fill="#ff7b00" stroke="#ff7b00"/><path d="M1058.7 2375.7L1084 2379L1072.3 2397.1L1046.9 2394z" fill="#ff7a00" stroke="#ff7a00"/><path d="M1084 2379L1109.5 2382.5L1097.8 2400.4L1072.3 2397.1z" fill="#ff7a00" stroke="#ff7a00"/><path d="M1109.5 2382.5L1135 2386.4L1123.4 2404.1L1097.8 2400.4z" fill="#ff7a00" stroke="#ff7a00"/><path d="M1135 2386.4L1160.6 2390.5L1149.1 2408L1123.4 2404.1z" fill="#ff7a00" stroke="#ff7a00"/><path d="M1160.6 2390.5L1186.4 2394.9L1174.9 2412.1L1149.1 2408z" fill="#ff7a00" stroke="#ff7a00"/><path d="M1186.4 2394.9L1212.2 2399.6L1200.8 2416.6L1174.9 2412.1z" fill="#ff7b00" stroke="#ff7b00"/><path d="M1212.2 2399.6L1238.1 2404.6L1226.8 2421.3L1200.8 2416.6z" fill="#ff7c00" stroke="#ff7c00"/><path d="M1238.1 2404.6L1264.2 2409.9L1252.9 2426.4L1226.8 2421.3z" fill="#ff7d00" stroke="#ff7d00"/><path d="M1264.2 2409.9L1290.3 2415.4L1279.1 2431.7L1252.9 2426.4z" fill="#ff7e00" stroke="#ff7e00"/><path d="M1290.3 2415.4L1316.5 2421.2L1305.4 2437.3L1279.1 2431.7z" fill="#ff7f00" stroke="#ff7f00"/><path d="M1316.5 2421.2L1342.8 2427.4L1331.8 2443.2L1305.4 2437.3z" fill="#ff8100" stroke="#ff8100"/><path d="M1342.8 2427.4L1369.2 2433.8L1358.3 2449.4L1331.8 2443.2z" fill="#ff8300" stroke="#ff8300"/><path d="M1369.2 2433.8L1395.7 2440.5L1384.9 2455.8L1358.3 2449.4z" fill="#ff8400" stroke="#ff8400"/><path d="M1395.7 2440.5L1422.2 2447.5L1411.5 2462.6L1384.9 2455.8z" fill="#ff8700" stroke="#ff8700"/><path d="M1422.2 2447.5L1448.9 2454.7L1438.3 2469.6L1411.5 2462.6z" fill="#ff8900" stroke="#ff8900"/><path d="M1448.9 2454.7L1475.6 2462.3L1465.1 2477L1438.3 2469.6z" fill="#ff8c00" stroke="#ff8c00"/><path d="M1475.6 2462.3L1502.4 2470.2L1492 2484.6L1465.1 2477z" fill="#ff8e00" stroke="#ff8e00"/><path d="M1502.4 2470.2L1529.3 2478.4L1519 2492.6L1492 2484.6z" fill="#ff9100" stroke="#ff9100"/><path d="M1529.3 2478.4L1556.3 2486.8L1546.1 2500.8L1519 2492.6z" fill="#ff9500" stroke="#ff9500"/><path d="M1556.3 2486.8L1583.4 2495.6L1573.3 2509.3L1546.1 2500.8z" fill="#ff9900" stroke="#ff9900"/><path d="M1583.4 2495.6L1610.5 2504.7L1600.5 2518.2L1573.3 2509.3z" fill="#ff9e00" stroke="#ff9e00"/><path d="M1610.5 2504.7L1637.7 2514L1627.8 2527.3L1600.5 2518.2z" fill="#ffa300" stroke="#ffa300"/><path d="M1637.7 2514L1665 2523.7L1655.2 2536.7L1627.8 2527.3z" fill="#ffa800" stroke="#ffa800"/><path d="M1665 2523.7L1692.3 2533.6L1682.7 2546.5L1655.2 2536.7z" fill="#ffad00" stroke="#ffad00"/><path d="M1692.3 2533.6L1719.7 2543.9L1710.2 2556.5L1682.7 2546.5z" fill="#ffb200" stroke="#ffb200"/><path d="M679.3 2380.1L703 2379.3L690.5 2401.2L666.7 2402.4z" fill="#ffa600" stroke="#ffa600"/><path d="M703 2379.3L726.8 2378.6L714.3 2400.4L690.5 2401.2z" fill="#ffa100" stroke="#ffa100"/><path d="M726.8 2378.6L750.7 2378.2L738.3 2399.8L714.3 2400.4z" fill="#ff9d00" stroke="#ff9d00"/><path d="M750.7 2378.2L774.8 2378.1L762.4 2399.4L738.3 2399.8z" fill="#ff9900" stroke="#ff9900"/><path d="M774.8 2378.1L798.9 2378.2L786.6 2399.3L762.4 2399.4z" fill="#ff9600" stroke="#ff9600"/><path d="M798.9 2378.2L823.2 2378.6L810.9 2399.5L786.6 2399.3z" fill="#ff9200" stroke="#ff9200"/><path d="M823.2 2378.6L847.6 2379.3L835.3 2399.9L810.9 2399.5z" fill="#ff9000" stroke="#ff9000"/><path d="M847.6 2379.3L872.2 2380.2L859.9 2400.6L835.3 2399.9z" fill="#ff8d00" stroke="#ff8d00"/><path d="M872.2 2380.2L896.8 2381.4L884.6 2401.5L859.9 2400.6z" fill="#ff8b00" stroke="#ff8b00"/><path d="M896.8 2381.4L921.5 2382.8L909.4 2402.8L884.6 2401.5z" fill="#ff8900" stroke="#ff8900"/><path d="M921.5 2382.8L946.4 2384.5L934.3 2404.2L909.4 2402.8z" fill="#ff8800" stroke="#ff8800"/><path d="M946.4 2384.5L971.3 2386.5L959.3 2406L934.3 2404.2z" fill="#ff8600" stroke="#ff8600"/><path d="M971.3 2386.5L996.4 2388.7L984.4 2408L959.3 2406z" fill="#ff8500" stroke="#ff8500"/><path d="M996.4 2388.7L1021.6 2391.2L1009.7 2410.3L984.4 2408z" fill="#ff8400" stroke="#ff8400"/><path d="M1021.6 2391.2L1046.9 2394L1035 2412.8L1009.7 2410.3z" fill="#ff8300" stroke="#ff8300"/><path d="M1046.9 2394L1072.3 2397.1L1060.5 2415.7L1035 2412.8z" fill="#ff8200" stroke="#ff8200"/><path d="M1072.3 2397.1L1097.8 2400.4L1086 2418.8L1060.5 2415.7z" fill="#ff8200" stroke="#ff8200"/><path d="M1097.8 2400.4L1123.4 2404.1L1111.7 2422.2L1086 2418.8z" fill="#ff8200" stroke="#ff8200"/><path d="M1123.4 2404.1L1149.1 2408L1137.5 2425.8L1111.7 2422.2z" fill="#ff8200" stroke="#ff8200"/><path d="M1149.1 2408L1174.9 2412.1L1163.4 2429.8L1137.5 2425.8z" fill="#ff8200" stroke="#ff8200"/><path d="M1174.9 2412.1L1200.8 2416.6L1189.3 2434L1163.4 2429.8z" fill="#ff8200" stroke="#ff8200"/><path d="M1200.8 2416.6L1226.8 2421.3L1215.4 2438.5L1189.3 2434z" fill="#ff8300" stroke="#ff8300"/><path d="M1226.8 2421.3L1252.9 2426.4L1241.6 2443.3L1215.4 2438.5z" fill="#ff8300" stroke="#ff8300"/><path d="M1252.9 2426.4L1279.1 2431.7L1267.9 2448.4L1241.6 2443.3z" fill="#ff8400" stroke="#ff8400"/><path d="M1279.1 2431.7L1305.4 2437.3L1294.3 2453.8L1267.9 2448.4z" fill="#ff8500" stroke="#ff8500"/><path d="M1305.4 2437.3L1331.8 2443.2L1320.7 2459.4L1294.3 2453.8z" fill="#ff8700" stroke="#ff8700"/><path d="M1331.8 2443.2L1358.3 2449.4L1347.3 2465.4L1320.7 2459.4z" fill="#ff8800" stroke="#ff8800"/><path d="M1358.3 2449.4L1384.9 2455.8L1374 2471.6L1347.3 2465.4z" fill="#ff8a00" stroke="#ff8a00"/><path d="M1384.9 2455.8L1411.5 2462.6L1400.7 2478.1L1374 2471.6z" fill="#ff8c00" stroke="#ff8c00"/><path d="M1411.5 2462.6L1438.3 2469.6L1427.6 2485L1400.7 2478.1z" fill="#ff8e00" stroke="#ff8e00"/><path d="M1438.3 2469.6L1465.1 2477L1454.5 2492.1L1427.6 2485z" fill="#ff9000" stroke="#ff9000"/><path d="M1465.1 2477L1492 2484.6L1481.5 2499.5L1454.5 2492.1z" fill="#ff9300" stroke="#ff9300"/><path d="M1492 2484.6L1519 2492.6L1508.6 2507.2L1481.5 2499.5z" fill="#ff9700" stroke="#ff9700"/><path d="M1519 2492.6L1546.1 2500.8L1535.8 2515.2L1508.6 2507.2z" fill="#ff9b00" stroke="#ff9b00"/><path d="M1546.1 2500.8L1573.3 2509.3L1563.1 2523.5L1535.8 2515.2z" fill="#ff9e00" stroke="#ff9e00"/><path d="M1573.3 2509.3L1600.5 2518.2L1590.4 2532.1L1563.1 2523.5z" fill="#ffa300" stroke="#ffa300"/><path d="M1600.5 2518.2L1627.8 2527.3L1617.8 2541L1590.4 2532.1z" fill="#ffa700" stroke="#ffa700"/><path d="M1627.8 2527.3L1655.2 2536.7L1645.3 2550.2L1617.8 2541z" fill="#ffac00" stroke="#ffac00"/><path d="M1655.2 2536.7L1682.7 2546.5L1672.9 2559.7L1645.3 2550.2z" fill="#ffb000" stroke="#ffb000"/><path d="M1682.7 2546.5L1710.2 2556.5L1700.6 2569.5L1672.9 2559.7z" fill="#ffb500" stroke="#ffb500"/><path d="M666.7 2402.4L690.5 2401.2L677.9 2423.7L654.1 2425z" fill="#ffb300" stroke="#ffb300"/><path d="M690.5 2401.2L714.3 2400.4L701.7 2422.6L677.9 2423.7z" fill="#ffaf00" stroke="#ffaf00"/><path d="M714.3 2400.4L738.3 2399.8L725.7 2421.7L701.7 2422.6z" fill="#ffab00" stroke="#ffab00"/><path d="M738.3 2399.8L762.4 2399.4L749.9 2421.2L725.7 2421.7z" fill="#ffa700" stroke="#ffa700"/><path d="M762.4 2399.4L786.6 2399.3L774.1 2420.8L749.9 2421.2z" fill="#ffa300" stroke="#ffa300"/><path d="M786.6 2399.3L810.9 2399.5L798.5 2420.8L774.1 2420.8z" fill="#ff9f00" stroke="#ff9f00"/><path d="M810.9 2399.5L835.3 2399.9L823 2421L798.5 2420.8z" fill="#ff9c00" stroke="#ff9c00"/><path d="M835.3 2399.9L859.9 2400.6L847.6 2421.4L823 2421z" fill="#ff9900" stroke="#ff9900"/><path d="M859.9 2400.6L884.6 2401.5L872.3 2422.1L847.6 2421.4z" fill="#ff9600" stroke="#ff9600"/><path d="M884.6 2401.5L909.4 2402.8L897.1 2423.1L872.3 2422.1z" fill="#ff9300" stroke="#ff9300"/><path d="M909.4 2402.8L934.3 2404.2L922.1 2424.4L897.1 2423.1z" fill="#ff9100" stroke="#ff9100"/><path d="M934.3 2404.2L959.3 2406L947.1 2425.9L922.1 2424.4z" fill="#ff8f00" stroke="#ff8f00"/><path d="M959.3 2406L984.4 2408L972.3 2427.7L947.1 2425.9z" fill="#ff8e00" stroke="#ff8e00"/><path d="M984.4 2408L1009.7 2410.3L997.6 2429.7L972.3 2427.7z" fill="#ff8d00" stroke="#ff8d00"/><path d="M1009.7 2410.3L1035 2412.8L1023 2432.1L997.6 2429.7z" fill="#ff8c00" stroke="#ff8c00"/><path d="M1035 2412.8L1060.5 2415.7L1048.6 2434.7L1023 2432.1z" fill="#ff8b00" stroke="#ff8b00"/><path d="M1060.5 2415.7L1086 2418.8L1074.2 2437.5L1048.6 2434.7z" fill="#ff8a00" stroke="#ff8a00"/><path d="M1086 2418.8L1111.7 2422.2L1099.9 2440.7L1074.2 2437.5z" fill="#ff8a00" stroke="#ff8a00"/><path d="M1111.7 2422.2L1137.5 2425.8L1125.8 2444.1L1099.9 2440.7z" fill="#ff8900" stroke="#ff8900"/><path d="M1137.5 2425.8L1163.4 2429.8L1151.7 2447.8L1125.8 2444.1z" fill="#ff8900" stroke="#ff8900"/><path d="M1163.4 2429.8L1189.3 2434L1177.8 2451.8L1151.7 2447.8z" fill="#ff8900" stroke="#ff8900"/><path d="M1189.3 2434L1215.4 2438.5L1203.9 2456.1L1177.8 2451.8z" fill="#ff8a00" stroke="#ff8a00"/><path d="M1215.4 2438.5L1241.6 2443.3L1230.2 2460.7L1203.9 2456.1z" fill="#ff8a00" stroke="#ff8a00"/><path d="M1241.6 2443.3L1267.9 2448.4L1256.5 2465.5L1230.2 2460.7z" fill="#ff8b00" stroke="#ff8b00"/><path d="M1267.9 2448.4L1294.3 2453.8L1283 2470.6L1256.5 2465.5z" fill="#ff8c00" stroke="#ff8c00"/><path d="M1294.3 2453.8L1320.7 2459.4L1309.6 2476.1L1283 2470.6z" fill="#ff8d00" stroke="#ff8d00"/><path d="M1320.7 2459.4L1347.3 2465.4L1336.2 2481.8L1309.6 2476.1z" fill="#ff8e00" stroke="#ff8e00"/><path d="M1347.3 2465.4L1374 2471.6L1363 2487.8L1336.2 2481.8z" fill="#ff9000" stroke="#ff9000"/><path d="M1374 2471.6L1400.7 2478.1L1389.8 2494.1L1363 2487.8z" fill="#ff9200" stroke="#ff9200"/><path d="M1400.7 2478.1L1427.6 2485L1416.8 2500.7L1389.8 2494.1z" fill="#ff9400" stroke="#ff9400"/><path d="M1427.6 2485L1454.5 2492.1L1443.8 2507.6L1416.8 2500.7z" fill="#ff9700" stroke="#ff9700"/><path d="M1454.5 2492.1L1481.5 2499.5L1470.9 2514.7L1443.8 2507.6z" fill="#ff9a00" stroke="#ff9a00"/><path d="M1481.5 2499.5L1508.6 2507.2L1498.1 2522.2L1470.9 2514.7z" fill="#ff9d00" stroke="#ff9d00"/><path d="M1508.6 2507.2L1535.8 2515.2L1525.4 2530L1498.1 2522.2z" fill="#ffa000" stroke="#ffa000"/><path d="M1535.8 2515.2L1563.1 2523.5L1552.8 2538.1L1525.4 2530z" fill="#ffa400" stroke="#ffa400"/><path d="M1563.1 2523.5L1590.4 2532.1L1580.2 2546.4L1552.8 2538.1z" fill="#ffa800" stroke="#ffa800"/><path d="M1590.4 2532.1L1617.8 2541L1607.8 2555.1L1580.2 2546.4z" fill="#ffac00" stroke="#ffac00"/><path d="M1617.8 2541L1645.3 2550.2L1635.4 2564.1L1607.8 2555.1z" fill="#ffb000" stroke="#ffb000"/><path d="M1645.3 2550.2L1672.9 2559.7L1663.1 2573.4L1635.4 2564.1z" fill="#ffb400" stroke="#ffb400"/><path d="M1672.9 2559.7L1700.6 2569.5L1690.8 2583L1663.1 2573.4z" fill="#ffb900" stroke="#ffb900"/><path d="M654.1 2425L677.9 2423.7L665.2 2446.5L641.4 2448z" fill="#ffc000" stroke="#ffc000"/><path d="M677.9 2423.7L701.7 2422.6L689.1 2445.2L665.2 2446.5z" fill="#ffbc00" stroke="#ffbc00"/><path d="M701.7 2422.6L725.7 2421.7L713.1 2444.1L689.1 2445.2z" fill="#ffb800" stroke="#ffb800"/><path d="M725.7 2421.7L749.9 2421.2L737.3 2443.3L713.1 2444.1z" fill="#ffb400" stroke="#ffb400"/><path d="M749.9 2421.2L774.1 2420.8L761.6 2442.8L737.3 2443.3z" fill="#ffb000" stroke="#ffb000"/><path d="M774.1 2420.8L798.5 2420.8L786 2442.5L761.6 2442.8z" fill="#ffad00" stroke="#ffad00"/><path d="M798.5 2420.8L823 2421L810.5 2442.4L786 2442.5z" fill="#ffa900" stroke="#ffa900"/><path d="M823 2421L847.6 2421.4L835.2 2442.7L810.5 2442.4z" fill="#ffa600" stroke="#ffa600"/><path d="M847.6 2421.4L872.3 2422.1L859.9 2443.2L835.2 2442.7z" fill="#ffa300" stroke="#ffa300"/><path d="M872.3 2422.1L897.1 2423.1L884.8 2443.9L859.9 2443.2z" fill="#ffa000" stroke="#ffa000"/><path d="M897.1 2423.1L922.1 2424.4L909.8 2444.9L884.8 2443.9z" fill="#ff9d00" stroke="#ff9d00"/><path d="M922.1 2424.4L947.1 2425.9L934.9 2446.2L909.8 2444.9z" fill="#ff9b00" stroke="#ff9b00"/><path d="M947.1 2425.9L972.3 2427.7L960.2 2447.8L934.9 2446.2z" fill="#ff9900" stroke="#ff9900"/><path d="M972.3 2427.7L997.6 2429.7L985.5 2449.6L960.2 2447.8z" fill="#ff9700" stroke="#ff9700"/><path d="M997.6 2429.7L1023 2432.1L1011 2451.7L985.5 2449.6z" fill="#ff9500" stroke="#ff9500"/><path d="M1023 2432.1L1048.6 2434.7L1036.6 2454.1L1011 2451.7z" fill="#ff9400" stroke="#ff9400"/><path d="M1048.6 2434.7L1074.2 2437.5L1062.3 2456.7L1036.6 2454.1z" fill="#ff9300" stroke="#ff9300"/><path d="M1074.2 2437.5L1099.9 2440.7L1088.1 2459.6L1062.3 2456.7z" fill="#ff9200" stroke="#ff9200"/><path d="M1099.9 2440.7L1125.8 2444.1L1114 2462.8L1088.1 2459.6z" fill="#ff9100" stroke="#ff9100"/><path d="M1125.8 2444.1L1151.7 2447.8L1140 2466.3L1114 2462.8z" fill="#ff9100" stroke="#ff9100"/><path d="M1151.7 2447.8L1177.8 2451.8L1166.1 2470.1L1140 2466.3z" fill="#ff9100" stroke="#ff9100"/><path d="M1177.8 2451.8L1203.9 2456.1L1192.4 2474.1L1166.1 2470.1z" fill="#ff9100" stroke="#ff9100"/><path d="M1203.9 2456.1L1230.2 2460.7L1218.7 2478.5L1192.4 2474.1z" fill="#ff9100" stroke="#ff9100"/><path d="M1230.2 2460.7L1256.5 2465.5L1245.1 2483.1L1218.7 2478.5z" fill="#ff9200" stroke="#ff9200"/><path d="M1256.5 2465.5L1283 2470.6L1271.7 2488L1245.1 2483.1z" fill="#ff9300" stroke="#ff9300"/><path d="M1283 2470.6L1309.6 2476.1L1298.3 2493.2L1271.7 2488z" fill="#ff9400" stroke="#ff9400"/><path d="M1309.6 2476.1L1336.2 2481.8L1325.1 2498.6L1298.3 2493.2z" fill="#ff9500" stroke="#ff9500"/><path d="M1336.2 2481.8L1363 2487.8L1351.9 2504.4L1325.1 2498.6z" fill="#ff9700" stroke="#ff9700"/><path d="M1363 2487.8L1389.8 2494.1L1378.8 2510.5L1351.9 2504.4z" fill="#ff9900" stroke="#ff9900"/><path d="M1389.8 2494.1L1416.8 2500.7L1405.9 2516.8L1378.8 2510.5z" fill="#ff9b00" stroke="#ff9b00"/><path d="M1416.8 2500.7L1443.8 2507.6L1433 2523.5L1405.9 2516.8z" fill="#ff9d00" stroke="#ff9d00"/><path d="M1443.8 2507.6L1470.9 2514.7L1460.2 2530.4L1433 2523.5z" fill="#ffa000" stroke="#ffa000"/><path d="M1470.9 2514.7L1498.1 2522.2L1487.5 2537.7L1460.2 2530.4z" fill="#ffa300" stroke="#ffa300"/><path d="M1498.1 2522.2L1525.4 2530L1514.9 2545.2L1487.5 2537.7z" fill="#ffa600" stroke="#ffa600"/><path d="M1525.4 2530L1552.8 2538.1L1542.4 2553.1L1514.9 2545.2z" fill="#ffa900" stroke="#ffa900"/><path d="M1552.8 2538.1L1580.2 2546.4L1569.9 2561.2L1542.4 2553.1z" fill="#ffad00" stroke="#ffad00"/><path d="M1580.2 2546.4L1607.8 2555.1L1597.6 2569.7L1569.9 2561.2z" fill="#ffb100" stroke="#ffb100"/><path d="M1607.8 2555.1L1635.4 2564.1L1625.3 2578.4L1597.6 2569.7z" fill="#ffb400" stroke="#ffb400"/><path d="M1635.4 2564.1L1663.1 2573.4L1653.1 2587.4L1625.3 2578.4z" fill="#ffb800" stroke="#ffb800"/><path d="M1663.1 2573.4L1690.8 2583L1681 2596.8L1653.1 2587.4z" fill="#ffbc00" stroke="#ffbc00"/><path d="M641.4 2448L665.2 2446.5L652.5 2469.7L628.7 2471.5z" fill="#ffcd00" stroke="#ffcd00"/><path d="M665.2 2446.5L689.1 2445.2L676.4 2468.2L652.5 2469.7z" fill="#ffc900" stroke="#ffc900"/><path d="M689.1 2445.2L713.1 2444.1L700.5 2466.9L676.4 2468.2z" fill="#ffc500" stroke="#ffc500"/><path d="M713.1 2444.1L737.3 2443.3L724.7 2465.9L700.5 2466.9z" fill="#ffc100" stroke="#ffc100"/><path d="M737.3 2443.3L761.6 2442.8L749 2465.1L724.7 2465.9z" fill="#ffbd00" stroke="#ffbd00"/><path d="M761.6 2442.8L786 2442.5L773.4 2464.6L749 2465.1z" fill="#ffb900" stroke="#ffb900"/><path d="M786 2442.5L810.5 2442.4L798 2464.3L773.4 2464.6z" fill="#ffb600" stroke="#ffb600"/><path d="M810.5 2442.4L835.2 2442.7L822.7 2464.3L798 2464.3z" fill="#ffb200" stroke="#ffb200"/><path d="M835.2 2442.7L859.9 2443.2L847.5 2464.6L822.7 2464.3z" fill="#ffaf00" stroke="#ffaf00"/><path d="M859.9 2443.2L884.8 2443.9L872.4 2465.1L847.5 2464.6z" fill="#ffac00" stroke="#ffac00"/><path d="M884.8 2443.9L909.8 2444.9L897.5 2465.9L872.4 2465.1z" fill="#ffa900" stroke="#ffa900"/><path d="M909.8 2444.9L934.9 2446.2L922.6 2467L897.5 2465.9z" fill="#ffa700" stroke="#ffa700"/><path d="M934.9 2446.2L960.2 2447.8L947.9 2468.3L922.6 2467z" fill="#ffa400" stroke="#ffa400"/><path d="M960.2 2447.8L985.5 2449.6L973.3 2469.9L947.9 2468.3z" fill="#ffa200" stroke="#ffa200"/><path d="M985.5 2449.6L1011 2451.7L998.9 2471.8L973.3 2469.9z" fill="#ffa000" stroke="#ffa000"/><path d="M1011 2451.7L1036.6 2454.1L1024.5 2473.9L998.9 2471.8z" fill="#ff9f00" stroke="#ff9f00"/><path d="M1036.6 2454.1L1062.3 2456.7L1050.3 2476.3L1024.5 2473.9z" fill="#ff9d00" stroke="#ff9d00"/><path d="M1062.3 2456.7L1088.1 2459.6L1076.1 2479L1050.3 2476.3z" fill="#ff9c00" stroke="#ff9c00"/><path d="M1088.1 2459.6L1114 2462.8L1102.1 2482L1076.1 2479z" fill="#ff9b00" stroke="#ff9b00"/><path d="M1114 2462.8L1140 2466.3L1128.2 2485.2L1102.1 2482z" fill="#ff9b00" stroke="#ff9b00"/><path d="M1140 2466.3L1166.1 2470.1L1154.4 2488.8L1128.2 2485.2z" fill="#ff9a00" stroke="#ff9a00"/><path d="M1166.1 2470.1L1192.4 2474.1L1180.7 2492.6L1154.4 2488.8z" fill="#ff9a00" stroke="#ff9a00"/><path d="M1192.4 2474.1L1218.7 2478.5L1207.1 2496.7L1180.7 2492.6z" fill="#ff9a00" stroke="#ff9a00"/><path d="M1218.7 2478.5L1245.1 2483.1L1233.6 2501L1207.1 2496.7z" fill="#ff9b00" stroke="#ff9b00"/><path d="M1245.1 2483.1L1271.7 2488L1260.2 2505.7L1233.6 2501z" fill="#ff9b00" stroke="#ff9b00"/><path d="M1271.7 2488L1298.3 2493.2L1287 2510.7L1260.2 2505.7z" fill="#ff9c00" stroke="#ff9c00"/><path d="M1298.3 2493.2L1325.1 2498.6L1313.8 2515.9L1287 2510.7z" fill="#ff9d00" stroke="#ff9d00"/><path d="M1325.1 2498.6L1351.9 2504.4L1340.7 2521.5L1313.8 2515.9z" fill="#ff9f00" stroke="#ff9f00"/><path d="M1351.9 2504.4L1378.8 2510.5L1367.7 2527.3L1340.7 2521.5z" fill="#ffa000" stroke="#ffa000"/><path d="M1378.8 2510.5L1405.9 2516.8L1394.9 2533.4L1367.7 2527.3z" fill="#ffa200" stroke="#ffa200"/><path d="M1405.9 2516.8L1433 2523.5L1422.1 2539.8L1394.9 2533.4z" fill="#ffa400" stroke="#ffa400"/><path d="M1433 2523.5L1460.2 2530.4L1449.4 2546.6L1422.1 2539.8z" fill="#ffa700" stroke="#ffa700"/><path d="M1460.2 2530.4L1487.5 2537.7L1476.8 2553.6L1449.4 2546.6z" fill="#ffa900" stroke="#ffa900"/><path d="M1487.5 2537.7L1514.9 2545.2L1504.3 2560.9L1476.8 2553.6z" fill="#ffac00" stroke="#ffac00"/><path d="M1514.9 2545.2L1542.4 2553.1L1531.9 2568.5L1504.3 2560.9z" fill="#ffaf00" stroke="#ffaf00"/><path d="M1542.4 2553.1L1569.9 2561.2L1559.5 2576.4L1531.9 2568.5z" fill="#ffb200" stroke="#ffb200"/><path d="M1569.9 2561.2L1597.6 2569.7L1587.3 2584.6L1559.5 2576.4z" fill="#ffb500" stroke="#ffb500"/><path d="M1597.6 2569.7L1625.3 2578.4L1615.1 2593.1L1587.3 2584.6z" fill="#ffb900" stroke="#ffb900"/><path d="M1625.3 2578.4L1653.1 2587.4L1643.1 2601.9L1615.1 2593.1z" fill="#ffbc00" stroke="#ffbc00"/><path d="M1653.1 2587.4L1681 2596.8L1671.1 2611.1L1643.1 2601.9z" fill="#ffc000" stroke="#ffc000"/><path d="M628.7 2471.5L652.5 2469.7L639.7 2493.4L615.9 2495.4z" fill="#ffd900" stroke="#ffd900"/><path d="M652.5 2469.7L676.4 2468.2L663.7 2491.6L639.7 2493.4z" fill="#ffd500" stroke="#ffd500"/><path d="M676.4 2468.2L700.5 2466.9L687.7 2490.1L663.7 2491.6z" fill="#ffd100" stroke="#ffd100"/><path d="M700.5 2466.9L724.7 2465.9L712 2488.9L687.7 2490.1z" fill="#ffcd00" stroke="#ffcd00"/><path d="M724.7 2465.9L749 2465.1L736.3 2487.9L712 2488.9z" fill="#ffc900" stroke="#ffc900"/><path d="M749 2465.1L773.4 2464.6L760.8 2487.2L736.3 2487.9z" fill="#ffc500" stroke="#ffc500"/><path d="M773.4 2464.6L798 2464.3L785.4 2486.7L760.8 2487.2z" fill="#ffc200" stroke="#ffc200"/><path d="M798 2464.3L822.7 2464.3L810.1 2486.4L785.4 2486.7z" fill="#ffbe00" stroke="#ffbe00"/><path d="M822.7 2464.3L847.5 2464.6L835 2486.5L810.1 2486.4z" fill="#ffbb00" stroke="#ffbb00"/><path d="M847.5 2464.6L872.4 2465.1L860 2486.8L835 2486.5z" fill="#ffb800" stroke="#ffb800"/><path d="M872.4 2465.1L897.5 2465.9L885.1 2487.3L860 2486.8z" fill="#ffb500" stroke="#ffb500"/><path d="M897.5 2465.9L922.6 2467L910.3 2488.2L885.1 2487.3z" fill="#ffb300" stroke="#ffb300"/><path d="M922.6 2467L947.9 2468.3L935.6 2489.3L910.3 2488.2z" fill="#ffb000" stroke="#ffb000"/><path d="M947.9 2468.3L973.3 2469.9L961.1 2490.6L935.6 2489.3z" fill="#ffae00" stroke="#ffae00"/><path d="M973.3 2469.9L998.9 2471.8L986.7 2492.3L961.1 2490.6z" fill="#ffac00" stroke="#ffac00"/><path d="M998.9 2471.8L1024.5 2473.9L1012.4 2494.2L986.7 2492.3z" fill="#ffaa00" stroke="#ffaa00"/><path d="M1024.5 2473.9L1050.3 2476.3L1038.2 2496.4L1012.4 2494.2z" fill="#ffa800" stroke="#ffa800"/><path d="M1050.3 2476.3L1076.1 2479L1064.1 2498.8L1038.2 2496.4z" fill="#ffa700" stroke="#ffa700"/><path d="M1076.1 2479L1102.1 2482L1090.1 2501.6L1064.1 2498.8z" fill="#ffa600" stroke="#ffa600"/><path d="M1102.1 2482L1128.2 2485.2L1116.3 2504.6L1090.1 2501.6z" fill="#ffa500" stroke="#ffa500"/><path d="M1128.2 2485.2L1154.4 2488.8L1142.6 2507.9L1116.3 2504.6z" fill="#ffa400" stroke="#ffa400"/><path d="M1154.4 2488.8L1180.7 2492.6L1168.9 2511.4L1142.6 2507.9z" fill="#ffa400" stroke="#ffa400"/><path d="M1180.7 2492.6L1207.1 2496.7L1195.4 2515.3L1168.9 2511.4z" fill="#ffa400" stroke="#ffa400"/><path d="M1207.1 2496.7L1233.6 2501L1222 2519.5L1195.4 2515.3z" fill="#ffa400" stroke="#ffa400"/><path d="M1233.6 2501L1260.2 2505.7L1248.7 2523.9L1222 2519.5z" fill="#ffa400" stroke="#ffa400"/><path d="M1260.2 2505.7L1287 2510.7L1275.5 2528.6L1248.7 2523.9z" fill="#ffa500" stroke="#ffa500"/><path d="M1287 2510.7L1313.8 2515.9L1302.4 2533.6L1275.5 2528.6z" fill="#ffa500" stroke="#ffa500"/><path d="M1313.8 2515.9L1340.7 2521.5L1329.4 2538.9L1302.4 2533.6z" fill="#ffa700" stroke="#ffa700"/><path d="M1340.7 2521.5L1367.7 2527.3L1356.6 2544.5L1329.4 2538.9z" fill="#ffa800" stroke="#ffa800"/><path d="M1367.7 2527.3L1394.9 2533.4L1383.8 2550.4L1356.6 2544.5z" fill="#ffa900" stroke="#ffa900"/><path d="M1394.9 2533.4L1422.1 2539.8L1411.1 2556.6L1383.8 2550.4z" fill="#ffab00" stroke="#ffab00"/><path d="M1422.1 2539.8L1449.4 2546.6L1438.5 2563.1L1411.1 2556.6z" fill="#ffad00" stroke="#ffad00"/><path d="M1449.4 2546.6L1476.8 2553.6L1466 2569.9L1438.5 2563.1z" fill="#ffb000" stroke="#ffb000"/><path d="M1476.8 2553.6L1504.3 2560.9L1493.6 2577L1466 2569.9z" fill="#ffb200" stroke="#ffb200"/><path d="M1504.3 2560.9L1531.9 2568.5L1521.3 2584.3L1493.6 2577z" fill="#ffb500" stroke="#ffb500"/><path d="M1531.9 2568.5L1559.5 2576.4L1549 2592L1521.3 2584.3z" fill="#ffb700" stroke="#ffb700"/><path d="M1559.5 2576.4L1587.3 2584.6L1576.9 2600L1549 2592z" fill="#ffba00" stroke="#ffba00"/><path d="M1587.3 2584.6L1615.1 2593.1L1604.9 2608.3L1576.9 2600z" fill="#ffbe00" stroke="#ffbe00"/><path d="M1615.1 2593.1L1643.1 2601.9L1632.9 2616.9L1604.9 2608.3z" fill="#ffc100" stroke="#ffc100"/><path d="M1643.1 2601.9L1671.1 2611.1L1661 2625.8L1632.9 2616.9z" fill="#ffc500" stroke="#ffc500"/><path d="M615.9 2495.4L639.7 2493.4L626.8 2517.5L603 2519.7z" fill="#ffe400" stroke="#ffe400"/><path d="M639.7 2493.4L663.7 2491.6L650.8 2515.5L626.8 2517.5z" fill="#ffe100" stroke="#ffe100"/><path d="M663.7 2491.6L687.7 2490.1L675 2513.8L650.8 2515.5z" fill="#ffdc00" stroke="#ffdc00"/><path d="M687.7 2490.1L712 2488.9L699.2 2512.3L675 2513.8z" fill="#ffd800" stroke="#ffd800"/><path d="M712 2488.9L736.3 2487.9L723.6 2511.1L699.2 2512.3z" fill="#ffd400" stroke="#ffd400"/><path d="M736.3 2487.9L760.8 2487.2L748.1 2510.1L723.6 2511.1z" fill="#ffd100" stroke="#ffd100"/><path d="M760.8 2487.2L785.4 2486.7L772.7 2509.4L748.1 2510.1z" fill="#ffcd00" stroke="#ffcd00"/><path d="M785.4 2486.7L810.1 2486.4L797.5 2509L772.7 2509.4z" fill="#ffca00" stroke="#ffca00"/><path d="M810.1 2486.4L835 2486.5L822.4 2508.8L797.5 2509z" fill="#ffc700" stroke="#ffc700"/><path d="M835 2486.5L860 2486.8L847.4 2508.9L822.4 2508.8z" fill="#ffc400" stroke="#ffc400"/><path d="M860 2486.8L885.1 2487.3L872.6 2509.2L847.4 2508.9z" fill="#ffc100" stroke="#ffc100"/><path d="M885.1 2487.3L910.3 2488.2L897.8 2509.8L872.6 2509.2z" fill="#ffbe00" stroke="#ffbe00"/><path d="M910.3 2488.2L935.6 2489.3L923.2 2510.7L897.8 2509.8z" fill="#ffbb00" stroke="#ffbb00"/><path d="M935.6 2489.3L961.1 2490.6L948.7 2511.8L923.2 2510.7z" fill="#ffb900" stroke="#ffb900"/><path d="M961.1 2490.6L986.7 2492.3L974.4 2513.2L948.7 2511.8z" fill="#ffb700" stroke="#ffb700"/><path d="M986.7 2492.3L1012.4 2494.2L1000.1 2514.9L974.4 2513.2z" fill="#ffb500" stroke="#ffb500"/><path d="M1012.4 2494.2L1038.2 2496.4L1026 2516.8L1000.1 2514.9z" fill="#ffb300" stroke="#ffb300"/><path d="M1038.2 2496.4L1064.1 2498.8L1052 2519.1L1026 2516.8z" fill="#ffb100" stroke="#ffb100"/><path d="M1064.1 2498.8L1090.1 2501.6L1078.1 2521.6L1052 2519.1z" fill="#ffb000" stroke="#ffb000"/><path d="M1090.1 2501.6L1116.3 2504.6L1104.3 2524.4L1078.1 2521.6z" fill="#ffaf00" stroke="#ffaf00"/><path d="M1116.3 2504.6L1142.6 2507.9L1130.7 2527.4L1104.3 2524.4z" fill="#ffae00" stroke="#ffae00"/><path d="M1142.6 2507.9L1168.9 2511.4L1157.1 2530.8L1130.7 2527.4z" fill="#ffae00" stroke="#ffae00"/><path d="M1168.9 2511.4L1195.4 2515.3L1183.7 2534.4L1157.1 2530.8z" fill="#ffad00" stroke="#ffad00"/><path d="M1195.4 2515.3L1222 2519.5L1210.3 2538.3L1183.7 2534.4z" fill="#ffad00" stroke="#ffad00"/><path d="M1222 2519.5L1248.7 2523.9L1237.1 2542.5L1210.3 2538.3z" fill="#ffad00" stroke="#ffad00"/><path d="M1248.7 2523.9L1275.5 2528.6L1264 2547L1237.1 2542.5z" fill="#ffad00" stroke="#ffad00"/><path d="M1275.5 2528.6L1302.4 2533.6L1291 2551.8L1264 2547z" fill="#ffae00" stroke="#ffae00"/><path d="M1302.4 2533.6L1329.4 2538.9L1318.1 2556.9L1291 2551.8z" fill="#ffaf00" stroke="#ffaf00"/><path d="M1329.4 2538.9L1356.6 2544.5L1345.3 2562.2L1318.1 2556.9z" fill="#ffb000" stroke="#ffb000"/><path d="M1356.6 2544.5L1383.8 2550.4L1372.6 2567.9L1345.3 2562.2z" fill="#ffb100" stroke="#ffb100"/><path d="M1383.8 2550.4L1411.1 2556.6L1400 2573.8L1372.6 2567.9z" fill="#ffb200" stroke="#ffb200"/><path d="M1411.1 2556.6L1438.5 2563.1L1427.5 2580.1L1400 2573.8z" fill="#ffb400" stroke="#ffb400"/><path d="M1438.5 2563.1L1466 2569.9L1455.1 2586.6L1427.5 2580.1z" fill="#ffb600" stroke="#ffb600"/><path d="M1466 2569.9L1493.6 2577L1482.8 2593.5L1455.1 2586.6z" fill="#ffb800" stroke="#ffb800"/><path d="M1493.6 2577L1521.3 2584.3L1510.6 2600.6L1482.8 2593.5z" fill="#ffba00" stroke="#ffba00"/><path d="M1521.3 2584.3L1549 2592L1538.5 2608.1L1510.6 2600.6z" fill="#ffbd00" stroke="#ffbd00"/><path d="M1549 2592L1576.9 2600L1566.4 2615.8L1538.5 2608.1z" fill="#ffc000" stroke="#ffc000"/><path d="M1576.9 2600L1604.9 2608.3L1594.5 2623.9L1566.4 2615.8z" fill="#ffc300" stroke="#ffc300"/><path d="M1604.9 2608.3L1632.9 2616.9L1622.6 2632.2L1594.5 2623.9z" fill="#ffc600" stroke="#ffc600"/><path d="M1632.9 2616.9L1661 2625.8L1650.9 2640.9L1622.6 2632.2z" fill="#ffc900" stroke="#ffc900"/><path d="M603 2519.7L626.8 2517.5L613.9 2542L590 2544.4z" fill="#ffef00" stroke="#ffef00"/><path d="M626.8 2517.5L650.8 2515.5L637.9 2539.8L613.9 2542z" fill="#ffeb00" stroke="#ffeb00"/><path d="M650.8 2515.5L675 2513.8L662.1 2537.8L637.9 2539.8z" fill="#ffe700" stroke="#ffe700"/><path d="M675 2513.8L699.2 2512.3L686.4 2536.2L662.1 2537.8z" fill="#ffe400" stroke="#ffe400"/><path d="M699.2 2512.3L723.6 2511.1L710.8 2534.7L686.4 2536.2z" fill="#ffe000" stroke="#ffe000"/><path d="M723.6 2511.1L748.1 2510.1L735.3 2533.5L710.8 2534.7z" fill="#ffdc00" stroke="#ffdc00"/><path d="M748.1 2510.1L772.7 2509.4L760 2532.6L735.3 2533.5z" fill="#ffd800" stroke="#ffd800"/><path d="M772.7 2509.4L797.5 2509L784.8 2531.9L760 2532.6z" fill="#ffd500" stroke="#ffd500"/><path d="M797.5 2509L822.4 2508.8L809.8 2531.5L784.8 2531.9z" fill="#ffd200" stroke="#ffd200"/><path d="M822.4 2508.8L847.4 2508.9L834.8 2531.4L809.8 2531.5z" fill="#ffcf00" stroke="#ffcf00"/><path d="M847.4 2508.9L872.6 2509.2L860 2531.5L834.8 2531.4z" fill="#ffcc00" stroke="#ffcc00"/><path d="M872.6 2509.2L897.8 2509.8L885.3 2531.9L860 2531.5z" fill="#ffc900" stroke="#ffc900"/><path d="M897.8 2509.8L923.2 2510.7L910.8 2532.5L885.3 2531.9z" fill="#ffc600" stroke="#ffc600"/><path d="M923.2 2510.7L948.7 2511.8L936.3 2533.4L910.8 2532.5z" fill="#ffc400" stroke="#ffc400"/><path d="M948.7 2511.8L974.4 2513.2L962 2534.6L936.3 2533.4z" fill="#ffc100" stroke="#ffc100"/><path d="M974.4 2513.2L1000.1 2514.9L987.8 2536L962 2534.6z" fill="#ffbf00" stroke="#ffbf00"/><path d="M1000.1 2514.9L1026 2516.8L1013.7 2537.7L987.8 2536z" fill="#ffbd00" stroke="#ffbd00"/><path d="M1026 2516.8L1052 2519.1L1039.8 2539.7L1013.7 2537.7z" fill="#ffbb00" stroke="#ffbb00"/><path d="M1052 2519.1L1078.1 2521.6L1066 2542L1039.8 2539.7z" fill="#ffba00" stroke="#ffba00"/><path d="M1078.1 2521.6L1104.3 2524.4L1092.3 2544.6L1066 2542z" fill="#ffb900" stroke="#ffb900"/><path d="M1104.3 2524.4L1130.7 2527.4L1118.7 2547.4L1092.3 2544.6z" fill="#ffb800" stroke="#ffb800"/><path d="M1130.7 2527.4L1157.1 2530.8L1145.2 2550.5L1118.7 2547.4z" fill="#ffb700" stroke="#ffb700"/><path d="M1157.1 2530.8L1183.7 2534.4L1171.8 2553.9L1145.2 2550.5z" fill="#ffb600" stroke="#ffb600"/><path d="M1183.7 2534.4L1210.3 2538.3L1198.6 2557.6L1171.8 2553.9z" fill="#ffb600" stroke="#ffb600"/><path d="M1210.3 2538.3L1237.1 2542.5L1225.4 2561.6L1198.6 2557.6z" fill="#ffb600" stroke="#ffb600"/><path d="M1237.1 2542.5L1264 2547L1252.4 2565.8L1225.4 2561.6z" fill="#ffb600" stroke="#ffb600"/><path d="M1264 2547L1291 2551.8L1279.4 2570.4L1252.4 2565.8z" fill="#ffb600" stroke="#ffb600"/><path d="M1291 2551.8L1318.1 2556.9L1306.6 2575.2L1279.4 2570.4z" fill="#ffb600" stroke="#ffb600"/><path d="M1318.1 2556.9L1345.3 2562.2L1333.9 2580.3L1306.6 2575.2z" fill="#ffb700" stroke="#ffb700"/><path d="M1345.3 2562.2L1372.6 2567.9L1361.3 2585.8L1333.9 2580.3z" fill="#ffb800" stroke="#ffb800"/><path d="M1372.6 2567.9L1400 2573.8L1388.8 2591.5L1361.3 2585.8z" fill="#ffb900" stroke="#ffb900"/><path d="M1400 2573.8L1427.5 2580.1L1416.4 2597.5L1388.8 2591.5z" fill="#ffbb00" stroke="#ffbb00"/><path d="M1427.5 2580.1L1455.1 2586.6L1444.1 2603.8L1416.4 2597.5z" fill="#ffbc00" stroke="#ffbc00"/><path d="M1455.1 2586.6L1482.8 2593.5L1471.9 2610.4L1444.1 2603.8z" fill="#ffbe00" stroke="#ffbe00"/><path d="M1482.8 2593.5L1510.6 2600.6L1499.8 2617.3L1471.9 2610.4z" fill="#ffc000" stroke="#ffc000"/><path d="M1510.6 2600.6L1538.5 2608.1L1527.8 2624.6L1499.8 2617.3z" fill="#ffc200" stroke="#ffc200"/><path d="M1538.5 2608.1L1566.4 2615.8L1555.9 2632.1L1527.8 2624.6z" fill="#ffc500" stroke="#ffc500"/><path d="M1566.4 2615.8L1594.5 2623.9L1584 2639.9L1555.9 2632.1z" fill="#ffc800" stroke="#ffc800"/><path d="M1594.5 2623.9L1622.6 2632.2L1612.3 2648L1584 2639.9z" fill="#ffca00" stroke="#ffca00"/><path d="M1622.6 2632.2L1650.9 2640.9L1640.6 2656.5L1612.3 2648z" fill="#ffcd00" stroke="#ffcd00"/><path d="M590 2544.4L613.9 2542L601 2566.9L577 2569.5z" fill="#fffa00" stroke="#fffa00"/><path d="M613.9 2542L637.9 2539.8L625 2564.5L601 2566.9z" fill="#fff500" stroke="#fff500"/><path d="M637.9 2539.8L662.1 2537.8L649.2 2562.3L625 2564.5z" fill="#fff100" stroke="#fff100"/><path d="M662.1 2537.8L686.4 2536.2L673.5 2560.4L649.2 2562.3z" fill="#ffee00" stroke="#ffee00"/><path d="M686.4 2536.2L710.8 2534.7L697.9 2558.8L673.5 2560.4z" fill="#ffea00" stroke="#ffea00"/><path d="M710.8 2534.7L735.3 2533.5L722.5 2557.4L697.9 2558.8z" fill="#ffe700" stroke="#ffe700"/><path d="M735.3 2533.5L760 2532.6L747.2 2556.2L722.5 2557.4z" fill="#ffe300" stroke="#ffe300"/><path d="M760 2532.6L784.8 2531.9L772.1 2555.3L747.2 2556.2z" fill="#ffe000" stroke="#ffe000"/><path d="M784.8 2531.9L809.8 2531.5L797 2554.7L772.1 2555.3z" fill="#ffdd00" stroke="#ffdd00"/><path d="M809.8 2531.5L834.8 2531.4L822.1 2554.3L797 2554.7z" fill="#ffd900" stroke="#ffd900"/><path d="M834.8 2531.4L860 2531.5L847.4 2554.2L822.1 2554.3z" fill="#ffd600" stroke="#ffd600"/><path d="M860 2531.5L885.3 2531.9L872.7 2554.3L847.4 2554.2z" fill="#ffd300" stroke="#ffd300"/><path d="M885.3 2531.9L910.8 2532.5L898.2 2554.8L872.7 2554.3z" fill="#ffd100" stroke="#ffd100"/><path d="M910.8 2532.5L936.3 2533.4L923.8 2555.4L898.2 2554.8z" fill="#ffce00" stroke="#ffce00"/><path d="M936.3 2533.4L962 2534.6L949.6 2556.4L923.8 2555.4z" fill="#ffcc00" stroke="#ffcc00"/><path d="M962 2534.6L987.8 2536L975.4 2557.6L949.6 2556.4z" fill="#ffca00" stroke="#ffca00"/><path d="M987.8 2536L1013.7 2537.7L1001.4 2559.1L975.4 2557.6z" fill="#ffc800" stroke="#ffc800"/><path d="M1013.7 2537.7L1039.8 2539.7L1027.5 2560.9L1001.4 2559.1z" fill="#ffc600" stroke="#ffc600"/><path d="M1039.8 2539.7L1066 2542L1053.8 2562.9L1027.5 2560.9z" fill="#ffc400" stroke="#ffc400"/><path d="M1066 2542L1092.3 2544.6L1080.1 2565.2L1053.8 2562.9z" fill="#ffc200" stroke="#ffc200"/><path d="M1092.3 2544.6L1118.7 2547.4L1106.6 2567.8L1080.1 2565.2z" fill="#ffc100" stroke="#ffc100"/><path d="M1118.7 2547.4L1145.2 2550.5L1133.2 2570.7L1106.6 2567.8z" fill="#ffc000" stroke="#ffc000"/><path d="M1145.2 2550.5L1171.8 2553.9L1159.9 2573.9L1133.2 2570.7z" fill="#ffbf00" stroke="#ffbf00"/><path d="M1171.8 2553.9L1198.6 2557.6L1186.7 2577.3L1159.9 2573.9z" fill="#ffbf00" stroke="#ffbf00"/><path d="M1198.6 2557.6L1225.4 2561.6L1213.6 2581.1L1186.7 2577.3z" fill="#ffbe00" stroke="#ffbe00"/><path d="M1225.4 2561.6L1252.4 2565.8L1240.7 2585.1L1213.6 2581.1z" fill="#ffbe00" stroke="#ffbe00"/><path d="M1252.4 2565.8L1279.4 2570.4L1267.8 2589.4L1240.7 2585.1z" fill="#ffbe00" stroke="#ffbe00"/><path d="M1279.4 2570.4L1306.6 2575.2L1295.1 2594L1267.8 2589.4z" fill="#ffbe00" stroke="#ffbe00"/><path d="M1306.6 2575.2L1333.9 2580.3L1322.5 2598.9L1295.1 2594z" fill="#ffbf00" stroke="#ffbf00"/><path d="M1333.9 2580.3L1361.3 2585.8L1349.9 2604.1L1322.5 2598.9z" fill="#ffbf00" stroke="#ffbf00"/><path d="M1361.3 2585.8L1388.8 2591.5L1377.5 2609.6L1349.9 2604.1z" fill="#ffc000" stroke="#ffc000"/><path d="M1388.8 2591.5L1416.4 2597.5L1405.2 2615.4L1377.5 2609.6z" fill="#ffc200" stroke="#ffc200"/><path d="M1416.4 2597.5L1444.1 2603.8L1433 2621.4L1405.2 2615.4z" fill="#ffc300" stroke="#ffc300"/><path d="M1444.1 2603.8L1471.9 2610.4L1460.9 2627.8L1433 2621.4z" fill="#ffc500" stroke="#ffc500"/><path d="M1471.9 2610.4L1499.8 2617.3L1488.9 2634.5L1460.9 2627.8z" fill="#ffc600" stroke="#ffc600"/><path d="M1499.8 2617.3L1527.8 2624.6L1517 2641.5L1488.9 2634.5z" fill="#ffc800" stroke="#ffc800"/><path d="M1527.8 2624.6L1555.9 2632.1L1545.2 2648.8L1517 2641.5z" fill="#ffca00" stroke="#ffca00"/><path d="M1555.9 2632.1L1584 2639.9L1573.5 2656.4L1545.2 2648.8z" fill="#ffcd00" stroke="#ffcd00"/><path d="M1584 2639.9L1612.3 2648L1601.8 2664.3L1573.5 2656.4z" fill="#ffcf00" stroke="#ffcf00"/><path d="M1612.3 2648L1640.6 2656.5L1630.3 2672.5L1601.8 2664.3z" fill="#ffd200" stroke="#ffd200"/><path d="M577 2569.5L601 2566.9L587.9 2592.3L564 2595.1z" fill="#f1fe00" stroke="#f1fe00"/><path d="M601 2566.9L625 2564.5L612 2589.6L587.9 2592.3z" fill="#f9fe00" stroke="#f9fe00"/><path d="M625 2564.5L649.2 2562.3L636.2 2587.3L612 2589.6z" fill="#fffd00" stroke="#fffd00"/><path d="M649.2 2562.3L673.5 2560.4L660.5 2585.1L636.2 2587.3z" fill="#fff800" stroke="#fff800"/><path d="M673.5 2560.4L697.9 2558.8L685 2583.3L660.5 2585.1z" fill="#fff400" stroke="#fff400"/><path d="M697.9 2558.8L722.5 2557.4L709.6 2581.7L685 2583.3z" fill="#fff000" stroke="#fff000"/><path d="M722.5 2557.4L747.2 2556.2L734.3 2580.3L709.6 2581.7z" fill="#ffed00" stroke="#ffed00"/><path d="M747.2 2556.2L772.1 2555.3L759.2 2579.2L734.3 2580.3z" fill="#ffea00" stroke="#ffea00"/><path d="M772.1 2555.3L797 2554.7L784.2 2578.3L759.2 2579.2z" fill="#ffe700" stroke="#ffe700"/><path d="M797 2554.7L822.1 2554.3L809.4 2577.7L784.2 2578.3z" fill="#ffe400" stroke="#ffe400"/><path d="M822.1 2554.3L847.4 2554.2L834.6 2577.4L809.4 2577.7z" fill="#ffe100" stroke="#ffe100"/><path d="M847.4 2554.2L872.7 2554.3L860.1 2577.3L834.6 2577.4z" fill="#ffde00" stroke="#ffde00"/><path d="M872.7 2554.3L898.2 2554.8L885.6 2577.5L860.1 2577.3z" fill="#ffdb00" stroke="#ffdb00"/><path d="M898.2 2554.8L923.8 2555.4L911.3 2577.9L885.6 2577.5z" fill="#ffd800" stroke="#ffd800"/><path d="M923.8 2555.4L949.6 2556.4L937 2578.6L911.3 2577.9z" fill="#ffd600" stroke="#ffd600"/><path d="M949.6 2556.4L975.4 2557.6L963 2579.6L937 2578.6z" fill="#ffd300" stroke="#ffd300"/><path d="M975.4 2557.6L1001.4 2559.1L989 2580.9L963 2579.6z" fill="#ffd100" stroke="#ffd100"/><path d="M1001.4 2559.1L1027.5 2560.9L1015.2 2582.4L989 2580.9z" fill="#ffcf00" stroke="#ffcf00"/><path d="M1027.5 2560.9L1053.8 2562.9L1041.5 2584.2L1015.2 2582.4z" fill="#ffcd00" stroke="#ffcd00"/><path d="M1053.8 2562.9L1080.1 2565.2L1067.9 2586.3L1041.5 2584.2z" fill="#ffcc00" stroke="#ffcc00"/><path d="M1080.1 2565.2L1106.6 2567.8L1094.4 2588.7L1067.9 2586.3z" fill="#ffcb00" stroke="#ffcb00"/><path d="M1106.6 2567.8L1133.2 2570.7L1121.1 2591.4L1094.4 2588.7z" fill="#ffc900" stroke="#ffc900"/><path d="M1133.2 2570.7L1159.9 2573.9L1147.8 2594.3L1121.1 2591.4z" fill="#ffc800" stroke="#ffc800"/><path d="M1159.9 2573.9L1186.7 2577.3L1174.7 2597.5L1147.8 2594.3z" fill="#ffc800" stroke="#ffc800"/><path d="M1186.7 2577.3L1213.6 2581.1L1201.7 2601L1174.7 2597.5z" fill="#ffc700" stroke="#ffc700"/><path d="M1213.6 2581.1L1240.7 2585.1L1228.9 2604.8L1201.7 2601z" fill="#ffc700" stroke="#ffc700"/><path d="M1240.7 2585.1L1267.8 2589.4L1256.1 2608.9L1228.9 2604.8z" fill="#ffc600" stroke="#ffc600"/><path d="M1267.8 2589.4L1295.1 2594L1283.4 2613.3L1256.1 2608.9z" fill="#ffc600" stroke="#ffc600"/><path d="M1295.1 2594L1322.5 2598.9L1310.9 2617.9L1283.4 2613.3z" fill="#ffc700" stroke="#ffc700"/><path d="M1322.5 2598.9L1349.9 2604.1L1338.5 2622.9L1310.9 2617.9z" fill="#ffc700" stroke="#ffc700"/><path d="M1349.9 2604.1L1377.5 2609.6L1366.1 2628.1L1338.5 2622.9z" fill="#ffc800" stroke="#ffc800"/><path d="M1377.5 2609.6L1405.2 2615.4L1393.9 2633.7L1366.1 2628.1z" fill="#ffc900" stroke="#ffc900"/><path d="M1405.2 2615.4L1433 2621.4L1421.8 2639.5L1393.9 2633.7z" fill="#ffca00" stroke="#ffca00"/><path d="M1433 2621.4L1460.9 2627.8L1449.8 2645.7L1421.8 2639.5z" fill="#ffcb00" stroke="#ffcb00"/><path d="M1460.9 2627.8L1488.9 2634.5L1477.9 2652.1L1449.8 2645.7z" fill="#ffcc00" stroke="#ffcc00"/><path d="M1488.9 2634.5L1517 2641.5L1506.1 2658.9L1477.9 2652.1z" fill="#ffce00" stroke="#ffce00"/><path d="M1517 2641.5L1545.2 2648.8L1534.4 2665.9L1506.1 2658.9z" fill="#ffd000" stroke="#ffd000"/><path d="M1545.2 2648.8L1573.5 2656.4L1562.8 2673.3L1534.4 2665.9z" fill="#ffd200" stroke="#ffd200"/><path d="M1573.5 2656.4L1601.8 2664.3L1591.3 2680.9L1562.8 2673.3z" fill="#ffd400" stroke="#ffd400"/><path d="M1601.8 2664.3L1630.3 2672.5L1619.9 2688.9L1591.3 2680.9z" fill="#ffd600" stroke="#ffd600"/><path d="M564 2595.1L587.9 2592.3L574.8 2618L550.9 2621.1z" fill="#c0f600" stroke="#c0f600"/><path d="M587.9 2592.3L612 2589.6L598.9 2615.2L574.8 2618z" fill="#d9fa00" stroke="#d9fa00"/><path d="M612 2589.6L636.2 2587.3L623.1 2612.6L598.9 2615.2z" fill="#edfd00" stroke="#edfd00"/><path d="M636.2 2587.3L660.5 2585.1L647.5 2610.3L623.1 2612.6z" fill="#f5fe00" stroke="#f5fe00"/><path d="M660.5 2585.1L685 2583.3L672 2608.2L647.5 2610.3z" fill="#fcff00" stroke="#fcff00"/><path d="M685 2583.3L709.6 2581.7L696.6 2606.4L672 2608.2z" fill="#fffc00" stroke="#fffc00"/><path d="M709.6 2581.7L734.3 2580.3L721.4 2604.8L696.6 2606.4z" fill="#fff700" stroke="#fff700"/><path d="M734.3 2580.3L759.2 2579.2L746.3 2603.4L721.4 2604.8z" fill="#fff300" stroke="#fff300"/><path d="M759.2 2579.2L784.2 2578.3L771.4 2602.3L746.3 2603.4z" fill="#fff000" stroke="#fff000"/><path d="M784.2 2578.3L809.4 2577.7L796.5 2601.5L771.4 2602.3z" fill="#ffed00" stroke="#ffed00"/><path d="M809.4 2577.7L834.6 2577.4L821.9 2601L796.5 2601.5z" fill="#ffea00" stroke="#ffea00"/><path d="M834.6 2577.4L860.1 2577.3L847.3 2600.7L821.9 2601z" fill="#ffe700" stroke="#ffe700"/><path d="M860.1 2577.3L885.6 2577.5L872.9 2600.6L847.3 2600.7z" fill="#ffe500" stroke="#ffe500"/><path d="M885.6 2577.5L911.3 2577.9L898.6 2600.8L872.9 2600.6z" fill="#ffe200" stroke="#ffe200"/><path d="M911.3 2577.9L937 2578.6L924.4 2601.3L898.6 2600.8z" fill="#ffe000" stroke="#ffe000"/><path d="M937 2578.6L963 2579.6L950.4 2602.1L924.4 2601.3z" fill="#ffdd00" stroke="#ffdd00"/><path d="M963 2579.6L989 2580.9L976.5 2603.1L950.4 2602.1z" fill="#ffdb00" stroke="#ffdb00"/><path d="M989 2580.9L1015.2 2582.4L1002.7 2604.4L976.5 2603.1z" fill="#ffd900" stroke="#ffd900"/><path d="M1015.2 2582.4L1041.5 2584.2L1029.1 2606L1002.7 2604.4z" fill="#ffd700" stroke="#ffd700"/><path d="M1041.5 2584.2L1067.9 2586.3L1055.6 2607.9L1029.1 2606z" fill="#ffd500" stroke="#ffd500"/><path d="M1067.9 2586.3L1094.4 2588.7L1082.2 2610L1055.6 2607.9z" fill="#ffd300" stroke="#ffd300"/><path d="M1094.4 2588.7L1121.1 2591.4L1108.9 2612.4L1082.2 2610z" fill="#ffd200" stroke="#ffd200"/><path d="M1121.1 2591.4L1147.8 2594.3L1135.7 2615.1L1108.9 2612.4z" fill="#ffd100" stroke="#ffd100"/><path d="M1147.8 2594.3L1174.7 2597.5L1162.7 2618.1L1135.7 2615.1z" fill="#ffd000" stroke="#ffd000"/><path d="M1174.7 2597.5L1201.7 2601L1189.8 2621.4L1162.7 2618.1z" fill="#ffcf00" stroke="#ffcf00"/><path d="M1201.7 2601L1228.9 2604.8L1217 2625L1189.8 2621.4z" fill="#ffce00" stroke="#ffce00"/><path d="M1228.9 2604.8L1256.1 2608.9L1244.3 2628.8L1217 2625z" fill="#ffce00" stroke="#ffce00"/><path d="M1256.1 2608.9L1283.4 2613.3L1271.7 2632.9L1244.3 2628.8z" fill="#ffce00" stroke="#ffce00"/><path d="M1283.4 2613.3L1310.9 2617.9L1299.2 2637.4L1271.7 2632.9z" fill="#ffce00" stroke="#ffce00"/><path d="M1310.9 2617.9L1338.5 2622.9L1326.9 2642.1L1299.2 2637.4z" fill="#ffce00" stroke="#ffce00"/><path d="M1338.5 2622.9L1366.1 2628.1L1354.7 2647.1L1326.9 2642.1z" fill="#ffcf00" stroke="#ffcf00"/><path d="M1366.1 2628.1L1393.9 2633.7L1382.5 2652.4L1354.7 2647.1z" fill="#ffcf00" stroke="#ffcf00"/><path d="M1393.9 2633.7L1421.8 2639.5L1410.5 2658L1382.5 2652.4z" fill="#ffd000" stroke="#ffd000"/><path d="M1421.8 2639.5L1449.8 2645.7L1438.6 2664L1410.5 2658z" fill="#ffd100" stroke="#ffd100"/><path d="M1449.8 2645.7L1477.9 2652.1L1466.8 2670.2L1438.6 2664z" fill="#ffd200" stroke="#ffd200"/><path d="M1477.9 2652.1L1506.1 2658.9L1495.1 2676.7L1466.8 2670.2z" fill="#ffd300" stroke="#ffd300"/><path d="M1506.1 2658.9L1534.4 2665.9L1523.5 2683.5L1495.1 2676.7z" fill="#ffd500" stroke="#ffd500"/><path d="M1534.4 2665.9L1562.8 2673.3L1552 2690.6L1523.5 2683.5z" fill="#ffd700" stroke="#ffd700"/><path d="M1562.8 2673.3L1591.3 2680.9L1580.6 2698.1L1552 2690.6z" fill="#ffd900" stroke="#ffd900"/><path d="M1591.3 2680.9L1619.9 2688.9L1609.3 2705.8L1580.6 2698.1z" fill="#ffdb00" stroke="#ffdb00"/><path d="M550.9 2621.1L574.8 2618L561.7 2644.3L537.7 2647.6z" fill="#82ee00" stroke="#82ee00"/><path d="M574.8 2618L598.9 2615.2L585.8 2641.2L561.7 2644.3z" fill="#9df100" stroke="#9df100"/><path d="M598.9 2615.2L623.1 2612.6L610 2638.4L585.8 2641.2z" fill="#b5f500" stroke="#b5f500"/><path d="M623.1 2612.6L647.5 2610.3L634.4 2635.9L610 2638.4z" fill="#cdf800" stroke="#cdf800"/><path d="M647.5 2610.3L672 2608.2L658.9 2633.6L634.4 2635.9z" fill="#e3fc00" stroke="#e3fc00"/><path d="M672 2608.2L696.6 2606.4L683.6 2631.5L658.9 2633.6z" fill="#f0fd00" stroke="#f0fd00"/><path d="M696.6 2606.4L721.4 2604.8L708.4 2629.7L683.6 2631.5z" fill="#f7fe00" stroke="#f7fe00"/><path d="M721.4 2604.8L746.3 2603.4L733.3 2628.1L708.4 2629.7z" fill="#feff00" stroke="#feff00"/><path d="M746.3 2603.4L771.4 2602.3L758.4 2626.8L733.3 2628.1z" fill="#fffb00" stroke="#fffb00"/><path d="M771.4 2602.3L796.5 2601.5L783.6 2625.8L758.4 2626.8z" fill="#fff700" stroke="#fff700"/><path d="M796.5 2601.5L821.9 2601L809 2625L783.6 2625.8z" fill="#fff300" stroke="#fff300"/><path d="M821.9 2601L847.3 2600.7L834.5 2624.5L809 2625z" fill="#fff000" stroke="#fff000"/><path d="M847.3 2600.7L872.9 2600.6L860.1 2624.2L834.5 2624.5z" fill="#ffee00" stroke="#ffee00"/><path d="M872.9 2600.6L898.6 2600.8L885.9 2624.2L860.1 2624.2z" fill="#ffeb00" stroke="#ffeb00"/><path d="M898.6 2600.8L924.4 2601.3L911.8 2624.5L885.9 2624.2z" fill="#ffe800" stroke="#ffe800"/><path d="M924.4 2601.3L950.4 2602.1L937.8 2625L911.8 2624.5z" fill="#ffe600" stroke="#ffe600"/><path d="M950.4 2602.1L976.5 2603.1L963.9 2625.8L937.8 2625z" fill="#ffe400" stroke="#ffe400"/><path d="M976.5 2603.1L1002.7 2604.4L990.2 2626.9L963.9 2625.8z" fill="#ffe200" stroke="#ffe200"/><path d="M1002.7 2604.4L1029.1 2606L1016.6 2628.3L990.2 2626.9z" fill="#ffe000" stroke="#ffe000"/><path d="M1029.1 2606L1055.6 2607.9L1043.2 2629.9L1016.6 2628.3z" fill="#ffde00" stroke="#ffde00"/><path d="M1055.6 2607.9L1082.2 2610L1069.8 2631.8L1043.2 2629.9z" fill="#ffdc00" stroke="#ffdc00"/><path d="M1082.2 2610L1108.9 2612.4L1096.6 2634L1069.8 2631.8z" fill="#ffdb00" stroke="#ffdb00"/><path d="M1108.9 2612.4L1135.7 2615.1L1123.5 2636.4L1096.6 2634z" fill="#ffd900" stroke="#ffd900"/><path d="M1135.7 2615.1L1162.7 2618.1L1150.5 2639.2L1123.5 2636.4z" fill="#ffd800" stroke="#ffd800"/><path d="M1162.7 2618.1L1189.8 2621.4L1177.7 2642.2L1150.5 2639.2z" fill="#ffd700" stroke="#ffd700"/><path d="M1189.8 2621.4L1217 2625L1205 2645.6L1177.7 2642.2z" fill="#ffd600" stroke="#ffd600"/><path d="M1217 2625L1244.3 2628.8L1232.4 2649.2L1205 2645.6z" fill="#ffd600" stroke="#ffd600"/><path d="M1244.3 2628.8L1271.7 2632.9L1259.9 2653.1L1232.4 2649.2z" fill="#ffd500" stroke="#ffd500"/><path d="M1271.7 2632.9L1299.2 2637.4L1287.5 2657.3L1259.9 2653.1z" fill="#ffd500" stroke="#ffd500"/><path d="M1299.2 2637.4L1326.9 2642.1L1315.2 2661.8L1287.5 2657.3z" fill="#ffd500" stroke="#ffd500"/><path d="M1326.9 2642.1L1354.7 2647.1L1343.1 2666.6L1315.2 2661.8z" fill="#ffd500" stroke="#ffd500"/><path d="M1354.7 2647.1L1382.5 2652.4L1371.1 2671.6L1343.1 2666.6z" fill="#ffd600" stroke="#ffd600"/><path d="M1382.5 2652.4L1410.5 2658L1399.1 2677L1371.1 2671.6z" fill="#ffd600" stroke="#ffd600"/><path d="M1410.5 2658L1438.6 2664L1427.3 2682.7L1399.1 2677z" fill="#ffd700" stroke="#ffd700"/><path d="M1438.6 2664L1466.8 2670.2L1455.6 2688.7L1427.3 2682.7z" fill="#ffd800" stroke="#ffd800"/><path d="M1466.8 2670.2L1495.1 2676.7L1484 2695L1455.6 2688.7z" fill="#ffd900" stroke="#ffd900"/><path d="M1495.1 2676.7L1523.5 2683.5L1512.5 2701.6L1484 2695z" fill="#ffdb00" stroke="#ffdb00"/><path d="M1523.5 2683.5L1552 2690.6L1541.1 2708.4L1512.5 2701.6z" fill="#ffdc00" stroke="#ffdc00"/><path d="M1552 2690.6L1580.6 2698.1L1569.8 2715.6L1541.1 2708.4z" fill="#ffde00" stroke="#ffde00"/><path d="M1580.6 2698.1L1609.3 2705.8L1598.7 2723.2L1569.8 2715.6z" fill="#ffe000" stroke="#ffe000"/><path d="M537.7 2647.6L561.7 2644.3L548.4 2670.9L524.5 2674.4z" fill="#40e600" stroke="#40e600"/><path d="M561.7 2644.3L585.8 2641.2L572.6 2667.7L548.4 2670.9z" fill="#5ce900" stroke="#5ce900"/><path d="M585.8 2641.2L610 2638.4L596.8 2664.7L572.6 2667.7z" fill="#77ec00" stroke="#77ec00"/><path d="M610 2638.4L634.4 2635.9L621.2 2661.9L596.8 2664.7z" fill="#91ef00" stroke="#91ef00"/><path d="M634.4 2635.9L658.9 2633.6L645.8 2659.4L621.2 2661.9z" fill="#a9f300" stroke="#a9f300"/><path d="M658.9 2633.6L683.6 2631.5L670.5 2657.1L645.8 2659.4z" fill="#c0f600" stroke="#c0f600"/><path d="M683.6 2631.5L708.4 2629.7L695.3 2655.1L670.5 2657.1z" fill="#d6fa00" stroke="#d6fa00"/><path d="M708.4 2629.7L733.3 2628.1L720.3 2653.3L695.3 2655.1z" fill="#ebfd00" stroke="#ebfd00"/><path d="M733.3 2628.1L758.4 2626.8L745.4 2651.8L720.3 2653.3z" fill="#f2fe00" stroke="#f2fe00"/><path d="M758.4 2626.8L783.6 2625.8L770.7 2650.5L745.4 2651.8z" fill="#f9fe00" stroke="#f9fe00"/><path d="M783.6 2625.8L809 2625L796.1 2649.5L770.7 2650.5z" fill="#ffff00" stroke="#ffff00"/><path d="M809 2625L834.5 2624.5L821.6 2648.7L796.1 2649.5z" fill="#fffb00" stroke="#fffb00"/><path d="M834.5 2624.5L860.1 2624.2L847.3 2648.2L821.6 2648.7z" fill="#fff700" stroke="#fff700"/><path d="M860.1 2624.2L885.9 2624.2L873.1 2648L847.3 2648.2z" fill="#fff400" stroke="#fff400"/><path d="M885.9 2624.2L911.8 2624.5L899 2648.1L873.1 2648z" fill="#fff100" stroke="#fff100"/><path d="M911.8 2624.5L937.8 2625L925.1 2648.4L899 2648.1z" fill="#ffef00" stroke="#ffef00"/><path d="M937.8 2625L963.9 2625.8L951.3 2649L925.1 2648.4z" fill="#ffec00" stroke="#ffec00"/><path d="M963.9 2625.8L990.2 2626.9L977.6 2649.8L951.3 2649z" fill="#ffea00" stroke="#ffea00"/><path d="M990.2 2626.9L1016.6 2628.3L1004.1 2650.9L977.6 2649.8z" fill="#ffe800" stroke="#ffe800"/><path d="M1016.6 2628.3L1043.2 2629.9L1030.7 2652.3L1004.1 2650.9z" fill="#ffe600" stroke="#ffe600"/><path d="M1043.2 2629.9L1069.8 2631.8L1057.4 2654L1030.7 2652.3z" fill="#ffe500" stroke="#ffe500"/><path d="M1069.8 2631.8L1096.6 2634L1084.2 2656L1057.4 2654z" fill="#ffe300" stroke="#ffe300"/><path d="M1096.6 2634L1123.5 2636.4L1111.2 2658.2L1084.2 2656z" fill="#ffe200" stroke="#ffe200"/><path d="M1123.5 2636.4L1150.5 2639.2L1138.3 2660.7L1111.2 2658.2z" fill="#ffe100" stroke="#ffe100"/><path d="M1150.5 2639.2L1177.7 2642.2L1165.5 2663.5L1138.3 2660.7z" fill="#ffe000" stroke="#ffe000"/><path d="M1177.7 2642.2L1205 2645.6L1192.9 2666.6L1165.5 2663.5z" fill="#ffdf00" stroke="#ffdf00"/><path d="M1205 2645.6L1232.4 2649.2L1220.4 2670L1192.9 2666.6z" fill="#ffde00" stroke="#ffde00"/><path d="M1232.4 2649.2L1259.9 2653.1L1248 2673.7L1220.4 2670z" fill="#ffdd00" stroke="#ffdd00"/><path d="M1259.9 2653.1L1287.5 2657.3L1275.7 2677.7L1248 2673.7z" fill="#ffdd00" stroke="#ffdd00"/><path d="M1287.5 2657.3L1315.2 2661.8L1303.5 2681.9L1275.7 2677.7z" fill="#ffdd00" stroke="#ffdd00"/><path d="M1315.2 2661.8L1343.1 2666.6L1331.4 2686.5L1303.5 2681.9z" fill="#ffdd00" stroke="#ffdd00"/><path d="M1343.1 2666.6L1371.1 2671.6L1359.5 2691.3L1331.4 2686.5z" fill="#ffdd00" stroke="#ffdd00"/><path d="M1371.1 2671.6L1399.1 2677L1387.7 2696.5L1359.5 2691.3z" fill="#ffdd00" stroke="#ffdd00"/><path d="M1399.1 2677L1427.3 2682.7L1415.9 2701.9L1387.7 2696.5z" fill="#ffde00" stroke="#ffde00"/><path d="M1427.3 2682.7L1455.6 2688.7L1444.3 2707.7L1415.9 2701.9z" fill="#ffde00" stroke="#ffde00"/><path d="M1455.6 2688.7L1484 2695L1472.8 2713.7L1444.3 2707.7z" fill="#ffdf00" stroke="#ffdf00"/><path d="M1484 2695L1512.5 2701.6L1501.4 2720.1L1472.8 2713.7z" fill="#ffe100" stroke="#ffe100"/><path d="M1512.5 2701.6L1541.1 2708.4L1530.2 2726.7L1501.4 2720.1z" fill="#ffe200" stroke="#ffe200"/><path d="M1541.1 2708.4L1569.8 2715.6L1559 2733.7L1530.2 2726.7z" fill="#ffe300" stroke="#ffe300"/><path d="M1569.8 2715.6L1598.7 2723.2L1587.9 2741L1559 2733.7z" fill="#ffe500" stroke="#ffe500"/><path d="M524.5 2674.4L548.4 2670.9L535.2 2698L511.2 2701.7z" fill="#10df00" stroke="#10df00"/><path d="M548.4 2670.9L572.6 2667.7L559.3 2694.6L535.2 2698z" fill="#1be100" stroke="#1be100"/><path d="M572.6 2667.7L596.8 2664.7L583.6 2691.3L559.3 2694.6z" fill="#36e500" stroke="#36e500"/><path d="M596.8 2664.7L621.2 2661.9L608 2688.3L583.6 2691.3z" fill="#51e800" stroke="#51e800"/><path d="M621.2 2661.9L645.8 2659.4L632.6 2685.6L608 2688.3z" fill="#6ceb00" stroke="#6ceb00"/><path d="M645.8 2659.4L670.5 2657.1L657.3 2683.1L632.6 2685.6z" fill="#85ee00" stroke="#85ee00"/><path d="M670.5 2657.1L695.3 2655.1L682.2 2680.9L657.3 2683.1z" fill="#9cf100" stroke="#9cf100"/><path d="M695.3 2655.1L720.3 2653.3L707.2 2678.9L682.2 2680.9z" fill="#b2f400" stroke="#b2f400"/><path d="M720.3 2653.3L745.4 2651.8L732.3 2677.1L707.2 2678.9z" fill="#c7f800" stroke="#c7f800"/><path d="M745.4 2651.8L770.7 2650.5L757.6 2675.6L732.3 2677.1z" fill="#dbfb00" stroke="#dbfb00"/><path d="M770.7 2650.5L796.1 2649.5L783.1 2674.4L757.6 2675.6z" fill="#ecfd00" stroke="#ecfd00"/><path d="M796.1 2649.5L821.6 2648.7L808.6 2673.4L783.1 2674.4z" fill="#f3fe00" stroke="#f3fe00"/><path d="M821.6 2648.7L847.3 2648.2L834.3 2672.7L808.6 2673.4z" fill="#f9fe00" stroke="#f9fe00"/><path d="M847.3 2648.2L873.1 2648L860.2 2672.3L834.3 2672.7z" fill="#ffff00" stroke="#ffff00"/><path d="M873.1 2648L899 2648.1L886.2 2672.1L860.2 2672.3z" fill="#fffc00" stroke="#fffc00"/><path d="M899 2648.1L925.1 2648.4L912.3 2672.2L886.2 2672.1z" fill="#fff800" stroke="#fff800"/><path d="M925.1 2648.4L951.3 2649L938.5 2672.5L912.3 2672.2z" fill="#fff500" stroke="#fff500"/><path d="M951.3 2649L977.6 2649.8L964.9 2673.2L938.5 2672.5z" fill="#fff300" stroke="#fff300"/><path d="M977.6 2649.8L1004.1 2650.9L991.4 2674.1L964.9 2673.2z" fill="#fff100" stroke="#fff100"/><path d="M1004.1 2650.9L1030.7 2652.3L1018.1 2675.2L991.4 2674.1z" fill="#ffef00" stroke="#ffef00"/><path d="M1030.7 2652.3L1057.4 2654L1044.9 2676.7L1018.1 2675.2z" fill="#ffed00" stroke="#ffed00"/><path d="M1057.4 2654L1084.2 2656L1071.8 2678.4L1044.9 2676.7z" fill="#ffeb00" stroke="#ffeb00"/><path d="M1084.2 2656L1111.2 2658.2L1098.8 2680.4L1071.8 2678.4z" fill="#ffea00" stroke="#ffea00"/><path d="M1111.2 2658.2L1138.3 2660.7L1126 2682.7L1098.8 2680.4z" fill="#ffe800" stroke="#ffe800"/><path d="M1138.3 2660.7L1165.5 2663.5L1153.3 2685.3L1126 2682.7z" fill="#ffe700" stroke="#ffe700"/><path d="M1165.5 2663.5L1192.9 2666.6L1180.7 2688.2L1153.3 2685.3z" fill="#ffe600" stroke="#ffe600"/><path d="M1192.9 2666.6L1220.4 2670L1208.3 2691.3L1180.7 2688.2z" fill="#ffe500" stroke="#ffe500"/><path d="M1220.4 2670L1248 2673.7L1235.9 2694.7L1208.3 2691.3z" fill="#ffe500" stroke="#ffe500"/><path d="M1248 2673.7L1275.7 2677.7L1263.7 2698.5L1235.9 2694.7z" fill="#ffe400" stroke="#ffe400"/><path d="M1275.7 2677.7L1303.5 2681.9L1291.6 2702.5L1263.7 2698.5z" fill="#ffe400" stroke="#ffe400"/><path d="M1303.5 2681.9L1331.4 2686.5L1319.7 2706.8L1291.6 2702.5z" fill="#ffe300" stroke="#ffe300"/><path d="M1331.4 2686.5L1359.5 2691.3L1347.8 2711.4L1319.7 2706.8z" fill="#ffe300" stroke="#ffe300"/><path d="M1359.5 2691.3L1387.7 2696.5L1376.1 2716.4L1347.8 2711.4z" fill="#ffe400" stroke="#ffe400"/><path d="M1387.7 2696.5L1415.9 2701.9L1404.5 2721.6L1376.1 2716.4z" fill="#ffe400" stroke="#ffe400"/><path d="M1415.9 2701.9L1444.3 2707.7L1432.9 2727.1L1404.5 2721.6z" fill="#ffe400" stroke="#ffe400"/><path d="M1444.3 2707.7L1472.8 2713.7L1461.5 2732.9L1432.9 2727.1z" fill="#ffe500" stroke="#ffe500"/><path d="M1472.8 2713.7L1501.4 2720.1L1490.3 2739L1461.5 2732.9z" fill="#ffe600" stroke="#ffe600"/><path d="M1501.4 2720.1L1530.2 2726.7L1519.1 2745.4L1490.3 2739z" fill="#ffe700" stroke="#ffe700"/><path d="M1530.2 2726.7L1559 2733.7L1548 2752.2L1519.1 2745.4z" fill="#ffe800" stroke="#ffe800"/><path d="M1559 2733.7L1587.9 2741L1577 2759.2L1548 2752.2z" fill="#ffe900" stroke="#ffe900"/><path d="M511.2 2701.7L535.2 2698L521.8 2725.5L497.8 2729.4z" fill="#00db00" stroke="#00db00"/><path d="M535.2 2698L559.3 2694.6L546 2721.9L521.8 2725.5z" fill="#03dd00" stroke="#03dd00"/><path d="M559.3 2694.6L583.6 2691.3L570.3 2718.4L546 2721.9z" fill="#0ddf00" stroke="#0ddf00"/><path d="M583.6 2691.3L608 2688.3L594.7 2715.2L570.3 2718.4z" fill="#16e000" stroke="#16e000"/><path d="M608 2688.3L632.6 2685.6L619.3 2712.3L594.7 2715.2z" fill="#2ce300" stroke="#2ce300"/><path d="M632.6 2685.6L657.3 2683.1L644.1 2709.6L619.3 2712.3z" fill="#46e600" stroke="#46e600"/><path d="M657.3 2683.1L682.2 2680.9L669 2707.1L644.1 2709.6z" fill="#5fe900" stroke="#5fe900"/><path d="M682.2 2680.9L707.2 2678.9L694 2704.9L669 2707.1z" fill="#77ec00" stroke="#77ec00"/><path d="M707.2 2678.9L732.3 2677.1L719.2 2703L694 2704.9z" fill="#8fef00" stroke="#8fef00"/><path d="M732.3 2677.1L757.6 2675.6L744.5 2701.2L719.2 2703z" fill="#a4f200" stroke="#a4f200"/><path d="M757.6 2675.6L783.1 2674.4L770 2699.8L744.5 2701.2z" fill="#b8f500" stroke="#b8f500"/><path d="M783.1 2674.4L808.6 2673.4L795.6 2698.6L770 2699.8z" fill="#cbf800" stroke="#cbf800"/><path d="M808.6 2673.4L834.3 2672.7L821.3 2697.7L795.6 2698.6z" fill="#defb00" stroke="#defb00"/><path d="M834.3 2672.7L860.2 2672.3L847.2 2697L821.3 2697.7z" fill="#ecfd00" stroke="#ecfd00"/><path d="M860.2 2672.3L886.2 2672.1L873.2 2696.6L847.2 2697z" fill="#f2fe00" stroke="#f2fe00"/><path d="M886.2 2672.1L912.3 2672.2L899.4 2696.5L873.2 2696.6z" fill="#f8fe00" stroke="#f8fe00"/><path d="M912.3 2672.2L938.5 2672.5L925.7 2696.6L899.4 2696.5z" fill="#fdff00" stroke="#fdff00"/><path d="M938.5 2672.5L964.9 2673.2L952.2 2697L925.7 2696.6z" fill="#fffd00" stroke="#fffd00"/><path d="M964.9 2673.2L991.4 2674.1L978.7 2697.7L952.2 2697z" fill="#fffa00" stroke="#fffa00"/><path d="M991.4 2674.1L1018.1 2675.2L1005.4 2698.6L978.7 2697.7z" fill="#fff700" stroke="#fff700"/><path d="M1018.1 2675.2L1044.9 2676.7L1032.3 2699.8L1005.4 2698.6z" fill="#fff500" stroke="#fff500"/><path d="M1044.9 2676.7L1071.8 2678.4L1059.3 2701.3L1032.3 2699.8z" fill="#fff300" stroke="#fff300"/><path d="M1071.8 2678.4L1098.8 2680.4L1086.4 2703.1L1059.3 2701.3z" fill="#fff100" stroke="#fff100"/><path d="M1098.8 2680.4L1126 2682.7L1113.6 2705.2L1086.4 2703.1z" fill="#fff000" stroke="#fff000"/><path d="M1126 2682.7L1153.3 2685.3L1141 2707.5L1113.6 2705.2z" fill="#ffee00" stroke="#ffee00"/><path d="M1153.3 2685.3L1180.7 2688.2L1168.5 2710.1L1141 2707.5z" fill="#ffed00" stroke="#ffed00"/><path d="M1180.7 2688.2L1208.3 2691.3L1196.1 2713.1L1168.5 2710.1z" fill="#ffec00" stroke="#ffec00"/><path d="M1208.3 2691.3L1235.9 2694.7L1223.8 2716.3L1196.1 2713.1z" fill="#ffeb00" stroke="#ffeb00"/><path d="M1235.9 2694.7L1263.7 2698.5L1251.7 2719.8L1223.8 2716.3z" fill="#ffeb00" stroke="#ffeb00"/><path d="M1263.7 2698.5L1291.6 2702.5L1279.7 2723.6L1251.7 2719.8z" fill="#ffea00" stroke="#ffea00"/><path d="M1291.6 2702.5L1319.7 2706.8L1307.8 2727.6L1279.7 2723.6z" fill="#ffea00" stroke="#ffea00"/><path d="M1319.7 2706.8L1347.8 2711.4L1336 2732L1307.8 2727.6z" fill="#ffea00" stroke="#ffea00"/><path d="M1347.8 2711.4L1376.1 2716.4L1364.4 2736.7L1336 2732z" fill="#ffea00" stroke="#ffea00"/><path d="M1376.1 2716.4L1404.5 2721.6L1392.9 2741.7L1364.4 2736.7z" fill="#ffea00" stroke="#ffea00"/><path d="M1404.5 2721.6L1432.9 2727.1L1421.5 2747L1392.9 2741.7z" fill="#ffea00" stroke="#ffea00"/><path d="M1432.9 2727.1L1461.5 2732.9L1450.2 2752.6L1421.5 2747z" fill="#ffea00" stroke="#ffea00"/><path d="M1461.5 2732.9L1490.3 2739L1479 2758.4L1450.2 2752.6z" fill="#ffeb00" stroke="#ffeb00"/><path d="M1490.3 2739L1519.1 2745.4L1507.9 2764.6L1479 2758.4z" fill="#ffec00" stroke="#ffec00"/><path d="M1519.1 2745.4L1548 2752.2L1536.9 2771.1L1507.9 2764.6z" fill="#ffed00" stroke="#ffed00"/><path d="M1548 2752.2L1577 2759.2L1566.1 2777.9L1536.9 2771.1z" fill="#ffee00" stroke="#ffee00"/><path d="M497.8 2729.4L521.8 2725.5L508.4 2753.5L484.4 2757.6z" fill="#00d700" stroke="#00d700"/><path d="M521.8 2725.5L546 2721.9L532.6 2749.6L508.4 2753.5z" fill="#00d900" stroke="#00d900"/><path d="M546 2721.9L570.3 2718.4L556.9 2746L532.6 2749.6z" fill="#00da00" stroke="#00da00"/><path d="M570.3 2718.4L594.7 2715.2L581.4 2742.6L556.9 2746z" fill="#00dc00" stroke="#00dc00"/><path d="M594.7 2715.2L619.3 2712.3L606 2739.4L581.4 2742.6z" fill="#0ade00" stroke="#0ade00"/><path d="M619.3 2712.3L644.1 2709.6L630.8 2736.5L606 2739.4z" fill="#13e000" stroke="#13e000"/><path d="M644.1 2709.6L669 2707.1L655.7 2733.8L630.8 2736.5z" fill="#20e200" stroke="#20e200"/><path d="M669 2707.1L694 2704.9L680.8 2731.4L655.7 2733.8z" fill="#3ae500" stroke="#3ae500"/><path d="M694 2704.9L719.2 2703L706 2729.2L680.8 2731.4z" fill="#52e800" stroke="#52e800"/><path d="M719.2 2703L744.5 2701.2L731.3 2727.3L706 2729.2z" fill="#69eb00" stroke="#69eb00"/><path d="M744.5 2701.2L770 2699.8L756.8 2725.6L731.3 2727.3z" fill="#7fed00" stroke="#7fed00"/><path d="M770 2699.8L795.6 2698.6L782.5 2724.2L756.8 2725.6z" fill="#95f000" stroke="#95f000"/><path d="M795.6 2698.6L821.3 2697.7L808.3 2723.1L782.5 2724.2z" fill="#a8f300" stroke="#a8f300"/><path d="M821.3 2697.7L847.2 2697L834.2 2722.2L808.3 2723.1z" fill="#bbf600" stroke="#bbf600"/><path d="M847.2 2697L873.2 2696.6L860.3 2721.6L834.2 2722.2z" fill="#ccf800" stroke="#ccf800"/><path d="M873.2 2696.6L899.4 2696.5L886.5 2721.2L860.3 2721.6z" fill="#ddfb00" stroke="#ddfb00"/><path d="M899.4 2696.5L925.7 2696.6L912.8 2721.1L886.5 2721.2z" fill="#ebfd00" stroke="#ebfd00"/><path d="M925.7 2696.6L952.2 2697L939.3 2721.3L912.8 2721.1z" fill="#f1fe00" stroke="#f1fe00"/><path d="M952.2 2697L978.7 2697.7L965.9 2721.7L939.3 2721.3z" fill="#f6fe00" stroke="#f6fe00"/><path d="M978.7 2697.7L1005.4 2698.6L992.7 2722.4L965.9 2721.7z" fill="#faff00" stroke="#faff00"/><path d="M1005.4 2698.6L1032.3 2699.8L1019.6 2723.4L992.7 2722.4z" fill="#feff00" stroke="#feff00"/><path d="M1032.3 2699.8L1059.3 2701.3L1046.6 2724.7L1019.6 2723.4z" fill="#fffd00" stroke="#fffd00"/><path d="M1059.3 2701.3L1086.4 2703.1L1073.8 2726.2L1046.6 2724.7z" fill="#fffa00" stroke="#fffa00"/><path d="M1086.4 2703.1L1113.6 2705.2L1101.1 2728.1L1073.8 2726.2z" fill="#fff800" stroke="#fff800"/><path d="M1113.6 2705.2L1141 2707.5L1128.5 2730.2L1101.1 2728.1z" fill="#fff600" stroke="#fff600"/><path d="M1141 2707.5L1168.5 2710.1L1156.1 2732.6L1128.5 2730.2z" fill="#fff500" stroke="#fff500"/><path d="M1168.5 2710.1L1196.1 2713.1L1183.8 2735.3L1156.1 2732.6z" fill="#fff400" stroke="#fff400"/><path d="M1196.1 2713.1L1223.8 2716.3L1211.6 2738.3L1183.8 2735.3z" fill="#fff200" stroke="#fff200"/><path d="M1223.8 2716.3L1251.7 2719.8L1239.6 2741.5L1211.6 2738.3z" fill="#fff200" stroke="#fff200"/><path d="M1251.7 2719.8L1279.7 2723.6L1267.7 2745.1L1239.6 2741.5z" fill="#fff100" stroke="#fff100"/><path d="M1279.7 2723.6L1307.8 2727.6L1295.9 2748.9L1267.7 2745.1z" fill="#fff000" stroke="#fff000"/><path d="M1307.8 2727.6L1336 2732L1324.2 2753.1L1295.9 2748.9z" fill="#fff000" stroke="#fff000"/><path d="M1336 2732L1364.4 2736.7L1352.6 2757.5L1324.2 2753.1z" fill="#fff000" stroke="#fff000"/><path d="M1364.4 2736.7L1392.9 2741.7L1381.2 2762.3L1352.6 2757.5z" fill="#fff000" stroke="#fff000"/><path d="M1392.9 2741.7L1421.5 2747L1409.9 2767.3L1381.2 2762.3z" fill="#fff000" stroke="#fff000"/><path d="M1421.5 2747L1450.2 2752.6L1438.7 2772.7L1409.9 2767.3z" fill="#fff000" stroke="#fff000"/><path d="M1450.2 2752.6L1479 2758.4L1467.6 2778.3L1438.7 2772.7z" fill="#fff100" stroke="#fff100"/><path d="M1479 2758.4L1507.9 2764.6L1496.6 2784.3L1467.6 2778.3z" fill="#fff100" stroke="#fff100"/><path d="M1507.9 2764.6L1536.9 2771.1L1525.7 2790.6L1496.6 2784.3z" fill="#fff200" stroke="#fff200"/><path d="M1536.9 2771.1L1566.1 2777.9L1555 2797.1L1525.7 2790.6z" fill="#fff300" stroke="#fff300"/><path d="M484.4 2757.6L508.4 2753.5L495 2781.9L471 2786.2z" fill="#00d100" stroke="#00d100"/><path d="M508.4 2753.5L532.6 2749.6L519.2 2777.8L495 2781.9z" fill="#00d500" stroke="#00d500"/><path d="M532.6 2749.6L556.9 2746L543.5 2774L519.2 2777.8z" fill="#00d700" stroke="#00d700"/><path d="M556.9 2746L581.4 2742.6L568 2770.4L543.5 2774z" fill="#00d800" stroke="#00d800"/><path d="M581.4 2742.6L606 2739.4L592.6 2767L568 2770.4z" fill="#00da00" stroke="#00da00"/><path d="M606 2739.4L630.8 2736.5L617.4 2763.9L592.6 2767z" fill="#00dc00" stroke="#00dc00"/><path d="M630.8 2736.5L655.7 2733.8L642.4 2761L617.4 2763.9z" fill="#06dd00" stroke="#06dd00"/><path d="M655.7 2733.8L680.8 2731.4L667.5 2758.3L642.4 2761z" fill="#0fdf00" stroke="#0fdf00"/><path d="M680.8 2731.4L706 2729.2L692.7 2755.9L667.5 2758.3z" fill="#17e100" stroke="#17e100"/><path d="M706 2729.2L731.3 2727.3L718.1 2753.8L692.7 2755.9z" fill="#2ce300" stroke="#2ce300"/><path d="M731.3 2727.3L756.8 2725.6L743.6 2751.9L718.1 2753.8z" fill="#44e600" stroke="#44e600"/><path d="M756.8 2725.6L782.5 2724.2L769.3 2750.3L743.6 2751.9z" fill="#5ae900" stroke="#5ae900"/><path d="M782.5 2724.2L808.3 2723.1L795.1 2748.9L769.3 2750.3z" fill="#70eb00" stroke="#70eb00"/><path d="M808.3 2723.1L834.2 2722.2L821.1 2747.8L795.1 2748.9z" fill="#84ee00" stroke="#84ee00"/><path d="M834.2 2722.2L860.3 2721.6L847.2 2747L821.1 2747.8z" fill="#98f000" stroke="#98f000"/><path d="M860.3 2721.6L886.5 2721.2L873.4 2746.4L847.2 2747z" fill="#a9f300" stroke="#a9f300"/><path d="M886.5 2721.2L912.8 2721.1L899.8 2746.1L873.4 2746.4z" fill="#baf500" stroke="#baf500"/><path d="M912.8 2721.1L939.3 2721.3L926.4 2746L899.8 2746.1z" fill="#c9f800" stroke="#c9f800"/><path d="M939.3 2721.3L965.9 2721.7L953.1 2746.2L926.4 2746z" fill="#d8fa00" stroke="#d8fa00"/><path d="M965.9 2721.7L992.7 2722.4L979.9 2746.7L953.1 2746.2z" fill="#e6fc00" stroke="#e6fc00"/><path d="M992.7 2722.4L1019.6 2723.4L1006.8 2747.5L979.9 2746.7z" fill="#eefd00" stroke="#eefd00"/><path d="M1019.6 2723.4L1046.6 2724.7L1033.9 2748.5L1006.8 2747.5z" fill="#f2fe00" stroke="#f2fe00"/><path d="M1046.6 2724.7L1073.8 2726.2L1061.2 2749.9L1033.9 2748.5z" fill="#f6fe00" stroke="#f6fe00"/><path d="M1073.8 2726.2L1101.1 2728.1L1088.5 2751.5L1061.2 2749.9z" fill="#fafe00" stroke="#fafe00"/><path d="M1101.1 2728.1L1128.5 2730.2L1116 2753.3L1088.5 2751.5z" fill="#fdff00" stroke="#fdff00"/><path d="M1128.5 2730.2L1156.1 2732.6L1143.7 2755.5L1116 2753.3z" fill="#fffe00" stroke="#fffe00"/><path d="M1156.1 2732.6L1183.8 2735.3L1171.4 2758L1143.7 2755.5z" fill="#fffc00" stroke="#fffc00"/><path d="M1183.8 2735.3L1211.6 2738.3L1199.3 2760.7L1171.4 2758z" fill="#fffb00" stroke="#fffb00"/><path d="M1211.6 2738.3L1239.6 2741.5L1227.4 2763.8L1199.3 2760.7z" fill="#fffa00" stroke="#fffa00"/><path d="M1239.6 2741.5L1267.7 2745.1L1255.5 2767.1L1227.4 2763.8z" fill="#fff800" stroke="#fff800"/><path d="M1267.7 2745.1L1295.9 2748.9L1283.8 2770.7L1255.5 2767.1z" fill="#fff700" stroke="#fff700"/><path d="M1295.9 2748.9L1324.2 2753.1L1312.2 2774.6L1283.8 2770.7z" fill="#fff700" stroke="#fff700"/><path d="M1324.2 2753.1L1352.6 2757.5L1340.7 2778.8L1312.2 2774.6z" fill="#fff600" stroke="#fff600"/><path d="M1352.6 2757.5L1381.2 2762.3L1369.4 2783.3L1340.7 2778.8z" fill="#fff600" stroke="#fff600"/><path d="M1381.2 2762.3L1409.9 2767.3L1398.2 2788.2L1369.4 2783.3z" fill="#fff600" stroke="#fff600"/><path d="M1409.9 2767.3L1438.7 2772.7L1427.1 2793.3L1398.2 2788.2z" fill="#fff600" stroke="#fff600"/><path d="M1438.7 2772.7L1467.6 2778.3L1456.1 2798.7L1427.1 2793.3z" fill="#fff600" stroke="#fff600"/><path d="M1467.6 2778.3L1496.6 2784.3L1485.2 2804.4L1456.1 2798.7z" fill="#fff700" stroke="#fff700"/><path d="M1496.6 2784.3L1525.7 2790.6L1514.5 2810.5L1485.2 2804.4z" fill="#fff800" stroke="#fff800"/><path d="M1525.7 2790.6L1555 2797.1L1543.8 2816.8L1514.5 2810.5z" fill="#fff900" stroke="#fff900"/><path d="M471 2786.2L495 2781.9L481.5 2810.7L457.5 2815.3z" fill="#00c104" stroke="#00c104"/><path d="M495 2781.9L519.2 2777.8L505.7 2806.4L481.5 2810.7z" fill="#00cd00" stroke="#00cd00"/><path d="M519.2 2777.8L543.5 2774L530 2802.4L505.7 2806.4z" fill="#00d100" stroke="#00d100"/><path d="M543.5 2774L568 2770.4L554.5 2798.6L530 2802.4z" fill="#00d400" stroke="#00d400"/><path d="M568 2770.4L592.6 2767L579.2 2795L554.5 2798.6z" fill="#00d600" stroke="#00d600"/><path d="M592.6 2767L617.4 2763.9L604 2791.7L579.2 2795z" fill="#00d800" stroke="#00d800"/><path d="M617.4 2763.9L642.4 2761L629 2788.6L604 2791.7z" fill="#00d900" stroke="#00d900"/><path d="M642.4 2761L667.5 2758.3L654.1 2785.7L629 2788.6z" fill="#00db00" stroke="#00db00"/><path d="M667.5 2758.3L692.7 2755.9L679.3 2783.1L654.1 2785.7z" fill="#02dc00" stroke="#02dc00"/><path d="M692.7 2755.9L718.1 2753.8L704.7 2780.8L679.3 2783.1z" fill="#0bde00" stroke="#0bde00"/><path d="M718.1 2753.8L743.6 2751.9L730.3 2778.7L704.7 2780.8z" fill="#13e000" stroke="#13e000"/><path d="M743.6 2751.9L769.3 2750.3L756 2776.8L730.3 2778.7z" fill="#1ee200" stroke="#1ee200"/><path d="M769.3 2750.3L795.1 2748.9L781.9 2775.2L756 2776.8z" fill="#35e400" stroke="#35e400"/><path d="M795.1 2748.9L821.1 2747.8L807.9 2773.9L781.9 2775.2z" fill="#4ae700" stroke="#4ae700"/><path d="M821.1 2747.8L847.2 2747L834 2772.8L807.9 2773.9z" fill="#5fe900" stroke="#5fe900"/><path d="M847.2 2747L873.4 2746.4L860.3 2772L834 2772.8z" fill="#73ec00" stroke="#73ec00"/><path d="M873.4 2746.4L899.8 2746.1L886.8 2771.5L860.3 2772z" fill="#85ee00" stroke="#85ee00"/><path d="M899.8 2746.1L926.4 2746L913.4 2771.2L886.8 2771.5z" fill="#97f000" stroke="#97f000"/><path d="M926.4 2746L953.1 2746.2L940.1 2771.2L913.4 2771.2z" fill="#a7f300" stroke="#a7f300"/><path d="M953.1 2746.2L979.9 2746.7L967 2771.5L940.1 2771.2z" fill="#b5f500" stroke="#b5f500"/><path d="M979.9 2746.7L1006.8 2747.5L994 2772L967 2771.5z" fill="#c3f700" stroke="#c3f700"/><path d="M1006.8 2747.5L1033.9 2748.5L1021.1 2772.8L994 2772z" fill="#d0f900" stroke="#d0f900"/><path d="M1033.9 2748.5L1061.2 2749.9L1048.4 2773.9L1021.1 2772.8z" fill="#ddfb00" stroke="#ddfb00"/><path d="M1061.2 2749.9L1088.5 2751.5L1075.9 2775.3L1048.4 2773.9z" fill="#e8fd00" stroke="#e8fd00"/><path d="M1088.5 2751.5L1116 2753.3L1103.4 2777L1075.9 2775.3z" fill="#eefd00" stroke="#eefd00"/><path d="M1116 2753.3L1143.7 2755.5L1131.1 2778.9L1103.4 2777z" fill="#f1fe00" stroke="#f1fe00"/><path d="M1143.7 2755.5L1171.4 2758L1159 2781.1L1131.1 2778.9z" fill="#f4fe00" stroke="#f4fe00"/><path d="M1171.4 2758L1199.3 2760.7L1186.9 2783.6L1159 2781.1z" fill="#f7fe00" stroke="#f7fe00"/><path d="M1199.3 2760.7L1227.4 2763.8L1215 2786.5L1186.9 2783.6z" fill="#f9fe00" stroke="#f9fe00"/><path d="M1227.4 2763.8L1255.5 2767.1L1243.3 2789.5L1215 2786.5z" fill="#fbff00" stroke="#fbff00"/><path d="M1255.5 2767.1L1283.8 2770.7L1271.6 2792.9L1243.3 2789.5z" fill="#fdff00" stroke="#fdff00"/><path d="M1283.8 2770.7L1312.2 2774.6L1300.1 2796.6L1271.6 2792.9z" fill="#feff00" stroke="#feff00"/><path d="M1312.2 2774.6L1340.7 2778.8L1328.8 2800.6L1300.1 2796.6z" fill="#ffff00" stroke="#ffff00"/><path d="M1340.7 2778.8L1369.4 2783.3L1357.5 2804.9L1328.8 2800.6z" fill="#fffe00" stroke="#fffe00"/><path d="M1369.4 2783.3L1398.2 2788.2L1386.4 2809.5L1357.5 2804.9z" fill="#fffe00" stroke="#fffe00"/><path d="M1398.2 2788.2L1427.1 2793.3L1415.4 2814.4L1386.4 2809.5z" fill="#fffe00" stroke="#fffe00"/><path d="M1427.1 2793.3L1456.1 2798.7L1444.5 2819.5L1415.4 2814.4z" fill="#fffe00" stroke="#fffe00"/><path d="M1456.1 2798.7L1485.2 2804.4L1473.7 2825L1444.5 2819.5z" fill="#fffe00" stroke="#fffe00"/><path d="M1485.2 2804.4L1514.5 2810.5L1503.1 2830.8L1473.7 2825z" fill="#ffff00" stroke="#ffff00"/><path d="M1514.5 2810.5L1543.8 2816.8L1532.5 2836.9L1503.1 2830.8z" fill="#feff00" stroke="#feff00"/><path d="M457.5 2815.3L481.5 2810.7L467.9 2840L443.9 2844.7z" fill="#00b019" stroke="#00b019"/><path d="M481.5 2810.7L505.7 2806.4L492.1 2835.5L467.9 2840z" fill="#00b60d" stroke="#00b60d"/><path d="M505.7 2806.4L530 2802.4L516.5 2831.3L492.1 2835.5z" fill="#00bf05" stroke="#00bf05"/><path d="M530 2802.4L554.5 2798.6L541 2827.2L516.5 2831.3z" fill="#00cc00" stroke="#00cc00"/><path d="M554.5 2798.6L579.2 2795L565.7 2823.5L541 2827.2z" fill="#00d000" stroke="#00d000"/><path d="M579.2 2795L604 2791.7L590.5 2819.9L565.7 2823.5z" fill="#00d300" stroke="#00d300"/><path d="M604 2791.7L629 2788.6L615.5 2816.6L590.5 2819.9z" fill="#00d600" stroke="#00d600"/><path d="M629 2788.6L654.1 2785.7L640.6 2813.6L615.5 2816.6z" fill="#00d700" stroke="#00d700"/><path d="M654.1 2785.7L679.3 2783.1L665.9 2810.7L640.6 2813.6z" fill="#00d900" stroke="#00d900"/><path d="M679.3 2783.1L704.7 2780.8L691.3 2808.2L665.9 2810.7z" fill="#00da00" stroke="#00da00"/><path d="M704.7 2780.8L730.3 2778.7L716.9 2805.9L691.3 2808.2z" fill="#00dc00" stroke="#00dc00"/><path d="M730.3 2778.7L756 2776.8L742.7 2803.8L716.9 2805.9z" fill="#07dd00" stroke="#07dd00"/><path d="M756 2776.8L781.9 2775.2L768.6 2802L742.7 2803.8z" fill="#0edf00" stroke="#0edf00"/><path d="M781.9 2775.2L807.9 2773.9L794.6 2800.4L768.6 2802z" fill="#16e000" stroke="#16e000"/><path d="M807.9 2773.9L834 2772.8L820.8 2799.2L794.6 2800.4z" fill="#25e200" stroke="#25e200"/><path d="M834 2772.8L860.3 2772L847.1 2798.1L820.8 2799.2z" fill="#3ae500" stroke="#3ae500"/><path d="M860.3 2772L886.8 2771.5L873.6 2797.4L847.1 2798.1z" fill="#4de700" stroke="#4de700"/><path d="M886.8 2771.5L913.4 2771.2L900.3 2796.9L873.6 2797.4z" fill="#60ea00" stroke="#60ea00"/><path d="M913.4 2771.2L940.1 2771.2L927.1 2796.7L900.3 2796.9z" fill="#72ec00" stroke="#72ec00"/><path d="M940.1 2771.2L967 2771.5L954 2796.7L927.1 2796.7z" fill="#83ee00" stroke="#83ee00"/><path d="M967 2771.5L994 2772L981 2797L954 2796.7z" fill="#92f000" stroke="#92f000"/><path d="M994 2772L1021.1 2772.8L1008.3 2797.6L981 2797z" fill="#a1f200" stroke="#a1f200"/><path d="M1021.1 2772.8L1048.4 2773.9L1035.6 2798.5L1008.3 2797.6z" fill="#aef400" stroke="#aef400"/><path d="M1048.4 2773.9L1075.9 2775.3L1063.1 2799.6L1035.6 2798.5z" fill="#baf600" stroke="#baf600"/><path d="M1075.9 2775.3L1103.4 2777L1090.7 2801.1L1063.1 2799.6z" fill="#c5f700" stroke="#c5f700"/><path d="M1103.4 2777L1131.1 2778.9L1118.5 2802.8L1090.7 2801.1z" fill="#d0f900" stroke="#d0f900"/><path d="M1131.1 2778.9L1159 2781.1L1146.4 2804.8L1118.5 2802.8z" fill="#d9fa00" stroke="#d9fa00"/><path d="M1159 2781.1L1186.9 2783.6L1174.5 2807.1L1146.4 2804.8z" fill="#e2fc00" stroke="#e2fc00"/><path d="M1186.9 2783.6L1215 2786.5L1202.6 2809.6L1174.5 2807.1z" fill="#eafd00" stroke="#eafd00"/><path d="M1215 2786.5L1243.3 2789.5L1231 2812.5L1202.6 2809.6z" fill="#edfd00" stroke="#edfd00"/><path d="M1243.3 2789.5L1271.6 2792.9L1259.4 2815.7L1231 2812.5z" fill="#effd00" stroke="#effd00"/><path d="M1271.6 2792.9L1300.1 2796.6L1288 2819.1L1259.4 2815.7z" fill="#f1fe00" stroke="#f1fe00"/><path d="M1300.1 2796.6L1328.8 2800.6L1316.7 2822.9L1288 2819.1z" fill="#f2fe00" stroke="#f2fe00"/><path d="M1328.8 2800.6L1357.5 2804.9L1345.5 2826.9L1316.7 2822.9z" fill="#f3fe00" stroke="#f3fe00"/><path d="M1357.5 2804.9L1386.4 2809.5L1374.5 2831.3L1345.5 2826.9z" fill="#f4fe00" stroke="#f4fe00"/><path d="M1386.4 2809.5L1415.4 2814.4L1403.6 2835.9L1374.5 2831.3z" fill="#f5fe00" stroke="#f5fe00"/><path d="M1415.4 2814.4L1444.5 2819.5L1432.8 2840.9L1403.6 2835.9z" fill="#f5fe00" stroke="#f5fe00"/><path d="M1444.5 2819.5L1473.7 2825L1462.1 2846.1L1432.8 2840.9z" fill="#f5fe00" stroke="#f5fe00"/><path d="M1473.7 2825L1503.1 2830.8L1491.6 2851.7L1462.1 2846.1z" fill="#f4fe00" stroke="#f4fe00"/><path d="M1503.1 2830.8L1532.5 2836.9L1521.1 2857.6L1491.6 2851.7z" fill="#f3fe00" stroke="#f3fe00"/><path d="M443.9 2844.7L467.9 2840L454.3 2869.7L430.3 2874.7z" fill="#00a530" stroke="#00a530"/><path d="M467.9 2840L492.1 2835.5L478.5 2865L454.3 2869.7z" fill="#00aa27" stroke="#00aa27"/><path d="M492.1 2835.5L516.5 2831.3L502.9 2860.6L478.5 2865z" fill="#00af1a" stroke="#00af1a"/><path d="M516.5 2831.3L541 2827.2L527.4 2856.4L502.9 2860.6z" fill="#00b50e" stroke="#00b50e"/><path d="M541 2827.2L565.7 2823.5L552.1 2852.4L527.4 2856.4z" fill="#00bd06" stroke="#00bd06"/><path d="M565.7 2823.5L590.5 2819.9L577 2848.6L552.1 2852.4z" fill="#00c901" stroke="#00c901"/><path d="M590.5 2819.9L615.5 2816.6L602 2845.1L577 2848.6z" fill="#00cf00" stroke="#00cf00"/><path d="M615.5 2816.6L640.6 2813.6L627.1 2841.8L602 2845.1z" fill="#00d200" stroke="#00d200"/><path d="M640.6 2813.6L665.9 2810.7L652.4 2838.8L627.1 2841.8z" fill="#00d500" stroke="#00d500"/><path d="M665.9 2810.7L691.3 2808.2L677.9 2836L652.4 2838.8z" fill="#00d700" stroke="#00d700"/><path d="M691.3 2808.2L716.9 2805.9L703.5 2833.5L677.9 2836z" fill="#00d800" stroke="#00d800"/><path d="M716.9 2805.9L742.7 2803.8L729.3 2831.2L703.5 2833.5z" fill="#00da00" stroke="#00da00"/><path d="M742.7 2803.8L768.6 2802L755.2 2829.2L729.3 2831.2z" fill="#00db00" stroke="#00db00"/><path d="M768.6 2802L794.6 2800.4L781.3 2827.5L755.2 2829.2z" fill="#02dc00" stroke="#02dc00"/><path d="M794.6 2800.4L820.8 2799.2L807.5 2826L781.3 2827.5z" fill="#09de00" stroke="#09de00"/><path d="M820.8 2799.2L847.1 2798.1L833.9 2824.7L807.5 2826z" fill="#11df00" stroke="#11df00"/><path d="M847.1 2798.1L873.6 2797.4L860.4 2823.7L833.9 2824.7z" fill="#18e100" stroke="#18e100"/><path d="M873.6 2797.4L900.3 2796.9L887.1 2823L860.4 2823.7z" fill="#28e300" stroke="#28e300"/><path d="M900.3 2796.9L927.1 2796.7L913.9 2822.6L887.1 2823z" fill="#3be500" stroke="#3be500"/><path d="M927.1 2796.7L954 2796.7L940.9 2822.4L913.9 2822.6z" fill="#4de700" stroke="#4de700"/><path d="M954 2796.7L981 2797L968 2822.5L940.9 2822.4z" fill="#5ee900" stroke="#5ee900"/><path d="M981 2797L1008.3 2797.6L995.3 2822.9L968 2822.5z" fill="#6eeb00" stroke="#6eeb00"/><path d="M1008.3 2797.6L1035.6 2798.5L1022.7 2823.5L995.3 2822.9z" fill="#7ded00" stroke="#7ded00"/><path d="M1035.6 2798.5L1063.1 2799.6L1050.3 2824.4L1022.7 2823.5z" fill="#8bef00" stroke="#8bef00"/><path d="M1063.1 2799.6L1090.7 2801.1L1078 2825.6L1050.3 2824.4z" fill="#97f000" stroke="#97f000"/><path d="M1090.7 2801.1L1118.5 2802.8L1105.8 2827.1L1078 2825.6z" fill="#a3f200" stroke="#a3f200"/><path d="M1118.5 2802.8L1146.4 2804.8L1133.8 2828.9L1105.8 2827.1z" fill="#adf400" stroke="#adf400"/><path d="M1146.4 2804.8L1174.5 2807.1L1161.9 2830.9L1133.8 2828.9z" fill="#b7f500" stroke="#b7f500"/><path d="M1174.5 2807.1L1202.6 2809.6L1190.1 2833.3L1161.9 2830.9z" fill="#c0f600" stroke="#c0f600"/><path d="M1202.6 2809.6L1231 2812.5L1218.5 2835.9L1190.1 2833.3z" fill="#c7f800" stroke="#c7f800"/><path d="M1231 2812.5L1259.4 2815.7L1247.1 2838.8L1218.5 2835.9z" fill="#cef900" stroke="#cef900"/><path d="M1259.4 2815.7L1288 2819.1L1275.7 2842.1L1247.1 2838.8z" fill="#d4f900" stroke="#d4f900"/><path d="M1288 2819.1L1316.7 2822.9L1304.5 2845.6L1275.7 2842.1z" fill="#d9fa00" stroke="#d9fa00"/><path d="M1316.7 2822.9L1345.5 2826.9L1333.4 2849.4L1304.5 2845.6z" fill="#ddfb00" stroke="#ddfb00"/><path d="M1345.5 2826.9L1374.5 2831.3L1362.5 2853.5L1333.4 2849.4z" fill="#e0fb00" stroke="#e0fb00"/><path d="M1374.5 2831.3L1403.6 2835.9L1391.7 2857.9L1362.5 2853.5z" fill="#e3fc00" stroke="#e3fc00"/><path d="M1403.6 2835.9L1432.8 2840.9L1421 2862.7L1391.7 2857.9z" fill="#e4fc00" stroke="#e4fc00"/><path d="M1432.8 2840.9L1462.1 2846.1L1450.4 2867.7L1421 2862.7z" fill="#e5fc00" stroke="#e5fc00"/><path d="M1462.1 2846.1L1491.6 2851.7L1480 2873L1450.4 2867.7z" fill="#e4fc00" stroke="#e4fc00"/><path d="M1491.6 2851.7L1521.1 2857.6L1509.6 2878.7L1480 2873z" fill="#e3fc00" stroke="#e3fc00"/><path d="M430.3 2874.7L454.3 2869.7L440.6 2899.9L416.6 2905z" fill="#009b42" stroke="#009b42"/><path d="M454.3 2869.7L478.5 2865L464.9 2895L440.6 2899.9z" fill="#00a03a" stroke="#00a03a"/><path d="M478.5 2865L502.9 2860.6L489.2 2890.4L464.9 2895z" fill="#00a431" stroke="#00a431"/><path d="M502.9 2860.6L527.4 2856.4L513.8 2885.9L489.2 2890.4z" fill="#00a928" stroke="#00a928"/><path d="M527.4 2856.4L552.1 2852.4L538.5 2881.7L513.8 2885.9z" fill="#00ae1c" stroke="#00ae1c"/><path d="M552.1 2852.4L577 2848.6L563.3 2877.8L538.5 2881.7z" fill="#00b310" stroke="#00b310"/><path d="M577 2848.6L602 2845.1L588.4 2874.1L563.3 2877.8z" fill="#00bb08" stroke="#00bb08"/><path d="M602 2845.1L627.1 2841.8L613.5 2870.6L588.4 2874.1z" fill="#00c602" stroke="#00c602"/><path d="M627.1 2841.8L652.4 2838.8L638.9 2867.4L613.5 2870.6z" fill="#00ce00" stroke="#00ce00"/><path d="M652.4 2838.8L677.9 2836L664.4 2864.4L638.9 2867.4z" fill="#00d100" stroke="#00d100"/><path d="M677.9 2836L703.5 2833.5L690 2861.6L664.4 2864.4z" fill="#00d400" stroke="#00d400"/><path d="M703.5 2833.5L729.3 2831.2L715.8 2859.2L690 2861.6z" fill="#00d600" stroke="#00d600"/><path d="M729.3 2831.2L755.2 2829.2L741.8 2856.9L715.8 2859.2z" fill="#00d800" stroke="#00d800"/><path d="M755.2 2829.2L781.3 2827.5L767.9 2854.9L741.8 2856.9z" fill="#00d900" stroke="#00d900"/><path d="M781.3 2827.5L807.5 2826L794.1 2853.2L767.9 2854.9z" fill="#00da00" stroke="#00da00"/><path d="M807.5 2826L833.9 2824.7L820.6 2851.8L794.1 2853.2z" fill="#00dc00" stroke="#00dc00"/><path d="M833.9 2824.7L860.4 2823.7L847.1 2850.6L820.6 2851.8z" fill="#04dd00" stroke="#04dd00"/><path d="M860.4 2823.7L887.1 2823L873.8 2849.6L847.1 2850.6z" fill="#0bde00" stroke="#0bde00"/><path d="M887.1 2823L913.9 2822.6L900.7 2849L873.8 2849.6z" fill="#12e000" stroke="#12e000"/><path d="M913.9 2822.6L940.9 2822.4L927.7 2848.6L900.7 2849z" fill="#18e100" stroke="#18e100"/><path d="M940.9 2822.4L968 2822.5L954.9 2848.4L927.7 2848.6z" fill="#28e300" stroke="#28e300"/><path d="M968 2822.5L995.3 2822.9L982.2 2848.6L954.9 2848.4z" fill="#39e500" stroke="#39e500"/><path d="M995.3 2822.9L1022.7 2823.5L1009.7 2849L982.2 2848.6z" fill="#49e700" stroke="#49e700"/><path d="M1022.7 2823.5L1050.3 2824.4L1037.3 2849.7L1009.7 2849z" fill="#58e900" stroke="#58e900"/><path d="M1050.3 2824.4L1078 2825.6L1065.1 2850.7L1037.3 2849.7z" fill="#66ea00" stroke="#66ea00"/><path d="M1078 2825.6L1105.8 2827.1L1093 2851.9L1065.1 2850.7z" fill="#73ec00" stroke="#73ec00"/><path d="M1105.8 2827.1L1133.8 2828.9L1121 2853.5L1093 2851.9z" fill="#7fed00" stroke="#7fed00"/><path d="M1133.8 2828.9L1161.9 2830.9L1149.2 2855.3L1121 2853.5z" fill="#8aef00" stroke="#8aef00"/><path d="M1161.9 2830.9L1190.1 2833.3L1177.5 2857.4L1149.2 2855.3z" fill="#94f000" stroke="#94f000"/><path d="M1190.1 2833.3L1218.5 2835.9L1206 2859.8L1177.5 2857.4z" fill="#9df100" stroke="#9df100"/><path d="M1218.5 2835.9L1247.1 2838.8L1234.6 2862.5L1206 2859.8z" fill="#a5f200" stroke="#a5f200"/><path d="M1247.1 2838.8L1275.7 2842.1L1263.4 2865.5L1234.6 2862.5z" fill="#acf300" stroke="#acf300"/><path d="M1275.7 2842.1L1304.5 2845.6L1292.2 2868.8L1263.4 2865.5z" fill="#b2f400" stroke="#b2f400"/><path d="M1304.5 2845.6L1333.4 2849.4L1321.2 2872.4L1292.2 2868.8z" fill="#b7f500" stroke="#b7f500"/><path d="M1333.4 2849.4L1362.5 2853.5L1350.4 2876.3L1321.2 2872.4z" fill="#bbf600" stroke="#bbf600"/><path d="M1362.5 2853.5L1391.7 2857.9L1379.7 2880.5L1350.4 2876.3z" fill="#bff600" stroke="#bff600"/><path d="M1391.7 2857.9L1421 2862.7L1409.1 2885L1379.7 2880.5z" fill="#c1f700" stroke="#c1f700"/><path d="M1421 2862.7L1450.4 2867.7L1438.6 2889.8L1409.1 2885z" fill="#c2f700" stroke="#c2f700"/><path d="M1450.4 2867.7L1480 2873L1468.3 2894.9L1438.6 2889.8z" fill="#c3f700" stroke="#c3f700"/><path d="M1480 2873L1509.6 2878.7L1498 2900.3L1468.3 2894.9z" fill="#c3f700" stroke="#c3f700"/><path d="M416.6 2905L440.6 2899.9L426.9 2930.5L402.9 2935.8z" fill="#008e5b" stroke="#008e5b"/><path d="M440.6 2899.9L464.9 2895L451.1 2925.4L426.9 2930.5z" fill="#00964c" stroke="#00964c"/><path d="M464.9 2895L489.2 2890.4L475.5 2920.6L451.1 2925.4z" fill="#009b43" stroke="#009b43"/><path d="M489.2 2890.4L513.8 2885.9L500.1 2915.9L475.5 2920.6z" fill="#009f3a" stroke="#009f3a"/><path d="M513.8 2885.9L538.5 2881.7L524.8 2911.6L500.1 2915.9z" fill="#00a432" stroke="#00a432"/><path d="M538.5 2881.7L563.3 2877.8L549.7 2907.4L524.8 2911.6z" fill="#00a82a" stroke="#00a82a"/><path d="M563.3 2877.8L588.4 2874.1L574.7 2903.5L549.7 2907.4z" fill="#00ad1e" stroke="#00ad1e"/><path d="M588.4 2874.1L613.5 2870.6L599.9 2899.8L574.7 2903.5z" fill="#00b213" stroke="#00b213"/><path d="M613.5 2870.6L638.9 2867.4L625.2 2896.4L599.9 2899.8z" fill="#00b90a" stroke="#00b90a"/><path d="M638.9 2867.4L664.4 2864.4L650.8 2893.2L625.2 2896.4z" fill="#00c303" stroke="#00c303"/><path d="M664.4 2864.4L690 2861.6L676.4 2890.2L650.8 2893.2z" fill="#00cd00" stroke="#00cd00"/><path d="M690 2861.6L715.8 2859.2L702.3 2887.5L676.4 2890.2z" fill="#00d000" stroke="#00d000"/><path d="M715.8 2859.2L741.8 2856.9L728.2 2885.1L702.3 2887.5z" fill="#00d300" stroke="#00d300"/><path d="M741.8 2856.9L767.9 2854.9L754.4 2882.9L728.2 2885.1z" fill="#00d500" stroke="#00d500"/><path d="M767.9 2854.9L794.1 2853.2L780.7 2881L754.4 2882.9z" fill="#00d700" stroke="#00d700"/><path d="M794.1 2853.2L820.6 2851.8L807.1 2879.3L780.7 2881z" fill="#00d800" stroke="#00d800"/><path d="M820.6 2851.8L847.1 2850.6L833.8 2877.9L807.1 2879.3z" fill="#00d900" stroke="#00d900"/><path d="M847.1 2850.6L873.8 2849.6L860.5 2876.7L833.8 2877.9z" fill="#00db00" stroke="#00db00"/><path d="M873.8 2849.6L900.7 2849L887.4 2875.8L860.5 2876.7z" fill="#00dc00" stroke="#00dc00"/><path d="M900.7 2849L927.7 2848.6L914.5 2875.2L887.4 2875.8z" fill="#05dd00" stroke="#05dd00"/><path d="M927.7 2848.6L954.9 2848.4L941.7 2874.9L914.5 2875.2z" fill="#0cde00" stroke="#0cde00"/><path d="M954.9 2848.4L982.2 2848.6L969.1 2874.8L941.7 2874.9z" fill="#12e000" stroke="#12e000"/><path d="M982.2 2848.6L1009.7 2849L996.6 2875L969.1 2874.8z" fill="#17e100" stroke="#17e100"/><path d="M1009.7 2849L1037.3 2849.7L1024.3 2875.4L996.6 2875z" fill="#24e200" stroke="#24e200"/><path d="M1037.3 2849.7L1065.1 2850.7L1052.1 2876.2L1024.3 2875.4z" fill="#33e400" stroke="#33e400"/><path d="M1065.1 2850.7L1093 2851.9L1080.1 2877.2L1052.1 2876.2z" fill="#41e600" stroke="#41e600"/><path d="M1093 2851.9L1121 2853.5L1108.2 2878.6L1080.1 2877.2z" fill="#4ee700" stroke="#4ee700"/><path d="M1121 2853.5L1149.2 2855.3L1136.5 2880.2L1108.2 2878.6z" fill="#5be900" stroke="#5be900"/><path d="M1149.2 2855.3L1177.5 2857.4L1164.9 2882L1136.5 2880.2z" fill="#66ea00" stroke="#66ea00"/><path d="M1177.5 2857.4L1206 2859.8L1193.4 2884.2L1164.9 2882z" fill="#70eb00" stroke="#70eb00"/><path d="M1206 2859.8L1234.6 2862.5L1222.1 2886.7L1193.4 2884.2z" fill="#79ed00" stroke="#79ed00"/><path d="M1234.6 2862.5L1263.4 2865.5L1250.9 2889.5L1222.1 2886.7z" fill="#82ee00" stroke="#82ee00"/><path d="M1263.4 2865.5L1292.2 2868.8L1279.9 2892.5L1250.9 2889.5z" fill="#89ee00" stroke="#89ee00"/><path d="M1292.2 2868.8L1321.2 2872.4L1309 2895.9L1279.9 2892.5z" fill="#90ef00" stroke="#90ef00"/><path d="M1321.2 2872.4L1350.4 2876.3L1338.2 2899.5L1309 2895.9z" fill="#95f000" stroke="#95f000"/><path d="M1350.4 2876.3L1379.7 2880.5L1367.6 2903.5L1338.2 2899.5z" fill="#99f100" stroke="#99f100"/><path d="M1379.7 2880.5L1409.1 2885L1397.1 2907.7L1367.6 2903.5z" fill="#9df100" stroke="#9df100"/><path d="M1409.1 2885L1438.6 2889.8L1426.7 2912.3L1397.1 2907.7z" fill="#9ff100" stroke="#9ff100"/><path d="M1438.6 2889.8L1468.3 2894.9L1456.4 2917.2L1426.7 2912.3z" fill="#a1f200" stroke="#a1f200"/><path d="M1468.3 2894.9L1498 2900.3L1486.3 2922.4L1456.4 2917.2z" fill="#a1f200" stroke="#a1f200"/><path d="M402.9 2935.8L426.9 2930.5L413.1 2961.6L389.1 2967.1z" fill="#007284" stroke="#007284"/><path d="M426.9 2930.5L451.1 2925.4L437.4 2956.3L413.1 2961.6z" fill="#008270" stroke="#008270"/><path d="M451.1 2925.4L475.5 2920.6L461.8 2951.2L437.4 2956.3z" fill="#008e5c" stroke="#008e5c"/><path d="M475.5 2920.6L500.1 2915.9L486.3 2946.4L461.8 2951.2z" fill="#00964c" stroke="#00964c"/><path d="M500.1 2915.9L524.8 2911.6L511 2941.8L486.3 2946.4z" fill="#009b44" stroke="#009b44"/><path d="M524.8 2911.6L549.7 2907.4L535.9 2937.5L511 2941.8z" fill="#009f3b" stroke="#009f3b"/><path d="M549.7 2907.4L574.7 2903.5L561 2933.3L535.9 2937.5z" fill="#00a333" stroke="#00a333"/><path d="M574.7 2903.5L599.9 2899.8L586.2 2929.5L561 2933.3z" fill="#00a72b" stroke="#00a72b"/><path d="M599.9 2899.8L625.2 2896.4L611.6 2925.8L586.2 2929.5z" fill="#00ac20" stroke="#00ac20"/><path d="M625.2 2896.4L650.8 2893.2L637.1 2922.4L611.6 2925.8z" fill="#00b115" stroke="#00b115"/><path d="M650.8 2893.2L676.4 2890.2L662.8 2919.3L637.1 2922.4z" fill="#00b70c" stroke="#00b70c"/><path d="M676.4 2890.2L702.3 2887.5L688.6 2916.4L662.8 2919.3z" fill="#00bf05" stroke="#00bf05"/><path d="M702.3 2887.5L728.2 2885.1L714.7 2913.7L688.6 2916.4z" fill="#00ca01" stroke="#00ca01"/><path d="M728.2 2885.1L754.4 2882.9L740.8 2911.3L714.7 2913.7z" fill="#00cf00" stroke="#00cf00"/><path d="M754.4 2882.9L780.7 2881L767.2 2909.2L740.8 2911.3z" fill="#00d200" stroke="#00d200"/><path d="M780.7 2881L807.1 2879.3L793.7 2907.3L767.2 2909.2z" fill="#00d400" stroke="#00d400"/><path d="M807.1 2879.3L833.8 2877.9L820.3 2905.6L793.7 2907.3z" fill="#00d600" stroke="#00d600"/><path d="M833.8 2877.9L860.5 2876.7L847.1 2904.3L820.3 2905.6z" fill="#00d700" stroke="#00d700"/><path d="M860.5 2876.7L887.4 2875.8L874.1 2903.2L847.1 2904.3z" fill="#00d900" stroke="#00d900"/><path d="M887.4 2875.8L914.5 2875.2L901.2 2902.3L874.1 2903.2z" fill="#00da00" stroke="#00da00"/><path d="M914.5 2875.2L941.7 2874.9L928.5 2901.8L901.2 2902.3z" fill="#00db00" stroke="#00db00"/><path d="M941.7 2874.9L969.1 2874.8L955.9 2901.5L928.5 2901.8z" fill="#00dc00" stroke="#00dc00"/><path d="M969.1 2874.8L996.6 2875L983.5 2901.4L955.9 2901.5z" fill="#05dd00" stroke="#05dd00"/><path d="M996.6 2875L1024.3 2875.4L1011.2 2901.7L983.5 2901.4z" fill="#0bde00" stroke="#0bde00"/><path d="M1024.3 2875.4L1052.1 2876.2L1039.1 2902.2L1011.2 2901.7z" fill="#10df00" stroke="#10df00"/><path d="M1052.1 2876.2L1080.1 2877.2L1067.1 2903L1039.1 2902.2z" fill="#16e000" stroke="#16e000"/><path d="M1080.1 2877.2L1108.2 2878.6L1095.3 2904.1L1067.1 2903z" fill="#1de100" stroke="#1de100"/><path d="M1108.2 2878.6L1136.5 2880.2L1123.6 2905.5L1095.3 2904.1z" fill="#2ae300" stroke="#2ae300"/><path d="M1136.5 2880.2L1164.9 2882L1152.1 2907.2L1123.6 2905.5z" fill="#36e500" stroke="#36e500"/><path d="M1164.9 2882L1193.4 2884.2L1180.7 2909.1L1152.1 2907.2z" fill="#41e600" stroke="#41e600"/><path d="M1193.4 2884.2L1222.1 2886.7L1209.4 2911.4L1180.7 2909.1z" fill="#4ce700" stroke="#4ce700"/><path d="M1222.1 2886.7L1250.9 2889.5L1238.3 2913.9L1209.4 2911.4z" fill="#55e800" stroke="#55e800"/><path d="M1250.9 2889.5L1279.9 2892.5L1267.4 2916.7L1238.3 2913.9z" fill="#5ee900" stroke="#5ee900"/><path d="M1279.9 2892.5L1309 2895.9L1296.6 2919.8L1267.4 2916.7z" fill="#65ea00" stroke="#65ea00"/><path d="M1309 2895.9L1338.2 2899.5L1325.9 2923.3L1296.6 2919.8z" fill="#6beb00" stroke="#6beb00"/><path d="M1338.2 2899.5L1367.6 2903.5L1355.3 2927L1325.9 2923.3z" fill="#71ec00" stroke="#71ec00"/><path d="M1367.6 2903.5L1397.1 2907.7L1384.9 2931L1355.3 2927z" fill="#76ec00" stroke="#76ec00"/><path d="M1397.1 2907.7L1426.7 2912.3L1414.7 2935.4L1384.9 2931z" fill="#79ed00" stroke="#79ed00"/><path d="M1426.7 2912.3L1456.4 2917.2L1444.5 2940L1414.7 2935.4z" fill="#7ced00" stroke="#7ced00"/><path d="M1456.4 2917.2L1486.3 2922.4L1474.5 2944.9L1444.5 2940z" fill="#7ded00" stroke="#7ded00"/><path d="M389.1 2967.1L413.1 2961.6L399.3 2993.1L375.2 2998.7z" fill="#0054ac" stroke="#0054ac"/><path d="M413.1 2961.6L437.4 2956.3L423.5 2987.6L399.3 2993.1z" fill="#006398" stroke="#006398"/><path d="M437.4 2956.3L461.8 2951.2L447.9 2982.3L423.5 2987.6z" fill="#007284" stroke="#007284"/><path d="M461.8 2951.2L486.3 2946.4L472.5 2977.3L447.9 2982.3z" fill="#008170" stroke="#008170"/><path d="M486.3 2946.4L511 2941.8L497.2 2972.5L472.5 2977.3z" fill="#008d5d" stroke="#008d5d"/><path d="M511 2941.8L535.9 2937.5L522.1 2968L497.2 2972.5z" fill="#00964d" stroke="#00964d"/><path d="M535.9 2937.5L561 2933.3L547.2 2963.7L522.1 2968z" fill="#009a44" stroke="#009a44"/><path d="M561 2933.3L586.2 2929.5L572.4 2959.6L547.2 2963.7z" fill="#009e3c" stroke="#009e3c"/><path d="M586.2 2929.5L611.6 2925.8L597.8 2955.7L572.4 2959.6z" fill="#00a334" stroke="#00a334"/><path d="M611.6 2925.8L637.1 2922.4L623.4 2952.1L597.8 2955.7z" fill="#00a72d" stroke="#00a72d"/><path d="M637.1 2922.4L662.8 2919.3L649.1 2948.8L623.4 2952.1z" fill="#00ab23" stroke="#00ab23"/><path d="M662.8 2919.3L688.6 2916.4L674.9 2945.7L649.1 2948.8z" fill="#00b018" stroke="#00b018"/><path d="M688.6 2916.4L714.7 2913.7L701 2942.8L674.9 2945.7z" fill="#00b50e" stroke="#00b50e"/><path d="M714.7 2913.7L740.8 2911.3L727.2 2940.2L701 2942.8z" fill="#00bc07" stroke="#00bc07"/><path d="M740.8 2911.3L767.2 2909.2L753.6 2937.8L727.2 2940.2z" fill="#00c602" stroke="#00c602"/><path d="M767.2 2909.2L793.7 2907.3L780.1 2935.7L753.6 2937.8z" fill="#00ce00" stroke="#00ce00"/><path d="M793.7 2907.3L820.3 2905.6L806.8 2933.9L780.1 2935.7z" fill="#00d100" stroke="#00d100"/><path d="M820.3 2905.6L847.1 2904.3L833.6 2932.3L806.8 2933.9z" fill="#00d300" stroke="#00d300"/><path d="M847.1 2904.3L874.1 2903.2L860.6 2931L833.6 2932.3z" fill="#00d500" stroke="#00d500"/><path d="M874.1 2903.2L901.2 2902.3L887.8 2929.9L860.6 2931z" fill="#00d600" stroke="#00d600"/><path d="M901.2 2902.3L928.5 2901.8L915.1 2929.1L887.8 2929.9z" fill="#00d800" stroke="#00d800"/><path d="M928.5 2901.8L955.9 2901.5L942.6 2928.6L915.1 2929.1z" fill="#00d900" stroke="#00d900"/><path d="M955.9 2901.5L983.5 2901.4L970.2 2928.4L942.6 2928.6z" fill="#00da00" stroke="#00da00"/><path d="M983.5 2901.4L1011.2 2901.7L998 2928.4L970.2 2928.4z" fill="#00db00" stroke="#00db00"/><path d="M1011.2 2901.7L1039.1 2902.2L1025.9 2928.7L998 2928.4z" fill="#00dc00" stroke="#00dc00"/><path d="M1039.1 2902.2L1067.1 2903L1054 2929.3L1025.9 2928.7z" fill="#04dd00" stroke="#04dd00"/><path d="M1067.1 2903L1095.3 2904.1L1082.3 2930.2L1054 2929.3z" fill="#09de00" stroke="#09de00"/><path d="M1095.3 2904.1L1123.6 2905.5L1110.6 2931.3L1082.3 2930.2z" fill="#0edf00" stroke="#0edf00"/><path d="M1123.6 2905.5L1152.1 2907.2L1139.2 2932.8L1110.6 2931.3z" fill="#12e000" stroke="#12e000"/><path d="M1152.1 2907.2L1180.7 2909.1L1167.9 2934.5L1139.2 2932.8z" fill="#17e100" stroke="#17e100"/><path d="M1180.7 2909.1L1209.4 2911.4L1196.7 2936.5L1167.9 2934.5z" fill="#1de100" stroke="#1de100"/><path d="M1209.4 2911.4L1238.3 2913.9L1225.7 2938.8L1196.7 2936.5z" fill="#27e300" stroke="#27e300"/><path d="M1238.3 2913.9L1267.4 2916.7L1254.8 2941.4L1225.7 2938.8z" fill="#31e400" stroke="#31e400"/><path d="M1267.4 2916.7L1296.6 2919.8L1284.1 2944.3L1254.8 2941.4z" fill="#39e500" stroke="#39e500"/><path d="M1296.6 2919.8L1325.9 2923.3L1313.5 2947.5L1284.1 2944.3z" fill="#41e600" stroke="#41e600"/><path d="M1325.9 2923.3L1355.3 2927L1343 2951L1313.5 2947.5z" fill="#47e700" stroke="#47e700"/><path d="M1355.3 2927L1384.9 2931L1372.7 2954.8L1343 2951z" fill="#4de700" stroke="#4de700"/><path d="M1384.9 2931L1414.7 2935.4L1402.5 2958.9L1372.7 2954.8z" fill="#52e800" stroke="#52e800"/><path d="M1414.7 2935.4L1444.5 2940L1432.5 2963.3L1402.5 2958.9z" fill="#55e800" stroke="#55e800"/><path d="M1444.5 2940L1474.5 2944.9L1462.6 2968L1432.5 2963.3z" fill="#58e900" stroke="#58e900"/><path d="M375.2 2998.7L399.3 2993.1L385.4 3025L361.4 3030.9z" fill="#0034d1" stroke="#0034d1"/><path d="M399.3 2993.1L423.5 2987.6L409.7 3019.3L385.4 3025z" fill="#0044be" stroke="#0044be"/><path d="M423.5 2987.6L447.9 2982.3L434.1 3013.9L409.7 3019.3z" fill="#0054ab" stroke="#0054ab"/><path d="M447.9 2982.3L472.5 2977.3L458.6 3008.7L434.1 3013.9z" fill="#006398" stroke="#006398"/><path d="M472.5 2977.3L497.2 2972.5L483.4 3003.7L458.6 3008.7z" fill="#007284" stroke="#007284"/><path d="M497.2 2972.5L522.1 2968L508.3 2999L483.4 3003.7z" fill="#008171" stroke="#008171"/><path d="M522.1 2968L547.2 2963.7L533.3 2994.5L508.3 2999z" fill="#008d5e" stroke="#008d5e"/><path d="M547.2 2963.7L572.4 2959.6L558.6 2990.2L533.3 2994.5z" fill="#00954e" stroke="#00954e"/><path d="M572.4 2959.6L597.8 2955.7L584 2986.1L558.6 2990.2z" fill="#009946" stroke="#009946"/><path d="M597.8 2955.7L623.4 2952.1L609.6 2982.3L584 2986.1z" fill="#009e3e" stroke="#009e3e"/><path d="M623.4 2952.1L649.1 2948.8L635.3 2978.8L609.6 2982.3z" fill="#00a236" stroke="#00a236"/><path d="M649.1 2948.8L674.9 2945.7L661.2 2975.4L635.3 2978.8z" fill="#00a62e" stroke="#00a62e"/><path d="M674.9 2945.7L701 2942.8L687.3 2972.4L661.2 2975.4z" fill="#00aa26" stroke="#00aa26"/><path d="M701 2942.8L727.2 2940.2L713.5 2969.5L687.3 2972.4z" fill="#00ae1b" stroke="#00ae1b"/><path d="M727.2 2940.2L753.6 2937.8L739.9 2967L713.5 2969.5z" fill="#00b311" stroke="#00b311"/><path d="M753.6 2937.8L780.1 2935.7L766.4 2964.7L739.9 2967z" fill="#00b90a" stroke="#00b90a"/><path d="M780.1 2935.7L806.8 2933.9L793.2 2962.6L766.4 2964.7z" fill="#00c104" stroke="#00c104"/><path d="M806.8 2933.9L833.6 2932.3L820.1 2960.8L793.2 2962.6z" fill="#00cb01" stroke="#00cb01"/><path d="M833.6 2932.3L860.6 2931L847.1 2959.3L820.1 2960.8z" fill="#00cf00" stroke="#00cf00"/><path d="M860.6 2931L887.8 2929.9L874.3 2958L847.1 2959.3z" fill="#00d200" stroke="#00d200"/><path d="M887.8 2929.9L915.1 2929.1L901.7 2957L874.3 2958z" fill="#00d400" stroke="#00d400"/><path d="M915.1 2929.1L942.6 2928.6L929.2 2956.3L901.7 2957z" fill="#00d600" stroke="#00d600"/><path d="M942.6 2928.6L970.2 2928.4L956.9 2955.8L929.2 2956.3z" fill="#00d700" stroke="#00d700"/><path d="M970.2 2928.4L998 2928.4L984.7 2955.6L956.9 2955.8z" fill="#00d800" stroke="#00d800"/><path d="M998 2928.4L1025.9 2928.7L1012.7 2955.7L984.7 2955.6z" fill="#00d900" stroke="#00d900"/><path d="M1025.9 2928.7L1054 2929.3L1040.8 2956.1L1012.7 2955.7z" fill="#00da00" stroke="#00da00"/><path d="M1054 2929.3L1082.3 2930.2L1069.2 2956.7L1040.8 2956.1z" fill="#00db00" stroke="#00db00"/><path d="M1082.3 2930.2L1110.6 2931.3L1097.6 2957.6L1069.2 2956.7z" fill="#00dc00" stroke="#00dc00"/><path d="M1110.6 2931.3L1139.2 2932.8L1126.2 2958.9L1097.6 2957.6z" fill="#02dc00" stroke="#02dc00"/><path d="M1139.2 2932.8L1167.9 2934.5L1155 2960.4L1126.2 2958.9z" fill="#06dd00" stroke="#06dd00"/><path d="M1167.9 2934.5L1196.7 2936.5L1183.9 2962.1L1155 2960.4z" fill="#0ade00" stroke="#0ade00"/><path d="M1196.7 2936.5L1225.7 2938.8L1212.9 2964.2L1183.9 2962.1z" fill="#0edf00" stroke="#0edf00"/><path d="M1225.7 2938.8L1254.8 2941.4L1242.1 2966.6L1212.9 2964.2z" fill="#12e000" stroke="#12e000"/><path d="M1254.8 2941.4L1284.1 2944.3L1271.5 2969.3L1242.1 2966.6z" fill="#15e000" stroke="#15e000"/><path d="M1284.1 2944.3L1313.5 2947.5L1301 2972.2L1271.5 2969.3z" fill="#18e100" stroke="#18e100"/><path d="M1313.5 2947.5L1343 2951L1330.6 2975.5L1301 2972.2z" fill="#1de100" stroke="#1de100"/><path d="M1343 2951L1372.7 2954.8L1360.4 2979.1L1330.6 2975.5z" fill="#23e200" stroke="#23e200"/><path d="M1372.7 2954.8L1402.5 2958.9L1390.3 2983L1360.4 2979.1z" fill="#29e300" stroke="#29e300"/><path d="M1402.5 2958.9L1432.5 2963.3L1420.4 2987.1L1390.3 2983z" fill="#2ee300" stroke="#2ee300"/><path d="M1432.5 2963.3L1462.6 2968L1450.6 2991.6L1420.4 2987.1z" fill="#31e400" stroke="#31e400"/><path d="M361.4 3030.9L385.4 3025L371.5 3057.4L347.4 3063.5z" fill="#0016f1" stroke="#0016f1"/><path d="M385.4 3025L409.7 3019.3L395.7 3051.6L371.5 3057.4z" fill="#0025e3" stroke="#0025e3"/><path d="M409.7 3019.3L434.1 3013.9L420.1 3045.9L395.7 3051.6z" fill="#0035d0" stroke="#0035d0"/><path d="M434.1 3013.9L458.6 3008.7L444.7 3040.5L420.1 3045.9z" fill="#0045bd" stroke="#0045bd"/><path d="M458.6 3008.7L483.4 3003.7L469.4 3035.4L444.7 3040.5z" fill="#0054ab" stroke="#0054ab"/><path d="M483.4 3003.7L508.3 2999L494.3 3030.4L469.4 3035.4z" fill="#006398" stroke="#006398"/><path d="M508.3 2999L533.3 2994.5L519.4 3025.7L494.3 3030.4z" fill="#007185" stroke="#007185"/><path d="M533.3 2994.5L558.6 2990.2L544.7 3021.2L519.4 3025.7z" fill="#008073" stroke="#008073"/><path d="M558.6 2990.2L584 2986.1L570.1 3017L544.7 3021.2z" fill="#008c60" stroke="#008c60"/><path d="M584 2986.1L609.6 2982.3L595.7 3013L570.1 3017z" fill="#00954f" stroke="#00954f"/><path d="M609.6 2982.3L635.3 2978.8L621.4 3009.2L595.7 3013z" fill="#009947" stroke="#009947"/><path d="M635.3 2978.8L661.2 2975.4L647.4 3005.7L621.4 3009.2z" fill="#009d3f" stroke="#009d3f"/><path d="M661.2 2975.4L687.3 2972.4L673.5 3002.4L647.4 3005.7z" fill="#00a138" stroke="#00a138"/><path d="M687.3 2972.4L713.5 2969.5L699.7 2999.4L673.5 3002.4z" fill="#00a530" stroke="#00a530"/><path d="M713.5 2969.5L739.9 2967L726.1 2996.6L699.7 2999.4z" fill="#00a829" stroke="#00a829"/><path d="M739.9 2967L766.4 2964.7L752.7 2994.1L726.1 2996.6z" fill="#00ad1f" stroke="#00ad1f"/><path d="M766.4 2964.7L793.2 2962.6L779.5 2991.8L752.7 2994.1z" fill="#00b115" stroke="#00b115"/><path d="M793.2 2962.6L820.1 2960.8L806.4 2989.8L779.5 2991.8z" fill="#00b60d" stroke="#00b60d"/><path d="M820.1 2960.8L847.1 2959.3L833.5 2988.1L806.4 2989.8z" fill="#00bd06" stroke="#00bd06"/><path d="M847.1 2959.3L874.3 2958L860.7 2986.6L833.5 2988.1z" fill="#00c602" stroke="#00c602"/><path d="M874.3 2958L901.7 2957L888.1 2985.4L860.7 2986.6z" fill="#00ce00" stroke="#00ce00"/><path d="M901.7 2957L929.2 2956.3L915.7 2984.4L888.1 2985.4z" fill="#00d000" stroke="#00d000"/><path d="M929.2 2956.3L956.9 2955.8L943.4 2983.7L915.7 2984.4z" fill="#00d200" stroke="#00d200"/><path d="M956.9 2955.8L984.7 2955.6L971.3 2983.3L943.4 2983.7z" fill="#00d400" stroke="#00d400"/><path d="M984.7 2955.6L1012.7 2955.7L999.4 2983.2L971.3 2983.3z" fill="#00d600" stroke="#00d600"/><path d="M1012.7 2955.7L1040.8 2956.1L1027.6 2983.3L999.4 2983.2z" fill="#00d700" stroke="#00d700"/><path d="M1040.8 2956.1L1069.2 2956.7L1056 2983.8L1027.6 2983.3z" fill="#00d800" stroke="#00d800"/><path d="M1069.2 2956.7L1097.6 2957.6L1084.5 2984.5L1056 2983.8z" fill="#00d900" stroke="#00d900"/><path d="M1097.6 2957.6L1126.2 2958.9L1113.1 2985.5L1084.5 2984.5z" fill="#00d900" stroke="#00d900"/><path d="M1126.2 2958.9L1155 2960.4L1142 2986.7L1113.1 2985.5z" fill="#00da00" stroke="#00da00"/><path d="M1155 2960.4L1183.9 2962.1L1171 2988.3L1142 2986.7z" fill="#00db00" stroke="#00db00"/><path d="M1183.9 2962.1L1212.9 2964.2L1200.1 2990.2L1171 2988.3z" fill="#00dc00" stroke="#00dc00"/><path d="M1212.9 2964.2L1242.1 2966.6L1229.4 2992.3L1200.1 2990.2z" fill="#02dc00" stroke="#02dc00"/><path d="M1242.1 2966.6L1271.5 2969.3L1258.8 2994.7L1229.4 2992.3z" fill="#06dd00" stroke="#06dd00"/><path d="M1271.5 2969.3L1301 2972.2L1288.4 2997.5L1258.8 2994.7z" fill="#09de00" stroke="#09de00"/><path d="M1301 2972.2L1330.6 2975.5L1318.1 3000.5L1288.4 2997.5z" fill="#0cde00" stroke="#0cde00"/><path d="M1330.6 2975.5L1360.4 2979.1L1348 3003.9L1318.1 3000.5z" fill="#0edf00" stroke="#0edf00"/><path d="M1360.4 2979.1L1390.3 2983L1378 3007.5L1348 3003.9z" fill="#10df00" stroke="#10df00"/><path d="M1390.3 2983L1420.4 2987.1L1408.1 3011.5L1378 3007.5z" fill="#12e000" stroke="#12e000"/><path d="M1420.4 2987.1L1450.6 2991.6L1438.4 3015.7L1408.1 3011.5z" fill="#14e000" stroke="#14e000"/><path d="M347.4 3063.5L371.5 3057.4L357.5 3090.2L333.4 3096.5z" fill="#0007fc" stroke="#0007fc"/><path d="M371.5 3057.4L395.7 3051.6L381.7 3084.2L357.5 3090.2z" fill="#000afa" stroke="#000afa"/><path d="M395.7 3051.6L420.1 3045.9L406.1 3078.4L381.7 3084.2z" fill="#0017f0" stroke="#0017f0"/><path d="M420.1 3045.9L444.7 3040.5L430.7 3072.8L406.1 3078.4z" fill="#0026e2" stroke="#0026e2"/><path d="M444.7 3040.5L469.4 3035.4L455.4 3067.4L430.7 3072.8z" fill="#0035cf" stroke="#0035cf"/><path d="M469.4 3035.4L494.3 3030.4L480.4 3062.3L455.4 3067.4z" fill="#0045bd" stroke="#0045bd"/><path d="M494.3 3030.4L519.4 3025.7L505.5 3057.4L480.4 3062.3z" fill="#0054ac" stroke="#0054ac"/><path d="M519.4 3025.7L544.7 3021.2L530.7 3052.7L505.5 3057.4z" fill="#006299" stroke="#006299"/><path d="M544.7 3021.2L570.1 3017L556.2 3048.3L530.7 3052.7z" fill="#007086" stroke="#007086"/><path d="M570.1 3017L595.7 3013L581.8 3044.1L556.2 3048.3z" fill="#007e74" stroke="#007e74"/><path d="M595.7 3013L621.4 3009.2L607.5 3040.1L581.8 3044.1z" fill="#008a62" stroke="#008a62"/><path d="M621.4 3009.2L647.4 3005.7L633.5 3036.4L607.5 3040.1z" fill="#009450" stroke="#009450"/><path d="M647.4 3005.7L673.5 3002.4L659.6 3032.9L633.5 3036.4z" fill="#009848" stroke="#009848"/><path d="M673.5 3002.4L699.7 2999.4L685.9 3029.7L659.6 3032.9z" fill="#009c41" stroke="#009c41"/><path d="M699.7 2999.4L726.1 2996.6L712.3 3026.7L685.9 3029.7z" fill="#00a03a" stroke="#00a03a"/><path d="M726.1 2996.6L752.7 2994.1L738.9 3024L712.3 3026.7z" fill="#00a432" stroke="#00a432"/><path d="M752.7 2994.1L779.5 2991.8L765.7 3021.5L738.9 3024z" fill="#00a72c" stroke="#00a72c"/><path d="M779.5 2991.8L806.4 2989.8L792.7 3019.3L765.7 3021.5z" fill="#00ab23" stroke="#00ab23"/><path d="M806.4 2989.8L833.5 2988.1L819.8 3017.3L792.7 3019.3z" fill="#00af19" stroke="#00af19"/><path d="M833.5 2988.1L860.7 2986.6L847.1 3015.6L819.8 3017.3z" fill="#00b310" stroke="#00b310"/><path d="M860.7 2986.6L888.1 2985.4L874.5 3014.2L847.1 3015.6z" fill="#00b90a" stroke="#00b90a"/><path d="M888.1 2985.4L915.7 2984.4L902.2 3013L874.5 3014.2z" fill="#00c004" stroke="#00c004"/><path d="M915.7 2984.4L943.4 2983.7L929.9 3012.1L902.2 3013z" fill="#00c901" stroke="#00c901"/><path d="M943.4 2983.7L971.3 2983.3L957.9 3011.5L929.9 3012.1z" fill="#00ce00" stroke="#00ce00"/><path d="M971.3 2983.3L999.4 2983.2L986 3011.2L957.9 3011.5z" fill="#00d000" stroke="#00d000"/><path d="M999.4 2983.2L1027.6 2983.3L1014.2 3011.1L986 3011.2z" fill="#00d200" stroke="#00d200"/><path d="M1027.6 2983.3L1056 2983.8L1042.7 3011.3L1014.2 3011.1z" fill="#00d400" stroke="#00d400"/><path d="M1056 2983.8L1084.5 2984.5L1071.2 3011.8L1042.7 3011.3z" fill="#00d600" stroke="#00d600"/><path d="M1084.5 2984.5L1113.1 2985.5L1100 3012.6L1071.2 3011.8z" fill="#00d700" stroke="#00d700"/><path d="M1113.1 2985.5L1142 2986.7L1128.9 3013.6L1100 3012.6z" fill="#00d700" stroke="#00d700"/><path d="M1142 2986.7L1171 2988.3L1157.9 3014.9L1128.9 3013.6z" fill="#00d800" stroke="#00d800"/><path d="M1171 2988.3L1200.1 2990.2L1187.1 3016.6L1157.9 3014.9z" fill="#00d900" stroke="#00d900"/><path d="M1200.1 2990.2L1229.4 2992.3L1216.5 3018.5L1187.1 3016.6z" fill="#00da00" stroke="#00da00"/><path d="M1229.4 2992.3L1258.8 2994.7L1246 3020.7L1216.5 3018.5z" fill="#00da00" stroke="#00da00"/><path d="M1258.8 2994.7L1288.4 2997.5L1275.7 3023.2L1246 3020.7z" fill="#00db00" stroke="#00db00"/><path d="M1288.4 2997.5L1318.1 3000.5L1305.5 3026L1275.7 3023.2z" fill="#00db00" stroke="#00db00"/><path d="M1318.1 3000.5L1348 3003.9L1335.4 3029.2L1305.5 3026z" fill="#00dc00" stroke="#00dc00"/><path d="M1348 3003.9L1378 3007.5L1365.5 3032.6L1335.4 3029.2z" fill="#02dc00" stroke="#02dc00"/><path d="M1378 3007.5L1408.1 3011.5L1395.8 3036.3L1365.5 3032.6z" fill="#04dd00" stroke="#04dd00"/><path d="M1408.1 3011.5L1438.4 3015.7L1426.2 3040.3L1395.8 3036.3z" fill="#06dd00" stroke="#06dd00"/><path d="M333.4 3096.5L357.5 3090.2L343.5 3123.5L319.4 3130z" fill="#0000ff" stroke="#0000ff"/><path d="M357.5 3090.2L381.7 3084.2L367.7 3117.3L343.5 3123.5z" fill="#0004fd" stroke="#0004fd"/><path d="M381.7 3084.2L406.1 3078.4L392.1 3111.3L367.7 3117.3z" fill="#0007fc" stroke="#0007fc"/><path d="M406.1 3078.4L430.7 3072.8L416.7 3105.5L392.1 3111.3z" fill="#000bf9" stroke="#000bf9"/><path d="M430.7 3072.8L455.4 3067.4L441.4 3100L416.7 3105.5z" fill="#0018f0" stroke="#0018f0"/><path d="M455.4 3067.4L480.4 3062.3L466.3 3094.7L441.4 3100z" fill="#0026e1" stroke="#0026e1"/><path d="M480.4 3062.3L505.5 3057.4L491.4 3089.6L466.3 3094.7z" fill="#0035cf" stroke="#0035cf"/><path d="M505.5 3057.4L530.7 3052.7L516.7 3084.7L491.4 3089.6z" fill="#0044be" stroke="#0044be"/><path d="M530.7 3052.7L556.2 3048.3L542.1 3080.1L516.7 3084.7z" fill="#0053ac" stroke="#0053ac"/><path d="M556.2 3048.3L581.8 3044.1L567.8 3075.7L542.1 3080.1z" fill="#00619a" stroke="#00619a"/><path d="M581.8 3044.1L607.5 3040.1L593.6 3071.5L567.8 3075.7z" fill="#006f88" stroke="#006f88"/><path d="M607.5 3040.1L633.5 3036.4L619.5 3067.6L593.6 3071.5z" fill="#007d76" stroke="#007d76"/><path d="M633.5 3036.4L659.6 3032.9L645.7 3063.9L619.5 3067.6z" fill="#008965" stroke="#008965"/><path d="M659.6 3032.9L685.9 3029.7L672 3060.5L645.7 3063.9z" fill="#009254" stroke="#009254"/><path d="M685.9 3029.7L712.3 3026.7L698.4 3057.3L672 3060.5z" fill="#00974a" stroke="#00974a"/><path d="M712.3 3026.7L738.9 3024L725.1 3054.4L698.4 3057.3z" fill="#009b43" stroke="#009b43"/><path d="M738.9 3024L765.7 3021.5L751.9 3051.7L725.1 3054.4z" fill="#009f3c" stroke="#009f3c"/><path d="M765.7 3021.5L792.7 3019.3L778.9 3049.3L751.9 3051.7z" fill="#00a235" stroke="#00a235"/><path d="M792.7 3019.3L819.8 3017.3L806 3047.1L778.9 3049.3z" fill="#00a62e" stroke="#00a62e"/><path d="M819.8 3017.3L847.1 3015.6L833.4 3045.2L806 3047.1z" fill="#00a927" stroke="#00a927"/><path d="M847.1 3015.6L874.5 3014.2L860.9 3043.5L833.4 3045.2z" fill="#00ad1e" stroke="#00ad1e"/><path d="M874.5 3014.2L902.2 3013L888.5 3042.2L860.9 3043.5z" fill="#00b115" stroke="#00b115"/><path d="M902.2 3013L929.9 3012.1L916.3 3041.1L888.5 3042.2z" fill="#00b60d" stroke="#00b60d"/><path d="M929.9 3012.1L957.9 3011.5L944.3 3040.2L916.3 3041.1z" fill="#00bc07" stroke="#00bc07"/><path d="M957.9 3011.5L986 3011.2L972.5 3039.6L944.3 3040.2z" fill="#00c303" stroke="#00c303"/><path d="M986 3011.2L1014.2 3011.1L1000.8 3039.4L972.5 3039.6z" fill="#00cb01" stroke="#00cb01"/><path d="M1014.2 3011.1L1042.7 3011.3L1029.3 3039.3L1000.8 3039.4z" fill="#00cf00" stroke="#00cf00"/><path d="M1042.7 3011.3L1071.2 3011.8L1057.9 3039.6L1029.3 3039.3z" fill="#00d000" stroke="#00d000"/><path d="M1071.2 3011.8L1100 3012.6L1086.7 3040.2L1057.9 3039.6z" fill="#00d200" stroke="#00d200"/><path d="M1100 3012.6L1128.9 3013.6L1115.7 3041L1086.7 3040.2z" fill="#00d400" stroke="#00d400"/><path d="M1128.9 3013.6L1157.9 3014.9L1144.8 3042.1L1115.7 3041z" fill="#00d500" stroke="#00d500"/><path d="M1157.9 3014.9L1187.1 3016.6L1174.1 3043.5L1144.8 3042.1z" fill="#00d600" stroke="#00d600"/><path d="M1187.1 3016.6L1216.5 3018.5L1203.5 3045.2L1174.1 3043.5z" fill="#00d700" stroke="#00d700"/><path d="M1216.5 3018.5L1246 3020.7L1233.1 3047.2L1203.5 3045.2z" fill="#00d800" stroke="#00d800"/><path d="M1246 3020.7L1275.7 3023.2L1262.9 3049.5L1233.1 3047.2z" fill="#00d800" stroke="#00d800"/><path d="M1275.7 3023.2L1305.5 3026L1292.8 3052.1L1262.9 3049.5z" fill="#00d900" stroke="#00d900"/><path d="M1305.5 3026L1335.4 3029.2L1322.8 3055L1292.8 3052.1z" fill="#00d900" stroke="#00d900"/><path d="M1335.4 3029.2L1365.5 3032.6L1353 3058.2L1322.8 3055z" fill="#00da00" stroke="#00da00"/><path d="M1365.5 3032.6L1395.8 3036.3L1383.3 3061.6L1353 3058.2z" fill="#00da00" stroke="#00da00"/><path d="M1395.8 3036.3L1426.2 3040.3L1413.8 3065.4L1383.3 3061.6z" fill="#00db00" stroke="#00db00"/><path d="M319.4 3130L343.5 3123.5L329.4 3157.3L305.3 3163.9z" fill="#0000f0" stroke="#0000f0"/><path d="M343.5 3123.5L367.7 3117.3L353.6 3150.9L329.4 3157.3z" fill="#0000f8" stroke="#0000f8"/><path d="M367.7 3117.3L392.1 3111.3L378 3144.7L353.6 3150.9z" fill="#0000ff" stroke="#0000ff"/><path d="M392.1 3111.3L416.7 3105.5L402.6 3138.7L378 3144.7z" fill="#0004fd" stroke="#0004fd"/><path d="M416.7 3105.5L441.4 3100L427.3 3133L402.6 3138.7z" fill="#0007fb" stroke="#0007fb"/><path d="M441.4 3100L466.3 3094.7L452.2 3127.5L427.3 3133z" fill="#000cf9" stroke="#000cf9"/><path d="M466.3 3094.7L491.4 3089.6L477.3 3122.2L452.2 3127.5z" fill="#0018ef" stroke="#0018ef"/><path d="M491.4 3089.6L516.7 3084.7L502.6 3117.2L477.3 3122.2z" fill="#0026e1" stroke="#0026e1"/><path d="M516.7 3084.7L542.1 3080.1L528.1 3112.3L502.6 3117.2z" fill="#0035d0" stroke="#0035d0"/><path d="M542.1 3080.1L567.8 3075.7L553.7 3107.7L528.1 3112.3z" fill="#0044be" stroke="#0044be"/><path d="M567.8 3075.7L593.6 3071.5L579.5 3103.4L553.7 3107.7z" fill="#0052ad" stroke="#0052ad"/><path d="M593.6 3071.5L619.5 3067.6L605.5 3099.3L579.5 3103.4z" fill="#00609c" stroke="#00609c"/><path d="M619.5 3067.6L645.7 3063.9L631.6 3095.4L605.5 3099.3z" fill="#006e8a" stroke="#006e8a"/><path d="M645.7 3063.9L672 3060.5L658 3091.7L631.6 3095.4z" fill="#007b79" stroke="#007b79"/><path d="M672 3060.5L698.4 3057.3L684.5 3088.4L658 3091.7z" fill="#008768" stroke="#008768"/><path d="M698.4 3057.3L725.1 3054.4L711.1 3085.2L684.5 3088.4z" fill="#009057" stroke="#009057"/><path d="M725.1 3054.4L751.9 3051.7L738 3082.3L711.1 3085.2z" fill="#00964c" stroke="#00964c"/><path d="M751.9 3051.7L778.9 3049.3L765 3079.7L738 3082.3z" fill="#009a45" stroke="#009a45"/><path d="M778.9 3049.3L806 3047.1L792.2 3077.3L765 3079.7z" fill="#009e3e" stroke="#009e3e"/><path d="M806 3047.1L833.4 3045.2L819.6 3075.2L792.2 3077.3z" fill="#00a137" stroke="#00a137"/><path d="M833.4 3045.2L860.9 3043.5L847.1 3073.4L819.6 3075.2z" fill="#00a431" stroke="#00a431"/><path d="M860.9 3043.5L888.5 3042.2L874.8 3071.8L847.1 3073.4z" fill="#00a82b" stroke="#00a82b"/><path d="M888.5 3042.2L916.3 3041.1L902.7 3070.5L874.8 3071.8z" fill="#00ab22" stroke="#00ab22"/><path d="M916.3 3041.1L944.3 3040.2L930.7 3069.4L902.7 3070.5z" fill="#00af1a" stroke="#00af1a"/><path d="M944.3 3040.2L972.5 3039.6L958.9 3068.6L930.7 3069.4z" fill="#00b312" stroke="#00b312"/><path d="M972.5 3039.6L1000.8 3039.4L987.3 3068.1L958.9 3068.6z" fill="#00b70c" stroke="#00b70c"/><path d="M1000.8 3039.4L1029.3 3039.3L1015.8 3067.9L987.3 3068.1z" fill="#00bd06" stroke="#00bd06"/><path d="M1029.3 3039.3L1057.9 3039.6L1044.5 3067.9L1015.8 3067.9z" fill="#00c403" stroke="#00c403"/><path d="M1057.9 3039.6L1086.7 3040.2L1073.4 3068.3L1044.5 3067.9z" fill="#00cb01" stroke="#00cb01"/><path d="M1086.7 3040.2L1115.7 3041L1102.4 3068.9L1073.4 3068.3z" fill="#00ce00" stroke="#00ce00"/><path d="M1115.7 3041L1144.8 3042.1L1131.6 3069.8L1102.4 3068.9z" fill="#00d000" stroke="#00d000"/><path d="M1144.8 3042.1L1174.1 3043.5L1161 3071L1131.6 3069.8z" fill="#00d200" stroke="#00d200"/><path d="M1174.1 3043.5L1203.5 3045.2L1190.5 3072.4L1161 3071z" fill="#00d300" stroke="#00d300"/><path d="M1203.5 3045.2L1233.1 3047.2L1220.1 3074.2L1190.5 3072.4z" fill="#00d500" stroke="#00d500"/><path d="M1233.1 3047.2L1262.9 3049.5L1249.9 3076.3L1220.1 3074.2z" fill="#00d600" stroke="#00d600"/><path d="M1262.9 3049.5L1292.8 3052.1L1279.9 3078.6L1249.9 3076.3z" fill="#00d600" stroke="#00d600"/><path d="M1292.8 3052.1L1322.8 3055L1310.1 3081.3L1279.9 3078.6z" fill="#00d700" stroke="#00d700"/><path d="M1322.8 3055L1353 3058.2L1340.3 3084.3L1310.1 3081.3z" fill="#00d700" stroke="#00d700"/><path d="M1353 3058.2L1383.3 3061.6L1370.8 3087.5L1340.3 3084.3z" fill="#00d800" stroke="#00d800"/><path d="M1383.3 3061.6L1413.8 3065.4L1401.4 3091.1L1370.8 3087.5z" fill="#00d800" stroke="#00d800"/><path d="M305.3 3163.9L329.4 3157.3L315.2 3191.5L291.2 3198.2z" fill="#0000e0" stroke="#0000e0"/><path d="M329.4 3157.3L353.6 3150.9L339.5 3184.9L315.2 3191.5z" fill="#0000e9" stroke="#0000e9"/><path d="M353.6 3150.9L378 3144.7L363.8 3178.5L339.5 3184.9z" fill="#0000f1" stroke="#0000f1"/><path d="M378 3144.7L402.6 3138.7L388.4 3172.4L363.8 3178.5z" fill="#0000f9" stroke="#0000f9"/><path d="M402.6 3138.7L427.3 3133L413.2 3166.5L388.4 3172.4z" fill="#0001ff" stroke="#0001ff"/><path d="M427.3 3133L452.2 3127.5L438.1 3160.8L413.2 3166.5z" fill="#0004fd" stroke="#0004fd"/><path d="M452.2 3127.5L477.3 3122.2L463.2 3155.3L438.1 3160.8z" fill="#0007fb" stroke="#0007fb"/><path d="M477.3 3122.2L502.6 3117.2L488.5 3150.1L463.2 3155.3z" fill="#000cf8" stroke="#000cf8"/><path d="M502.6 3117.2L528.1 3112.3L513.9 3145L488.5 3150.1z" fill="#0018ef" stroke="#0018ef"/><path d="M528.1 3112.3L553.7 3107.7L539.6 3140.3L513.9 3145z" fill="#0026e1" stroke="#0026e1"/><path d="M553.7 3107.7L579.5 3103.4L565.4 3135.7L539.6 3140.3z" fill="#0035d0" stroke="#0035d0"/><path d="M579.5 3103.4L605.5 3099.3L591.4 3131.4L565.4 3135.7z" fill="#0043bf" stroke="#0043bf"/><path d="M605.5 3099.3L631.6 3095.4L617.6 3127.3L591.4 3131.4z" fill="#0051af" stroke="#0051af"/><path d="M631.6 3095.4L658 3091.7L643.9 3123.5L617.6 3127.3z" fill="#005e9e" stroke="#005e9e"/><path d="M658 3091.7L684.5 3088.4L670.4 3119.9L643.9 3123.5z" fill="#006c8d" stroke="#006c8d"/><path d="M684.5 3088.4L711.1 3085.2L697.1 3116.6L670.4 3119.9z" fill="#00787c" stroke="#00787c"/><path d="M711.1 3085.2L738 3082.3L724 3113.5L697.1 3116.6z" fill="#00856c" stroke="#00856c"/><path d="M738 3082.3L765 3079.7L751.1 3110.7L724 3113.5z" fill="#008e5c" stroke="#008e5c"/><path d="M765 3079.7L792.2 3077.3L778.3 3108.1L751.1 3110.7z" fill="#00954e" stroke="#00954e"/><path d="M792.2 3077.3L819.6 3075.2L805.7 3105.8L778.3 3108.1z" fill="#009947" stroke="#009947"/><path d="M819.6 3075.2L847.1 3073.4L833.3 3103.7L805.7 3105.8z" fill="#009c40" stroke="#009c40"/><path d="M847.1 3073.4L874.8 3071.8L861 3101.9L833.3 3103.7z" fill="#00a03a" stroke="#00a03a"/><path d="M874.8 3071.8L902.7 3070.5L888.9 3100.4L861 3101.9z" fill="#00a334" stroke="#00a334"/><path d="M902.7 3070.5L930.7 3069.4L917 3099.1L888.9 3100.4z" fill="#00a62e" stroke="#00a62e"/><path d="M930.7 3069.4L958.9 3068.6L945.2 3098.1L917 3099.1z" fill="#00a927" stroke="#00a927"/><path d="M958.9 3068.6L987.3 3068.1L973.7 3097.4L945.2 3098.1z" fill="#00ad1f" stroke="#00ad1f"/><path d="M987.3 3068.1L1015.8 3067.9L1002.3 3096.9L973.7 3097.4z" fill="#00b018" stroke="#00b018"/><path d="M1015.8 3067.9L1044.5 3067.9L1031 3096.8L1002.3 3096.9z" fill="#00b310" stroke="#00b310"/><path d="M1044.5 3067.9L1073.4 3068.3L1059.9 3096.9L1031 3096.8z" fill="#00b80b" stroke="#00b80b"/><path d="M1073.4 3068.3L1102.4 3068.9L1089 3097.3L1059.9 3096.9z" fill="#00bd06" stroke="#00bd06"/><path d="M1102.4 3068.9L1131.6 3069.8L1118.3 3098L1089 3097.3z" fill="#00c403" stroke="#00c403"/><path d="M1131.6 3069.8L1161 3071L1147.7 3098.9L1118.3 3098z" fill="#00ca01" stroke="#00ca01"/><path d="M1161 3071L1190.5 3072.4L1177.3 3100.2L1147.7 3098.9z" fill="#00ce00" stroke="#00ce00"/><path d="M1190.5 3072.4L1220.1 3074.2L1207 3101.7L1177.3 3100.2z" fill="#00cf00" stroke="#00cf00"/><path d="M1220.1 3074.2L1249.9 3076.3L1236.9 3103.6L1207 3101.7z" fill="#00d100" stroke="#00d100"/><path d="M1249.9 3076.3L1279.9 3078.6L1267 3105.7L1236.9 3103.6z" fill="#00d200" stroke="#00d200"/><path d="M1279.9 3078.6L1310.1 3081.3L1297.2 3108.1L1267 3105.7z" fill="#00d400" stroke="#00d400"/><path d="M1310.1 3081.3L1340.3 3084.3L1327.6 3110.9L1297.2 3108.1z" fill="#00d500" stroke="#00d500"/><path d="M1340.3 3084.3L1370.8 3087.5L1358.1 3113.9L1327.6 3110.9z" fill="#00d500" stroke="#00d500"/><path d="M1370.8 3087.5L1401.4 3091.1L1388.8 3117.3L1358.1 3113.9z" fill="#00d600" stroke="#00d600"/><path d="M291.2 3198.2L315.2 3191.5L301.1 3226.1L277 3233z" fill="#0000d1" stroke="#0000d1"/><path d="M315.2 3191.5L339.5 3184.9L325.3 3219.3L301.1 3226.1z" fill="#0000d9" stroke="#0000d9"/><path d="M339.5 3184.9L363.8 3178.5L349.7 3212.8L325.3 3219.3z" fill="#0000e2" stroke="#0000e2"/><path d="M363.8 3178.5L388.4 3172.4L374.2 3206.5L349.7 3212.8z" fill="#0000ea" stroke="#0000ea"/><path d="M388.4 3172.4L413.2 3166.5L399 3200.4L374.2 3206.5z" fill="#0000f2" stroke="#0000f2"/><path d="M413.2 3166.5L438.1 3160.8L423.9 3194.5L399 3200.4z" fill="#0000fa" stroke="#0000fa"/><path d="M438.1 3160.8L463.2 3155.3L449 3188.9L423.9 3194.5z" fill="#0001fe" stroke="#0001fe"/><path d="M463.2 3155.3L488.5 3150.1L474.3 3183.4L449 3188.9z" fill="#0004fd" stroke="#0004fd"/><path d="M488.5 3150.1L513.9 3145L499.8 3178.2L474.3 3183.4z" fill="#0007fb" stroke="#0007fb"/><path d="M513.9 3145L539.6 3140.3L525.4 3173.3L499.8 3178.2z" fill="#000cf8" stroke="#000cf8"/><path d="M539.6 3140.3L565.4 3135.7L551.2 3168.5L525.4 3173.3z" fill="#0018ef" stroke="#0018ef"/><path d="M565.4 3135.7L591.4 3131.4L577.2 3164L551.2 3168.5z" fill="#0026e2" stroke="#0026e2"/><path d="M591.4 3131.4L617.6 3127.3L603.4 3159.8L577.2 3164z" fill="#0034d1" stroke="#0034d1"/><path d="M617.6 3127.3L643.9 3123.5L629.8 3155.7L603.4 3159.8z" fill="#0042c1" stroke="#0042c1"/><path d="M643.9 3123.5L670.4 3119.9L656.3 3151.9L629.8 3155.7z" fill="#004fb1" stroke="#004fb1"/><path d="M670.4 3119.9L697.1 3116.6L683.1 3148.4L656.3 3151.9z" fill="#005da0" stroke="#005da0"/><path d="M697.1 3116.6L724 3113.5L710 3145.1L683.1 3148.4z" fill="#006990" stroke="#006990"/><path d="M724 3113.5L751.1 3110.7L737 3142.1L710 3145.1z" fill="#00767f" stroke="#00767f"/><path d="M751.1 3110.7L778.3 3108.1L764.3 3139.3L737 3142.1z" fill="#008270" stroke="#008270"/><path d="M778.3 3108.1L805.7 3105.8L791.7 3136.8L764.3 3139.3z" fill="#008c60" stroke="#008c60"/><path d="M805.7 3105.8L833.3 3103.7L819.3 3134.5L791.7 3136.8z" fill="#009451" stroke="#009451"/><path d="M833.3 3103.7L861 3101.9L847.1 3132.5L819.3 3134.5z" fill="#00974a" stroke="#00974a"/><path d="M861 3101.9L888.9 3100.4L875.1 3130.8L847.1 3132.5z" fill="#009b43" stroke="#009b43"/><path d="M888.9 3100.4L917 3099.1L903.2 3129.3L875.1 3130.8z" fill="#009e3d" stroke="#009e3d"/><path d="M917 3099.1L945.2 3098.1L931.5 3128.1L903.2 3129.3z" fill="#00a137" stroke="#00a137"/><path d="M945.2 3098.1L973.7 3097.4L960 3127.2L931.5 3128.1z" fill="#00a431" stroke="#00a431"/><path d="M973.7 3097.4L1002.3 3096.9L988.6 3126.5L960 3127.2z" fill="#00a72c" stroke="#00a72c"/><path d="M1002.3 3096.9L1031 3096.8L1017.4 3126.1L988.6 3126.5z" fill="#00aa25" stroke="#00aa25"/><path d="M1031 3096.8L1059.9 3096.9L1046.4 3126L1017.4 3126.1z" fill="#00ae1e" stroke="#00ae1e"/><path d="M1059.9 3096.9L1089 3097.3L1075.6 3126.2L1046.4 3126z" fill="#00b117" stroke="#00b117"/><path d="M1089 3097.3L1118.3 3098L1104.9 3126.6L1075.6 3126.2z" fill="#00b410" stroke="#00b410"/><path d="M1118.3 3098L1147.7 3098.9L1134.4 3127.4L1104.9 3126.6z" fill="#00b80b" stroke="#00b80b"/><path d="M1147.7 3098.9L1177.3 3100.2L1164 3128.4L1134.4 3127.4z" fill="#00bc07" stroke="#00bc07"/><path d="M1177.3 3100.2L1207 3101.7L1193.8 3129.8L1164 3128.4z" fill="#00c204" stroke="#00c204"/><path d="M1207 3101.7L1236.9 3103.6L1223.8 3131.4L1193.8 3129.8z" fill="#00c802" stroke="#00c802"/><path d="M1236.9 3103.6L1267 3105.7L1254 3133.3L1223.8 3131.4z" fill="#00cd00" stroke="#00cd00"/><path d="M1267 3105.7L1297.2 3108.1L1284.3 3135.5L1254 3133.3z" fill="#00ce00" stroke="#00ce00"/><path d="M1297.2 3108.1L1327.6 3110.9L1314.7 3138L1284.3 3135.5z" fill="#00d000" stroke="#00d000"/><path d="M1327.6 3110.9L1358.1 3113.9L1345.4 3140.8L1314.7 3138z" fill="#00d100" stroke="#00d100"/><path d="M1358.1 3113.9L1388.8 3117.3L1376.1 3144L1345.4 3140.8z" fill="#00d200" stroke="#00d200"/></g></g>
<path d="M801.3 2180.4L789.4 2198.6L777.5 2217.1L765.4 2236.1L753.3 2255.5L741.1 2275.2L728.9 2295.4L716.6 2316L704.2 2337L691.8 2358.4L679.3 2380.1L666.7 2402.4L654.1 2425L641.4 2448L628.7 2471.5L615.9 2495.4L603 2519.7L590 2544.4L577 2569.5L564 2595.1L550.9 2621.1L537.7 2647.6L524.5 2674.4L511.2 2701.7L497.8 2729.4L484.4 2757.6L471 2786.2L457.5 2815.3L443.9 2844.7L430.3 2874.7L416.6 2905L402.9 2935.8L389.1 2967.1L375.2 2998.7L361.4 3030.9L347.4 3063.5L333.4 3096.5L319.4 3130L305.3 3163.9L291.2 3198.2L277 3233M848.1 2183.4L836.3 2201.1L824.4 2219.2L812.4 2237.7L800.4 2256.7L788.3 2276L776.1 2295.7L763.9 2315.8L751.6 2336.3L739.2 2357.3L726.8 2378.6L714.3 2400.4L701.7 2422.6L689.1 2445.2L676.4 2468.2L663.7 2491.6L650.8 2515.5L637.9 2539.8L625 2564.5L612 2589.6L598.9 2615.2L585.8 2641.2L572.6 2667.7L559.3 2694.6L546 2721.9L532.6 2749.6L519.2 2777.8L505.7 2806.4L492.1 2835.5L478.5 2865L464.9 2895L451.1 2925.4L437.4 2956.3L423.5 2987.6L409.7 3019.3L395.7 3051.6L381.7 3084.2L367.7 3117.3L353.6 3150.9L339.5 3184.9L325.3 3219.3M895.2 2187.4L883.5 2204.7L871.7 2222.4L859.8 2240.4L847.9 2258.9L835.9 2277.7L823.8 2297L811.7 2316.7L799.4 2336.7L787.1 2357.2L774.8 2378.1L762.4 2399.4L749.9 2421.2L737.3 2443.3L724.7 2465.9L712 2488.9L699.2 2512.3L686.4 2536.2L673.5 2560.4L660.5 2585.1L647.5 2610.3L634.4 2635.9L621.2 2661.9L608 2688.3L594.7 2715.2L581.4 2742.6L568 2770.4L554.5 2798.6L541 2827.2L527.4 2856.4L513.8 2885.9L500.1 2915.9L486.3 2946.4L472.5 2977.3L458.6 3008.7L444.7 3040.5L430.7 3072.8L416.7 3105.5L402.6 3138.7L388.4 3172.4L374.2 3206.5M942.8 2192.5L931.1 2209.3L919.4 2226.5L907.7 2244.1L895.8 2262.1L883.9 2280.5L871.9 2299.3L859.9 2318.5L847.7 2338.2L835.5 2358.2L823.2 2378.6L810.9 2399.5L798.5 2420.8L786 2442.5L773.4 2464.6L760.8 2487.2L748.1 2510.1L735.3 2533.5L722.5 2557.4L709.6 2581.7L696.6 2606.4L683.6 2631.5L670.5 2657.1L657.3 2683.1L644.1 2709.6L630.8 2736.5L617.4 2763.9L604 2791.7L590.5 2819.9L577 2848.6L563.3 2877.8L549.7 2907.4L535.9 2937.5L522.1 2968L508.3 2999L494.3 3030.4L480.4 3062.3L466.3 3094.7L452.2 3127.5L438.1 3160.8L423.9 3194.5M990.7 2198.7L979.2 2215L967.6 2231.7L955.9 2248.9L944.2 2266.4L932.3 2284.4L920.5 2302.7L908.5 2321.5L896.5 2340.6L884.3 2360.2L872.2 2380.2L859.9 2400.6L847.6 2421.4L835.2 2442.7L822.7 2464.3L810.1 2486.4L797.5 2509L784.8 2531.9L772.1 2555.3L759.2 2579.2L746.3 2603.4L733.3 2628.1L720.3 2653.3L707.2 2678.9L694 2704.9L680.8 2731.4L667.5 2758.3L654.1 2785.7L640.6 2813.6L627.1 2841.8L613.5 2870.6L599.9 2899.8L586.2 2929.5L572.4 2959.6L558.6 2990.2L544.7 3021.2L530.7 3052.7L516.7 3084.7L502.6 3117.2L488.5 3150.1L474.3 3183.4M1039 2205.9L1027.6 2221.8L1016.1 2238L1004.5 2254.7L992.9 2271.8L981.2 2289.3L969.4 2307.2L957.6 2325.5L945.6 2344.2L933.6 2363.3L921.5 2382.8L909.4 2402.8L897.1 2423.1L884.8 2443.9L872.4 2465.1L860 2486.8L847.4 2508.9L834.8 2531.4L822.1 2554.3L809.4 2577.7L796.5 2601.5L783.6 2625.8L770.7 2650.5L757.6 2675.6L744.5 2701.2L731.3 2727.3L718.1 2753.8L704.7 2780.8L691.3 2808.2L677.9 2836L664.4 2864.4L650.8 2893.2L637.1 2922.4L623.4 2952.1L609.6 2982.3L595.7 3013L581.8 3044.1L567.8 3075.7L553.7 3107.7L539.6 3140.3L525.4 3173.3M1087.6 2214.2L1076.4 2229.6L1065 2245.4L1053.6 2261.6L1042.1 2278.2L1030.5 2295.3L1018.8 2312.7L1007.1 2330.5L995.2 2348.8L983.3 2367.4L971.3 2386.5L959.3 2406L947.1 2425.9L934.9 2446.2L922.6 2467L910.3 2488.2L897.8 2509.8L885.3 2531.9L872.7 2554.3L860.1 2577.3L847.3 2600.7L834.5 2624.5L821.6 2648.7L808.6 2673.4L795.6 2698.6L782.5 2724.2L769.3 2750.3L756 2776.8L742.7 2803.8L729.3 2831.2L715.8 2859.2L702.3 2887.5L688.6 2916.4L674.9 2945.7L661.2 2975.4L647.4 3005.7L633.5 3036.4L619.5 3067.6L605.5 3099.3L591.4 3131.4L577.2 3164M1136.7 2223.6L1125.5 2238.5L1114.3 2253.9L1103 2269.6L1091.6 2285.8L1080.1 2302.3L1068.6 2319.3L1057 2336.7L1045.2 2354.4L1033.5 2372.6L1021.6 2391.2L1009.7 2410.3L997.6 2429.7L985.5 2449.6L973.3 2469.9L961.1 2490.6L948.7 2511.8L936.3 2533.4L923.8 2555.4L911.3 2577.9L898.6 2600.8L885.9 2624.2L873.1 2648L860.2 2672.3L847.2 2697L834.2 2722.2L821.1 2747.8L807.9 2773.9L794.6 2800.4L781.3 2827.5L767.9 2854.9L754.4 2882.9L740.8 2911.3L727.2 2940.2L713.5 2969.5L699.7 2999.4L685.9 3029.7L672 3060.5L658 3091.7L643.9 3123.5L629.8 3155.7M1186 2234L1175 2248.5L1163.9 2263.4L1152.8 2278.7L1141.5 2294.4L1130.2 2310.5L1118.8 2327L1107.3 2343.9L1095.7 2361.2L1084 2379L1072.3 2397.1L1060.5 2415.7L1048.6 2434.7L1036.6 2454.1L1024.5 2473.9L1012.4 2494.2L1000.1 2514.9L987.8 2536L975.4 2557.6L963 2579.6L950.4 2602.1L937.8 2625L925.1 2648.4L912.3 2672.2L899.4 2696.5L886.5 2721.2L873.4 2746.4L860.3 2772L847.1 2798.1L833.9 2824.7L820.6 2851.8L807.1 2879.3L793.7 2907.3L780.1 2935.7L766.4 2964.7L752.7 2994.1L738.9 3024L725.1 3054.4L711.1 3085.2L697.1 3116.6L683.1 3148.4M1235.7 2245.6L1224.8 2259.7L1213.9 2274.1L1202.9 2288.9L1191.8 2304.2L1180.6 2319.8L1169.3 2335.8L1158 2352.3L1146.5 2369.1L1135 2386.4L1123.4 2404.1L1111.7 2422.2L1099.9 2440.7L1088.1 2459.6L1076.1 2479L1064.1 2498.8L1052 2519.1L1039.8 2539.7L1027.5 2560.9L1015.2 2582.4L1002.7 2604.4L990.2 2626.9L977.6 2649.8L964.9 2673.2L952.2 2697L939.3 2721.3L926.4 2746L913.4 2771.2L900.3 2796.9L887.1 2823L873.8 2849.6L860.5 2876.7L847.1 2904.3L833.6 2932.3L820.1 2960.8L806.4 2989.8L792.7 3019.3L778.9 3049.3L765 3079.7L751.1 3110.7L737 3142.1M1285.7 2258.3L1275 2271.9L1264.2 2285.9L1253.4 2300.3L1242.4 2315L1231.4 2330.2L1220.3 2345.8L1209 2361.7L1197.7 2378.1L1186.4 2394.9L1174.9 2412.1L1163.4 2429.8L1151.7 2447.8L1140 2466.3L1128.2 2485.2L1116.3 2504.6L1104.3 2524.4L1092.3 2544.6L1080.1 2565.2L1067.9 2586.3L1055.6 2607.9L1043.2 2629.9L1030.7 2652.3L1018.1 2675.2L1005.4 2698.6L992.7 2722.4L979.9 2746.7L967 2771.5L954 2796.7L940.9 2822.4L927.7 2848.6L914.5 2875.2L901.2 2902.3L887.8 2929.9L874.3 2958L860.7 2986.6L847.1 3015.6L833.4 3045.2L819.6 3075.2L805.7 3105.8L791.7 3136.8M1336 2272.2L1325.5 2285.3L1314.9 2298.8L1304.2 2312.7L1293.4 2327L1282.5 2341.7L1271.6 2356.8L1260.5 2372.3L1249.4 2388.3L1238.1 2404.6L1226.8 2421.3L1215.4 2438.5L1203.9 2456.1L1192.4 2474.1L1180.7 2492.6L1168.9 2511.4L1157.1 2530.8L1145.2 2550.5L1133.2 2570.7L1121.1 2591.4L1108.9 2612.4L1096.6 2634L1084.2 2656L1071.8 2678.4L1059.3 2701.3L1046.6 2724.7L1033.9 2748.5L1021.1 2772.8L1008.3 2797.6L995.3 2822.9L982.2 2848.6L969.1 2874.8L955.9 2901.5L942.6 2928.6L929.2 2956.3L915.7 2984.4L902.2 3013L888.5 3042.2L874.8 3071.8L861 3101.9L847.1 3132.5M1386.7 2287.1L1376.3 2299.8L1365.9 2312.9L1355.3 2326.3L1344.7 2340.1L1334 2354.4L1323.2 2369L1312.3 2384.1L1301.3 2399.5L1290.3 2415.4L1279.1 2431.7L1267.9 2448.4L1256.5 2465.5L1245.1 2483.1L1233.6 2501L1222 2519.5L1210.3 2538.3L1198.6 2557.6L1186.7 2577.3L1174.7 2597.5L1162.7 2618.1L1150.5 2639.2L1138.3 2660.7L1126 2682.7L1113.6 2705.2L1101.1 2728.1L1088.5 2751.5L1075.9 2775.3L1063.1 2799.6L1050.3 2824.4L1037.3 2849.7L1024.3 2875.4L1011.2 2901.7L998 2928.4L984.7 2955.6L971.3 2983.3L957.9 3011.5L944.3 3040.2L930.7 3069.4L917 3099.1L903.2 3129.3M1437.6 2303.2L1427.4 2315.4L1417.2 2328L1406.8 2341L1396.4 2354.4L1385.8 2368.2L1375.2 2382.4L1364.5 2397L1353.7 2411.9L1342.8 2427.4L1331.8 2443.2L1320.7 2459.4L1309.6 2476.1L1298.3 2493.2L1287 2510.7L1275.5 2528.6L1264 2547L1252.4 2565.8L1240.7 2585.1L1228.9 2604.8L1217 2625L1205 2645.6L1192.9 2666.6L1180.7 2688.2L1168.5 2710.1L1156.1 2732.6L1143.7 2755.5L1131.1 2778.9L1118.5 2802.8L1105.8 2827.1L1093 2851.9L1080.1 2877.2L1067.1 2903L1054 2929.3L1040.8 2956.1L1027.6 2983.3L1014.2 3011.1L1000.8 3039.4L987.3 3068.1L973.7 3097.4L960 3127.2M1488.8 2320.5L1478.8 2332.2L1468.7 2344.4L1458.6 2356.9L1448.3 2369.8L1438 2383.2L1427.5 2396.9L1417 2411L1406.4 2425.5L1395.7 2440.5L1384.9 2455.8L1374 2471.6L1363 2487.8L1351.9 2504.4L1340.7 2521.5L1329.4 2538.9L1318.1 2556.9L1306.6 2575.2L1295.1 2594L1283.4 2613.3L1271.7 2632.9L1259.9 2653.1L1248 2673.7L1235.9 2694.7L1223.8 2716.3L1211.6 2738.3L1199.3 2760.7L1186.9 2783.6L1174.5 2807.1L1161.9 2830.9L1149.2 2855.3L1136.5 2880.2L1123.6 2905.5L1110.6 2931.3L1097.6 2957.6L1084.5 2984.5L1071.2 3011.8L1057.9 3039.6L1044.5 3067.9L1031 3096.8L1017.4 3126.1M1540.3 2338.9L1530.5 2350.2L1520.6 2361.9L1510.6 2373.9L1500.6 2386.4L1490.4 2399.3L1480.2 2412.5L1469.8 2426.2L1459.4 2440.3L1448.9 2454.7L1438.3 2469.6L1427.6 2485L1416.8 2500.7L1405.9 2516.8L1394.9 2533.4L1383.8 2550.4L1372.6 2567.9L1361.3 2585.8L1349.9 2604.1L1338.5 2622.9L1326.9 2642.1L1315.2 2661.8L1303.5 2681.9L1291.6 2702.5L1279.7 2723.6L1267.7 2745.1L1255.5 2767.1L1243.3 2789.5L1231 2812.5L1218.5 2835.9L1206 2859.8L1193.4 2884.2L1180.7 2909.1L1167.9 2934.5L1155 2960.4L1142 2986.7L1128.9 3013.6L1115.7 3041L1102.4 3068.9L1089 3097.3L1075.6 3126.2M1592 2358.4L1582.4 2369.3L1572.7 2380.5L1563 2392.1L1553.1 2404.2L1543.2 2416.6L1533.1 2429.4L1523 2442.6L1512.8 2456.2L1502.4 2470.2L1492 2484.6L1481.5 2499.5L1470.9 2514.7L1460.2 2530.4L1449.4 2546.6L1438.5 2563.1L1427.5 2580.1L1416.4 2597.5L1405.2 2615.4L1393.9 2633.7L1382.5 2652.4L1371.1 2671.6L1359.5 2691.3L1347.8 2711.4L1336 2732L1324.2 2753.1L1312.2 2774.6L1300.1 2796.6L1288 2819.1L1275.7 2842.1L1263.4 2865.5L1250.9 2889.5L1238.3 2913.9L1225.7 2938.8L1212.9 2964.2L1200.1 2990.2L1187.1 3016.6L1174.1 3043.5L1161 3071L1147.7 3098.9L1134.4 3127.4M1643.9 2379.1L1634.6 2389.5L1625.1 2400.3L1615.6 2411.5L1605.9 2423.1L1596.2 2435L1586.4 2447.4L1576.5 2460.1L1566.4 2473.3L1556.3 2486.8L1546.1 2500.8L1535.8 2515.2L1525.4 2530L1514.9 2545.2L1504.3 2560.9L1493.6 2577L1482.8 2593.5L1471.9 2610.4L1460.9 2627.8L1449.8 2645.7L1438.6 2664L1427.3 2682.7L1415.9 2701.9L1404.5 2721.6L1392.9 2741.7L1381.2 2762.3L1369.4 2783.3L1357.5 2804.9L1345.5 2826.9L1333.4 2849.4L1321.2 2872.4L1309 2895.9L1296.6 2919.8L1284.1 2944.3L1271.5 2969.3L1258.8 2994.7L1246 3020.7L1233.1 3047.2L1220.1 3074.2L1207 3101.7L1193.8 3129.8M1696.1 2401L1687 2411L1677.8 2421.3L1668.4 2432L1659 2443.2L1649.5 2454.7L1639.9 2466.6L1630.2 2478.9L1620.4 2491.6L1610.5 2504.7L1600.5 2518.2L1590.4 2532.1L1580.2 2546.4L1569.9 2561.2L1559.5 2576.4L1549 2592L1538.5 2608.1L1527.8 2624.6L1517 2641.5L1506.1 2658.9L1495.1 2676.7L1484 2695L1472.8 2713.7L1461.5 2732.9L1450.2 2752.6L1438.7 2772.7L1427.1 2793.3L1415.4 2814.4L1403.6 2835.9L1391.7 2857.9L1379.7 2880.5L1367.6 2903.5L1355.3 2927L1343 2951L1330.6 2975.5L1318.1 3000.5L1305.5 3026L1292.8 3052.1L1279.9 3078.6L1267 3105.7L1254 3133.3M1748.6 2424L1739.6 2433.6L1730.6 2443.5L1721.6 2453.8L1712.4 2464.4L1703.1 2475.5L1693.7 2486.9L1684.2 2498.8L1674.6 2511L1665 2523.7L1655.2 2536.7L1645.3 2550.2L1635.4 2564.1L1625.3 2578.4L1615.1 2593.1L1604.9 2608.3L1594.5 2623.9L1584 2639.9L1573.5 2656.4L1562.8 2673.3L1552 2690.6L1541.1 2708.4L1530.2 2726.7L1519.1 2745.4L1507.9 2764.6L1496.6 2784.3L1485.2 2804.4L1473.7 2825L1462.1 2846.1L1450.4 2867.7L1438.6 2889.8L1426.7 2912.3L1414.7 2935.4L1402.5 2958.9L1390.3 2983L1378 3007.5L1365.5 3032.6L1353 3058.2L1340.3 3084.3L1327.6 3110.9L1314.7 3138M1801.2 2448.2L1792.5 2457.3L1783.7 2466.8L1774.9 2476.6L1765.9 2486.9L1756.9 2497.5L1747.8 2508.5L1738.5 2519.9L1729.2 2531.7L1719.7 2543.9L1710.2 2556.5L1700.6 2569.5L1690.8 2583L1681 2596.8L1671.1 2611.1L1661 2625.8L1650.9 2640.9L1640.6 2656.5L1630.3 2672.5L1619.9 2688.9L1609.3 2705.8L1598.7 2723.2L1587.9 2741L1577 2759.2L1566.1 2777.9L1555 2797.1L1543.8 2816.8L1532.5 2836.9L1521.1 2857.6L1509.6 2878.7L1498 2900.3L1486.3 2922.4L1474.5 2944.9L1462.6 2968L1450.6 2991.6L1438.4 3015.7L1426.2 3040.3L1413.8 3065.4L1401.4 3091.1L1388.8 3117.3L1376.1 3144M801.3 2180.4L824.7 2181.8L848.1 2183.4L871.6 2185.3L895.2 2187.4L919 2189.8L942.8 2192.5L966.7 2195.5L990.7 2198.7L1014.8 2202.1L1039 2205.9L1063.3 2209.9L1087.6 2214.2L1112.1 2218.7L1136.7 2223.6L1161.3 2228.7L1186 2234L1210.8 2239.7L1235.7 2245.6L1260.7 2251.8L1285.7 2258.3L1310.8 2265.1L1336 2272.2L1361.3 2279.5L1386.7 2287.1L1412.1 2295L1437.6 2303.2L1463.2 2311.7L1488.8 2320.5L1514.5 2329.5L1540.3 2338.9L1566.1 2348.5L1592 2358.4L1617.9 2368.6L1643.9 2379.1L1670 2389.9L1696.1 2401L1722.3 2412.4L1748.6 2424L1774.8 2436L1801.2 2448.2M777.5 2217.1L800.9 2218.1L824.4 2219.2L848 2220.7L871.7 2222.4L895.5 2224.3L919.4 2226.5L943.5 2229L967.6 2231.7L991.8 2234.8L1016.1 2238L1040.5 2241.6L1065 2245.4L1089.6 2249.5L1114.3 2253.9L1139.1 2258.5L1163.9 2263.4L1188.9 2268.6L1213.9 2274.1L1239 2279.9L1264.2 2285.9L1289.5 2292.2L1314.9 2298.8L1340.3 2305.7L1365.9 2312.9L1391.5 2320.3L1417.2 2328L1442.9 2336.1L1468.7 2344.4L1494.6 2353L1520.6 2361.9L1546.6 2371L1572.7 2380.5L1598.9 2390.3L1625.1 2400.3L1651.4 2410.7L1677.8 2421.3L1704.2 2432.2L1730.6 2443.5L1757.2 2455L1783.7 2466.8M753.3 2255.5L776.8 2255.9L800.4 2256.7L824.1 2257.6L847.9 2258.9L871.8 2260.4L895.8 2262.1L919.9 2264.1L944.2 2266.4L968.5 2269L992.9 2271.8L1017.4 2274.9L1042.1 2278.2L1066.8 2281.9L1091.6 2285.8L1116.5 2290L1141.5 2294.4L1166.6 2299.2L1191.8 2304.2L1217.1 2309.5L1242.4 2315L1267.9 2320.9L1293.4 2327L1319 2333.4L1344.7 2340.1L1370.5 2347.1L1396.4 2354.4L1422.3 2362L1448.3 2369.8L1474.4 2378L1500.6 2386.4L1526.8 2395.1L1553.1 2404.2L1579.5 2413.5L1605.9 2423.1L1632.5 2433L1659 2443.2L1685.7 2453.6L1712.4 2464.4L1739.1 2475.5L1765.9 2486.9M728.9 2295.4L752.5 2295.4L776.1 2295.7L799.9 2296.2L823.8 2297L847.8 2298L871.9 2299.3L896.1 2300.9L920.5 2302.7L944.9 2304.8L969.4 2307.2L994.1 2309.8L1018.8 2312.7L1043.6 2315.9L1068.6 2319.3L1093.6 2323L1118.8 2327L1144 2331.3L1169.3 2335.8L1194.7 2340.7L1220.3 2345.8L1245.9 2351.1L1271.6 2356.8L1297.3 2362.8L1323.2 2369L1349.2 2375.6L1375.2 2382.4L1401.3 2389.5L1427.5 2396.9L1453.8 2404.6L1480.2 2412.5L1506.6 2420.8L1533.1 2429.4L1559.7 2438.2L1586.4 2447.4L1613.1 2456.8L1639.9 2466.6L1666.8 2476.6L1693.7 2486.9L1720.7 2497.6L1747.8 2508.5M704.2 2337L727.9 2336.5L751.6 2336.3L775.5 2336.4L799.4 2336.7L823.5 2337.3L847.7 2338.2L872 2339.3L896.5 2340.6L921 2342.3L945.6 2344.2L970.4 2346.3L995.2 2348.8L1020.2 2351.5L1045.2 2354.4L1070.4 2357.7L1095.7 2361.2L1121.1 2365L1146.5 2369.1L1172.1 2373.5L1197.7 2378.1L1223.5 2383L1249.4 2388.3L1275.3 2393.7L1301.3 2399.5L1327.5 2405.6L1353.7 2411.9L1380 2418.6L1406.4 2425.5L1432.9 2432.8L1459.4 2440.3L1486 2448.1L1512.8 2456.2L1539.6 2464.6L1566.4 2473.3L1593.4 2482.3L1620.4 2491.6L1647.5 2501.1L1674.6 2511L1701.9 2521.2L1729.2 2531.7M679.3 2380.1L703 2379.3L726.8 2378.6L750.7 2378.2L774.8 2378.1L798.9 2378.2L823.2 2378.6L847.6 2379.3L872.2 2380.2L896.8 2381.4L921.5 2382.8L946.4 2384.5L971.3 2386.5L996.4 2388.7L1021.6 2391.2L1046.9 2394L1072.3 2397.1L1097.8 2400.4L1123.4 2404.1L1149.1 2408L1174.9 2412.1L1200.8 2416.6L1226.8 2421.3L1252.9 2426.4L1279.1 2431.7L1305.4 2437.3L1331.8 2443.2L1358.3 2449.4L1384.9 2455.8L1411.5 2462.6L1438.3 2469.6L1465.1 2477L1492 2484.6L1519 2492.6L1546.1 2500.8L1573.3 2509.3L1600.5 2518.2L1627.8 2527.3L1655.2 2536.7L1682.7 2546.5L1710.2 2556.5M654.1 2425L677.9 2423.7L701.7 2422.6L725.7 2421.7L749.9 2421.2L774.1 2420.8L798.5 2420.8L823 2421L847.6 2421.4L872.3 2422.1L897.1 2423.1L922.1 2424.4L947.1 2425.9L972.3 2427.7L997.6 2429.7L1023 2432.1L1048.6 2434.7L1074.2 2437.5L1099.9 2440.7L1125.8 2444.1L1151.7 2447.8L1177.8 2451.8L1203.9 2456.1L1230.2 2460.7L1256.5 2465.5L1283 2470.6L1309.6 2476.1L1336.2 2481.8L1363 2487.8L1389.8 2494.1L1416.8 2500.7L1443.8 2507.6L1470.9 2514.7L1498.1 2522.2L1525.4 2530L1552.8 2538.1L1580.2 2546.4L1607.8 2555.1L1635.4 2564.1L1663.1 2573.4L1690.8 2583M628.7 2471.5L652.5 2469.7L676.4 2468.2L700.5 2466.9L724.7 2465.9L749 2465.1L773.4 2464.6L798 2464.3L822.7 2464.3L847.5 2464.6L872.4 2465.1L897.5 2465.9L922.6 2467L947.9 2468.3L973.3 2469.9L998.9 2471.8L1024.5 2473.9L1050.3 2476.3L1076.1 2479L1102.1 2482L1128.2 2485.2L1154.4 2488.8L1180.7 2492.6L1207.1 2496.7L1233.6 2501L1260.2 2505.7L1287 2510.7L1313.8 2515.9L1340.7 2521.5L1367.7 2527.3L1394.9 2533.4L1422.1 2539.8L1449.4 2546.6L1476.8 2553.6L1504.3 2560.9L1531.9 2568.5L1559.5 2576.4L1587.3 2584.6L1615.1 2593.1L1643.1 2601.9L1671.1 2611.1M603 2519.7L626.8 2517.5L650.8 2515.5L675 2513.8L699.2 2512.3L723.6 2511.1L748.1 2510.1L772.7 2509.4L797.5 2509L822.4 2508.8L847.4 2508.9L872.6 2509.2L897.8 2509.8L923.2 2510.7L948.7 2511.8L974.4 2513.2L1000.1 2514.9L1026 2516.8L1052 2519.1L1078.1 2521.6L1104.3 2524.4L1130.7 2527.4L1157.1 2530.8L1183.7 2534.4L1210.3 2538.3L1237.1 2542.5L1264 2547L1291 2551.8L1318.1 2556.9L1345.3 2562.2L1372.6 2567.9L1400 2573.8L1427.5 2580.1L1455.1 2586.6L1482.8 2593.5L1510.6 2600.6L1538.5 2608.1L1566.4 2615.8L1594.5 2623.9L1622.6 2632.2L1650.9 2640.9M577 2569.5L601 2566.9L625 2564.5L649.2 2562.3L673.5 2560.4L697.9 2558.8L722.5 2557.4L747.2 2556.2L772.1 2555.3L797 2554.7L822.1 2554.3L847.4 2554.2L872.7 2554.3L898.2 2554.8L923.8 2555.4L949.6 2556.4L975.4 2557.6L1001.4 2559.1L1027.5 2560.9L1053.8 2562.9L1080.1 2565.2L1106.6 2567.8L1133.2 2570.7L1159.9 2573.9L1186.7 2577.3L1213.6 2581.1L1240.7 2585.1L1267.8 2589.4L1295.1 2594L1322.5 2598.9L1349.9 2604.1L1377.5 2609.6L1405.2 2615.4L1433 2621.4L1460.9 2627.8L1488.9 2634.5L1517 2641.5L1545.2 2648.8L1573.5 2656.4L1601.8 2664.3L1630.3 2672.5M550.9 2621.1L574.8 2618L598.9 2615.2L623.1 2612.6L647.5 2610.3L672 2608.2L696.6 2606.4L721.4 2604.8L746.3 2603.4L771.4 2602.3L796.5 2601.5L821.9 2601L847.3 2600.7L872.9 2600.6L898.6 2600.8L924.4 2601.3L950.4 2602.1L976.5 2603.1L1002.7 2604.4L1029.1 2606L1055.6 2607.9L1082.2 2610L1108.9 2612.4L1135.7 2615.1L1162.7 2618.1L1189.8 2621.4L1217 2625L1244.3 2628.8L1271.7 2632.9L1299.2 2637.4L1326.9 2642.1L1354.7 2647.1L1382.5 2652.4L1410.5 2658L1438.6 2664L1466.8 2670.2L1495.1 2676.7L1523.5 2683.5L1552 2690.6L1580.6 2698.1L1609.3 2705.8M524.5 2674.4L548.4 2670.9L572.6 2667.7L596.8 2664.7L621.2 2661.9L645.8 2659.4L670.5 2657.1L695.3 2655.1L720.3 2653.3L745.4 2651.8L770.7 2650.5L796.1 2649.5L821.6 2648.7L847.3 2648.2L873.1 2648L899 2648.1L925.1 2648.4L951.3 2649L977.6 2649.8L1004.1 2650.9L1030.7 2652.3L1057.4 2654L1084.2 2656L1111.2 2658.2L1138.3 2660.7L1165.5 2663.5L1192.9 2666.6L1220.4 2670L1248 2673.7L1275.7 2677.7L1303.5 2681.9L1331.4 2686.5L1359.5 2691.3L1387.7 2696.5L1415.9 2701.9L1444.3 2707.7L1472.8 2713.7L1501.4 2720.1L1530.2 2726.7L1559 2733.7L1587.9 2741M497.8 2729.4L521.8 2725.5L546 2721.9L570.3 2718.4L594.7 2715.2L619.3 2712.3L644.1 2709.6L669 2707.1L694 2704.9L719.2 2703L744.5 2701.2L770 2699.8L795.6 2698.6L821.3 2697.7L847.2 2697L873.2 2696.6L899.4 2696.5L925.7 2696.6L952.2 2697L978.7 2697.7L1005.4 2698.6L1032.3 2699.8L1059.3 2701.3L1086.4 2703.1L1113.6 2705.2L1141 2707.5L1168.5 2710.1L1196.1 2713.1L1223.8 2716.3L1251.7 2719.8L1279.7 2723.6L1307.8 2727.6L1336 2732L1364.4 2736.7L1392.9 2741.7L1421.5 2747L1450.2 2752.6L1479 2758.4L1507.9 2764.6L1536.9 2771.1L1566.1 2777.9M471 2786.2L495 2781.9L519.2 2777.8L543.5 2774L568 2770.4L592.6 2767L617.4 2763.9L642.4 2761L667.5 2758.3L692.7 2755.9L718.1 2753.8L743.6 2751.9L769.3 2750.3L795.1 2748.9L821.1 2747.8L847.2 2747L873.4 2746.4L899.8 2746.1L926.4 2746L953.1 2746.2L979.9 2746.7L1006.8 2747.5L1033.9 2748.5L1061.2 2749.9L1088.5 2751.5L1116 2753.3L1143.7 2755.5L1171.4 2758L1199.3 2760.7L1227.4 2763.8L1255.5 2767.1L1283.8 2770.7L1312.2 2774.6L1340.7 2778.8L1369.4 2783.3L1398.2 2788.2L1427.1 2793.3L1456.1 2798.7L1485.2 2804.4L1514.5 2810.5L1543.8 2816.8M443.9 2844.7L467.9 2840L492.1 2835.5L516.5 2831.3L541 2827.2L565.7 2823.5L590.5 2819.9L615.5 2816.6L640.6 2813.6L665.9 2810.7L691.3 2808.2L716.9 2805.9L742.7 2803.8L768.6 2802L794.6 2800.4L820.8 2799.2L847.1 2798.1L873.6 2797.4L900.3 2796.9L927.1 2796.7L954 2796.7L981 2797L1008.3 2797.6L1035.6 2798.5L1063.1 2799.6L1090.7 2801.1L1118.5 2802.8L1146.4 2804.8L1174.5 2807.1L1202.6 2809.6L1231 2812.5L1259.4 2815.7L1288 2819.1L1316.7 2822.9L1345.5 2826.9L1374.5 2831.3L1403.6 2835.9L1432.8 2840.9L1462.1 2846.1L1491.6 2851.7L1521.1 2857.6M416.6 2905L440.6 2899.9L464.9 2895L489.2 2890.4L513.8 2885.9L538.5 2881.7L563.3 2877.8L588.4 2874.1L613.5 2870.6L638.9 2867.4L664.4 2864.4L690 2861.6L715.8 2859.2L741.8 2856.9L767.9 2854.9L794.1 2853.2L820.6 2851.8L847.1 2850.6L873.8 2849.6L900.7 2849L927.7 2848.6L954.9 2848.4L982.2 2848.6L1009.7 2849L1037.3 2849.7L1065.1 2850.7L1093 2851.9L1121 2853.5L1149.2 2855.3L1177.5 2857.4L1206 2859.8L1234.6 2862.5L1263.4 2865.5L1292.2 2868.8L1321.2 2872.4L1350.4 2876.3L1379.7 2880.5L1409.1 2885L1438.6 2889.8L1468.3 2894.9L1498 2900.3M389.1 2967.1L413.1 2961.6L437.4 2956.3L461.8 2951.2L486.3 2946.4L511 2941.8L535.9 2937.5L561 2933.3L586.2 2929.5L611.6 2925.8L637.1 2922.4L662.8 2919.3L688.6 2916.4L714.7 2913.7L740.8 2911.3L767.2 2909.2L793.7 2907.3L820.3 2905.6L847.1 2904.3L874.1 2903.2L901.2 2902.3L928.5 2901.8L955.9 2901.5L983.5 2901.4L1011.2 2901.7L1039.1 2902.2L1067.1 2903L1095.3 2904.1L1123.6 2905.5L1152.1 2907.2L1180.7 2909.1L1209.4 2911.4L1238.3 2913.9L1267.4 2916.7L1296.6 2919.8L1325.9 2923.3L1355.3 2927L1384.9 2931L1414.7 2935.4L1444.5 2940L1474.5 2944.9M361.4 3030.9L385.4 3025L409.7 3019.3L434.1 3013.9L458.6 3008.7L483.4 3003.7L508.3 2999L533.3 2994.5L558.6 2990.2L584 2986.1L609.6 2982.3L635.3 2978.8L661.2 2975.4L687.3 2972.4L713.5 2969.5L739.9 2967L766.4 2964.7L793.2 2962.6L820.1 2960.8L847.1 2959.3L874.3 2958L901.7 2957L929.2 2956.3L956.9 2955.8L984.7 2955.6L1012.7 2955.7L1040.8 2956.1L1069.2 2956.7L1097.6 2957.6L1126.2 2958.9L1155 2960.4L1183.9 2962.1L1212.9 2964.2L1242.1 2966.6L1271.5 2969.3L1301 2972.2L1330.6 2975.5L1360.4 2979.1L1390.3 2983L1420.4 2987.1L1450.6 2991.6M333.4 3096.5L357.5 3090.2L381.7 3084.2L406.1 3078.4L430.7 3072.8L455.4 3067.4L480.4 3062.3L505.5 3057.4L530.7 3052.7L556.2 3048.3L581.8 3044.1L607.5 3040.1L633.5 3036.4L659.6 3032.9L685.9 3029.7L712.3 3026.7L738.9 3024L765.7 3021.5L792.7 3019.3L819.8 3017.3L847.1 3015.6L874.5 3014.2L902.2 3013L929.9 3012.1L957.9 3011.5L986 3011.2L1014.2 3011.1L1042.7 3011.3L1071.2 3011.8L1100 3012.6L1128.9 3013.6L1157.9 3014.9L1187.1 3016.6L1216.5 3018.5L1246 3020.7L1275.7 3023.2L1305.5 3026L1335.4 3029.2L1365.5 3032.6L1395.8 3036.3L1426.2 3040.3M305.3 3163.9L329.4 3157.3L353.6 3150.9L378 3144.7L402.6 3138.7L427.3 3133L452.2 3127.5L477.3 3122.2L502.6 3117.2L528.1 3112.3L553.7 3107.7L579.5 3103.4L605.5 3099.3L631.6 3095.4L658 3091.7L684.5 3088.4L711.1 3085.2L738 3082.3L765 3079.7L792.2 3077.3L819.6 3075.2L847.1 3073.4L874.8 3071.8L902.7 3070.5L930.7 3069.4L958.9 3068.6L987.3 3068.1L1015.8 3067.9L1044.5 3067.9L1073.4 3068.3L1102.4 3068.9L1131.6 3069.8L1161 3071L1190.5 3072.4L1220.1 3074.2L1249.9 3076.3L1279.9 3078.6L1310.1 3081.3L1340.3 3084.3L1370.8 3087.5L1401.4 3091.1M277 3233L301.1 3226.1L325.3 3219.3L349.7 3212.8L374.2 3206.5L399 3200.4L423.9 3194.5L449 3188.9L474.3 3183.4L499.8 3178.2L525.4 3173.3L551.2 3168.5L577.2 3164L603.4 3159.8L629.8 3155.7L656.3 3151.9L683.1 3148.4L710 3145.1L737 3142.1L764.3 3139.3L791.7 3136.8L819.3 3134.5L847.1 3132.5L875.1 3130.8L903.2 3129.3L931.5 3128.1L960 3127.2L988.6 3126.5L1017.4 3126.1L1046.4 3126L1075.6 3126.2L1104.9 3126.6L1134.4 3127.4L1164 3128.4L1193.8 3129.8L1223.8 3131.4L1254 3133.3L1284.3 3135.5L1314.7 3138L1345.4 3140.8L1376.1 3144" fill="none" stroke="#1a1400" stroke-width="4.2" stroke-linejoin="round" stroke-linecap="round"/>
<text x="207.7" y="3429.5" font-size="56" textLength="60.8" lengthAdjust="spacingAndGlyphs" fill="#1a1a3a">86</text><text x="196.7" y="3299.8" font-size="56" textLength="60.8" lengthAdjust="spacingAndGlyphs" fill="#1a1a3a">88</text><text x="185.5" y="3166.7" font-size="56" textLength="60.5" lengthAdjust="spacingAndGlyphs" fill="#1a1a3a">90</text><text x="174" y="3030" font-size="56" textLength="61.4" lengthAdjust="spacingAndGlyphs" fill="#1a1a3a">92</text><text x="162.2" y="2889.6" font-size="56" textLength="60.2" lengthAdjust="spacingAndGlyphs" fill="#1a1a3a">94</text><text x="150" y="2745.3" font-size="56" textLength="60.8" lengthAdjust="spacingAndGlyphs" fill="#1a1a3a">96</text><text x="137.6" y="2597" font-size="56" textLength="60.8" lengthAdjust="spacingAndGlyphs" fill="#1a1a3a">98</text><text x="96.8" y="2444.5" font-size="56" textLength="88.5" lengthAdjust="spacingAndGlyphs" fill="#1a1a3a">100</text><text x="464.8" y="3520.6" font-size="56" textLength="60.2" lengthAdjust="spacingAndGlyphs" fill="#1a1a3a">50</text><text x="726.4" y="3583" font-size="56" textLength="60.5" lengthAdjust="spacingAndGlyphs" fill="#1a1a3a">55</text><text x="999" y="3648.2" font-size="56" textLength="60.8" lengthAdjust="spacingAndGlyphs" fill="#1a1a3a">60</text><text x="1284.6" y="3716.3" font-size="56" textLength="61.1" lengthAdjust="spacingAndGlyphs" fill="#1a1a3a">65</text><text x="1787.2" y="3174.1" font-size="56" textLength="88.5" lengthAdjust="spacingAndGlyphs" fill="#1a1a3a">100</text><text x="1745.3" y="3227.8" font-size="56" textLength="88.5" lengthAdjust="spacingAndGlyphs" fill="#1a1a3a">150</text><text x="1703" y="3283.8" font-size="56" textLength="87.1" lengthAdjust="spacingAndGlyphs" fill="#1a1a3a">200</text><text x="1657.4" y="3342.3" font-size="56" textLength="87.1" lengthAdjust="spacingAndGlyphs" fill="#1a1a3a">250</text><text x="1610.2" y="3403.4" font-size="56" textLength="86.6" lengthAdjust="spacingAndGlyphs" fill="#1a1a3a">300</text><text x="1560.3" y="3467.4" font-size="56" textLength="86.6" lengthAdjust="spacingAndGlyphs" fill="#1a1a3a">350</text><text x="1509.1" y="3534.3" font-size="56" textLength="85.5" lengthAdjust="spacingAndGlyphs" fill="#1a1a3a">400</text><text x="1454.3" y="3604.6" font-size="56" textLength="85.5" lengthAdjust="spacingAndGlyphs" fill="#1a1a3a">450</text><text x="1395.7" y="3678.3" font-size="56" textLength="86.6" lengthAdjust="spacingAndGlyphs" fill="#1a1a3a">500</text><text x="-217.2" y="16.2" font-size="63" textLength="435" lengthAdjust="spacingAndGlyphs" transform="translate(68 2927.5) rotate(-94.4)" fill="#1a1a3a">Conversion (%)</text><text x="-244.8" y="16.2" font-size="63" textLength="492.5" lengthAdjust="spacingAndGlyphs" transform="translate(703.4 3679.6) rotate(13.1)" fill="#1a1a3a">Temperature (°C)</text><text x="-279.7" y="16.2" font-size="63" textLength="560.1" lengthAdjust="spacingAndGlyphs" transform="translate(1762.9 3464.6) rotate(-51.6)" fill="#1a1a3a">Concentration (mM)</text>
<rect x="2042.3" y="2546.4" width="326.6" height="552.6" fill="#fff" stroke="#222" stroke-width="4.5"/><rect x="2078.3" y="2595.8" width="120.5" height="35.5" fill="#140080" stroke="#111" stroke-width="4"/><text x="2222.7" y="2632.9" font-size="56" textLength="58.1" lengthAdjust="spacingAndGlyphs" fill="#1a1a3a">86</text><rect x="2078.3" y="2661" width="120.5" height="35.5" fill="#0000b0" stroke="#111" stroke-width="4"/><text x="2222.7" y="2698.1" font-size="56" textLength="58.1" lengthAdjust="spacingAndGlyphs" fill="#1a1a3a">88</text><rect x="2078.3" y="2726.2" width="120.5" height="35.5" fill="#0000ff" stroke="#111" stroke-width="4"/><text x="2222.7" y="2763.3" font-size="56" textLength="57.8" lengthAdjust="spacingAndGlyphs" fill="#1a1a3a">90</text><rect x="2078.3" y="2791.4" width="120.5" height="35.5" fill="#008858" stroke="#111" stroke-width="4"/><text x="2222.6" y="2828.5" font-size="56" textLength="58.6" lengthAdjust="spacingAndGlyphs" fill="#1a1a3a">92</text><rect x="2078.3" y="2856.6" width="120.5" height="35.5" fill="#00dc00" stroke="#111" stroke-width="4"/><text x="2222.7" y="2893.7" font-size="56" textLength="57.5" lengthAdjust="spacingAndGlyphs" fill="#1a1a3a">94</text><rect x="2078.3" y="2921.8" width="120.5" height="35.5" fill="#ffff00" stroke="#111" stroke-width="4"/><text x="2222.7" y="2958.9" font-size="56" textLength="58.1" lengthAdjust="spacingAndGlyphs" fill="#1a1a3a">96</text><rect x="2078.3" y="2987" width="120.5" height="35.5" fill="#ffb000" stroke="#111" stroke-width="4"/><text x="2222.7" y="3024.1" font-size="56" textLength="58.1" lengthAdjust="spacingAndGlyphs" fill="#1a1a3a">98</text><rect x="2078.3" y="3052.2" width="120.5" height="35.5" fill="#ff5800" stroke="#111" stroke-width="4"/><text x="2221" y="3089.3" font-size="56" textLength="88" lengthAdjust="spacingAndGlyphs" fill="#1a1a3a">100</text>
<text x="1149.6" y="1849" font-size="86" text-anchor="middle" fill="#000" style="font-family:'Liberation Serif',serif">(<tspan font-weight="bold">A</tspan>)</text><text x="1149.6" y="3939" font-size="86" text-anchor="middle" fill="#000" style="font-family:'Liberation Serif',serif">(<tspan font-weight="bold">B</tspan>)</text>
</svg></body></html>
